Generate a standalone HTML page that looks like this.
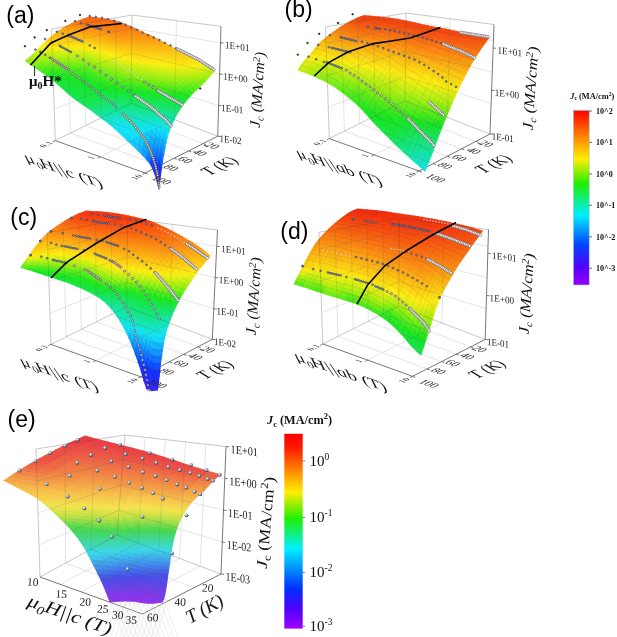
<!DOCTYPE html>
<html><head><meta charset="utf-8"><title>Jc surfaces</title>
<style>html,body{margin:0;padding:0;background:#fff}svg{display:block}</style></head>
<body><svg width="617" height="637" viewBox="0 0 617 637">
<rect width="617" height="637" fill="#fff"/>
<g opacity="1.00">
<line x1="54.2" y1="109.4" x2="131.3" y2="78.4" stroke="#d4d4d4" stroke-width="0.60"/>
<line x1="131.3" y1="78.4" x2="218.6" y2="105.4" stroke="#d4d4d4" stroke-width="0.60"/>
<line x1="53.2" y1="77.5" x2="131.6" y2="53.3" stroke="#d4d4d4" stroke-width="0.60"/>
<line x1="131.6" y1="53.3" x2="219.6" y2="74.1" stroke="#d4d4d4" stroke-width="0.60"/>
<line x1="52.1" y1="45.7" x2="131.8" y2="28.2" stroke="#d4d4d4" stroke-width="0.60"/>
<line x1="131.8" y1="28.2" x2="220.5" y2="42.8" stroke="#d4d4d4" stroke-width="0.60"/>
<line x1="70.4" y1="133.1" x2="67.6" y2="26.2" stroke="#d4d4d4" stroke-width="0.60"/>
<line x1="70.4" y1="133.1" x2="159.5" y2="165.6" stroke="#d4d4d4" stroke-width="0.60"/>
<line x1="85.6" y1="125.6" x2="83.7" y2="23.4" stroke="#d4d4d4" stroke-width="0.60"/>
<line x1="85.6" y1="125.6" x2="174.1" y2="158.3" stroke="#d4d4d4" stroke-width="0.60"/>
<line x1="100.7" y1="118.0" x2="99.8" y2="20.6" stroke="#d4d4d4" stroke-width="0.60"/>
<line x1="100.7" y1="118.0" x2="188.6" y2="150.9" stroke="#d4d4d4" stroke-width="0.60"/>
<line x1="115.9" y1="110.5" x2="115.9" y2="17.8" stroke="#d4d4d4" stroke-width="0.60"/>
<line x1="115.9" y1="110.5" x2="203.2" y2="143.6" stroke="#d4d4d4" stroke-width="0.60"/>
<line x1="174.3" y1="119.6" x2="176.5" y2="20.6" stroke="#d4d4d4" stroke-width="0.60"/>
<line x1="100.2" y1="156.8" x2="174.3" y2="119.6" stroke="#d4d4d4" stroke-width="0.60"/>
<line x1="55.3" y1="140.6" x2="51.5" y2="29.0" stroke="#b0b0b0" stroke-width="0.70"/>
<line x1="51.5" y1="29.0" x2="132.0" y2="15.0" stroke="#b0b0b0" stroke-width="0.70"/>
<line x1="132.0" y1="15.0" x2="221.0" y2="26.3" stroke="#b0b0b0" stroke-width="0.70"/>
<line x1="131.0" y1="103.0" x2="132.0" y2="15.0" stroke="#b0b0b0" stroke-width="0.70"/>
<line x1="55.3" y1="140.6" x2="131.0" y2="103.0" stroke="#b0b0b0" stroke-width="0.70"/>
<line x1="131.0" y1="103.0" x2="217.7" y2="136.2" stroke="#b0b0b0" stroke-width="0.70"/>
</g>
<line x1="55.3" y1="140.6" x2="145.0" y2="173.0" stroke="#555" stroke-width="0.80"/>
<line x1="145.0" y1="173.0" x2="217.7" y2="136.2" stroke="#555" stroke-width="0.80"/>
<line x1="217.7" y1="136.2" x2="221.0" y2="26.3" stroke="#555" stroke-width="0.80"/>
<g><path d="M24.7 61l6.1 4.3 2.3-2.4-6-3.9z" fill="#90ed15"/><path d="M30.1 64.8l6.2 4 2.2-2.7-6.1-3.7z" fill="#75ec18"/><path d="M35.6 68.3l6.1 4.1 2.1-3-6-3.7z" fill="#57ea1c"/><path d="M41 71.9l6.1 4.3 2-3.2-6-4z" fill="#36e820"/><path d="M46.4 75.7l5.9 4.5 2-3.5-5.9-4.2z" fill="#19e624"/><path d="M51.7 79.6l5.8 4.8 1.9-3.8-5.8-4.4z" fill="#19e632"/><path d="M56.8 83.8l5.6 5.1 1.9-4.1-5.6-4.7z" fill="#18e63b"/><path d="M61.8 88.3l5.6 5.2 1.8-4.3-5.6-4.9z" fill="#18e644"/><path d="M66.7 92.9l5.7 4.8 1.8-4.5-5.7-4.6z" fill="#18e64a"/><path d="M71.8 97.2l5.9 4.4 1.6-4.8-5.8-4.1z" fill="#18e64e"/><path d="M77 101l6 4.2 1.6-5-6-3.8z" fill="#18e651"/><path d="M82.3 104.7l6 4 1.5-5.2-5.9-3.7z" fill="#18e55b"/><path d="M87.6 108.2l5.9 4.4 1.4-5.4-5.8-4.2z" fill="#17e570"/><path d="M92.7 112l5.9 4.6 1.4-5.6-5.8-4.3z" fill="#17e58a"/><path d="M97.9 116l5.9 4.3 1.4-5.8-5.9-4z" fill="#16e5a5"/><path d="M103.1 119.8l5.8 4.3 1.3-6-5.8-4.1z" fill="#15e5c0"/><path d="M108.1 123.5l5.7 4.8 1.2-6.3-5.6-4.5z" fill="#15e4dc"/><path d="M113 127.7l5.6 5 1.2-6.5-5.5-4.8z" fill="#14e4f4"/><path d="M117.9 132.1l5.5 5.2 1.2-6.7-5.5-5z" fill="#14defa"/><path d="M122.7 136.6l5.5 5.3 1.2-6.9-5.5-5.1z" fill="#14d9fa"/><path d="M127.5 141.2l5.6 5.3 1.1-7.2-5.6-5z" fill="#14d4fa"/><path d="M132.3 145.8l5.5 5.2 1.1-7.4-5.5-5z" fill="#13c7fa"/><path d="M137.1 150.3l5.4 5.4 1-7.7-5.3-5.1z" fill="#13b3fa"/><path d="M141.8 155l5.2 5.6 1-8-5.2-5.3z" fill="#129bfa"/><path d="M146.2 159.7l4.7 6 1-8.2-4.7-5.7z" fill="#1173fa"/><path d="M150.2 164.7l3.9 7.7 1-8.6-3.9-7.4z" fill="#0f3ffa"/><path d="M153.4 171.2l3.3 9.9 1.1-8.8-3.2-9.6z" fill="#262bfa"/><path d="M156.2 180l2.9 10.9 1.1-8.9-2.9-10.6z" fill="#4022fa"/><path d="M26.4 59.6l6.1 3.9 2.3-2.4-6-3.6z" fill="#9bee14"/><path d="M31.8 63.1l6.1 3.7 2.3-2.7-6.1-3.4z" fill="#81ec17"/><path d="M37.2 66.3l6.1 3.8 2.2-2.9-6.1-3.5z" fill="#65eb1a"/><path d="M42.6 69.7l6 4 2.1-3.2-5.9-3.7z" fill="#44e91e"/><path d="M48 73.2l5.9 4.2 2-3.4-5.9-3.9z" fill="#25e722"/><path d="M53.2 76.9l5.8 4.5 1.9-3.6-5.7-4.3z" fill="#19e629"/><path d="M58.3 80.8l5.6 4.8 1.9-3.8-5.6-4.6z" fill="#19e632"/><path d="M63.3 85.1l5.5 4.9 1.9-4.1-5.5-4.7z" fill="#18e63a"/><path d="M68.1 89.4l5.7 4.6 1.8-4.3-5.6-4.3z" fill="#18e640"/><path d="M73.2 93.5l5.8 4.2 1.8-4.5-5.9-4z" fill="#18e643"/><path d="M78.3 97.2l6 3.9 1.7-4.7-6-3.7z" fill="#18e643"/><path d="M83.6 100.6l6 3.8 1.6-4.9-5.9-3.6z" fill="#18e649"/><path d="M88.8 103.9l5.9 4.1 1.6-5.1-5.8-3.9z" fill="#18e55c"/><path d="M94 107.5l5.8 4.3 1.5-5.3-5.8-4.1z" fill="#17e574"/><path d="M99.1 111.3l5.8 4.1 1.5-5.5-5.8-3.9z" fill="#17e58e"/><path d="M104.2 114.9l5.8 4.1 1.4-5.7-5.7-3.9z" fill="#16e5a8"/><path d="M109.2 118.4l5.6 4.6 1.4-5.9-5.5-4.3z" fill="#15e5c4"/><path d="M114.1 122.4l5.5 4.8 1.4-6.1-5.5-4.6z" fill="#15e4e1"/><path d="M118.9 126.5l5.5 5 1.3-6.3-5.4-4.8z" fill="#14e4f2"/><path d="M123.7 130.9l5.5 5 1.3-6.5-5.5-4.8z" fill="#14e4f8"/><path d="M128.5 135.3l5.5 4.9 1.2-6.7-5.5-4.7z" fill="#14e1fa"/><path d="M133.3 139.6l5.4 5 1.2-7-5.4-4.7z" fill="#14d7fa"/><path d="M138 143.9l5.4 5.2 1.1-7.2-5.3-4.9z" fill="#13c3fa"/><path d="M142.7 148.3l5.1 5.4 1.1-7.4-5.1-5.1z" fill="#12abfa"/><path d="M147.1 152.9l4.6 5.7 1.1-7.7-4.6-5.4z" fill="#128ffa"/><path d="M151 157.7l3.9 7.4 1.1-8.1-3.8-7.2z" fill="#1067fa"/><path d="M154.2 163.9l3.3 9.7 1.3-8.4-3.3-9.4z" fill="#0f39fa"/><path d="M157 172.4l2.9 10.7 1.3-8.5-2.9-10.4z" fill="#282afa"/><path d="M28.1 58.1l6.1 3.7 2.3-2.4-6-3.5z" fill="#a5ee14"/><path d="M33.5 61.3l6.1 3.5 2.3-2.7-6.1-3.2z" fill="#8fed15"/><path d="M38.9 64.4l6.1 3.5 2.2-2.9-6.1-3.3z" fill="#73ec19"/><path d="M44.3 67.5l6 3.7 2.1-3.1-6-3.5z" fill="#54ea1c"/><path d="M49.6 70.8l5.8 3.9 2.1-3.3-5.8-3.7z" fill="#36e820"/><path d="M54.8 74.3l5.7 4.2 2-3.6-5.7-4z" fill="#21e622"/><path d="M59.8 78l5.6 4.5 2-3.8-5.6-4.3z" fill="#19e627"/><path d="M64.8 82l5.5 4.7 1.9-4-5.5-4.5z" fill="#19e630"/><path d="M69.6 86.1l5.7 4.4 1.8-4.2-5.6-4.2z" fill="#19e637"/><path d="M74.6 90l5.9 4 1.7-4.5-5.8-3.7z" fill="#18e63a"/><path d="M79.7 93.5l6 3.7 1.7-4.6-5.9-3.5z" fill="#18e63a"/><path d="M85 96.7l5.9 3.6 1.7-4.8-5.9-3.3z" fill="#18e63f"/><path d="M90.2 99.8l5.8 4 1.6-5-5.7-3.7z" fill="#18e64d"/><path d="M95.3 103.3l5.8 4.1 1.6-5.2-5.8-3.9z" fill="#18e562"/><path d="M100.3 106.9l5.9 3.8 1.5-5.3-5.8-3.6z" fill="#17e578"/><path d="M105.5 110.3l5.7 3.9 1.5-5.5-5.7-3.8z" fill="#16e58f"/><path d="M110.4 113.6l5.6 4.4 1.5-5.7-5.6-4.1z" fill="#16e5a8"/><path d="M115.3 117.4l5.5 4.6 1.4-5.9-5.5-4.4z" fill="#15e4c4"/><path d="M120.1 121.4l5.4 4.8 1.4-6.2-5.4-4.5z" fill="#15e4da"/><path d="M124.8 125.5l5.5 4.9 1.3-6.4-5.4-4.6z" fill="#14e4e6"/><path d="M129.5 129.7l5.5 4.8 1.3-6.5-5.4-4.6z" fill="#14e4ef"/><path d="M134.3 133.8l5.5 4.8 1.2-6.7-5.4-4.5z" fill="#14e2fa"/><path d="M139 138l5.4 4.9 1.2-6.9-5.3-4.7z" fill="#13d0fa"/><path d="M143.6 142.2l5.2 5.1 1.2-7.1-5.1-4.9z" fill="#13b6fa"/><path d="M148.1 146.6l4.6 5.4 1.1-7.4-4.6-5.2z" fill="#129efa"/><path d="M151.9 151.1l3.9 7.2 1.2-7.8-3.8-7z" fill="#1184fa"/><path d="M155.2 157.1l3.3 9.4 1.3-8.1-3.3-9.1z" fill="#1060fa"/><path d="M157.9 165.3l2.9 10.4 1.4-8.2-2.9-10.2z" fill="#0f32fa"/><path d="M29.9 56.5l6 3.5 2.4-2.5-6-3.2z" fill="#afee14"/><path d="M35.2 59.6l6.1 3.2 2.3-2.7-6.1-3z" fill="#9dee14"/><path d="M40.6 62.4l6 3.3 2.2-2.9-6-3.1z" fill="#84ed17"/><path d="M45.9 65.3l6 3.5 2.1-3.1-5.9-3.3z" fill="#67eb1a"/><path d="M51.2 68.4l5.8 3.7 2.1-3.3-5.8-3.5z" fill="#4ae91d"/><path d="M56.3 71.6l5.8 4.1 2-3.6-5.7-3.8z" fill="#35e820"/><path d="M61.4 75.2l5.6 4.3 1.9-3.8-5.5-4.1z" fill="#24e722"/><path d="M66.3 78.9l5.5 4.5 1.9-3.9-5.4-4.3z" fill="#19e626"/><path d="M71.1 82.9l5.7 4.2 1.8-4.2-5.6-3.9z" fill="#19e62e"/><path d="M76.1 86.6l5.8 3.7 1.8-4.3-5.8-3.5z" fill="#19e633"/><path d="M81.2 89.9l5.9 3.5 1.8-4.5-5.9-3.3z" fill="#19e634"/><path d="M86.4 92.9l5.9 3.4 1.7-4.6-5.9-3.2z" fill="#19e637"/><path d="M91.6 95.9l5.7 3.7 1.7-4.8-5.7-3.5z" fill="#18e641"/><path d="M96.6 99.2l5.8 3.9 1.6-5-5.7-3.7z" fill="#18e651"/><path d="M101.7 102.6l5.8 3.7 1.5-5.2-5.7-3.5z" fill="#18e563"/><path d="M106.7 105.8l5.7 3.7 1.5-5.3-5.6-3.5z" fill="#17e577"/><path d="M111.7 109l5.5 4.1 1.5-5.5-5.5-3.9z" fill="#17e58c"/><path d="M116.5 112.6l5.5 4.4 1.4-5.7-5.4-4.2z" fill="#16e5a4"/><path d="M121.2 116.4l5.5 4.6 1.4-5.9-5.4-4.4z" fill="#15e5bb"/><path d="M125.9 120.4l5.5 4.6 1.4-6.1-5.4-4.4z" fill="#15e4cd"/><path d="M130.7 124.4l5.4 4.5 1.4-6.2-5.5-4.4z" fill="#15e4db"/><path d="M135.4 128.3l5.4 4.6 1.3-6.5-5.4-4.3z" fill="#14e4ea"/><path d="M140.1 132.2l5.3 4.7 1.3-6.6-5.3-4.5z" fill="#14e0fa"/><path d="M144.7 136.3l5.1 4.9 1.2-6.8-5.1-4.7z" fill="#13c8fa"/><path d="M149.1 140.5l4.5 5.2 1.3-7.1-4.6-5z" fill="#12aefa"/><path d="M152.9 144.8l3.9 7 1.3-7.5-3.9-6.7z" fill="#129afa"/><path d="M156.2 150.6l3.2 9.1 1.4-7.8-3.3-8.8z" fill="#1180fa"/><path d="M158.9 158.5l2.9 10.2 1.4-8-2.9-9.9z" fill="#1059fa"/><path d="M31.6 54.9l6.1 3.3 2.3-2.6-6-2.9z" fill="#baee14"/><path d="M36.9 57.8l6.1 3 2.3-2.8-6.1-2.7z" fill="#a9ee14"/><path d="M42.2 60.4l6.1 3.1 2.2-2.9-6-2.9z" fill="#95ee15"/><path d="M47.6 63.1l5.9 3.3 2.2-3.2-6-3z" fill="#7bec18"/><path d="M52.8 66l5.9 3.5 2-3.3-5.8-3.4z" fill="#61ea1b"/><path d="M58 69l5.7 3.8 2-3.5-5.7-3.6z" fill="#4be91d"/><path d="M63 72.4l5.5 4.1 2-3.8-5.5-3.9z" fill="#37e820"/><path d="M67.9 76l5.4 4.2 2-3.9-5.5-4.1z" fill="#25e722"/><path d="M72.7 79.7l5.6 4 1.9-4.1-5.6-3.8z" fill="#19e625"/><path d="M77.6 83.2l5.8 3.6 1.8-4.2-5.8-3.4z" fill="#19e62b"/><path d="M82.6 86.4l5.9 3.3 1.8-4.4-5.8-3.2z" fill="#19e62e"/><path d="M87.8 89.3l5.9 3.2 1.7-4.6-5.8-3z" fill="#19e630"/><path d="M93 92.1l5.7 3.5 1.7-4.7-5.7-3.4z" fill="#19e636"/><path d="M98 95.2l5.7 3.7 1.7-4.9-5.7-3.5z" fill="#18e642"/><path d="M103 98.4l5.8 3.5 1.6-5-5.8-3.3z" fill="#18e650"/><path d="M108 101.5l5.7 3.6 1.5-5.2-5.6-3.4z" fill="#18e560"/><path d="M113 104.6l5.5 3.9 1.5-5.3-5.5-3.8z" fill="#17e572"/><path d="M117.7 108l5.5 4.2 1.5-5.5-5.4-4.1z" fill="#17e587"/><path d="M122.5 111.6l5.3 4.4 1.5-5.7-5.4-4.2z" fill="#16e59d"/><path d="M127.1 115.4l5.4 4.4 1.5-5.9-5.4-4.2z" fill="#16e5b0"/><path d="M131.8 119.2l5.5 4.4 1.3-6.1-5.4-4.1z" fill="#15e5c1"/><path d="M136.5 123l5.4 4.4 1.4-6.3-5.4-4.1z" fill="#15e4d2"/><path d="M141.2 126.8l5.3 4.5 1.3-6.4-5.3-4.4z" fill="#14e4e7"/><path d="M145.8 130.6l5 4.7 1.3-6.6-5-4.5z" fill="#14defa"/><path d="M150.1 134.6l4.6 5.1 1.3-6.9-4.6-4.8z" fill="#13c8fa"/><path d="M154 138.8l3.8 6.8 1.3-7.3-3.8-6.5z" fill="#13b2fa"/><path d="M157.2 144.4l3.3 8.8 1.4-7.5-3.3-8.6z" fill="#129bfa"/><path d="M159.9 152l2.9 9.9 1.5-7.8-2.9-9.6z" fill="#117bfa"/><path d="M33.4 53.3l6 3 2.3-2.6-5.9-2.7z" fill="#c6ee14"/><path d="M38.6 55.9l6.1 2.8 2.3-2.7-6.1-2.6z" fill="#b7ee14"/><path d="M43.9 58.4l6.1 2.8 2.2-2.9-6-2.7z" fill="#a6ee14"/><path d="M49.2 60.9l6 3 2.1-3.1-5.9-2.9z" fill="#91ed15"/><path d="M54.4 63.5l5.9 3.4 2.1-3.3-5.8-3.2z" fill="#78ec18"/><path d="M59.6 66.4l5.7 3.6 2-3.5-5.7-3.4z" fill="#61ea1b"/><path d="M64.6 69.6l5.5 3.9 2-3.7-5.5-3.7z" fill="#4ce91d"/><path d="M69.4 73l5.5 4.1 1.9-3.9-5.4-3.9z" fill="#37e820"/><path d="M74.2 76.6l5.6 3.8 1.9-4-5.6-3.7z" fill="#25e722"/><path d="M79.1 79.9l5.8 3.4 1.8-4.1-5.7-3.3z" fill="#19e624"/><path d="M84.1 82.9l5.9 3.2 1.8-4.4-5.8-2.9z" fill="#19e627"/><path d="M89.3 85.7l5.8 3 1.8-4.5-5.8-2.8z" fill="#19e627"/><path d="M94.4 88.3l5.7 3.4 1.7-4.6-5.6-3.3z" fill="#19e62b"/><path d="M99.4 91.3l5.7 3.5 1.7-4.7-5.7-3.4z" fill="#19e633"/><path d="M104.4 94.4l5.7 3.3 1.6-4.9-5.7-3.2z" fill="#18e63e"/><path d="M109.4 97.3l5.6 3.4 1.6-5-5.6-3.3z" fill="#18e64b"/><path d="M114.2 100.2l5.5 3.8 1.6-5.2-5.4-3.6z" fill="#18e55a"/><path d="M119 103.5l5.4 4 1.6-5.3-5.4-3.9z" fill="#17e56c"/><path d="M123.7 107l5.4 4.2 1.5-5.6-5.4-4z" fill="#17e580"/><path d="M128.3 110.6l5.4 4.2 1.5-5.7-5.3-4z" fill="#16e593"/><path d="M133 114.3l5.4 4.1 1.5-5.8-5.4-4z" fill="#16e5a5"/><path d="M137.7 117.9l5.4 4.1 1.4-6-5.4-4z" fill="#16e5b7"/><path d="M142.3 121.5l5.3 4.3 1.4-6.2-5.3-4.1z" fill="#15e4cb"/><path d="M146.9 125.2l5 4.5 1.4-6.4-5-4.3z" fill="#15e4e4"/><path d="M151.2 129l4.5 4.9 1.4-6.6-4.5-4.7z" fill="#14e2fa"/><path d="M155.1 133.1l3.8 6.4 1.4-7-3.9-6.2z" fill="#13cefa"/><path d="M158.3 138.4l3.2 8.6 1.5-7.4-3.3-8.2z" fill="#13b7fa"/><path d="M161 145.7l2.9 9.7 1.6-7.6-3-9.4z" fill="#1299fa"/><path d="M35.1 51.6l6 2.8 2.4-2.6-6-2.6z" fill="#d3ee14"/><path d="M40.3 54l6.1 2.6 2.3-2.8-6-2.4z" fill="#c5ee14"/><path d="M45.6 56.3l6.1 2.7 2.2-3-6-2.5z" fill="#b6ee14"/><path d="M50.9 58.6l5.9 2.9 2.2-3.1-5.9-2.7z" fill="#a4ee14"/><path d="M56.1 61.1l5.8 3.2 2.2-3.3-5.8-3z" fill="#90ed15"/><path d="M61.2 63.8l5.7 3.5 2.1-3.5-5.7-3.2z" fill="#79ec18"/><path d="M66.2 66.8l5.5 3.7 2-3.6-5.4-3.5z" fill="#61ea1b"/><path d="M71 70.1l5.4 3.9 2.1-3.8-5.5-3.7z" fill="#4be91d"/><path d="M75.8 73.5l5.5 3.6 2-3.9-5.5-3.5z" fill="#36e820"/><path d="M80.6 76.7l5.8 3.2 1.9-4-5.7-3.1z" fill="#26e722"/><path d="M85.6 79.5l5.9 3 1.9-4.1-5.9-2.9z" fill="#21e622"/><path d="M90.7 82.1l5.9 2.9 1.8-4.2-5.8-2.8z" fill="#23e722"/><path d="M95.8 84.6l5.7 3.3 1.8-4.4-5.6-3.1z" fill="#20e622"/><path d="M100.8 87.4l5.7 3.5 1.8-4.6-5.7-3.2z" fill="#19e624"/><path d="M105.7 90.4l5.8 3.2 1.7-4.6-5.7-3.1z" fill="#19e62c"/><path d="M110.7 93.2l5.6 3.3 1.7-4.8-5.5-3.1z" fill="#19e636"/><path d="M115.6 96l5.4 3.6 1.7-4.8-5.4-3.5z" fill="#18e643"/><path d="M120.3 99.2l5.4 3.8 1.6-5-5.3-3.7z" fill="#18e654"/><path d="M125 102.5l5.3 4 1.6-5.2-5.3-3.8z" fill="#17e566"/><path d="M129.6 106l5.4 4 1.5-5.3-5.3-3.9z" fill="#17e578"/><path d="M134.3 109.5l5.3 4 1.6-5.5-5.4-3.8z" fill="#17e589"/><path d="M138.9 112.9l5.3 4 1.6-5.5-5.3-3.9z" fill="#16e59a"/><path d="M143.5 116.4l5.3 4.1 1.4-5.7-5.2-4z" fill="#16e5ac"/><path d="M148 119.9l5.1 4.4 1.4-5.9-5-4.2z" fill="#15e5c2"/><path d="M152.4 123.6l4.5 4.7 1.4-6.1-4.5-4.5z" fill="#15e4da"/><path d="M156.2 127.5l3.8 6.2 1.5-6.5-3.8-5.9z" fill="#14e4f3"/><path d="M159.4 132.6l3.3 8.3 1.5-6.8-3.2-8z" fill="#13d2fa"/><path d="M162.1 139.7l3 9.4 1.6-7.1-2.9-9.1z" fill="#13b6fa"/><path d="M36.9 49.8l6 2.6 2.4-2.6-6-2.4z" fill="#e1ee14"/><path d="M42.1 52.1l6.1 2.4 2.3-2.7-6-2.3z" fill="#d4ee14"/><path d="M47.4 54.2l6 2.5 2.3-2.9-6-2.4z" fill="#c6ee14"/><path d="M52.6 56.4l5.9 2.7 2.3-3.1-5.9-2.5z" fill="#b6ee14"/><path d="M57.8 58.7l5.8 3 2.2-3.2-5.8-2.8z" fill="#a5ee14"/><path d="M62.8 61.3l5.7 3.2 2.2-3.3-5.7-3.1z" fill="#90ed15"/><path d="M67.8 64.1l5.5 3.6 2.1-3.5-5.4-3.4z" fill="#78ec18"/><path d="M72.6 67.2l5.5 3.7 2-3.6-5.4-3.6z" fill="#5fea1b"/><path d="M77.4 70.5l5.5 3.5 2.1-3.8-5.6-3.3z" fill="#49e91d"/><path d="M82.2 73.5l5.7 3.2 2-3.9-5.7-3z" fill="#39e81f"/><path d="M87.2 76.3l5.8 2.8 2-3.9-5.8-2.8z" fill="#34e820"/><path d="M92.2 78.8l5.9 2.7 1.9-4-5.8-2.7z" fill="#36e820"/><path d="M97.3 81.2l5.7 3.1 1.9-4.2-5.6-3z" fill="#34e820"/><path d="M102.3 83.9l5.6 3.2 1.9-4.2-5.6-3.2z" fill="#2de721"/><path d="M107.2 86.7l5.7 3.1 1.8-4.4-5.6-2.9z" fill="#24e722"/><path d="M112.1 89.4l5.6 3.1 1.8-4.4-5.5-3.1z" fill="#19e624"/><path d="M117 92.1l5.4 3.5 1.8-4.6-5.4-3.3z" fill="#19e62f"/><path d="M121.7 95.1l5.3 3.7 1.8-4.7-5.3-3.6z" fill="#18e63d"/><path d="M126.3 98.3l5.3 3.9 1.8-4.8-5.3-3.8z" fill="#18e64e"/><path d="M130.9 101.7l5.4 3.9 1.7-5-5.3-3.7z" fill="#18e55f"/><path d="M135.6 105l5.3 3.9 1.7-5.1-5.4-3.7z" fill="#17e56f"/><path d="M140.2 108.4l5.3 3.8 1.6-5.2-5.2-3.7z" fill="#17e57e"/><path d="M144.8 111.7l5.2 4 1.6-5.3-5.2-3.9z" fill="#17e58e"/><path d="M149.3 115.1l5 4.2 1.6-5.5-5-4z" fill="#16e5a1"/><path d="M153.6 118.7l4.5 4.4 1.6-5.6-4.5-4.3z" fill="#16e5b7"/><path d="M157.4 122.4l3.8 6 1.6-6-3.8-5.8z" fill="#15e4d1"/><path d="M160.6 127.4l3.3 8 1.7-6.4-3.3-7.8z" fill="#14e4f0"/><path d="M163.4 134.2l2.9 9.1 1.7-6.7-2.9-8.8z" fill="#13d0fa"/><path d="M38.7 48l6 2.5 2.5-2.7-6-2.2z" fill="#f0ee14"/><path d="M43.8 50.2l6.1 2.2 2.5-2.8-6.1-2.1z" fill="#e4ee14"/><path d="M49.1 52.1l6 2.4 2.4-2.9-6-2.3z" fill="#d7ee14"/><path d="M54.3 54.1l6 2.6 2.3-3-5.9-2.4z" fill="#c8ee14"/><path d="M59.5 56.4l5.8 2.8 2.3-3.2-5.8-2.7z" fill="#b7ee14"/><path d="M64.5 58.8l5.7 3.1 2.3-3.3-5.7-2.9z" fill="#a5ee14"/><path d="M69.5 61.5l5.5 3.4 2.2-3.4-5.5-3.3z" fill="#8eed15"/><path d="M74.3 64.5l5.4 3.6 2.2-3.6-5.4-3.5z" fill="#75ec18"/><path d="M79 67.6l5.6 3.4 2.1-3.7-5.5-3.2z" fill="#60ea1b"/><path d="M83.8 70.6l5.7 2.9 2.1-3.7-5.6-2.9z" fill="#51e91c"/><path d="M88.8 73.2l5.8 2.7 2.1-3.8-5.8-2.7z" fill="#4ce91d"/><path d="M93.8 75.6l5.8 2.6 2.1-3.9-5.8-2.6z" fill="#4ce91d"/><path d="M98.9 77.9l5.6 3 2.1-4.1-5.7-2.8z" fill="#4ae91d"/><path d="M103.8 80.5l5.6 3.1 2-4.1-5.6-3z" fill="#44e91e"/><path d="M108.7 83.2l5.7 3 1.9-4.2-5.6-2.9z" fill="#3be81f"/><path d="M113.6 85.8l5.6 3.1 1.9-4.3-5.5-3z" fill="#32e820"/><path d="M118.4 88.4l5.5 3.4 1.8-4.4-5.3-3.2z" fill="#24e722"/><path d="M123.1 91.3l5.4 3.6 1.8-4.4-5.3-3.5z" fill="#19e629"/><path d="M127.8 94.4l5.3 3.8 1.8-4.6-5.3-3.6z" fill="#19e638"/><path d="M132.3 97.7l5.4 3.7 1.8-4.7-5.3-3.6z" fill="#18e647"/><path d="M137 100.9l5.3 3.7 1.8-4.8-5.3-3.5z" fill="#18e656"/><path d="M141.6 104.1l5.3 3.8 1.7-5-5.2-3.6z" fill="#17e565"/><path d="M146.1 107.3l5.2 3.9 1.8-5-5.2-3.8z" fill="#17e574"/><path d="M150.6 110.7l5 4 1.7-5.2-4.9-3.9z" fill="#17e584"/><path d="M154.9 114.1l4.5 4.3 1.7-5.3-4.4-4.2z" fill="#16e598"/><path d="M158.7 117.7l3.8 5.7 1.8-5.6-3.8-5.5z" fill="#16e5b1"/><path d="M161.9 122.5l3.3 7.8 1.8-6.1-3.3-7.5z" fill="#15e4d1"/><path d="M164.7 129l2.9 8.9 1.9-6.4-2.9-8.5z" fill="#14e4f6"/><path d="M40.5 46.2l6 2.3 2.6-2.7-6-2.2z" fill="#fcec14"/><path d="M45.7 48.2l6.1 2.1 2.5-2.8-6.1-2z" fill="#f5ee14"/><path d="M50.9 50l6.1 2.3 2.5-3-6.1-2.1z" fill="#e9ee14"/><path d="M56.1 51.9l6 2.5 2.4-3-5.9-2.4z" fill="#dbee14"/><path d="M61.3 54l5.8 2.7 2.4-3.1-5.8-2.6z" fill="#caee14"/><path d="M66.3 56.3l5.7 3 2.4-3.2-5.7-2.8z" fill="#b7ee14"/><path d="M71.2 58.9l5.5 3.3 2.4-3.3-5.5-3.2z" fill="#a3ee14"/><path d="M76 61.7l5.4 3.5 2.4-3.4-5.4-3.3z" fill="#8ced16"/><path d="M80.7 64.8l5.6 3.2 2.3-3.4-5.6-3.2z" fill="#77ec18"/><path d="M85.5 67.6l5.7 2.9 2.3-3.5-5.7-2.8z" fill="#6beb1a"/><path d="M90.5 70.2l5.8 2.6 2.2-3.6-5.8-2.6z" fill="#66eb1a"/><path d="M95.5 72.5l5.8 2.5 2.2-3.6-5.8-2.5z" fill="#65eb1a"/><path d="M100.5 74.7l5.7 2.9 2.2-3.7-5.7-2.9z" fill="#62ea1b"/><path d="M105.4 77.2l5.6 3.1 2.2-3.8-5.6-3z" fill="#5bea1b"/><path d="M110.3 79.9l5.6 2.9 2.2-3.9-5.6-2.8z" fill="#52ea1c"/><path d="M115.2 82.4l5.5 3 2.1-3.9-5.5-3z" fill="#49e91d"/><path d="M120 84.9l5.4 3.3 2.1-4-5.4-3.2z" fill="#3de81f"/><path d="M124.7 87.7l5.3 3.5 2-4-5.2-3.4z" fill="#2ce721"/><path d="M129.3 90.8l5.2 3.6 2.1-4.2-5.3-3.5z" fill="#19e624"/><path d="M133.8 93.9l5.3 3.6 2.1-4.2-5.3-3.5z" fill="#19e632"/><path d="M138.4 97l5.3 3.6 2-4.3-5.2-3.5z" fill="#18e640"/><path d="M143 100.1l5.3 3.6 2-4.3-5.3-3.5z" fill="#18e64e"/><path d="M147.6 103.3l5.2 3.7 1.9-4.5-5.1-3.6z" fill="#18e55c"/><path d="M152.1 106.5l4.9 3.8 2-4.5-5-3.8z" fill="#17e56c"/><path d="M156.3 109.8l4.5 4.1 1.9-4.7-4.4-4z" fill="#17e57e"/><path d="M160.1 113.3l3.8 5.5 2-5-3.8-5.3z" fill="#16e595"/><path d="M163.3 117.9l3.3 7.4 2.1-5.3-3.3-7.2z" fill="#16e5b4"/><path d="M166.1 124.2l3 8.6 2.1-5.8-3-8.2z" fill="#15e4d9"/><path d="M42.5 44.3l6 2.2 2.7-2.8-6-2z" fill="#fce214"/><path d="M47.6 46.2l6.1 2 2.6-2.9-6-1.9z" fill="#fce814"/><path d="M52.8 47.9l6.1 2.1 2.6-2.9-6-2z" fill="#fcee14"/><path d="M58 49.7l6 2.3 2.5-3-5.9-2.2z" fill="#eeee14"/><path d="M63.2 51.7l5.8 2.6 2.5-3.1-5.8-2.5z" fill="#ddee14"/><path d="M68.2 53.9l5.6 2.9 2.6-3.2-5.7-2.7z" fill="#caee14"/><path d="M73.1 56.4l5.5 3.2 2.5-3.3-5.5-3.1z" fill="#b5ee14"/><path d="M77.9 59.1l5.4 3.4 2.4-3.3-5.4-3.3z" fill="#a1ee14"/><path d="M82.6 62.1l5.5 3.1 2.4-3.3-5.5-3.1z" fill="#8fed15"/><path d="M87.3 64.8l5.7 2.9 2.4-3.5-5.6-2.7z" fill="#85ed17"/><path d="M92.2 67.3l5.8 2.6 2.4-3.5-5.7-2.5z" fill="#81ec17"/><path d="M97.3 69.6l5.7 2.5 2.4-3.5-5.7-2.5z" fill="#7eec17"/><path d="M102.3 71.7l5.6 2.9 2.4-3.6-5.7-2.8z" fill="#7aec18"/><path d="M107.2 74.2l5.6 3 2.3-3.6-5.6-3z" fill="#72eb19"/><path d="M112 76.8l5.7 2.9 2.3-3.7-5.7-2.8z" fill="#69eb1a"/><path d="M116.9 79.3l5.5 2.9 2.3-3.7-5.5-2.9z" fill="#60ea1b"/><path d="M121.7 81.8l5.4 3.2 2.2-3.8-5.3-3.1z" fill="#55ea1c"/><path d="M126.3 84.5l5.3 3.4 2.3-3.8-5.3-3.3z" fill="#45e91e"/><path d="M130.9 87.5l5.3 3.5 2.2-3.9-5.2-3.4z" fill="#33e820"/><path d="M135.5 90.5l5.3 3.6 2.2-4-5.3-3.5z" fill="#1fe622"/><path d="M140.1 93.6l5.3 3.5 2.1-4-5.2-3.4z" fill="#19e62c"/><path d="M144.7 96.6l5.2 3.5 2.2-4-5.3-3.5z" fill="#18e639"/><path d="M149.2 99.6l5.1 3.7 2.2-4.2-5.1-3.5z" fill="#18e647"/><path d="M153.7 102.8l4.9 3.7 2.1-4.2-4.9-3.7z" fill="#18e656"/><path d="M157.9 106l4.5 4 2.1-4.3-4.4-3.9z" fill="#17e567"/><path d="M161.7 109.4l3.8 5.3 2.1-4.6-3.7-5.1z" fill="#17e57c"/><path d="M164.9 113.8l3.3 7.2 2.2-4.9-3.2-6.9z" fill="#16e599"/><path d="M167.7 120l3 8.2 2.3-5.3-3-7.9z" fill="#15e5be"/><path d="M44.5 42.3l6 2.1 2.9-2.9-6.1-1.9z" fill="#fcd714"/><path d="M49.6 44.1l6.1 1.9 2.8-2.9-6-1.8z" fill="#fcdc14"/><path d="M54.8 45.7l6.1 2.1 2.8-3-6.1-2z" fill="#fce314"/><path d="M60 47.5l6 2.2 2.7-3.1-5.9-2.1z" fill="#fceb14"/><path d="M65.1 49.4l5.8 2.5 2.8-3.1-5.8-2.5z" fill="#f1ee14"/><path d="M70.1 51.5l5.7 2.8 2.7-3.2-5.6-2.7z" fill="#ddee14"/><path d="M75.1 53.9l5.5 3.1 2.6-3.3-5.5-3z" fill="#c9ee14"/><path d="M79.8 56.6l5.4 3.3 2.7-3.4-5.4-3.2z" fill="#b5ee14"/><path d="M84.5 59.4l5.5 3.1 2.7-3.4-5.6-3z" fill="#a7ee14"/><path d="M89.3 62.1l5.6 2.8 2.7-3.4-5.7-2.8z" fill="#a0ee14"/><path d="M94.2 64.6l5.7 2.5 2.6-3.4-5.7-2.6z" fill="#9cee14"/><path d="M99.2 66.8l5.7 2.5 2.6-3.5-5.7-2.5z" fill="#99ee14"/><path d="M104.2 68.9l5.6 2.8 2.5-3.5-5.6-2.8z" fill="#94ee15"/><path d="M109 71.3l5.6 3 2.6-3.6-5.6-2.9z" fill="#8bed16"/><path d="M113.9 73.9l5.6 2.8 2.5-3.6-5.6-2.8z" fill="#81ec17"/><path d="M118.7 76.3l5.5 2.9 2.5-3.6-5.5-2.9z" fill="#78ec18"/><path d="M123.5 78.8l5.4 3.1 2.4-3.6-5.3-3.1z" fill="#6deb19"/><path d="M128.1 81.5l5.3 3.3 2.5-3.7-5.3-3.3z" fill="#5fea1b"/><path d="M132.7 84.4l5.3 3.4 2.4-3.7-5.2-3.4z" fill="#4de91d"/><path d="M137.3 87.4l5.2 3.4 2.5-3.8-5.3-3.4z" fill="#3ae81f"/><path d="M141.8 90.4l5.3 3.4 2.4-3.9-5.3-3.3z" fill="#28e721"/><path d="M146.4 93.3l5.2 3.5 2.4-4-5.2-3.3z" fill="#19e626"/><path d="M150.9 96.3l5.2 3.6 2.3-4.1-5.1-3.4z" fill="#19e633"/><path d="M155.4 99.4l4.9 3.7 2.4-4.1-4.9-3.6z" fill="#18e642"/><path d="M159.7 102.5l4.4 3.9 2.3-4.1-4.4-3.9z" fill="#18e651"/><path d="M163.5 105.8l3.7 5.1 2.4-4.4-3.8-4.9z" fill="#17e565"/><path d="M166.7 110.1l3.3 6.9 2.4-4.7-3.3-6.6z" fill="#17e581"/><path d="M169.5 116l3 7.9 2.5-5.1-3-7.6z" fill="#16e5a4"/><path d="M46.6 40.2l6.1 2 3-2.9-6-1.8z" fill="#fccc14"/><path d="M51.8 41.9l6.1 1.9 3-3-6.1-1.7z" fill="#fcd014"/><path d="M57 43.5l6 2 3-3.1-6-1.8z" fill="#fcd814"/><path d="M62.1 45.1l6 2.2 3-3.1-6-2.1z" fill="#fce014"/><path d="M67.3 47l5.8 2.4 2.9-3.1-5.8-2.4z" fill="#fce914"/><path d="M72.3 49.1l5.6 2.7 2.9-3.2-5.6-2.7z" fill="#f1ee14"/><path d="M77.2 51.4l5.5 3 2.8-3.3-5.4-2.9z" fill="#ddee14"/><path d="M81.9 54l5.4 3.2 2.9-3.4-5.4-3.1z" fill="#cbee14"/><path d="M86.6 56.7l5.5 3.1 2.9-3.4-5.6-3z" fill="#bfee14"/><path d="M91.4 59.4l5.6 2.8 2.8-3.5-5.6-2.7z" fill="#b8ee14"/><path d="M96.2 61.8l5.8 2.5 2.8-3.4-5.7-2.6z" fill="#b4ee14"/><path d="M101.2 64l5.8 2.4 2.8-3.4-5.8-2.5z" fill="#b1ee14"/><path d="M106.2 66.1l5.6 2.7 2.8-3.5-5.6-2.7z" fill="#abee14"/><path d="M111.1 68.4l5.6 3 2.7-3.6-5.6-2.9z" fill="#a3ee14"/><path d="M115.9 71l5.6 2.8 2.7-3.6-5.6-2.8z" fill="#9aee14"/><path d="M120.7 73.4l5.5 2.9 2.7-3.6-5.4-2.9z" fill="#92ed15"/><path d="M125.5 75.9l5.3 3.1 2.7-3.6-5.3-3.1z" fill="#87ed16"/><path d="M130.1 78.5l5.3 3.3 2.7-3.6-5.3-3.3z" fill="#79ec18"/><path d="M134.7 81.4l5.2 3.4 2.7-3.8-5.3-3.3z" fill="#68eb1a"/><path d="M139.2 84.3l5.3 3.4 2.6-3.8-5.2-3.3z" fill="#55ea1c"/><path d="M143.8 87.3l5.3 3.3 2.6-3.8-5.3-3.3z" fill="#43e91e"/><path d="M148.4 90.2l5.2 3.3 2.6-3.8-5.2-3.4z" fill="#31e720"/><path d="M152.9 93.1l5.1 3.5 2.6-4-5.1-3.4z" fill="#1ee622"/><path d="M157.3 96.1l4.9 3.6 2.6-4-4.9-3.6z" fill="#19e62e"/><path d="M161.6 99.2l4.4 3.8 2.5-4.1-4.4-3.7z" fill="#18e63d"/><path d="M165.4 102.4l3.7 4.9 2.6-4.3-3.7-4.8z" fill="#18e64f"/><path d="M168.6 106.6l3.3 6.6 2.6-4.7-3.3-6.3z" fill="#17e569"/><path d="M171.5 112.2l2.9 7.6 2.7-5.1-3-7.2z" fill="#17e58a"/><path d="M48.9 38.1l6.1 1.9 3.3-2.8-6.1-1.8z" fill="#fcc314"/><path d="M54.1 39.7l6.1 1.8 3.2-2.9-6.1-1.7z" fill="#fcc714"/><path d="M59.3 41.2l6 1.9 3.2-3-6-1.8z" fill="#fccf14"/><path d="M64.4 42.8l6 2.1 3.2-3.1-6-2z" fill="#fcd614"/><path d="M69.6 44.6l5.8 2.3 3.1-3.1-5.8-2.3z" fill="#fcde14"/><path d="M74.6 46.6l5.6 2.6 3.1-3.2-5.7-2.5z" fill="#fce914"/><path d="M79.5 48.8l5.5 2.9 3-3.2-5.5-2.9z" fill="#f2ee14"/><path d="M84.2 51.3l5.4 3.2 3-3.3-5.4-3.1z" fill="#e2ee14"/><path d="M88.9 54l5.5 3 3-3.3-5.5-3z" fill="#d9ee14"/><path d="M93.6 56.7l5.7 2.7 3-3.4-5.7-2.7z" fill="#d2ee14"/><path d="M98.5 59l5.8 2.5 2.9-3.4-5.7-2.5z" fill="#ceee14"/><path d="M103.4 61.2l5.8 2.4 3-3.4-5.8-2.4z" fill="#c9ee14"/><path d="M108.4 63.3l5.6 2.7 3-3.5-5.6-2.7z" fill="#c2ee14"/><path d="M113.3 65.6l5.5 2.9 3-3.5-5.6-2.9z" fill="#b9ee14"/><path d="M118.1 68.1l5.6 2.8 2.9-3.5-5.6-2.8z" fill="#b1ee14"/><path d="M122.9 70.5l5.5 2.9 2.9-3.5-5.5-2.9z" fill="#a9ee14"/><path d="M127.6 73l5.4 3 2.8-3.5-5.3-3z" fill="#a1ee14"/><path d="M132.3 75.6l5.2 3.2 2.9-3.5-5.3-3.2z" fill="#94ee15"/><path d="M136.8 78.4l5.3 3.3 2.8-3.6-5.2-3.3z" fill="#83ec17"/><path d="M141.4 81.3l5.2 3.3 2.8-3.6-5.2-3.3z" fill="#70eb19"/><path d="M145.9 84.2l5.3 3.3 2.8-3.7-5.3-3.3z" fill="#5eea1b"/><path d="M150.5 87l5.2 3.4 2.7-3.8-5.2-3.3z" fill="#4ce91d"/><path d="M155 89.9l5.1 3.4 2.8-3.8-5.2-3.4z" fill="#3ae81f"/><path d="M159.4 92.8l4.9 3.6 2.8-3.9-4.9-3.5z" fill="#26e721"/><path d="M163.7 95.9l4.4 3.7 2.7-4-4.4-3.6z" fill="#19e629"/><path d="M167.5 99l3.7 4.8 2.8-4.2-3.8-4.6z" fill="#18e63a"/><path d="M170.7 103l3.3 6.3 2.8-4.5-3.3-6z" fill="#18e653"/><path d="M173.6 108.4l3 7.2 2.9-4.9-3.1-6.8z" fill="#17e571"/><path d="M51.4 36l6.1 1.8 3.4-2.8-6.1-1.7z" fill="#fcbb14"/><path d="M56.5 37.5l6.2 1.7 3.4-2.8-6.2-1.7z" fill="#fcc014"/><path d="M61.7 38.9l6.1 1.9 3.4-3-6.1-1.7z" fill="#fcc514"/><path d="M66.9 40.5l6 2 3.3-3-6-1.9z" fill="#fccb14"/><path d="M72 42.2l5.8 2.3 3.3-3.1-5.8-2.2z" fill="#fcd314"/><path d="M77 44.1l5.7 2.6 3.2-3.1-5.7-2.5z" fill="#fcdd14"/><path d="M81.9 46.3l5.5 2.8 3.2-3.1-5.5-2.8z" fill="#fce714"/><path d="M86.6 48.7l5.5 3.1 3.1-3.2-5.4-3z" fill="#fcee14"/><path d="M91.3 51.4l5.5 2.9 3.2-3.2-5.5-2.9z" fill="#f4ee14"/><path d="M96 53.9l5.7 2.7 3.2-3.2-5.7-2.7z" fill="#edee14"/><path d="M100.9 56.3l5.7 2.5 3.2-3.3-5.8-2.5z" fill="#e8ee14"/><path d="M105.8 58.4l5.8 2.5 3.1-3.4-5.7-2.4z" fill="#e2ee14"/><path d="M110.8 60.5l5.6 2.7 3.1-3.3-5.6-2.7z" fill="#daee14"/><path d="M115.6 62.8l5.6 2.9 3.1-3.4-5.6-2.8z" fill="#d1ee14"/><path d="M120.4 65.3l5.6 2.8 3.1-3.4-5.6-2.8z" fill="#c8ee14"/><path d="M125.2 67.7l5.5 2.8 3.1-3.3-5.5-2.8z" fill="#c0ee14"/><path d="M130 70.1l5.3 3.1 3-3.4-5.3-3z" fill="#b6ee14"/><path d="M134.6 72.7l5.2 3.2 3-3.4-5.2-3.1z" fill="#aaee14"/><path d="M139.1 75.5l5.2 3.3 3-3.5-5.2-3.2z" fill="#9dee14"/><path d="M143.6 78.3l5.3 3.3 3-3.5-5.3-3.2z" fill="#8aed16"/><path d="M148.2 81.2l5.2 3.2 3-3.5-5.3-3.2z" fill="#78ec18"/><path d="M152.7 84l5.2 3.2 3-3.5-5.2-3.3z" fill="#67eb1a"/><path d="M157.2 86.8l5.1 3.4 3-3.7-5.1-3.3z" fill="#55ea1c"/><path d="M161.6 89.7l5 3.5 2.9-3.7-4.9-3.5z" fill="#42e91e"/><path d="M165.9 92.6l4.4 3.7 2.9-3.8-4.4-3.6z" fill="#2de721"/><path d="M169.7 95.7l3.8 4.6 2.9-4-3.8-4.4z" fill="#19e627"/><path d="M173 99.6l3.3 6 3-4.3-3.4-5.7z" fill="#18e63d"/><path d="M175.9 104.7l3 6.9 3-4.7-3.1-6.5z" fill="#18e559"/><path d="M54 34l6.1 1.7 3.6-2.7-6.1-1.7z" fill="#fcb414"/><path d="M59.1 35.4l6.2 1.6 3.5-2.8-6.1-1.5z" fill="#fcb814"/><path d="M64.3 36.7l6.1 1.8 3.5-2.8-6.1-1.7z" fill="#fcbc14"/><path d="M69.4 38.2l6.1 2 3.4-2.9-6-1.9z" fill="#fcc114"/><path d="M74.5 39.8l5.9 2.3 3.5-3-5.9-2.1z" fill="#fcc714"/><path d="M79.5 41.7l5.8 2.5 3.4-3-5.7-2.4z" fill="#fcd014"/><path d="M84.4 43.8l5.6 2.8 3.3-3-5.5-2.8z" fill="#fcd814"/><path d="M89.2 46.2l5.4 3 3.4-3.1-5.5-2.9z" fill="#fcdf14"/><path d="M93.8 48.8l5.6 2.9 3.3-3.1-5.5-2.9z" fill="#fce314"/><path d="M98.6 51.3l5.6 2.7 3.4-3.2-5.7-2.6z" fill="#fce714"/><path d="M103.4 53.6l5.8 2.5 3.3-3.1-5.8-2.5z" fill="#fceb14"/><path d="M108.3 55.8l5.8 2.4 3.3-3.2-5.8-2.4z" fill="#fbee14"/><path d="M113.3 57.8l5.6 2.7 3.3-3.2-5.6-2.6z" fill="#f2ee14"/><path d="M118.1 60.1l5.6 2.9 3.2-3.2-5.5-2.9z" fill="#e9ee14"/><path d="M122.9 62.6l5.6 2.8 3.2-3.2-5.6-2.8z" fill="#e0ee14"/><path d="M127.7 65l5.5 2.8 3.2-3.1-5.5-2.9z" fill="#d6ee14"/><path d="M132.4 67.4l5.3 3 3.2-3.1-5.3-3z" fill="#ccee14"/><path d="M137 70l5.3 3.2 3.1-3.2-5.2-3.2z" fill="#bfee14"/><path d="M141.5 72.7l5.3 3.2 3.1-3.2-5.2-3.2z" fill="#b1ee14"/><path d="M146 75.5l5.3 3.3 3.1-3.3-5.2-3.2z" fill="#a2ee14"/><path d="M150.6 78.3l5.2 3.2 3.2-3.3-5.3-3.2z" fill="#92ed15"/><path d="M155.1 81.1l5.2 3.2 3.1-3.4-5.2-3.2z" fill="#81ec17"/><path d="M159.6 83.8l5.1 3.4 3.1-3.5-5.1-3.2z" fill="#70eb19"/><path d="M164 86.7l4.9 3.4 3.1-3.5-4.9-3.3z" fill="#5cea1b"/><path d="M168.3 89.6l4.4 3.5 3.1-3.5-4.4-3.5z" fill="#47e91e"/><path d="M172.1 92.6l3.8 4.4 3.1-3.8-3.8-4.2z" fill="#2fe720"/><path d="M175.4 96.3l3.3 5.7 3.2-4-3.4-5.5z" fill="#19e62a"/><path d="M178.3 101.2l3.1 6.5 3.1-4.4-3.1-6.1z" fill="#18e644"/><path d="M56.6 32l6.2 1.6 3.8-2.7-6.2-1.5z" fill="#fcad14"/><path d="M61.8 33.3l6.2 1.6 3.8-2.7-6.3-1.5z" fill="#fcaf14"/><path d="M67 34.6l6.1 1.7 3.7-2.8-6.1-1.6z" fill="#fcb214"/><path d="M72.1 36l6.1 1.9 3.6-2.8-6-1.8z" fill="#fcb514"/><path d="M77.2 37.6l5.9 2.2 3.6-2.9-5.8-2.1z" fill="#fcbb14"/><path d="M82.2 39.4l5.8 2.4 3.5-2.8-5.7-2.4z" fill="#fcc214"/><path d="M87.1 41.4l5.6 2.8 3.5-2.9-5.5-2.7z" fill="#fcc914"/><path d="M91.8 43.8l5.5 2.9 3.5-3-5.4-2.8z" fill="#fccf14"/><path d="M96.5 46.3l5.5 2.9 3.6-3-5.6-2.9z" fill="#fcd514"/><path d="M101.2 48.8l5.7 2.7 3.5-3.1-5.7-2.6z" fill="#fcd914"/><path d="M106 51.1l5.8 2.5 3.5-3-5.7-2.5z" fill="#fcdd14"/><path d="M110.9 53.2l5.8 2.5 3.5-3.1-5.7-2.4z" fill="#fce214"/><path d="M115.9 55.3l5.6 2.7 3.5-3.1-5.6-2.6z" fill="#fce714"/><path d="M120.7 57.5l5.6 2.9 3.4-3-5.5-2.9z" fill="#fcec14"/><path d="M125.5 60l5.6 2.8 3.4-3-5.6-2.8z" fill="#f6ee14"/><path d="M130.3 62.4l5.4 2.9 3.4-3-5.4-2.9z" fill="#ecee14"/><path d="M134.9 64.8l5.4 3.1 3.4-3-5.3-3z" fill="#e0ee14"/><path d="M139.5 67.4l5.3 3.2 3.4-3-5.3-3.1z" fill="#d3ee14"/><path d="M144.1 70.1l5.2 3.2 3.4-3-5.3-3.2z" fill="#c5ee14"/><path d="M148.6 72.9l5.2 3.2 3.4-3.1-5.3-3.2z" fill="#b6ee14"/><path d="M153.1 75.6l5.3 3.2 3.3-3.1-5.3-3.1z" fill="#a8ee14"/><path d="M157.6 78.4l5.2 3.2 3.4-3.2-5.2-3.1z" fill="#9aee14"/><path d="M162.1 81.1l5.1 3.3 3.4-3.2-5.2-3.2z" fill="#88ed16"/><path d="M166.5 83.9l5 3.3 3.3-3.2-5-3.3z" fill="#75ec18"/><path d="M170.8 86.7l4.4 3.5 3.3-3.3-4.4-3.4z" fill="#60ea1b"/><path d="M174.6 89.6l3.8 4.3 3.3-3.5-3.8-4.1z" fill="#48e91e"/><path d="M177.9 93.2l3.4 5.4 3.3-3.7-3.4-5.2z" fill="#29e721"/><path d="M180.8 97.9l3.2 6.1 3.3-4.1-3.1-5.8z" fill="#19e631"/><path d="M59.5 30l6.2 1.6 4-2.6-6.3-1.5z" fill="#fca514"/><path d="M64.6 31.3l6.3 1.5 3.9-2.6-6.3-1.5z" fill="#fca614"/><path d="M69.8 32.5l6.2 1.7 3.9-2.7-6.2-1.6z" fill="#fca714"/><path d="M74.9 33.9l6.1 1.8 3.9-2.7-6.1-1.8z" fill="#fcaa14"/><path d="M80 35.4l6 2.1 3.8-2.7-5.9-2.1z" fill="#fcae14"/><path d="M85 37.2l5.8 2.3 3.8-2.7-5.8-2.4z" fill="#fcb414"/><path d="M89.9 39.1l5.6 2.7 3.7-2.8-5.5-2.6z" fill="#fcbb14"/><path d="M94.7 41.4l5.4 2.9 3.7-2.8-5.4-2.9z" fill="#fcc114"/><path d="M99.3 43.9l5.5 2.9 3.8-2.9-5.6-2.8z" fill="#fcc714"/><path d="M104 46.4l5.7 2.6 3.7-2.8-5.7-2.7z" fill="#fccb14"/><path d="M108.8 48.7l5.8 2.5 3.7-2.9-5.8-2.5z" fill="#fcd014"/><path d="M113.7 50.8l5.8 2.5 3.7-2.9-5.8-2.5z" fill="#fcd514"/><path d="M118.6 52.9l5.7 2.6 3.6-2.8-5.6-2.7z" fill="#fcda14"/><path d="M123.4 55.1l5.6 2.9 3.7-2.8-5.6-2.9z" fill="#fce014"/><path d="M128.2 57.6l5.6 2.8 3.6-2.7-5.5-2.9z" fill="#fce614"/><path d="M133 60l5.4 2.9 3.7-2.8-5.5-2.9z" fill="#fcec14"/><path d="M137.6 62.4l5.4 3.1 3.6-2.8-5.3-3z" fill="#f4ee14"/><path d="M142.2 65l5.3 3.1 3.6-2.7-5.3-3.1z" fill="#e6ee14"/><path d="M146.7 67.7l5.3 3.2 3.6-2.8-5.3-3.2z" fill="#d8ee14"/><path d="M151.2 70.4l5.3 3.2 3.6-2.8-5.3-3.2z" fill="#c9ee14"/><path d="M155.7 73.1l5.3 3.2 3.6-2.8-5.3-3.2z" fill="#bbee14"/><path d="M160.3 75.8l5.2 3.2 3.6-2.9-5.3-3.1z" fill="#adee14"/><path d="M164.8 78.5l5.1 3.3 3.5-2.9-5.1-3.2z" fill="#9fee14"/><path d="M169.2 81.3l4.9 3.3 3.5-2.9-4.9-3.3z" fill="#8ced16"/><path d="M173.4 84.1l4.5 3.4 3.5-3-4.5-3.3z" fill="#76ec18"/><path d="M177.2 86.9l3.9 4.1 3.5-3.2-3.9-3.9z" fill="#5eea1b"/><path d="M180.6 90.3l3.4 5.2 3.5-3.5-3.5-4.8z" fill="#40e81e"/><path d="M183.6 94.8l3.1 5.7 3.6-3.8-3.2-5.4z" fill="#1de623"/><path d="M62.4 28.1l6.3 1.5 4.2-2.6-6.3-1.4z" fill="#fc9d14"/><path d="M67.5 29.3l6.3 1.5 4.2-2.6-6.3-1.4z" fill="#fc9c14"/><path d="M72.7 30.5l6.3 1.6 4.1-2.6-6.3-1.6z" fill="#fc9c14"/><path d="M77.9 31.8l6.1 1.8 4.1-2.7-6.1-1.7z" fill="#fc9d14"/><path d="M83 33.3l5.9 2.1 4-2.7-5.9-2.1z" fill="#fca114"/><path d="M88 35l5.8 2.4 3.9-2.8-5.7-2.3z" fill="#fca714"/><path d="M92.9 36.9l5.6 2.7 3.9-2.8-5.6-2.6z" fill="#fcae14"/><path d="M97.6 39.2l5.5 2.8 3.9-2.8-5.5-2.8z" fill="#fcb314"/><path d="M102.3 41.6l5.5 2.9 3.9-2.9-5.5-2.8z" fill="#fcb914"/><path d="M107 44.1l5.6 2.7 3.9-2.9-5.6-2.7z" fill="#fcbe14"/><path d="M111.8 46.4l5.7 2.5 3.9-2.8-5.7-2.6z" fill="#fcc314"/><path d="M116.6 48.5l5.8 2.5 3.9-2.8-5.8-2.5z" fill="#fcc914"/><path d="M121.6 50.6l5.6 2.7 3.8-2.8-5.6-2.7z" fill="#fcce14"/><path d="M126.4 52.9l5.5 2.9 3.9-2.8-5.6-2.9z" fill="#fcd514"/><path d="M131.1 55.3l5.6 2.9 3.8-2.7-5.6-3z" fill="#fcdb14"/><path d="M135.9 57.8l5.4 2.9 3.8-2.7-5.4-3z" fill="#fce214"/><path d="M140.5 60.2l5.4 3.1 3.8-2.7-5.4-3.1z" fill="#fce914"/><path d="M145.1 62.8l5.3 3.1 3.7-2.7-5.2-3.1z" fill="#f9ee14"/><path d="M149.6 65.5l5.3 3.1 3.7-2.7-5.2-3.2z" fill="#eaee14"/><path d="M154.1 68.2l5.3 3.1 3.7-2.8-5.3-3.1z" fill="#dbee14"/><path d="M158.6 70.9l5.3 3.1 3.7-2.8-5.3-3.1z" fill="#cdee14"/><path d="M163.1 73.5l5.3 3.2 3.7-2.8-5.3-3.2z" fill="#bfee14"/><path d="M167.6 76.2l5.2 3.2 3.7-2.8-5.2-3.2z" fill="#b0ee14"/><path d="M172 79l5 3.2 3.6-2.9-4.9-3.2z" fill="#a0ee14"/><path d="M176.2 81.7l4.5 3.3 3.7-3-4.5-3.2z" fill="#8bed16"/><path d="M180.1 84.5l3.9 3.9 3.6-3.2-3.9-3.7z" fill="#73ec19"/><path d="M183.4 87.7l3.5 4.9 3.7-3.5-3.6-4.5z" fill="#56ea1c"/><path d="M186.4 91.9l3.3 5.4 3.7-3.8-3.3-5z" fill="#34e820"/><path d="M65.5 26.2l6.3 1.5 4.4-2.5-6.3-1.3z" fill="#fc9414"/><path d="M70.6 27.4l6.4 1.4 4.3-2.5-6.4-1.3z" fill="#fc9214"/><path d="M75.8 28.5l6.3 1.6 4.3-2.5-6.3-1.5z" fill="#fc9114"/><path d="M81 29.8l6.1 1.7 4.3-2.5-6.2-1.7z" fill="#fc9214"/><path d="M86.1 31.2l6 2 4.1-2.5-5.9-2z" fill="#fc9614"/><path d="M91.1 32.9l5.8 2.3 4.1-2.6-5.8-2.3z" fill="#fc9c14"/><path d="M96 34.8l5.6 2.6 4-2.7-5.6-2.5z" fill="#fca214"/><path d="M100.7 36.9l5.5 2.9 4-2.7-5.5-2.8z" fill="#fca714"/><path d="M105.4 39.3l5.5 2.9 4-2.7-5.5-2.9z" fill="#fcac14"/><path d="M110.1 41.8l5.6 2.7 4-2.7-5.6-2.8z" fill="#fcb014"/><path d="M114.8 44.1l5.8 2.5 4-2.7-5.7-2.6z" fill="#fcb614"/><path d="M119.7 46.2l5.8 2.5 4-2.6-5.8-2.6z" fill="#fcbd14"/><path d="M124.6 48.3l5.7 2.7 3.9-2.6-5.6-2.8z" fill="#fcc314"/><path d="M129.4 50.6l5.6 2.9 3.9-2.6-5.5-3z" fill="#fcca14"/><path d="M134.1 53.1l5.6 2.9 3.9-2.6-5.5-3z" fill="#fcd114"/><path d="M138.9 55.6l5.5 2.9 3.9-2.6-5.5-3z" fill="#fcd814"/><path d="M143.5 58.1l5.4 3 3.9-2.6-5.4-3.1z" fill="#fce014"/><path d="M148.1 60.6l5.3 3.1 3.9-2.6-5.3-3.1z" fill="#fce714"/><path d="M152.6 63.3l5.3 3.1 3.8-2.7-5.2-3.1z" fill="#fbee14"/><path d="M157.1 65.9l5.3 3.2 3.8-2.7-5.3-3.1z" fill="#edee14"/><path d="M161.6 68.6l5.3 3.1 3.8-2.7-5.3-3.1z" fill="#dfee14"/><path d="M166.1 71.3l5.3 3.1 3.8-2.8-5.3-3.1z" fill="#d0ee14"/><path d="M170.6 73.9l5.1 3.2 3.8-2.8-5.1-3.1z" fill="#c1ee14"/><path d="M175 76.6l4.9 3.3 3.8-2.9-4.9-3.2z" fill="#b0ee14"/><path d="M179.2 79.3l4.5 3.3 3.8-2.9-4.5-3.2z" fill="#9eee14"/><path d="M183.1 82l3.9 3.8 3.7-3.1-3.9-3.6z" fill="#86ed16"/><path d="M186.4 85.1l3.6 4.6 3.7-3.4-3.6-4.2z" fill="#6aeb1a"/><path d="M189.5 89l3.3 5.1 3.8-3.8-3.4-4.7z" fill="#4be91d"/><path d="M68.7 24.5l6.4 1.4 4.5-2.3-6.4-1.3z" fill="#fc8a14"/><path d="M73.8 25.6l6.4 1.3 4.5-2.3-6.4-1.3z" fill="#fb8714"/><path d="M79 26.7l6.3 1.5 4.5-2.4-6.4-1.4z" fill="#fb8514"/><path d="M84.1 27.8l6.3 1.8 4.3-2.4-6.2-1.7z" fill="#fb8714"/><path d="M89.3 29.2l6 2 4.3-2.4-6-1.9z" fill="#fc8d14"/><path d="M94.3 30.9l5.8 2.2 4.3-2.4-5.9-2.2z" fill="#fc9214"/><path d="M99.2 32.7l5.6 2.6 4.2-2.5-5.6-2.5z" fill="#fc9714"/><path d="M103.9 34.8l5.5 2.8 4.2-2.5-5.5-2.7z" fill="#fc9b14"/><path d="M108.5 37.2l5.6 2.8 4.2-2.5-5.6-2.9z" fill="#fc9f14"/><path d="M113.2 39.6l5.7 2.7 4.2-2.6-5.7-2.7z" fill="#fca414"/><path d="M118 41.9l5.8 2.6 4.1-2.6-5.7-2.6z" fill="#fcab14"/><path d="M122.9 44.1l5.8 2.5 4.1-2.5-5.8-2.6z" fill="#fcb214"/><path d="M127.8 46.2l5.6 2.7 4.1-2.5-5.6-2.8z" fill="#fcb914"/><path d="M132.5 48.5l5.6 2.9 4.1-2.5-5.6-3z" fill="#fcc114"/><path d="M137.3 50.9l5.5 3 4.1-2.5-5.6-3z" fill="#fcc814"/><path d="M142 53.4l5.5 3 4-2.4-5.5-3z" fill="#fcd014"/><path d="M146.6 56l5.4 3 4-2.5-5.4-3z" fill="#fcd714"/><path d="M151.2 58.5l5.3 3.1 4-2.5-5.3-3z" fill="#fcdf14"/><path d="M155.7 61.1l5.3 3.2 3.9-2.5-5.3-3.1z" fill="#fce614"/><path d="M160.1 63.8l5.4 3.1 3.9-2.5-5.3-3.1z" fill="#fcee14"/><path d="M164.6 66.4l5.4 3.1 3.9-2.5-5.3-3.1z" fill="#efee14"/><path d="M169.2 69.1l5.2 3.1 3.9-2.6-5.2-3.1z" fill="#e1ee14"/><path d="M173.6 71.7l5.2 3.1 3.9-2.6-5.2-3.1z" fill="#d1ee14"/><path d="M178 74.4l5 3.1 3.9-2.7-5-3.1z" fill="#c0ee14"/><path d="M182.3 77l4.5 3.2 3.8-2.8-4.5-3z" fill="#adee14"/><path d="M186.1 79.6l3.9 3.6 3.9-2.9-4-3.4z" fill="#99ee14"/><path d="M189.5 82.6l3.6 4.3 3.8-3.3-3.6-3.9z" fill="#7eec17"/><path d="M192.6 86.2l3.4 4.7 3.8-3.7-3.4-4.2z" fill="#5fea1b"/><path d="M72 22.9l6.4 1.3 4.6-2.1-6.4-1.2z" fill="#fb8013"/><path d="M77.1 23.9l6.4 1.3 4.6-2.1-6.4-1.3z" fill="#fb7c13"/><path d="M82.2 24.9l6.4 1.5 4.6-2.2-6.4-1.4z" fill="#fb7c13"/><path d="M87.4 26.1l6.3 1.7 4.5-2.3-6.3-1.6z" fill="#fb7f13"/><path d="M92.5 27.4l6.1 2 4.5-2.3-6.1-1.9z" fill="#fb8413"/><path d="M97.5 29l5.9 2.2 4.4-2.3-5.9-2.1z" fill="#fc8914"/><path d="M102.4 30.8l5.7 2.5 4.3-2.3-5.6-2.5z" fill="#fc8d14"/><path d="M107.2 32.9l5.5 2.7 4.3-2.4-5.5-2.7z" fill="#fc9114"/><path d="M111.8 35.1l5.6 2.9 4.3-2.5-5.6-2.8z" fill="#fc9414"/><path d="M116.5 37.5l5.7 2.8 4.2-2.5-5.6-2.7z" fill="#fc9a14"/><path d="M121.3 39.8l5.8 2.7 4.2-2.5-5.8-2.6z" fill="#fca214"/><path d="M126.1 42l5.8 2.6 4.2-2.4-5.7-2.6z" fill="#fcaa14"/><path d="M131 44.2l5.6 2.7 4.2-2.4-5.6-2.8z" fill="#fcb114"/><path d="M135.7 46.4l5.6 3 4.2-2.4-5.6-3z" fill="#fcb814"/><path d="M140.5 48.9l5.6 3 4.1-2.4-5.6-3z" fill="#fcc014"/><path d="M145.2 51.4l5.5 3.1 4.1-2.4-5.5-3z" fill="#fcc814"/><path d="M149.8 54l5.4 3 4.1-2.3-5.4-3.1z" fill="#fcd014"/><path d="M154.3 56.6l5.4 3 4-2.4-5.3-3z" fill="#fcd714"/><path d="M158.8 59.2l5.3 3.1 4.1-2.5-5.3-3z" fill="#fcdf14"/><path d="M163.3 61.8l5.3 3.1 4.1-2.5-5.3-3.1z" fill="#fce614"/><path d="M167.8 64.4l5.3 3.1 4.1-2.6-5.4-3z" fill="#fced14"/><path d="M172.3 67l5.3 3.1 4-2.6-5.3-3z" fill="#f0ee14"/><path d="M176.8 69.6l5.1 3.1 4-2.6-5.1-3.1z" fill="#e1ee14"/><path d="M181.2 72.2l4.9 3.2 4-2.7-5-3.1z" fill="#cfee14"/><path d="M185.4 74.9l4.5 3 4-2.7-4.6-3z" fill="#bcee14"/><path d="M189.2 77.4l4 3.4 3.9-3-4-3.1z" fill="#a8ee14"/><path d="M192.6 80.2l3.7 3.9 3.9-3.2-3.7-3.6z" fill="#90ed15"/><path d="M195.7 83.5l3.5 4.3 4-3.7-3.6-3.8z" fill="#73ec19"/><path d="M75.4 21.5l6.4 1.2 4.6-1.9-6.4-1.1z" fill="#fa7613"/><path d="M80.5 22.4l6.4 1.3 4.6-2-6.4-1.2z" fill="#fa7313"/><path d="M85.6 23.4l6.4 1.4 4.6-2.1-6.4-1.3z" fill="#fa7513"/><path d="M90.7 24.5l6.4 1.6 4.5-2.1-6.3-1.6z" fill="#fb7913"/><path d="M95.9 25.7l6.1 2 4.5-2.2-6.1-1.9z" fill="#fb7d13"/><path d="M100.9 27.3l5.9 2.1 4.4-2.2-5.9-2.1z" fill="#fb8113"/><path d="M105.8 29l5.7 2.5 4.3-2.3-5.7-2.4z" fill="#fb8413"/><path d="M110.5 31l5.6 2.7 4.3-2.4-5.6-2.6z" fill="#fb8714"/><path d="M115.2 33.2l5.6 2.8 4.2-2.4-5.6-2.7z" fill="#fc8b14"/><path d="M119.9 35.6l5.7 2.7 4.2-2.4-5.7-2.7z" fill="#fc9314"/><path d="M124.6 37.9l5.8 2.6 4.2-2.4-5.8-2.6z" fill="#fc9b14"/><path d="M129.5 40.1l5.7 2.6 4.2-2.5-5.7-2.5z" fill="#fca214"/><path d="M134.3 42.3l5.7 2.7 4.1-2.5-5.6-2.7z" fill="#fca914"/><path d="M139.1 44.5l5.6 3 4-2.5-5.5-2.9z" fill="#fcb014"/><path d="M143.8 47l5.5 3 4.1-2.4-5.5-3.1z" fill="#fcb814"/><path d="M148.5 49.6l5.4 3 4.1-2.5-5.4-3z" fill="#fcc114"/><path d="M153.1 52.1l5.3 3.1 4.1-2.5-5.4-3z" fill="#fcc914"/><path d="M157.6 54.7l5.3 3 4-2.5-5.3-3z" fill="#fcd014"/><path d="M162.1 57.3l5.3 3 4-2.6-5.3-3z" fill="#fcd714"/><path d="M166.6 59.8l5.3 3.1 3.9-2.7-5.3-2.9z" fill="#fcde14"/><path d="M171.1 62.4l5.3 3.1 3.9-2.7-5.3-3z" fill="#fce514"/><path d="M175.5 65l5.3 3 3.9-2.7-5.2-3z" fill="#fcec14"/><path d="M180 67.6l5.2 3 3.9-2.8-5.2-3z" fill="#f0ee14"/><path d="M184.4 70.2l5 3 3.8-2.9-4.9-3z" fill="#deee14"/><path d="M188.6 72.7l4.5 3 3.9-3-4.5-2.8z" fill="#caee14"/><path d="M192.4 75.2l4.1 3.2 3.8-3.2-4-3z" fill="#b6ee14"/><path d="M195.8 77.8l3.8 3.6 3.8-3.5-3.8-3.2z" fill="#a0ee14"/><path d="M199 80.8l3.6 3.9 3.8-3.9-3.6-3.4z" fill="#86ed16"/><path d="M78.8 20.2l6.4 1.2 4.5-1.9-6.3-1z" fill="#fa6d13"/><path d="M83.9 21l6.4 1.3 4.6-1.9-6.5-1.1z" fill="#fa6c13"/><path d="M89 21.9l6.4 1.4 4.5-2-6.3-1.2z" fill="#fa7013"/><path d="M94.1 23l6.3 1.5 4.5-2.1-6.3-1.4z" fill="#fa7313"/><path d="M99.2 24.2l6.1 1.8 4.5-2.1-6.1-1.8z" fill="#fb7713"/><path d="M104.2 25.6l6 2.1 4.3-2.2-5.9-2z" fill="#fb7913"/><path d="M109.1 27.3l5.7 2.4 4.3-2.3-5.7-2.3z" fill="#fb7c13"/><path d="M113.9 29.2l5.6 2.6 4.1-2.3-5.5-2.5z" fill="#fb8013"/><path d="M118.5 31.4l5.6 2.7 4.2-2.4-5.6-2.7z" fill="#fb8514"/><path d="M123.2 33.7l5.7 2.7 4.1-2.4-5.7-2.7z" fill="#fc8d14"/><path d="M128 36l5.7 2.6 4.1-2.5-5.7-2.6z" fill="#fc9514"/><path d="M132.8 38.2l5.7 2.6 4.1-2.5-5.7-2.6z" fill="#fc9b14"/><path d="M137.6 40.3l5.6 2.7 4.1-2.5-5.6-2.7z" fill="#fca114"/><path d="M142.4 42.6l5.5 2.9 4-2.5-5.5-2.9z" fill="#fca814"/><path d="M147.1 45l5.5 3.1 3.9-2.6-5.5-3z" fill="#fcb014"/><path d="M151.8 47.6l5.4 3 3.9-2.5-5.4-3z" fill="#fcb914"/><path d="M156.3 50.2l5.4 3 3.9-2.6-5.3-3z" fill="#fcc114"/><path d="M160.8 52.7l5.3 3 3.9-2.7-5.3-2.9z" fill="#fcc914"/><path d="M165.3 55.3l5.3 2.9 3.8-2.7-5.2-2.9z" fill="#fcd014"/><path d="M169.8 57.8l5.3 3 3.8-2.8-5.3-2.9z" fill="#fcd714"/><path d="M174.2 60.3l5.3 3 3.8-2.9-5.2-2.9z" fill="#fcdd14"/><path d="M178.7 62.8l5.3 3 3.7-2.9-5.2-2.9z" fill="#fce414"/><path d="M183.2 65.4l5.1 3 3.8-3-5.2-3z" fill="#fced14"/><path d="M187.6 67.9l4.9 3 3.8-3.1-5-2.9z" fill="#ecee14"/><path d="M191.8 70.4l4.5 2.9 3.7-3.2-4.5-2.8z" fill="#d9ee14"/><path d="M195.6 72.8l4 2.9 3.7-3.4-4-2.7z" fill="#c6ee14"/><path d="M199 75.2l3.8 3.3 3.7-3.7-3.9-3z" fill="#b0ee14"/><path d="M202.2 77.9l3.6 3.5 3.7-4.2-3.7-3z" fill="#9bee14"/><path d="M82.2 19l6.3 1.1 4.5-1.7-6.3-.9z" fill="#fa6612"/><path d="M87.2 19.8l6.4 1.1 4.5-1.8-6.4-1z" fill="#fa6812"/><path d="M92.3 20.6l6.4 1.3 4.5-1.9-6.4-1.2z" fill="#fa6c13"/><path d="M97.4 21.5l6.3 1.5 4.5-2-6.3-1.3z" fill="#fa6f13"/><path d="M102.4 22.7l6.2 1.7 4.5-2-6.2-1.7z" fill="#fa7113"/><path d="M107.5 24l5.9 2 4.4-2.1-6-1.9z" fill="#fa7313"/><path d="M112.4 25.6l5.7 2.3 4.2-2.2-5.7-2.2z" fill="#fa7613"/><path d="M117.1 27.5l5.6 2.5 4.2-2.3-5.6-2.4z" fill="#fb7a13"/><path d="M121.8 29.5l5.6 2.7 4.1-2.3-5.6-2.6z" fill="#fb8013"/><path d="M126.5 31.8l5.6 2.7 4.1-2.4-5.7-2.7z" fill="#fb8714"/><path d="M131.2 34.1l5.7 2.6 4.1-2.5-5.7-2.6z" fill="#fc8f14"/><path d="M136 36.3l5.7 2.5 4-2.5-5.7-2.5z" fill="#fc9514"/><path d="M140.8 38.4l5.6 2.6 4-2.5-5.6-2.6z" fill="#fc9a14"/><path d="M145.6 40.6l5.5 2.9 3.9-2.6-5.5-2.8z" fill="#fca014"/><path d="M150.3 43l5.4 3 3.9-2.6-5.4-2.9z" fill="#fca914"/><path d="M154.9 45.6l5.4 3 3.8-2.6-5.3-3z" fill="#fcb214"/><path d="M159.5 48.1l5.3 3 3.8-2.7-5.3-2.9z" fill="#fcba14"/><path d="M164 50.6l5.2 3 3.8-2.8-5.2-2.8z" fill="#fcc214"/><path d="M168.4 53.1l5.3 3 3.7-2.9-5.2-2.8z" fill="#fcc914"/><path d="M172.9 55.6l5.2 2.9 3.8-2.9-5.3-2.8z" fill="#fcd014"/><path d="M177.3 58.1l5.3 2.9 3.7-3-5.2-2.8z" fill="#fcd614"/><path d="M181.8 60.5l5.2 3 3.7-3.1-5.2-2.8z" fill="#fcdd14"/><path d="M186.3 63l5.1 2.9 3.6-3.1-5.1-2.8z" fill="#fce614"/><path d="M190.6 65.5l5 2.9 3.6-3.3-4.9-2.8z" fill="#faee14"/><path d="M194.8 67.9l4.6 2.8 3.6-3.4-4.6-2.6z" fill="#e9ee14"/><path d="M198.6 70.2l4.1 2.7 3.6-3.5-4.1-2.6z" fill="#d8ee14"/><path d="M202 72.4l3.9 3 3.6-3.9-3.9-2.6z" fill="#c3ee14"/><path d="M205.3 74.9l3.7 3 3.6-4.3-3.8-2.6z" fill="#b0ee14"/><path d="M85.6 18l6.2 1 4.4-1.6-6.2-.8z" fill="#f96312"/><path d="M90.5 18.7l6.4 1 4.5-1.7-6.4-.9z" fill="#fa6612"/><path d="M95.6 19.4l6.4 1.2 4.5-1.9-6.4-1z" fill="#fa6812"/><path d="M100.7 20.2l6.3 1.4 4.5-1.9-6.3-1.3z" fill="#fa6a12"/><path d="M105.7 21.2l6.2 1.7 4.5-2-6.2-1.5z" fill="#fa6c13"/><path d="M110.7 22.5l6 1.9 4.4-2.1-6-1.7z" fill="#fa6e13"/><path d="M115.6 24l5.7 2.2 4.3-2.2-5.7-2z" fill="#fa7113"/><path d="M120.3 25.8l5.6 2.4 4.2-2.3-5.6-2.3z" fill="#fa7613"/><path d="M125 27.8l5.6 2.6 4.1-2.3-5.6-2.6z" fill="#fb7c13"/><path d="M129.7 29.9l5.6 2.7 4.1-2.4-5.6-2.6z" fill="#fb8213"/><path d="M134.4 32.2l5.7 2.5 4-2.4-5.7-2.5z" fill="#fc8914"/><path d="M139.2 34.3l5.7 2.5 4-2.4-5.7-2.5z" fill="#fc8f14"/><path d="M144 36.4l5.5 2.6 4-2.5-5.5-2.6z" fill="#fc9314"/><path d="M148.7 38.6l5.5 2.8 3.9-2.5-5.5-2.8z" fill="#fc9a14"/><path d="M153.4 41l5.4 3 3.9-2.6-5.4-3z" fill="#fca314"/><path d="M158 43.5l5.4 3 3.8-2.6-5.3-3z" fill="#fcac14"/><path d="M162.5 46l5.3 3 3.8-2.7-5.2-2.9z" fill="#fcb514"/><path d="M167 48.5l5.3 2.9 3.8-2.7-5.3-2.8z" fill="#fcbc14"/><path d="M171.4 50.9l5.3 2.9 3.8-2.8-5.3-2.8z" fill="#fcc314"/><path d="M175.9 53.3l5.3 2.9 3.7-2.9-5.3-2.8z" fill="#fcc914"/><path d="M180.3 55.7l5.3 2.9 3.7-3-5.2-2.8z" fill="#fcd014"/><path d="M184.8 58.1l5.2 2.9 3.7-3.1-5.2-2.7z" fill="#fcd714"/><path d="M189.2 60.5l5.2 2.9 3.6-3.2-5.1-2.7z" fill="#fcdf14"/><path d="M193.6 62.9l4.9 2.8 3.7-3.2-5-2.7z" fill="#fce814"/><path d="M197.8 65.3l4.5 2.6 3.6-3.4-4.5-2.5z" fill="#f9ee14"/><path d="M201.6 67.4l4.1 2.6 3.6-3.6-4.2-2.3z" fill="#e9ee14"/><path d="M205 69.5l3.9 2.6 3.6-3.9-4-2.2z" fill="#d7ee14"/><path d="M208.2 71.6l3.8 2.6 3.6-4.3-3.8-2.2z" fill="#c5ee14"/></g>
<clipPath id="cla"><polygon points="25.4,61.0 25.8,61.3 26.6,61.8 27.8,62.7 29.3,63.8 31.0,64.9 32.8,66.0 34.6,67.2 36.6,68.5 38.6,69.8 40.8,71.3 43.1,72.8 45.6,74.5 48.0,76.3 50.4,78.1 52.8,80.0 55.3,82.0 57.7,84.1 60.3,86.3 62.9,88.7 65.5,91.2 68.1,93.5 70.6,95.7 73.0,97.6 75.4,99.4 77.8,101.1 80.2,102.8 82.7,104.4 85.2,106.1 87.7,107.8 90.1,109.5 92.5,111.3 94.9,113.2 97.3,115.0 99.7,116.8 102.2,118.6 104.7,120.4 107.1,122.2 109.6,124.2 112.0,126.2 114.4,128.3 116.8,130.5 119.2,132.8 121.7,135.1 124.1,137.4 126.6,139.8 129.0,142.1 131.4,144.4 133.9,146.6 136.3,148.9 138.7,151.3 141.2,153.8 143.6,156.2 145.8,158.6 147.8,160.9 149.4,163.0 150.9,165.0 152.2,167.3 153.4,169.9 154.5,172.9 155.5,176.1 156.4,179.1 157.1,181.9 157.8,184.4 158.2,186.6 158.6,188.3 158.9,189.4 159.0,190.0 159.0,190.0 159.1,189.4 159.2,188.1 159.4,186.2 159.6,183.8 160.0,180.8 160.4,177.2 160.9,173.2 161.6,168.8 162.2,164.1 163.0,159.4 163.8,154.5 164.7,149.5 165.7,144.7 166.7,140.1 167.9,135.6 169.1,131.4 170.8,126.9 172.8,122.3 175.1,117.5 177.9,112.5 180.8,107.9 183.8,103.6 186.9,99.8 190.1,96.2 193.2,93.1 196.1,90.2 198.8,87.6 201.2,85.4 203.8,82.9 206.2,80.3 208.8,77.5 211.2,74.5 213.1,72.2 214.4,70.8 215.0,70.0 215.0,70.0 213.8,69.3 211.2,67.9 207.5,65.9 202.5,63.1 197.2,60.2 191.6,57.2 185.6,54.1 179.4,50.9 173.7,47.9 168.6,45.1 164.0,42.6 160.0,40.4 156.1,38.3 152.4,36.4 148.8,34.8 145.2,33.2 141.7,31.7 138.1,30.1 134.4,28.4 130.6,26.6 127.0,25.1 123.5,23.7 120.1,22.5 116.9,21.5 113.7,20.6 110.6,19.9 107.5,19.2 104.5,18.8 101.6,18.3 98.9,17.9 96.2,17.6 93.8,17.4 91.9,17.2 90.6,17.1 90.0,17.0 90.0,17.0 89.5,17.1 88.6,17.4 87.1,17.8 85.2,18.4 83.0,19.1 80.7,19.9 78.1,20.8 75.2,21.9 72.4,23.1 69.5,24.5 66.7,26.0 63.8,27.8 61.1,29.5 58.4,31.2 55.9,33.0 53.6,34.8 51.2,36.7 48.8,38.8 46.4,41.1 43.9,43.4 41.6,45.7 39.4,47.9 37.3,50.0 35.3,52.0 33.4,53.9 31.5,55.6 29.7,57.2 28.0,58.8 26.7,59.9 25.8,60.6 25.4,61.0"/></clipPath>
<g clip-path="url(#cla)">
<g opacity="0.25">
<line x1="54.2" y1="109.4" x2="131.3" y2="78.4" stroke="#555" stroke-width="0.60"/>
<line x1="131.3" y1="78.4" x2="218.6" y2="105.4" stroke="#555" stroke-width="0.60"/>
<line x1="53.2" y1="77.5" x2="131.6" y2="53.3" stroke="#555" stroke-width="0.60"/>
<line x1="131.6" y1="53.3" x2="219.6" y2="74.1" stroke="#555" stroke-width="0.60"/>
<line x1="52.1" y1="45.7" x2="131.8" y2="28.2" stroke="#555" stroke-width="0.60"/>
<line x1="131.8" y1="28.2" x2="220.5" y2="42.8" stroke="#555" stroke-width="0.60"/>
<line x1="70.4" y1="133.1" x2="67.6" y2="26.2" stroke="#555" stroke-width="0.60"/>
<line x1="70.4" y1="133.1" x2="159.5" y2="165.6" stroke="#555" stroke-width="0.60"/>
<line x1="85.6" y1="125.6" x2="83.7" y2="23.4" stroke="#555" stroke-width="0.60"/>
<line x1="85.6" y1="125.6" x2="174.1" y2="158.3" stroke="#555" stroke-width="0.60"/>
<line x1="100.7" y1="118.0" x2="99.8" y2="20.6" stroke="#555" stroke-width="0.60"/>
<line x1="100.7" y1="118.0" x2="188.6" y2="150.9" stroke="#555" stroke-width="0.60"/>
<line x1="115.9" y1="110.5" x2="115.9" y2="17.8" stroke="#555" stroke-width="0.60"/>
<line x1="115.9" y1="110.5" x2="203.2" y2="143.6" stroke="#555" stroke-width="0.60"/>
<line x1="174.3" y1="119.6" x2="176.5" y2="20.6" stroke="#555" stroke-width="0.60"/>
<line x1="100.2" y1="156.8" x2="174.3" y2="119.6" stroke="#555" stroke-width="0.60"/>
<line x1="55.3" y1="140.6" x2="51.5" y2="29.0" stroke="#333" stroke-width="0.70"/>
<line x1="51.5" y1="29.0" x2="132.0" y2="15.0" stroke="#333" stroke-width="0.70"/>
<line x1="132.0" y1="15.0" x2="221.0" y2="26.3" stroke="#333" stroke-width="0.70"/>
<line x1="131.0" y1="103.0" x2="132.0" y2="15.0" stroke="#333" stroke-width="0.70"/>
<line x1="55.3" y1="140.6" x2="131.0" y2="103.0" stroke="#333" stroke-width="0.70"/>
<line x1="131.0" y1="103.0" x2="217.7" y2="136.2" stroke="#333" stroke-width="0.70"/>
</g>
</g>
<g opacity="1.00">
<line x1="328.2" y1="107.4" x2="405.3" y2="76.4" stroke="#d4d4d4" stroke-width="0.60"/>
<line x1="405.3" y1="76.4" x2="491.1" y2="103.3" stroke="#d4d4d4" stroke-width="0.60"/>
<line x1="327.2" y1="75.5" x2="405.6" y2="51.3" stroke="#d4d4d4" stroke-width="0.60"/>
<line x1="405.6" y1="51.3" x2="492.3" y2="72.1" stroke="#d4d4d4" stroke-width="0.60"/>
<line x1="326.1" y1="43.7" x2="405.9" y2="26.2" stroke="#d4d4d4" stroke-width="0.60"/>
<line x1="405.9" y1="26.2" x2="493.4" y2="40.9" stroke="#d4d4d4" stroke-width="0.60"/>
<line x1="344.4" y1="131.1" x2="341.6" y2="24.2" stroke="#d4d4d4" stroke-width="0.60"/>
<line x1="344.4" y1="131.1" x2="433.2" y2="163.6" stroke="#d4d4d4" stroke-width="0.60"/>
<line x1="359.6" y1="123.6" x2="357.7" y2="21.4" stroke="#d4d4d4" stroke-width="0.60"/>
<line x1="359.6" y1="123.6" x2="447.4" y2="156.2" stroke="#d4d4d4" stroke-width="0.60"/>
<line x1="374.7" y1="116.0" x2="373.8" y2="18.6" stroke="#d4d4d4" stroke-width="0.60"/>
<line x1="374.7" y1="116.0" x2="461.6" y2="148.8" stroke="#d4d4d4" stroke-width="0.60"/>
<line x1="389.9" y1="108.5" x2="389.9" y2="15.8" stroke="#d4d4d4" stroke-width="0.60"/>
<line x1="389.9" y1="108.5" x2="475.8" y2="141.4" stroke="#d4d4d4" stroke-width="0.60"/>
<line x1="447.5" y1="117.5" x2="450.0" y2="18.8" stroke="#d4d4d4" stroke-width="0.60"/>
<line x1="374.1" y1="154.8" x2="447.5" y2="117.5" stroke="#d4d4d4" stroke-width="0.60"/>
<line x1="329.3" y1="138.6" x2="325.5" y2="27.0" stroke="#b0b0b0" stroke-width="0.70"/>
<line x1="325.5" y1="27.0" x2="406.0" y2="13.0" stroke="#b0b0b0" stroke-width="0.70"/>
<line x1="406.0" y1="13.0" x2="494.0" y2="24.5" stroke="#b0b0b0" stroke-width="0.70"/>
<line x1="405.0" y1="101.0" x2="406.0" y2="13.0" stroke="#b0b0b0" stroke-width="0.70"/>
<line x1="329.3" y1="138.6" x2="405.0" y2="101.0" stroke="#b0b0b0" stroke-width="0.70"/>
<line x1="405.0" y1="101.0" x2="490.0" y2="134.0" stroke="#b0b0b0" stroke-width="0.70"/>
</g>
<line x1="329.3" y1="138.6" x2="419.0" y2="171.0" stroke="#555" stroke-width="0.80"/>
<line x1="419.0" y1="171.0" x2="490.0" y2="134.0" stroke="#555" stroke-width="0.80"/>
<line x1="490.0" y1="134.0" x2="494.0" y2="24.5" stroke="#555" stroke-width="0.80"/>
<g><path d="M297.4 70.2l5.9 2.2 2.5-3.8-6-2.2z" fill="#c2ee14"/><path d="M302.5 72.1l6 2.3 2.4-3.8-5.9-2.3z" fill="#b7ee14"/><path d="M307.7 74.1l5.8 2.5 2.5-3.9-5.9-2.4z" fill="#aaee14"/><path d="M312.7 76.3l5.9 2.5 2.4-3.9-5.8-2.5z" fill="#9dee14"/><path d="M317.8 78.4l5.8 2.7 2.4-3.9-5.7-2.6z" fill="#8eed15"/><path d="M322.9 80.7l5.7 3 2.4-3.9-5.7-3z" fill="#84ed17"/><path d="M327.8 83.3l5.6 3.3 2.4-4-5.6-3.2z" fill="#7bec18"/><path d="M332.7 86.1l5.4 3.7 2.4-4-5.4-3.6z" fill="#71eb19"/><path d="M337.4 89.3l5.3 3.9 2.4-4-5.3-3.9z" fill="#64eb1a"/><path d="M342 92.7l5.3 4.1 2.4-4.2-5.3-4z" fill="#56ea1c"/><path d="M346.6 96.3l5.2 4.2 2.4-4.2-5.2-4.2z" fill="#47e91e"/><path d="M351.1 99.9l5.1 4.4 2.4-4.3-5.1-4.3z" fill="#3ae81f"/><path d="M355.6 103.7l4.9 4.7 2.4-4.4-4.9-4.6z" fill="#30e720"/><path d="M359.9 107.8l4.8 5.1 2.4-4.5-4.8-5z" fill="#26e722"/><path d="M364.1 112.2l4.6 5.4 2.5-4.6-4.7-5.3z" fill="#1ae623"/><path d="M368.2 116.9l4.7 5.4 2.4-4.7-4.7-5.3z" fill="#19e62a"/><path d="M372.3 121.6l4.8 5.1 2.4-4.8-4.8-5z" fill="#19e632"/><path d="M376.5 126.1l4.9 4.9 2.4-4.9-4.9-4.8z" fill="#18e639"/><path d="M380.8 130.4l4.9 4.9 2.4-5-4.9-4.8z" fill="#18e640"/><path d="M385.1 134.7l4.9 4.9 2.4-5.1-4.9-4.8z" fill="#18e64a"/><path d="M389.3 138.9l5 5 2.4-5.2-5-4.8z" fill="#18e55a"/><path d="M393.6 143.2l5 4.8 2.4-5.2-5-4.7z" fill="#17e56d"/><path d="M398 147.4l5 4.7 2.4-5.3-5-4.6z" fill="#17e580"/><path d="M402.3 151.5l5.1 4.6 2.4-5.4-5.1-4.5z" fill="#16e593"/><path d="M406.7 155.5l5.1 4.5 2.4-5.4-5.1-4.5z" fill="#16e5a5"/><path d="M411.2 159.5l5.1 4.4 2.4-5.5-5.1-4.4z" fill="#16e5b7"/><path d="M415.6 163.3l5.1 4.5 2.4-5.6-5.1-4.4z" fill="#15e4c8"/><path d="M420.1 167.2l4.9 4.8 2.5-5.7-5-4.7z" fill="#15e4d7"/><path d="M299.3 67.1l6 2.2 2.5-3.6-6-2.2z" fill="#ceee14"/><path d="M304.5 69l5.9 2.3 2.5-3.7-5.9-2.2z" fill="#c3ee14"/><path d="M309.6 71l5.9 2.4 2.5-3.7-5.9-2.4z" fill="#b6ee14"/><path d="M314.7 73.1l5.9 2.5 2.4-3.7-5.8-2.5z" fill="#a8ee14"/><path d="M319.8 75.3l5.8 2.6 2.4-3.8-5.8-2.6z" fill="#9cee14"/><path d="M324.8 77.5l5.7 3 2.5-3.8-5.7-3z" fill="#94ee15"/><path d="M329.8 80.1l5.5 3.2 2.5-3.8-5.6-3.2z" fill="#8ded16"/><path d="M334.6 82.9l5.4 3.6 2.5-4-5.5-3.5z" fill="#82ec17"/><path d="M339.3 86l5.4 3.9 2.4-4-5.3-3.8z" fill="#75ec18"/><path d="M344 89.4l5.2 4 2.4-4.1-5.2-3.9z" fill="#67eb1a"/><path d="M348.6 92.9l5.2 4.1 2.4-4.2-5.2-4z" fill="#57ea1c"/><path d="M353.1 96.5l5.1 4.3 2.4-4.3-5.1-4.2z" fill="#49e91d"/><path d="M357.6 100.2l4.9 4.6 2.4-4.4-4.9-4.5z" fill="#3fe81f"/><path d="M361.9 104.2l4.8 5 2.4-4.5-4.8-4.9z" fill="#36e820"/><path d="M366.1 108.5l4.6 5.3 2.4-4.6-4.6-5.2z" fill="#2be721"/><path d="M370.1 113.1l4.8 5.2 2.4-4.7-4.8-5z" fill="#1ee622"/><path d="M374.3 117.7l4.8 5 2.4-4.8-4.8-4.9z" fill="#19e628"/><path d="M378.5 122.1l4.9 4.8 2.4-4.9-4.9-4.7z" fill="#19e62f"/><path d="M382.8 126.3l4.9 4.8 2.4-5-4.9-4.7z" fill="#19e634"/><path d="M387.1 130.5l4.9 4.8 2.4-5.1-4.9-4.7z" fill="#18e63c"/><path d="M391.4 134.7l4.9 4.8 2.4-5.2-5-4.7z" fill="#18e64a"/><path d="M395.7 138.9l4.9 4.7 2.4-5.3-5-4.6z" fill="#18e55e"/><path d="M400 143l5 4.6 2.4-5.4-5-4.5z" fill="#17e571"/><path d="M404.4 147l5 4.5 2.4-5.4-5.1-4.4z" fill="#17e584"/><path d="M408.8 151l5.1 4.4 2.3-5.6-5.1-4.3z" fill="#16e597"/><path d="M413.2 154.8l5.1 4.4 2.4-5.6-5.1-4.3z" fill="#16e5a9"/><path d="M417.7 158.6l5.1 4.4 2.4-5.7-5.2-4.3z" fill="#16e5b9"/><path d="M422.1 162.4l5 4.8 2.4-5.9-5-4.6z" fill="#15e4c7"/><path d="M301.3 64.2l6 2.2 2.6-3.5-6-2.1z" fill="#dbee14"/><path d="M306.5 66.1l5.9 2.2 2.6-3.5-5.9-2.2z" fill="#d0ee14"/><path d="M311.6 68l5.9 2.4 2.5-3.5-5.8-2.4z" fill="#c3ee14"/><path d="M316.7 70.1l5.9 2.5 2.5-3.6-5.9-2.4z" fill="#b6ee14"/><path d="M321.8 72.2l5.8 2.6 2.5-3.6-5.8-2.6z" fill="#abee14"/><path d="M326.8 74.5l5.7 2.9 2.5-3.8-5.7-2.8z" fill="#a5ee14"/><path d="M331.8 77l5.5 3.2 2.5-3.8-5.6-3.1z" fill="#9fee14"/><path d="M336.6 79.7l5.4 3.5 2.5-3.8-5.5-3.5z" fill="#96ee15"/><path d="M341.3 82.8l5.3 3.8 2.5-4-5.3-3.7z" fill="#88ed16"/><path d="M346 86.1l5.2 3.9 2.4-4-5.2-3.9z" fill="#79ec18"/><path d="M350.5 89.5l5.2 4.1 2.5-4.2-5.2-3.9z" fill="#6aeb1a"/><path d="M355.1 93l5.1 4.2 2.4-4.2-5.1-4.1z" fill="#5cea1b"/><path d="M359.5 96.7l5 4.5 2.4-4.4-5-4.3z" fill="#51e91c"/><path d="M363.9 100.6l4.8 4.9 2.4-4.5-4.8-4.8z" fill="#48e91e"/><path d="M368 104.8l4.7 5.2 2.4-4.6-4.7-5.1z" fill="#3de81f"/><path d="M372.1 109.3l4.8 5.1 2.4-4.7-4.8-5z" fill="#30e720"/><path d="M376.3 113.8l4.8 4.9 2.4-4.9-4.8-4.7z" fill="#23e722"/><path d="M380.5 118.1l4.9 4.7 2.4-5-4.9-4.6z" fill="#19e624"/><path d="M384.8 122.2l4.9 4.7 2.4-5.1-4.9-4.6z" fill="#19e62b"/><path d="M389.1 126.3l4.9 4.7 2.4-5.2-4.9-4.6z" fill="#19e631"/><path d="M393.4 130.4l4.9 4.7 2.4-5.3-5-4.6z" fill="#18e63d"/><path d="M397.7 134.5l5 4.6 2.3-5.4-5-4.5z" fill="#18e64e"/><path d="M402 138.5l5 4.5 2.4-5.5-5-4.4z" fill="#18e561"/><path d="M406.4 142.5l5.1 4.4 2.3-5.7-5.1-4.3z" fill="#17e574"/><path d="M410.8 146.3l5.1 4.4 2.4-5.8-5.2-4.3z" fill="#17e586"/><path d="M415.2 150.1l5.2 4.3 2.3-5.9-5.1-4.2z" fill="#16e598"/><path d="M419.7 153.8l5.1 4.3 2.4-5.9-5.2-4.2z" fill="#16e5a7"/><path d="M424.2 157.5l5 4.7 2.3-6.1-5-4.5z" fill="#16e5b4"/><path d="M303.4 61.5l5.9 2.1 2.7-3.3-6-2z" fill="#e7ee14"/><path d="M308.5 63.3l5.9 2.2 2.7-3.4-5.9-2.1z" fill="#ddee14"/><path d="M313.6 65.2l5.9 2.4 2.6-3.5-5.8-2.3z" fill="#d2ee14"/><path d="M318.7 67.3l5.9 2.4 2.6-3.5-5.9-2.4z" fill="#c6ee14"/><path d="M323.8 69.3l5.8 2.6 2.5-3.6-5.7-2.5z" fill="#bdee14"/><path d="M328.8 71.5l5.7 2.9 2.5-3.7-5.6-2.8z" fill="#b7ee14"/><path d="M333.7 74l5.6 3.1 2.5-3.7-5.5-3.1z" fill="#b0ee14"/><path d="M338.6 76.6l5.4 3.5 2.5-3.8-5.4-3.4z" fill="#a7ee14"/><path d="M343.3 79.6l5.3 3.7 2.5-3.9-5.3-3.6z" fill="#9dee14"/><path d="M347.9 82.9l5.3 3.8 2.5-4-5.3-3.7z" fill="#8eed15"/><path d="M352.5 86.2l5.2 4 2.5-4.2-5.2-3.8z" fill="#7fec17"/><path d="M357.1 89.6l5.1 4.1 2.4-4.2-5.1-4z" fill="#72eb19"/><path d="M361.5 93.2l5 4.4 2.4-4.4-4.9-4.2z" fill="#67eb1a"/><path d="M365.8 97l4.8 4.7 2.5-4.4-4.8-4.7z" fill="#5dea1b"/><path d="M370 101.1l4.7 5.1 2.5-4.7-4.7-4.9z" fill="#51e91d"/><path d="M374.1 105.5l4.8 5 2.4-4.8-4.7-4.8z" fill="#44e91e"/><path d="M378.3 109.8l4.8 4.8 2.5-4.9-4.9-4.6z" fill="#36e820"/><path d="M382.5 114l4.9 4.6 2.4-5-4.9-4.5z" fill="#27e721"/><path d="M386.8 118l4.9 4.6 2.4-5.2-4.9-4.4z" fill="#1be623"/><path d="M391.1 122l4.9 4.6 2.4-5.3-4.9-4.4z" fill="#19e628"/><path d="M395.4 126l4.9 4.6 2.4-5.4-4.9-4.5z" fill="#19e631"/><path d="M399.7 130l5 4.5 2.4-5.6-5-4.3z" fill="#18e640"/><path d="M404 133.9l5.1 4.4 2.3-5.7-5-4.2z" fill="#18e650"/><path d="M408.4 137.7l5.1 4.3 2.4-5.7-5.1-4.2z" fill="#18e562"/><path d="M412.8 141.5l5.1 4.2 2.4-5.9-5.1-4.1z" fill="#17e574"/><path d="M417.2 145.1l5.2 4.2 2.3-6-5.1-4z" fill="#17e585"/><path d="M421.7 148.8l5.1 4.2 2.4-6.1-5.1-4.1z" fill="#16e594"/><path d="M426.2 152.4l5 4.5 2.3-6.2-5-4.4z" fill="#16e59f"/><path d="M305.4 59l6 2 2.8-3.2-6-1.9z" fill="#f4ee14"/><path d="M310.6 60.7l5.9 2.1 2.8-3.2-6-2.1z" fill="#ebee14"/><path d="M315.7 62.5l5.9 2.3 2.7-3.3-5.9-2.2z" fill="#e1ee14"/><path d="M320.8 64.5l5.8 2.4 2.7-3.4-5.8-2.3z" fill="#d7ee14"/><path d="M325.8 66.5l5.8 2.5 2.7-3.5-5.8-2.4z" fill="#d0ee14"/><path d="M330.9 68.6l5.6 2.8 2.7-3.5-5.7-2.7z" fill="#c9ee14"/><path d="M335.8 71l5.5 3.1 2.6-3.7-5.5-2.9z" fill="#c2ee14"/><path d="M340.6 73.6l5.4 3.4 2.6-3.7-5.4-3.3z" fill="#b9ee14"/><path d="M345.3 76.5l5.4 3.6 2.5-3.8-5.3-3.5z" fill="#aeee14"/><path d="M350 79.7l5.2 3.7 2.6-3.9-5.3-3.7z" fill="#a3ee14"/><path d="M354.5 82.9l5.2 3.9 2.6-4.1-5.2-3.7z" fill="#96ee15"/><path d="M359.1 86.3l5.1 4 2.5-4.2-5.1-3.9z" fill="#89ed16"/><path d="M363.5 89.7l5 4.3 2.5-4.3-5-4.1z" fill="#7eec17"/><path d="M367.9 93.4l4.8 4.6 2.5-4.4-4.8-4.5z" fill="#73ec19"/><path d="M372 97.4l4.8 4.9 2.5-4.6-4.7-4.7z" fill="#67eb1a"/><path d="M376.1 101.7l4.8 4.8 2.5-4.8-4.8-4.6z" fill="#5aea1b"/><path d="M380.3 105.9l4.9 4.6 2.4-4.9-4.8-4.5z" fill="#4ce91d"/><path d="M384.5 109.9l5 4.5 2.4-5-4.9-4.4z" fill="#3ce81f"/><path d="M388.8 113.8l5 4.4 2.4-5.1-4.9-4.3z" fill="#2de721"/><path d="M393.1 117.7l5 4.4 2.4-5.3-4.9-4.3z" fill="#22e722"/><path d="M397.4 121.5l5 4.5 2.4-5.5-4.9-4.3z" fill="#19e625"/><path d="M401.7 125.4l5 4.4 2.5-5.6-5-4.2z" fill="#19e631"/><path d="M406 129.2l5.1 4.2 2.4-5.6-5-4.2z" fill="#18e63f"/><path d="M410.4 132.9l5.1 4.2 2.4-5.8-5.1-4.1z" fill="#18e64f"/><path d="M414.8 136.5l5.2 4.1 2.4-5.9-5.1-4z" fill="#18e55f"/><path d="M419.3 140.1l5.1 4.1 2.4-6.1-5.1-3.9z" fill="#17e56f"/><path d="M423.7 143.6l5.2 4.1 2.4-6.1-5.2-4z" fill="#17e57d"/><path d="M428.2 147.1l5 4.4 2.4-6.3-5-4.2z" fill="#17e588"/><path d="M307.6 56.5l6 2 2.8-3.1-5.9-1.9z" fill="#fceb14"/><path d="M312.7 58.2l6 2.1 2.8-3.2-5.9-2z" fill="#faee14"/><path d="M317.8 60l5.9 2.2 2.8-3.3-5.9-2.1z" fill="#f1ee14"/><path d="M322.9 61.9l5.9 2.2 2.7-3.3-5.8-2.2z" fill="#e9ee14"/><path d="M327.9 63.8l5.9 2.4 2.7-3.4-5.8-2.3z" fill="#e3ee14"/><path d="M333 65.9l5.7 2.6 2.6-3.4-5.6-2.6z" fill="#dcee14"/><path d="M337.9 68.2l5.5 2.9 2.7-3.6-5.5-2.8z" fill="#d5ee14"/><path d="M342.7 70.7l5.4 3.2 2.7-3.6-5.4-3.2z" fill="#ccee14"/><path d="M347.4 73.5l5.3 3.5 2.7-3.8-5.3-3.4z" fill="#c1ee14"/><path d="M352.1 76.5l5.2 3.7 2.6-3.9-5.2-3.5z" fill="#b6ee14"/><path d="M356.6 79.7l5.2 3.7 2.6-4-5.2-3.6z" fill="#aaee14"/><path d="M361.2 82.9l5.1 3.9 2.5-4.1-5.1-3.8z" fill="#a1ee14"/><path d="M365.6 86.3l5 4.1 2.5-4.3-4.9-3.9z" fill="#97ee15"/><path d="M369.9 89.9l4.8 4.4 2.6-4.4-4.8-4.3z" fill="#8bed16"/><path d="M374.1 93.7l4.7 4.8 2.6-4.6-4.7-4.6z" fill="#7fec17"/><path d="M378.2 97.8l4.8 4.7 2.5-4.8-4.8-4.4z" fill="#73ec19"/><path d="M382.4 101.9l4.9 4.5 2.5-4.9-4.9-4.3z" fill="#65eb1a"/><path d="M386.6 105.8l5 4.3 2.5-5-5-4.2z" fill="#56ea1c"/><path d="M390.9 109.6l5 4.3 2.5-5.2-5-4.2z" fill="#47e91e"/><path d="M395.2 113.3l5 4.3 2.4-5.3-4.9-4.2z" fill="#39e81f"/><path d="M399.5 117l5 4.3 2.4-5.4-4.9-4.2z" fill="#2ce721"/><path d="M403.8 120.8l5 4.2 2.5-5.6-5-4.1z" fill="#1de623"/><path d="M408.1 124.4l5.1 4.2 2.4-5.8-5-4z" fill="#19e62d"/><path d="M412.5 128l5.1 4.1 2.5-5.9-5.1-3.9z" fill="#18e63b"/><path d="M416.9 131.5l5.1 4 2.5-6-5.1-3.8z" fill="#18e649"/><path d="M421.4 135l5.1 3.9 2.4-6.1-5.1-3.8z" fill="#18e657"/><path d="M425.8 138.4l5.2 4 2.4-6.3-5.2-3.8z" fill="#17e564"/><path d="M430.3 141.8l5 4.3 2.4-6.4-5-4.1z" fill="#17e56f"/><path d="M309.9 54.2l5.9 1.9 2.8-3.3-6-1.8z" fill="#fce314"/><path d="M315 55.8l5.9 2 2.7-3.4-5.9-1.9z" fill="#fce714"/><path d="M320.1 57.5l5.8 2.1 2.7-3.4-5.9-2z" fill="#fceb14"/><path d="M325.1 59.3l5.9 2.2 2.6-3.5-5.8-2.1z" fill="#fcee14"/><path d="M330.1 61.2l5.8 2.3 2.6-3.5-5.7-2.3z" fill="#f6ee14"/><path d="M335.1 63.1l5.7 2.6 2.6-3.6-5.7-2.5z" fill="#f0ee14"/><path d="M340.1 65.4l5.5 2.8 2.6-3.7-5.6-2.7z" fill="#e8ee14"/><path d="M344.9 67.8l5.4 3.2 2.5-3.8-5.4-3.1z" fill="#dfee14"/><path d="M349.6 70.5l5.3 3.4 2.5-3.9-5.3-3.3z" fill="#d5ee14"/><path d="M354.2 73.5l5.3 3.5 2.5-4-5.3-3.4z" fill="#caee14"/><path d="M358.8 76.5l5.2 3.6 2.5-4.1-5.2-3.5z" fill="#bfee14"/><path d="M363.3 79.6l5.1 3.8 2.5-4.2-5.1-3.7z" fill="#b5ee14"/><path d="M367.7 82.9l5 4 2.5-4.4-5-3.8z" fill="#abee14"/><path d="M372.1 86.3l4.8 4.3 2.4-4.4-4.8-4.2z" fill="#a2ee14"/><path d="M376.2 90l4.8 4.6 2.4-4.6-4.7-4.4z" fill="#98ee14"/><path d="M380.3 94l4.8 4.5 2.5-4.8-4.8-4.3z" fill="#8ced16"/><path d="M384.5 97.9l4.9 4.3 2.4-4.9-4.9-4.1z" fill="#81ec17"/><path d="M388.7 101.7l5 4.2 2.4-5.1-4.9-4z" fill="#72ec19"/><path d="M393 105.3l5 4.2 2.4-5.2-5-4z" fill="#63eb1a"/><path d="M397.3 108.9l5 4.2 2.4-5.3-5-4.1z" fill="#54ea1c"/><path d="M401.6 112.5l5 4.2 2.4-5.5-5-4z" fill="#46e91e"/><path d="M405.9 116.1l5 4.1 2.4-5.6-5-3.9z" fill="#37e820"/><path d="M410.2 119.6l5.1 4 2.4-5.7-5.1-3.8z" fill="#27e721"/><path d="M414.6 123.1l5.1 3.9 2.4-5.8-5.1-3.8z" fill="#19e626"/><path d="M419 126.5l5.2 3.8 2.3-5.9-5.1-3.7z" fill="#19e632"/><path d="M423.5 129.8l5.1 3.8 2.4-6-5.2-3.7z" fill="#18e63e"/><path d="M427.9 133.1l5.2 3.8 2.3-6.1-5.1-3.7z" fill="#18e64a"/><path d="M432.4 136.4l5 4.1 2.3-6.3-5-4z" fill="#18e655"/><path d="M312 51.7l6 1.8 2.6-3.4-5.9-1.8z" fill="#fcdb14"/><path d="M317.1 53.2l5.9 1.9 2.7-3.4-5.9-1.9z" fill="#fcde14"/><path d="M322.2 54.9l5.9 2 2.5-3.5-5.8-2z" fill="#fce114"/><path d="M327.2 56.6l5.9 2.1 2.5-3.5-5.8-2.1z" fill="#fce314"/><path d="M332.3 58.4l5.7 2.3 2.6-3.7-5.8-2.1z" fill="#fce614"/><path d="M337.2 60.3l5.7 2.5 2.5-3.7-5.6-2.4z" fill="#fce914"/><path d="M342.1 62.5l5.6 2.7 2.5-3.7-5.5-2.7z" fill="#fced14"/><path d="M346.9 64.8l5.5 3.1 2.5-3.9-5.4-2.9z" fill="#f4ee14"/><path d="M351.6 67.4l5.4 3.3 2.4-3.9-5.3-3.2z" fill="#eaee14"/><path d="M356.3 70.3l5.2 3.4 2.5-4-5.3-3.3z" fill="#dfee14"/><path d="M360.8 73.2l5.2 3.5 2.5-4.1-5.2-3.4z" fill="#d4ee14"/><path d="M365.3 76.3l5.2 3.6 2.4-4.2-5.1-3.6z" fill="#caee14"/><path d="M369.8 79.4l5 3.9 2.4-4.4-5-3.7z" fill="#c0ee14"/><path d="M374.1 82.7l4.8 4.2 2.5-4.5-4.9-4z" fill="#b6ee14"/><path d="M378.3 86.3l4.7 4.5 2.5-4.7-4.8-4.2z" fill="#acee14"/><path d="M382.4 90.2l4.8 4.3 2.4-4.8-4.8-4.2z" fill="#a3ee14"/><path d="M386.5 93.9l4.9 4.2 2.5-4.9-4.9-4z" fill="#9bee14"/><path d="M390.8 97.6l4.9 4 2.4-5-4.9-3.9z" fill="#8fed15"/><path d="M395.1 101.1l4.9 4 2.4-5.2-4.9-3.8z" fill="#7fec17"/><path d="M399.4 104.5l4.9 4 2.4-5.2-4.9-3.9z" fill="#70eb19"/><path d="M403.7 108l4.9 4 2.4-5.4-4.9-3.8z" fill="#62ea1b"/><path d="M408 111.5l5 3.9 2.4-5.5-5.1-3.8z" fill="#53ea1c"/><path d="M412.3 114.9l5.1 3.8 2.3-5.6-5-3.7z" fill="#44e91e"/><path d="M416.7 118.2l5.1 3.8 2.3-5.7-5.1-3.7z" fill="#34e820"/><path d="M421.1 121.5l5.1 3.7 2.4-5.8-5.2-3.6z" fill="#24e722"/><path d="M425.5 124.7l5.2 3.7 2.3-6-5.1-3.5z" fill="#19e627"/><path d="M430 127.9l5.1 3.7 2.4-6-5.2-3.6z" fill="#19e631"/><path d="M434.4 131.1l5 3.9 2.4-6.1-5-3.9z" fill="#18e63c"/><path d="M314.1 49.1l6 1.7 2.6-3.5-5.9-1.7z" fill="#fcd114"/><path d="M319.2 50.6l5.9 1.8 2.6-3.6-5.9-1.8z" fill="#fcd414"/><path d="M324.3 52.1l5.8 2 2.6-3.6-5.8-1.9z" fill="#fcd614"/><path d="M329.3 53.8l5.8 2.1 2.6-3.7-5.8-2z" fill="#fcd814"/><path d="M334.3 55.6l5.8 2.1 2.5-3.7-5.7-2.1z" fill="#fcdb14"/><path d="M339.3 57.4l5.7 2.4 2.5-3.7-5.7-2.4z" fill="#fcde14"/><path d="M344.2 59.5l5.5 2.7 2.5-3.8-5.5-2.7z" fill="#fce214"/><path d="M349 61.8l5.4 2.9 2.5-3.9-5.4-2.8z" fill="#fce714"/><path d="M353.7 64.3l5.3 3.2 2.5-4-5.3-3.1z" fill="#fcec14"/><path d="M358.3 67.1l5.2 3.3 2.5-4.1-5.2-3.2z" fill="#f5ee14"/><path d="M362.8 69.9l5.2 3.4 2.5-4.1-5.2-3.3z" fill="#eaee14"/><path d="M367.4 72.9l5.1 3.5 2.4-4.2-5.1-3.5z" fill="#dfee14"/><path d="M371.8 75.9l5 3.8 2.4-4.4-5-3.6z" fill="#d5ee14"/><path d="M376.1 79.1l4.9 4.1 2.4-4.5-4.8-3.9z" fill="#caee14"/><path d="M380.3 82.6l4.8 4.3 2.4-4.6-4.8-4.1z" fill="#c0ee14"/><path d="M384.4 86.3l4.8 4.2 2.5-4.7-4.9-4.1z" fill="#b7ee14"/><path d="M388.6 89.9l4.9 4.1 2.4-4.9-4.9-3.9z" fill="#afee14"/><path d="M392.8 93.4l5 4 2.4-5-5-3.8z" fill="#a6ee14"/><path d="M397.1 96.8l5 3.9 2.4-5-5-3.8z" fill="#9bee14"/><path d="M401.4 100.2l5 3.9 2.4-5.2-5-3.8z" fill="#8ced16"/><path d="M405.7 103.5l5 3.9 2.4-5.3-5-3.7z" fill="#7eec17"/><path d="M410 106.9l5 3.8 2.4-5.4-5-3.7z" fill="#71eb19"/><path d="M414.3 110.2l5.1 3.7 2.4-5.5-5.1-3.6z" fill="#62eb1b"/><path d="M418.7 113.4l5.1 3.7 2.4-5.6-5.1-3.6z" fill="#54ea1c"/><path d="M423.1 116.6l5.1 3.6 2.4-5.7-5.1-3.5z" fill="#45e91e"/><path d="M427.5 119.7l5.2 3.5 2.4-5.7-5.2-3.5z" fill="#36e820"/><path d="M432 122.8l5.1 3.6 2.4-5.9-5.1-3.5z" fill="#28e721"/><path d="M436.4 125.8l5.1 3.9 2.3-6-5-3.7z" fill="#19e623"/><path d="M316.2 46.3l5.9 1.7 2.9-3.2-6-1.7z" fill="#fcc814"/><path d="M321.2 47.7l6 1.8 2.8-3.2-5.9-1.8z" fill="#fcca14"/><path d="M326.3 49.3l5.9 1.9 2.8-3.3-5.9-1.9z" fill="#fccb14"/><path d="M331.3 50.9l5.9 2 2.8-3.4-5.9-1.9z" fill="#fccd14"/><path d="M336.3 52.6l5.8 2.1 2.8-3.4-5.8-2z" fill="#fccf14"/><path d="M341.3 54.4l5.7 2.4 2.7-3.5-5.6-2.3z" fill="#fcd314"/><path d="M346.2 56.4l5.6 2.6 2.7-3.5-5.6-2.6z" fill="#fcd714"/><path d="M351 58.7l5.4 2.8 2.7-3.6-5.4-2.8z" fill="#fcdc14"/><path d="M355.7 61.1l5.3 3.1 2.7-3.7-5.3-3z" fill="#fce114"/><path d="M360.3 63.8l5.3 3.2 2.6-3.8-5.3-3.1z" fill="#fce614"/><path d="M364.8 66.6l5.3 3.3 2.6-3.9-5.2-3.3z" fill="#fcec14"/><path d="M369.4 69.5l5.1 3.4 2.6-4.1-5.1-3.3z" fill="#f4ee14"/><path d="M373.8 72.4l5 3.6 2.6-4.1-5-3.5z" fill="#e9ee14"/><path d="M378.1 75.5l4.9 3.9 2.6-4.3-4.9-3.7z" fill="#deee14"/><path d="M382.3 78.9l4.8 4.1 2.6-4.4-4.8-4z" fill="#d4ee14"/><path d="M386.4 82.5l4.9 4 2.6-4.6-4.9-3.9z" fill="#caee14"/><path d="M390.6 86l4.9 3.9 2.6-4.7-4.9-3.8z" fill="#c2ee14"/><path d="M394.8 89.4l5 3.8 2.6-4.9-5-3.7z" fill="#b9ee14"/><path d="M399.1 92.7l5 3.7 2.6-5-5-3.6z" fill="#b0ee14"/><path d="M403.4 95.9l5 3.8 2.6-5.2-5-3.6z" fill="#a6ee14"/><path d="M407.7 99.1l5 3.8 2.6-5.3-5-3.6z" fill="#9bee14"/><path d="M412 102.4l5.1 3.7 2.5-5.4-5-3.6z" fill="#8eed15"/><path d="M416.4 105.6l5 3.6 2.6-5.5-5.1-3.5z" fill="#82ec17"/><path d="M420.7 108.7l5.2 3.5 2.5-5.6-5.1-3.4z" fill="#74ec18"/><path d="M425.2 111.8l5.1 3.5 2.5-5.8-5.1-3.4z" fill="#66eb1a"/><path d="M429.6 114.8l5.1 3.4 2.6-5.8-5.2-3.4z" fill="#58ea1c"/><path d="M434 117.8l5.2 3.5 2.5-6-5.1-3.4z" fill="#4be91d"/><path d="M438.5 120.8l5 3.7 2.5-6.1-5-3.6z" fill="#3de81f"/><path d="M318.4 43.8l6 1.7 3-3-6-1.6z" fill="#fcbe14"/><path d="M323.4 45.2l6 1.8 3-3.1-5.9-1.7z" fill="#fcc014"/><path d="M328.5 46.7l5.9 1.9 3-3.2-5.9-1.8z" fill="#fcc114"/><path d="M333.5 48.3l5.9 1.9 2.9-3.2-5.8-1.8z" fill="#fcc214"/><path d="M338.5 49.9l5.8 2.1 3-3.3-5.8-2z" fill="#fcc414"/><path d="M343.5 51.7l5.7 2.3 2.9-3.4-5.7-2.2z" fill="#fcc814"/><path d="M348.4 53.6l5.5 2.5 2.9-3.4-5.5-2.4z" fill="#fccc14"/><path d="M353.2 55.8l5.4 2.8 2.8-3.6-5.4-2.6z" fill="#fcd114"/><path d="M357.8 58.1l5.4 3.1 2.8-3.7-5.3-2.9z" fill="#fcd614"/><path d="M362.4 60.7l5.3 3.2 2.8-3.8-5.2-3z" fill="#fcdb14"/><path d="M367 63.4l5.2 3.3 2.8-3.9-5.2-3.1z" fill="#fce114"/><path d="M371.5 66.2l5.1 3.3 2.8-3.9-5.1-3.2z" fill="#fce714"/><path d="M376 69.1l5 3.5 2.7-4.1-5-3.4z" fill="#fced14"/><path d="M380.3 72.1l4.8 3.7 2.8-4.2-4.9-3.6z" fill="#f2ee14"/><path d="M384.5 75.3l4.7 4 2.8-4.4-4.8-3.8z" fill="#e7ee14"/><path d="M388.6 78.7l4.8 4 2.8-4.6-4.9-3.7z" fill="#deee14"/><path d="M392.8 82.1l4.9 3.8 2.7-4.7-4.9-3.6z" fill="#d6ee14"/><path d="M397 85.4l5 3.6 2.7-4.8-5-3.5z" fill="#ceee14"/><path d="M401.3 88.5l5 3.7 2.7-5-5-3.5z" fill="#c5ee14"/><path d="M405.6 91.7l5 3.6 2.7-5.1-5-3.5z" fill="#bcee14"/><path d="M409.9 94.8l5 3.6 2.7-5.2-5-3.5z" fill="#b2ee14"/><path d="M414.2 97.9l5 3.6 2.7-5.4-5-3.4z" fill="#a9ee14"/><path d="M418.6 101l5 3.4 2.7-5.5-5.1-3.3z" fill="#a0ee14"/><path d="M422.9 104l5.1 3.4 2.7-5.7-5.1-3.2z" fill="#95ee15"/><path d="M427.3 106.9l5.2 3.4 2.6-5.8-5.1-3.2z" fill="#88ed16"/><path d="M431.8 109.8l5.1 3.4 2.7-5.9-5.2-3.2z" fill="#7bec18"/><path d="M436.2 112.7l5.2 3.4 2.6-6-5.1-3.3z" fill="#6eeb19"/><path d="M440.7 115.6l5 3.6 2.6-6.1-5-3.5z" fill="#62ea1b"/><path d="M320.7 41.6l6 1.6 3.2-2.9-6-1.6z" fill="#fcb514"/><path d="M325.8 42.9l5.9 1.7 3.2-3-6-1.6z" fill="#fcb514"/><path d="M330.8 44.3l5.9 1.8 3.1-3-5.8-1.8z" fill="#fcb614"/><path d="M335.8 45.8l5.9 1.9 3.1-3.1-5.9-1.8z" fill="#fcb814"/><path d="M340.8 47.4l5.8 2 3.1-3.2-5.8-1.9z" fill="#fcba14"/><path d="M345.8 49.1l5.7 2.2 3-3.3-5.7-2.1z" fill="#fcbd14"/><path d="M350.7 50.9l5.5 2.5 3-3.4-5.6-2.3z" fill="#fcc114"/><path d="M355.4 53l5.5 2.7 2.9-3.4-5.4-2.6z" fill="#fcc614"/><path d="M360.1 55.3l5.4 2.9 2.9-3.5-5.3-2.8z" fill="#fcca14"/><path d="M364.7 57.8l5.3 3 2.9-3.7-5.3-2.8z" fill="#fcd014"/><path d="M369.3 60.4l5.2 3.1 2.9-3.8-5.2-3z" fill="#fcd614"/><path d="M373.8 63l5.1 3.3 2.9-3.9-5.1-3.1z" fill="#fcdc14"/><path d="M378.2 65.8l5 3.4 2.9-4.1-5-3.2z" fill="#fce214"/><path d="M382.6 68.7l4.8 3.6 2.9-4.2-4.9-3.4z" fill="#fce814"/><path d="M386.8 71.8l4.7 3.8 2.9-4.3-4.8-3.7z" fill="#fcee14"/><path d="M390.9 75.1l4.8 3.7 2.8-4.5-4.8-3.5z" fill="#f2ee14"/><path d="M395.1 78.3l4.9 3.6 2.8-4.6-4.9-3.5z" fill="#eaee14"/><path d="M399.3 81.4l5 3.5 2.8-4.8-5-3.3z" fill="#e3ee14"/><path d="M403.6 84.5l5 3.4 2.8-4.9-5-3.3z" fill="#dbee14"/><path d="M407.9 87.4l5 3.5 2.8-5.1-5-3.3z" fill="#d2ee14"/><path d="M412.2 90.4l5 3.5 2.8-5.2-5-3.3z" fill="#caee14"/><path d="M416.5 93.4l5.1 3.4 2.7-5.3-5-3.3z" fill="#c1ee14"/><path d="M420.8 96.4l5.1 3.3 2.8-5.5-5.1-3.2z" fill="#b8ee14"/><path d="M425.2 99.2l5.1 3.3 2.8-5.6-5.1-3.2z" fill="#b0ee14"/><path d="M429.6 102.1l5.2 3.2 2.7-5.8-5.1-3.1z" fill="#a6ee14"/><path d="M434.1 104.8l5.1 3.3 2.7-5.9-5.1-3.1z" fill="#9dee14"/><path d="M438.5 107.6l5.2 3.3 2.7-6.1-5.2-3.1z" fill="#92ed15"/><path d="M443 110.4l5 3.5 2.7-6.2-5.1-3.3z" fill="#86ed16"/><path d="M323.1 39.4l6.1 1.5 3.3-2.8-6.1-1.4z" fill="#fcab14"/><path d="M328.2 40.7l6 1.6 3.2-2.9-6-1.5z" fill="#fcac14"/><path d="M333.2 42l5.9 1.8 3.2-3-5.9-1.7z" fill="#fcac14"/><path d="M338.2 43.5l5.9 1.8 3.2-3.1-5.9-1.7z" fill="#fcad14"/><path d="M343.2 45l5.8 1.9 3.2-3.1-5.9-1.8z" fill="#fcaf14"/><path d="M348.2 46.6l5.7 2.1 3.1-3.2-5.7-2z" fill="#fcb214"/><path d="M353 48.4l5.6 2.3 3.1-3.3-5.6-2.2z" fill="#fcb614"/><path d="M357.8 50.3l5.5 2.6 3-3.4-5.5-2.4z" fill="#fcba14"/><path d="M362.5 52.5l5.3 2.8 3-3.5-5.3-2.6z" fill="#fcbf14"/><path d="M367.1 54.9l5.3 2.9 2.9-3.6-5.2-2.8z" fill="#fcc414"/><path d="M371.6 57.4l5.3 3 2.9-3.7-5.2-2.9z" fill="#fcca14"/><path d="M376.1 60l5.2 3 2.9-3.8-5.1-2.9z" fill="#fcd114"/><path d="M380.6 62.6l5 3.2 2.9-4-5-3z" fill="#fcd714"/><path d="M384.9 65.4l4.9 3.4 2.9-4.1-4.9-3.3z" fill="#fcdd14"/><path d="M389.1 68.3l4.8 3.7 2.9-4.3-4.8-3.5z" fill="#fce314"/><path d="M393.2 71.5l4.9 3.5 2.8-4.4-4.8-3.4z" fill="#fce814"/><path d="M397.4 74.5l4.9 3.5 2.9-4.6-4.9-3.3z" fill="#fcec14"/><path d="M401.6 77.5l5 3.4 2.9-4.8-5-3.2z" fill="#f9ee14"/><path d="M405.9 80.4l5.1 3.3 2.8-4.9-5-3.2z" fill="#f1ee14"/><path d="M410.3 83.3l5 3.3 2.8-5.1-5-3.2z" fill="#e9ee14"/><path d="M414.6 86.1l5 3.3 2.8-5.2-5-3.2z" fill="#e1ee14"/><path d="M418.9 89l5 3.2 2.8-5.4-5-3.1z" fill="#d9ee14"/><path d="M423.2 91.8l5.1 3.1 2.8-5.5-5.1-3z" fill="#d1ee14"/><path d="M427.6 94.5l5.1 3.1 2.8-5.6-5.1-3z" fill="#c9ee14"/><path d="M432 97.2l5.1 3.1 2.8-5.8-5.1-3z" fill="#c1ee14"/><path d="M436.4 99.9l5.2 3 2.7-5.9-5.1-2.9z" fill="#b8ee14"/><path d="M440.9 102.5l5.1 3.1 2.8-6-5.2-3z" fill="#b0ee14"/><path d="M445.3 105.2l5 3.3 2.8-6.2-5.1-3.2z" fill="#a7ee14"/><path d="M325.6 37.3l6.1 1.5 3.4-2.7-6.1-1.3z" fill="#fca214"/><path d="M330.6 38.5l6.1 1.6 3.3-2.8-6-1.4z" fill="#fca214"/><path d="M335.7 39.8l5.9 1.7 3.3-2.9-5.9-1.5z" fill="#fca314"/><path d="M340.6 41.2l6 1.7 3.2-2.9-5.9-1.6z" fill="#fca314"/><path d="M345.6 42.6l5.9 1.8 3.2-3-5.8-1.7z" fill="#fca414"/><path d="M350.6 44.1l5.7 2.1 3.2-3.1-5.7-1.9z" fill="#fca614"/><path d="M355.4 45.8l5.6 2.3 3.2-3.2-5.6-2.1z" fill="#fcaa14"/><path d="M360.2 47.7l5.5 2.5 3.1-3.3-5.5-2.3z" fill="#fcaf14"/><path d="M364.9 49.8l5.4 2.7 3-3.4-5.3-2.5z" fill="#fcb314"/><path d="M369.5 52.1l5.3 2.8 3-3.6-5.3-2.6z" fill="#fcb914"/><path d="M374 54.5l5.3 2.8 3-3.6-5.3-2.7z" fill="#fcbf14"/><path d="M378.5 56.9l5.2 3 3-3.8-5.2-2.8z" fill="#fcc514"/><path d="M383 59.4l5 3.1 3-3.9-5.1-2.9z" fill="#fccc14"/><path d="M387.3 62.1l4.9 3.3 2.9-4.1-4.9-3.1z" fill="#fcd214"/><path d="M391.5 64.9l4.8 3.5 2.9-4.3-4.8-3.3z" fill="#fcd714"/><path d="M395.6 67.9l4.9 3.4 2.9-4.5-4.9-3.2z" fill="#fcdb14"/><path d="M399.8 70.8l4.9 3.3 3-4.6-5-3.1z" fill="#fcdf14"/><path d="M404 73.6l5.1 3.2 2.9-4.8-5.1-3z" fill="#fce314"/><path d="M408.3 76.3l5.1 3.2 2.8-4.9-5-3z" fill="#fce714"/><path d="M412.6 79.1l5.1 3.1 2.8-5.1-5-2.9z" fill="#fceb14"/><path d="M417 81.8l5 3.1 2.8-5.2-5-3z" fill="#faee14"/><path d="M421.3 84.5l5 3.1 2.9-5.4-5.1-2.9z" fill="#f2ee14"/><path d="M425.6 87.1l5.1 3.1 2.8-5.6-5.1-2.8z" fill="#ebee14"/><path d="M430 89.7l5.1 3 2.8-5.7-5.1-2.8z" fill="#e3ee14"/><path d="M434.4 92.3l5.1 2.9 2.9-5.8-5.2-2.8z" fill="#dcee14"/><path d="M438.8 94.8l5.2 3 2.8-6-5.2-2.8z" fill="#d4ee14"/><path d="M443.3 97.4l5.1 2.9 2.8-6.1-5.2-2.8z" fill="#ccee14"/><path d="M447.7 99.9l5 3.1 2.8-6.2-5-3z" fill="#c4ee14"/><path d="M328.1 35.4l6.1 1.4 3.5-2.6-6.1-1.3z" fill="#fc9a14"/><path d="M333.2 36.6l6 1.4 3.4-2.7-6-1.4z" fill="#fc9a14"/><path d="M338.2 37.7l5.9 1.6 3.4-2.8-5.9-1.5z" fill="#fc9914"/><path d="M343.2 39l5.9 1.7 3.3-2.9-5.9-1.6z" fill="#fc9914"/><path d="M348.1 40.4l5.9 1.7 3.2-3-5.8-1.6z" fill="#fc9a14"/><path d="M353.1 41.8l5.7 1.9 3.2-3-5.7-1.9z" fill="#fc9b14"/><path d="M357.9 43.4l5.6 2.2 3.2-3.2-5.6-2z" fill="#fc9f14"/><path d="M362.7 45.2l5.5 2.4 3.1-3.3-5.5-2.2z" fill="#fca314"/><path d="M367.4 47.2l5.3 2.5 3.1-3.3-5.3-2.5z" fill="#fca814"/><path d="M371.9 49.4l5.4 2.6 3-3.5-5.3-2.5z" fill="#fcae14"/><path d="M376.5 51.6l5.2 2.8 3.1-3.7-5.3-2.6z" fill="#fcb314"/><path d="M381 53.9l5.1 2.9 3.1-3.8-5.2-2.7z" fill="#fcba14"/><path d="M385.4 56.3l5 3 3-3.9-5-2.8z" fill="#fcc014"/><path d="M389.7 58.8l4.9 3.2 3-4.1-4.9-3z" fill="#fcc614"/><path d="M393.9 61.5l4.9 3.3 2.9-4.3-4.8-3z" fill="#fcca14"/><path d="M398.1 64.3l4.9 3.2 2.9-4.4-4.9-3z" fill="#fcce14"/><path d="M402.2 67.1l5 3.1 2.9-4.6-4.9-2.9z" fill="#fcd214"/><path d="M406.5 69.7l5 3.1 2.9-4.8-5-2.8z" fill="#fcd614"/><path d="M410.8 72.3l5 3 2.9-4.9-5-2.8z" fill="#fcda14"/><path d="M415.1 74.9l5 3 2.9-5.1-5-2.8z" fill="#fcde14"/><path d="M419.4 77.4l5 3 2.9-5.2-5-2.8z" fill="#fce214"/><path d="M423.7 80l5.1 2.9 2.8-5.4-5-2.7z" fill="#fce614"/><path d="M428 82.5l5.2 2.9 2.8-5.6-5.1-2.7z" fill="#fce914"/><path d="M432.4 85l5.2 2.8 2.8-5.7-5.1-2.6z" fill="#fced14"/><path d="M436.8 87.4l5.2 2.8 2.8-5.8-5.1-2.7z" fill="#f7ee14"/><path d="M441.2 89.8l5.2 2.8 2.8-6-5.1-2.6z" fill="#f0ee14"/><path d="M445.7 92.2l5.1 2.8 2.9-6.1-5.2-2.7z" fill="#e9ee14"/><path d="M450.1 94.6l5.1 3 2.8-6.3-5.1-2.8z" fill="#e1ee14"/><path d="M330.7 33.5l6.1 1.3 3.5-2.6-6.1-1.2z" fill="#fc9214"/><path d="M335.7 34.6l6.1 1.3 3.4-2.7-6-1.2z" fill="#fc9114"/><path d="M340.7 35.7l6 1.5 3.4-2.8-5.9-1.4z" fill="#fc9014"/><path d="M345.7 36.9l5.9 1.5 3.4-2.8-5.9-1.5z" fill="#fc8f14"/><path d="M350.6 38.2l5.9 1.6 3.3-3-5.8-1.5z" fill="#fc8f14"/><path d="M355.6 39.5l5.7 1.8 3.3-3-5.7-1.7z" fill="#fc9114"/><path d="M360.4 41l5.6 2.1 3.3-3.2-5.6-1.9z" fill="#fc9514"/><path d="M365.2 42.7l5.5 2.2 3.1-3.2-5.4-2.1z" fill="#fc9914"/><path d="M369.8 44.6l5.4 2.4 3.2-3.3-5.4-2.3z" fill="#fc9d14"/><path d="M374.4 46.6l5.3 2.6 3.2-3.5-5.4-2.4z" fill="#fca214"/><path d="M378.9 48.8l5.3 2.6 3.1-3.6-5.2-2.5z" fill="#fca814"/><path d="M383.4 51l5.2 2.7 3.1-3.8-5.2-2.5z" fill="#fcad14"/><path d="M387.9 53.3l5 2.7 3.1-3.8-5.1-2.6z" fill="#fcb314"/><path d="M392.2 55.6l4.9 3 3-4-4.9-2.8z" fill="#fcb914"/><path d="M396.4 58.1l4.8 3.1 3-4.2-4.8-2.9z" fill="#fcbd14"/><path d="M400.5 60.8l4.9 3 3-4.4-4.9-2.8z" fill="#fcc114"/><path d="M404.7 63.4l5 2.9 3-4.5-5-2.8z" fill="#fcc414"/><path d="M409 65.9l5 2.8 3-4.7-5.1-2.6z" fill="#fcc914"/><path d="M413.3 68.3l5 2.8 3-4.8-5.1-2.7z" fill="#fccd14"/><path d="M417.6 70.7l5 2.8 2.9-5-5-2.6z" fill="#fcd114"/><path d="M421.9 73.1l5 2.8 2.9-5.1-5-2.7z" fill="#fcd514"/><path d="M426.2 75.5l5 2.8 3-5.3-5.1-2.6z" fill="#fcd814"/><path d="M430.5 77.9l5.1 2.7 2.9-5.5-5.1-2.5z" fill="#fcdb14"/><path d="M434.9 80.2l5.1 2.7 2.9-5.6-5.1-2.5z" fill="#fcde14"/><path d="M439.3 82.5l5.1 2.6 2.9-5.7-5.1-2.5z" fill="#fce214"/><path d="M443.7 84.7l5.2 2.7 2.9-5.9-5.2-2.5z" fill="#fce514"/><path d="M448.1 87l5.2 2.7 2.9-6-5.2-2.6z" fill="#fce914"/><path d="M452.6 89.3l5 2.8 2.9-6.2-5.1-2.6z" fill="#fced14"/><path d="M333.3 31.7l6.1 1.2 3.6-2.6-6.1-1.1z" fill="#fc8914"/><path d="M338.3 32.7l6.1 1.2 3.5-2.7-6-1.1z" fill="#fb8714"/><path d="M343.3 33.7l6 1.3 3.5-2.7-6-1.3z" fill="#fb8614"/><path d="M348.2 34.8l6 1.4 3.5-2.8-6-1.3z" fill="#fb8413"/><path d="M353.2 36l5.9 1.5 3.4-2.9-5.9-1.4z" fill="#fb8413"/><path d="M358.1 37.2l5.8 1.8 3.3-3-5.7-1.6z" fill="#fb8714"/><path d="M362.9 38.7l5.7 1.9 3.3-3.1-5.6-1.8z" fill="#fc8a14"/><path d="M367.7 40.3l5.5 2.1 3.3-3.2-5.5-2z" fill="#fc8e14"/><path d="M372.3 42l5.4 2.3 3.3-3.3-5.4-2.1z" fill="#fc9314"/><path d="M376.9 44l5.4 2.3 3.1-3.4-5.3-2.2z" fill="#fc9714"/><path d="M381.5 46l5.2 2.5 3.2-3.6-5.3-2.3z" fill="#fc9c14"/><path d="M385.9 48.1l5.2 2.5 3.2-3.6-5.2-2.4z" fill="#fca014"/><path d="M390.4 50.2l5 2.6 3.1-3.7-5-2.5z" fill="#fca614"/><path d="M394.7 52.4l4.9 2.8 3.1-3.9-4.9-2.6z" fill="#fcaa14"/><path d="M398.9 54.8l4.8 2.9 3.1-4.1-4.8-2.7z" fill="#fcaf14"/><path d="M403 57.3l4.9 2.8 3.1-4.3-4.9-2.6z" fill="#fcb314"/><path d="M407.2 59.7l5 2.8 3.1-4.5-5-2.6z" fill="#fcb614"/><path d="M411.5 62.1l5 2.6 3-4.6-5-2.5z" fill="#fcba14"/><path d="M415.8 64.3l5 2.7 3-4.8-5-2.5z" fill="#fcbf14"/><path d="M420.1 66.6l5 2.6 3-4.9-5-2.5z" fill="#fcc414"/><path d="M424.4 68.9l5 2.6 3-5.1-5-2.5z" fill="#fcc714"/><path d="M428.7 71.1l5.1 2.6 3-5.2-5.1-2.5z" fill="#fcc914"/><path d="M433 73.3l5.1 2.6 3-5.4-5.1-2.4z" fill="#fccc14"/><path d="M437.4 75.5l5.1 2.5 3-5.5-5.1-2.4z" fill="#fccf14"/><path d="M441.8 77.6l5.2 2.5 2.9-5.6-5.2-2.4z" fill="#fcd214"/><path d="M446.2 79.8l5.2 2.5 2.9-5.9-5.2-2.3z" fill="#fcd614"/><path d="M450.6 81.9l5.2 2.5 2.9-5.9-5.1-2.4z" fill="#fcd914"/><path d="M455 84l5.1 2.7 2.9-6.1-5-2.5z" fill="#fcdd14"/><path d="M335.9 29.8l6.2 1.2 3.7-2.6-6.1-1.1z" fill="#fb8113"/><path d="M340.9 30.7l6.1 1.2 3.7-2.6-6.1-1.1z" fill="#fb7e13"/><path d="M345.9 31.7l6 1.3 3.6-2.8-6-1.1z" fill="#fb7b13"/><path d="M350.9 32.7l5.9 1.4 3.6-2.8-6-1.3z" fill="#fb7a13"/><path d="M355.8 33.8l5.9 1.5 3.5-2.9-5.9-1.3z" fill="#fb7b13"/><path d="M360.7 35l5.8 1.7 3.4-3-5.7-1.5z" fill="#fb7d13"/><path d="M365.5 36.4l5.7 1.8 3.4-3.1-5.7-1.7z" fill="#fb8013"/><path d="M370.3 37.9l5.5 2 3.3-3.2-5.5-1.8z" fill="#fb8413"/><path d="M374.9 39.5l5.4 2.2 3.3-3.2-5.4-2.1z" fill="#fb8814"/><path d="M379.5 41.3l5.3 2.3 3.3-3.3-5.3-2.2z" fill="#fc8c14"/><path d="M384 43.2l5.3 2.4 3.2-3.5-5.2-2.2z" fill="#fc9014"/><path d="M388.5 45.2l5.2 2.4 3.2-3.6-5.2-2.2z" fill="#fc9414"/><path d="M392.9 47.2l5.1 2.5 3.2-3.7-5.1-2.3z" fill="#fc9914"/><path d="M397.2 49.3l5 2.6 3.2-3.8-5-2.5z" fill="#fc9d14"/><path d="M401.4 51.5l4.9 2.8 3.2-4.1-4.9-2.5z" fill="#fca114"/><path d="M405.6 53.8l4.9 2.7 3.2-4.2-5-2.5z" fill="#fca414"/><path d="M409.8 56.1l5 2.6 3.1-4.4-5-2.4z" fill="#fca814"/><path d="M414 58.3l5.1 2.5 3.1-4.5-5.1-2.3z" fill="#fcab14"/><path d="M418.3 60.4l5.1 2.5 3.1-4.7-5.1-2.3z" fill="#fcaf14"/><path d="M422.6 62.6l5.1 2.4 3.1-4.8-5.1-2.3z" fill="#fcb414"/><path d="M426.9 64.7l5.1 2.4 3.1-5-5.1-2.3z" fill="#fcb714"/><path d="M431.2 66.8l5.1 2.4 3.1-5.2-5.1-2.2z" fill="#fcba14"/><path d="M435.6 68.8l5.1 2.4 3.1-5.3-5.2-2.2z" fill="#fcbc14"/><path d="M439.9 70.9l5.2 2.3 3.1-5.4-5.2-2.2z" fill="#fcbf14"/><path d="M444.3 72.9l5.2 2.3 3.1-5.6-5.2-2.2z" fill="#fcc214"/><path d="M448.7 74.9l5.2 2.3 3.1-5.7-5.2-2.2z" fill="#fcc614"/><path d="M453.2 76.8l5.2 2.4 3-5.8-5.2-2.2z" fill="#fcc914"/><path d="M457.6 78.9l5.1 2.5 3-6-5.1-2.3z" fill="#fccd14"/><path d="M338.6 28l6.2 1.1 3.8-2.6-6.1-.9z" fill="#fb7713"/><path d="M343.6 28.9l6.1 1 3.8-2.6-6.1-1z" fill="#fa7413"/><path d="M348.6 29.7l6 1.2 3.7-2.6-6-1.2z" fill="#fa7213"/><path d="M353.5 30.7l6 1.3 3.7-2.8-6-1.2z" fill="#fa7113"/><path d="M358.4 31.7l6 1.4 3.6-2.8-5.9-1.3z" fill="#fa7113"/><path d="M363.3 32.8l5.8 1.6 3.6-2.9-5.8-1.5z" fill="#fa7413"/><path d="M368.2 34.1l5.6 1.7 3.5-3-5.6-1.6z" fill="#fb7713"/><path d="M372.9 35.5l5.5 1.9 3.5-3.1-5.6-1.7z" fill="#fb7a13"/><path d="M377.5 37l5.5 2.1 3.4-3.2-5.5-1.9z" fill="#fb7d13"/><path d="M382.1 38.8l5.4 2.1 3.3-3.3-5.3-2z" fill="#fb8113"/><path d="M386.6 40.5l5.3 2.3 3.4-3.4-5.3-2.1z" fill="#fb8413"/><path d="M391.1 42.4l5.2 2.3 3.3-3.5-5.2-2.1z" fill="#fb8814"/><path d="M395.5 44.3l5.1 2.4 3.3-3.7-5.1-2.2z" fill="#fc8c14"/><path d="M399.8 46.3l5 2.4 3.3-3.8-5-2.2z" fill="#fc9014"/><path d="M404 48.3l4.9 2.6 3.3-4-4.9-2.3z" fill="#fc9414"/><path d="M408.2 50.5l4.9 2.5 3.3-4.1-5-2.3z" fill="#fc9714"/><path d="M412.4 52.6l5 2.4 3.2-4.3-5-2.2z" fill="#fc9914"/><path d="M416.6 54.6l5.1 2.4 3.2-4.5-5.1-2.1z" fill="#fc9c14"/><path d="M420.9 56.6l5.1 2.3 3.2-4.6-5.1-2.1z" fill="#fc9f14"/><path d="M425.2 58.6l5.1 2.3 3.2-4.7-5.1-2.2z" fill="#fca314"/><path d="M429.5 60.5l5.1 2.4 3.2-4.9-5.1-2.2z" fill="#fca614"/><path d="M433.9 62.5l5.1 2.3 3.1-5.1-5.1-2.1z" fill="#fca914"/><path d="M438.2 64.4l5.1 2.2 3.2-5.1-5.2-2.1z" fill="#fcac14"/><path d="M442.6 66.3l5.1 2.2 3.2-5.3-5.2-2.1z" fill="#fcaf14"/><path d="M447 68.2l5.1 2.2 3.2-5.5-5.2-2z" fill="#fcb214"/><path d="M451.4 70l5.2 2.2 3.1-5.5-5.2-2.1z" fill="#fcb514"/><path d="M455.8 71.9l5.2 2.3 3.1-5.8-5.2-2.1z" fill="#fcb914"/><path d="M460.2 73.8l5.1 2.4 3.1-5.9-5.1-2.2z" fill="#fcbc14"/><path d="M341.3 26.2l6.3 1 3.9-2.5-6.2-.9z" fill="#fa6e13"/><path d="M346.3 27l6.2 1 3.9-2.5-6.2-1z" fill="#fa6b12"/><path d="M351.3 27.8l6.1 1.1 3.8-2.6-6.1-1z" fill="#fa6812"/><path d="M356.2 28.7l6.1 1.2 3.7-2.7-6-1.1z" fill="#fa6812"/><path d="M361.1 29.7l6 1.3 3.7-2.8-5.9-1.2z" fill="#fa6912"/><path d="M366 30.7l5.8 1.5 3.7-2.9-5.8-1.3z" fill="#fa6b12"/><path d="M370.8 31.9l5.7 1.6 3.6-2.9-5.7-1.5z" fill="#fa6e13"/><path d="M375.6 33.2l5.5 1.8 3.6-3-5.6-1.7z" fill="#fa7013"/><path d="M380.2 34.7l5.5 1.9 3.5-3.1-5.5-1.8z" fill="#fa7313"/><path d="M384.8 36.3l5.4 2 3.4-3.2-5.4-1.9z" fill="#fa7613"/><path d="M389.3 37.9l5.3 2.2 3.4-3.4-5.3-1.9z" fill="#fb7913"/><path d="M393.8 39.7l5.2 2.1 3.4-3.4-5.2-2z" fill="#fb7c13"/><path d="M398.2 41.5l5.1 2.2 3.4-3.6-5.2-2z" fill="#fb8013"/><path d="M402.5 43.3l5 2.3 3.4-3.7-5.1-2.1z" fill="#fb8313"/><path d="M406.7 45.2l4.9 2.4 3.4-3.9-5-2.2z" fill="#fb8614"/><path d="M410.8 47.2l5 2.3 3.4-4-5-2.2z" fill="#fc8814"/><path d="M415.1 49.2l5 2.2 3.3-4.2-5-2.1z" fill="#fc8b14"/><path d="M419.3 51.1l5.1 2.1 3.3-4.3-5.1-2z" fill="#fc8c14"/><path d="M423.6 52.9l5.1 2.2 3.3-4.6-5.1-2z" fill="#fc8f14"/><path d="M427.9 54.7l5.1 2.2 3.3-4.7-5.1-2z" fill="#fc9314"/><path d="M432.2 56.5l5.1 2.2 3.3-4.9-5.1-1.9z" fill="#fc9714"/><path d="M436.5 58.3l5.2 2.1 3.2-4.9-5.1-2z" fill="#fc9a14"/><path d="M440.9 60.1l5.2 2.1 3.2-5.1-5.2-1.9z" fill="#fc9c14"/><path d="M445.3 61.9l5.1 2 3.3-5.2-5.2-1.9z" fill="#fc9f14"/><path d="M449.7 63.6l5.2 2.1 3.2-5.4-5.2-1.9z" fill="#fca214"/><path d="M454.1 65.3l5.2 2.1 3.2-5.5-5.2-1.9z" fill="#fca514"/><path d="M458.5 67.1l5.2 2.1 3.2-5.7-5.2-1.9z" fill="#fca814"/><path d="M462.9 68.9l5.1 2.2 3.2-5.8-5.1-2.1z" fill="#fcab14"/><path d="M344.2 24.5l6.2 .9 4-2.4-6.2-.9z" fill="#fa6512"/><path d="M349.1 25.2l6.2 1 4-2.5-6.2-.9z" fill="#f96112"/><path d="M354.1 26l6.1 1 3.9-2.6-6.1-.9z" fill="#f95f12"/><path d="M359 26.8l6.1 1.1 3.8-2.6-6-1.1z" fill="#f96012"/><path d="M363.9 27.7l6 1.2 3.8-2.7-6-1.1z" fill="#f96112"/><path d="M368.8 28.6l5.8 1.4 3.8-2.8-5.9-1.2z" fill="#f96312"/><path d="M373.6 29.7l5.7 1.5 3.7-2.8-5.7-1.4z" fill="#fa6512"/><path d="M378.3 31l5.6 1.6 3.6-2.9-5.5-1.5z" fill="#fa6812"/><path d="M382.9 32.3l5.5 1.8 3.6-3-5.5-1.7z" fill="#fa6a12"/><path d="M387.5 33.8l5.4 1.9 3.6-3.1-5.4-1.8z" fill="#fa6c13"/><path d="M392 35.4l5.4 2 3.5-3.2-5.4-1.9z" fill="#fa6f13"/><path d="M396.5 37.1l5.3 2 3.4-3.4-5.2-1.9z" fill="#fa7213"/><path d="M400.9 38.7l5.2 2.1 3.4-3.5-5.1-1.9z" fill="#fa7413"/><path d="M405.2 40.4l5 2.1 3.5-3.6-5-2z" fill="#fb7613"/><path d="M409.4 42.2l5 2.2 3.4-3.9-5-1.9z" fill="#fb7913"/><path d="M413.6 44l5 2.1 3.4-3.9-5-2z" fill="#fb7b13"/><path d="M417.8 45.8l5.1 2.1 3.4-4.2-5.1-1.9z" fill="#fb7c13"/><path d="M422.1 47.5l5.1 2 3.4-4.2-5.2-1.9z" fill="#fb7e13"/><path d="M426.4 49.2l5.1 2 3.4-4.4-5.2-1.8z" fill="#fb8113"/><path d="M430.7 50.9l5.1 2 3.4-4.6-5.2-1.8z" fill="#fb8413"/><path d="M435 52.6l5.1 1.9 3.4-4.7-5.2-1.8z" fill="#fb8714"/><path d="M439.3 54.2l5.2 2 3.3-4.9-5.2-1.8z" fill="#fc8a14"/><path d="M443.6 55.9l5.2 1.9 3.4-5.1-5.2-1.7z" fill="#fc8d14"/><path d="M448 57.5l5.2 1.9 3.3-5.2-5.2-1.7z" fill="#fc9014"/><path d="M452.4 59.1l5.2 1.9 3.3-5.3-5.2-1.8z" fill="#fc9214"/><path d="M456.8 60.7l5.3 1.9 3.2-5.4-5.2-1.8z" fill="#fc9514"/><path d="M461.3 62.3l5.2 2 3.2-5.6-5.2-1.8z" fill="#fc9814"/><path d="M465.7 64l5.1 2 3.2-5.7-5.1-1.9z" fill="#fc9b14"/><path d="M347.1 22.8l6.2 .9 4.1-2.4-6.2-.8z" fill="#f95c12"/><path d="M352 23.5l6.2 .9 4.1-2.5-6.2-.8z" fill="#f95912"/><path d="M356.9 24.2l6.1 .9 4.1-2.5-6.1-.9z" fill="#f95812"/><path d="M361.8 24.9l6.1 1.1 4-2.6-6.1-1z" fill="#f95912"/><path d="M366.7 25.7l6 1.2 4-2.6-6-1.1z" fill="#f95b12"/><path d="M371.6 26.6l5.9 1.3 3.9-2.6-5.9-1.2z" fill="#f95c12"/><path d="M376.4 27.6l5.7 1.5 3.9-2.8-5.8-1.3z" fill="#f95e12"/><path d="M381.1 28.8l5.6 1.6 3.8-2.9-5.6-1.4z" fill="#f96012"/><path d="M385.7 30.1l5.5 1.7 3.8-2.9-5.5-1.6z" fill="#f96112"/><path d="M390.3 31.4l5.4 1.8 3.7-3-5.4-1.6z" fill="#f96312"/><path d="M394.8 32.9l5.4 1.9 3.6-3.1-5.3-1.8z" fill="#fa6512"/><path d="M399.2 34.5l5.4 1.8 3.6-3.2-5.3-1.7z" fill="#fa6712"/><path d="M403.7 36l5.2 1.9 3.6-3.3-5.2-1.8z" fill="#fa6912"/><path d="M408 37.6l5.1 1.9 3.6-3.5-5.1-1.7z" fill="#fa6b12"/><path d="M412.2 39.2l5 2 3.6-3.7-5-1.8z" fill="#fa6c13"/><path d="M416.4 40.9l5 1.9 3.6-3.8-5.1-1.8z" fill="#fa6e13"/><path d="M420.6 42.5l5.1 1.9 3.6-4-5.2-1.7z" fill="#fa6f13"/><path d="M424.8 44.1l5.2 1.8 3.6-4.1-5.2-1.7z" fill="#fa7113"/><path d="M429.2 45.6l5.1 1.9 3.5-4.3-5.1-1.7z" fill="#fa7313"/><path d="M433.5 47.2l5.1 1.8 3.5-4.4-5.1-1.7z" fill="#fa7613"/><path d="M437.8 48.7l5.1 1.8 3.6-4.6-5.2-1.6z" fill="#fb7813"/><path d="M442.1 50.2l5.2 1.8 3.5-4.7-5.2-1.6z" fill="#fb7b13"/><path d="M446.5 51.7l5.2 1.8 3.4-4.9-5.2-1.6z" fill="#fb7d13"/><path d="M450.8 53.2l5.3 1.7 3.4-5-5.2-1.6z" fill="#fb7f13"/><path d="M455.2 54.7l5.3 1.7 3.4-5.1-5.2-1.6z" fill="#fb8213"/><path d="M459.6 56.1l5.3 1.8 3.4-5.2-5.2-1.7z" fill="#fb8514"/><path d="M464.1 57.6l5.2 1.9 3.4-5.4-5.2-1.7z" fill="#fb8814"/><path d="M468.5 59.2l5.1 1.9 3.4-5.5-5.1-1.8z" fill="#fc8c14"/><path d="M350.1 21.2l6.2 .8 4.2-2.3-6.2-.7z" fill="#f95312"/><path d="M355 21.8l6.2 .8 4.2-2.3-6.2-.8z" fill="#f85111"/><path d="M359.8 22.4l6.2 .9 4.2-2.4-6.1-.8z" fill="#f85211"/><path d="M364.7 23.1l6.2 1 4.2-2.4-6.2-1z" fill="#f95312"/><path d="M369.6 23.9l6.1 1 4.1-2.4-6.1-1.1z" fill="#f95412"/><path d="M374.4 24.7l6 1.2 4.1-2.5-6-1.2z" fill="#f95612"/><path d="M379.2 25.6l5.9 1.4 4-2.6-5.8-1.3z" fill="#f95712"/><path d="M383.9 26.7l5.7 1.5 4-2.7-5.7-1.4z" fill="#f95812"/><path d="M388.6 27.9l5.6 1.6 3.9-2.8-5.6-1.5z" fill="#f95912"/><path d="M393.1 29.2l5.5 1.7 3.9-2.9-5.5-1.6z" fill="#f95b12"/><path d="M397.7 30.6l5.4 1.7 3.8-3-5.4-1.6z" fill="#f95c12"/><path d="M402.1 32l5.4 1.8 3.8-3.2-5.4-1.6z" fill="#f95e12"/><path d="M406.5 33.4l5.3 1.8 3.7-3.2-5.2-1.6z" fill="#f95f12"/><path d="M410.9 34.9l5.1 1.8 3.7-3.4-5.1-1.6z" fill="#f96012"/><path d="M415.1 36.4l5 1.8 3.8-3.6-5.1-1.6z" fill="#f96112"/><path d="M419.3 37.9l5.1 1.8 3.7-3.8-5.1-1.6z" fill="#f96212"/><path d="M423.5 39.4l5.1 1.7 3.7-3.9-5.1-1.6z" fill="#f96312"/><path d="M427.8 40.8l5.2 1.7 3.6-4.1-5.2-1.5z" fill="#fa6512"/><path d="M432.1 42.2l5.2 1.7 3.6-4.2-5.2-1.5z" fill="#fa6712"/><path d="M436.4 43.6l5.2 1.7 3.6-4.4-5.2-1.5z" fill="#fa6912"/><path d="M440.7 45l5.2 1.6 3.6-4.4-5.2-1.5z" fill="#fa6b12"/><path d="M445 46.4l5.2 1.6 3.7-4.6-5.2-1.5z" fill="#fa6d13"/><path d="M449.4 47.7l5.2 1.6 3.6-4.7-5.2-1.5z" fill="#fa6e13"/><path d="M453.8 49.1l5.2 1.6 3.6-4.9-5.2-1.5z" fill="#fa7013"/><path d="M458.2 50.4l5.2 1.6 3.6-5-5.2-1.5z" fill="#fa7313"/><path d="M462.6 51.8l5.2 1.6 3.6-5.1-5.2-1.5z" fill="#fa7513"/><path d="M467 53.1l5.3 1.7 3.5-5.2-5.2-1.6z" fill="#fb7813"/><path d="M471.4 54.5l5.2 1.8 3.5-5.4-5.1-1.6z" fill="#fb7c13"/><path d="M353.1 19.6l6.2 .8 4.4-2.1-6.2-.7z" fill="#f84c11"/><path d="M358 20.2l6.2 .8 4.3-2.2-6.1-.7z" fill="#f84b11"/><path d="M362.9 20.7l6.2 .9 4.3-2.2-6.2-.8z" fill="#f84d11"/><path d="M367.7 21.4l6.2 .9 4.3-2.2-6.1-.9z" fill="#f84e11"/><path d="M372.6 22.1l6.1 1 4.3-2.3-6.1-1z" fill="#f84f11"/><path d="M377.4 22.9l6 1.1 4.3-2.4-6-1z" fill="#f85011"/><path d="M382.2 23.8l5.9 1.2 4.2-2.5-5.9-1.1z" fill="#f85011"/><path d="M386.9 24.7l5.7 1.4 4.2-2.5-5.8-1.3z" fill="#f85111"/><path d="M391.5 25.8l5.7 1.5 4-2.6-5.6-1.4z" fill="#f85211"/><path d="M396.1 27l5.5 1.6 4.1-2.7-5.6-1.5z" fill="#f95312"/><path d="M400.6 28.3l5.5 1.7 4-2.9-5.5-1.5z" fill="#f95412"/><path d="M405.1 29.7l5.4 1.6 3.9-3-5.4-1.5z" fill="#f95512"/><path d="M409.5 31l5.3 1.6 3.9-3.1-5.3-1.5z" fill="#f95512"/><path d="M413.8 32.3l5.2 1.6 3.9-3.2-5.2-1.5z" fill="#f95612"/><path d="M418 33.6l5.2 1.7 3.8-3.5-5.1-1.4z" fill="#f95612"/><path d="M422.2 35l5.2 1.6 3.8-3.6-5.1-1.4z" fill="#f95712"/><path d="M426.5 36.3l5.2 1.6 3.8-3.8-5.2-1.4z" fill="#f95912"/><path d="M430.8 37.6l5.2 1.5 3.8-3.9-5.2-1.4z" fill="#f95a12"/><path d="M435.1 38.9l5.2 1.5 3.8-4.1-5.2-1.3z" fill="#f95b12"/><path d="M439.4 40.1l5.2 1.5 3.8-4.2-5.2-1.3z" fill="#f95d12"/><path d="M443.7 41.4l5.3 1.5 3.7-4.4-5.2-1.3z" fill="#f95e12"/><path d="M448.1 42.6l5.2 1.5 3.7-4.6-5.2-1.3z" fill="#f95f12"/><path d="M452.4 43.8l5.3 1.5 3.7-4.7-5.3-1.3z" fill="#f96112"/><path d="M456.8 45l5.3 1.5 3.7-4.8-5.3-1.3z" fill="#f96312"/><path d="M461.2 46.3l5.3 1.4 3.7-4.9-5.3-1.3z" fill="#fa6512"/><path d="M465.6 47.5l5.3 1.5 3.7-5.1-5.3-1.3z" fill="#fa6712"/><path d="M470.1 48.7l5.2 1.6 3.7-5.2-5.3-1.4z" fill="#fa6a12"/><path d="M474.5 50l5.1 1.6 3.7-5.3-5.2-1.4z" fill="#fa6e13"/><path d="M356.3 18.2l6.2 .8 4.4-2-6.2-.7z" fill="#f84611"/><path d="M361.2 18.7l6.2 .8 4.3-2-6.1-.7z" fill="#f84811"/><path d="M366 19.2l6.2 .8 4.4-2-6.2-.8z" fill="#f84911"/><path d="M370.9 19.8l6.1 .9 4.4-2.1-6.2-.9z" fill="#f84911"/><path d="M375.7 20.4l6.1 1 4.3-2.2-6-.9z" fill="#f84a11"/><path d="M380.5 21.2l6 1.1 4.4-2.3-6.1-1z" fill="#f84a11"/><path d="M385.2 22l6 1.2 4.3-2.4-6-1.1z" fill="#f84a11"/><path d="M389.9 22.9l5.8 1.3 4.3-2.5-5.8-1.1z" fill="#f84b11"/><path d="M394.6 23.9l5.7 1.4 4.1-2.6-5.6-1.2z" fill="#f84b11"/><path d="M399.1 25l5.6 1.5 4.2-2.7-5.6-1.3z" fill="#f84c11"/><path d="M403.7 26.2l5.5 1.5 4-2.7-5.5-1.5z" fill="#f84d11"/><path d="M408.1 27.4l5.5 1.5 4-2.9-5.4-1.3z" fill="#f84d11"/><path d="M412.5 28.7l5.4 1.4 4-3-5.4-1.3z" fill="#f84c11"/><path d="M416.9 29.8l5.2 1.5 4-3.2-5.3-1.3z" fill="#f84c11"/><path d="M421.1 31l5.2 1.5 3.9-3.4-5.2-1.2z" fill="#f84d11"/><path d="M425.3 32.2l5.2 1.4 3.9-3.5-5.2-1.2z" fill="#f84e11"/><path d="M429.5 33.4l5.3 1.4 3.9-3.7-5.3-1.2z" fill="#f84f11"/><path d="M433.8 34.5l5.3 1.4 3.9-3.9-5.3-1.2z" fill="#f85011"/><path d="M438.2 35.7l5.2 1.3 3.9-4-5.3-1.2z" fill="#f85111"/><path d="M442.5 36.8l5.3 1.3 3.8-4.2-5.3-1.1z" fill="#f85211"/><path d="M446.8 37.9l5.3 1.3 3.8-4.4-5.2-1.1z" fill="#f85211"/><path d="M451.2 39l5.2 1.3 3.9-4.5-5.3-1.2z" fill="#f95312"/><path d="M455.5 40l5.3 1.3 3.8-4.6-5.3-1.1z" fill="#f95412"/><path d="M459.9 41.1l5.3 1.3 3.8-4.7-5.3-1.2z" fill="#f95612"/><path d="M464.3 42.2l5.3 1.3 3.8-4.9-5.3-1.1z" fill="#f95812"/><path d="M468.8 43.3l5.3 1.4 3.7-5.1-5.3-1.2z" fill="#f95a12"/><path d="M473.2 44.4l5.3 1.5 3.7-5.2-5.3-1.3z" fill="#f95d12"/><path d="M477.6 45.6l5.2 1.5 3.7-5.3-5.2-1.3z" fill="#f96212"/><path d="M359.5 16.9l6.2 .7 4.4-1.9-6.2-.6z" fill="#f84311"/><path d="M364.4 17.4l6.2 .7 4.3-2-6.1-.6z" fill="#f84411"/><path d="M369.2 17.9l6.2 .7 4.3-2.1-6.1-.6z" fill="#f84511"/><path d="M374.1 18.4l6.1 .8 4.3-2.1-6.1-.8z" fill="#f84511"/><path d="M378.9 19l6.1 .9 4.3-2.2-6.1-.9z" fill="#f84511"/><path d="M383.7 19.6l6 1 4.3-2.3-6-.9z" fill="#f84511"/><path d="M388.4 20.4l5.9 1.1 4.4-2.4-6-1z" fill="#f84511"/><path d="M393 21.2l5.9 1.2 4.3-2.5-5.9-1.1z" fill="#f84511"/><path d="M397.7 22.1l5.7 1.3 4.2-2.6-5.7-1.1z" fill="#f84511"/><path d="M402.2 23.1l5.7 1.3 4.1-2.6-5.6-1.2z" fill="#f84511"/><path d="M406.8 24.2l5.5 1.4 4.1-2.8-5.5-1.3z" fill="#f84511"/><path d="M411.2 25.3l5.5 1.4 4.1-2.9-5.5-1.3z" fill="#f84511"/><path d="M415.6 26.4l5.4 1.3 4-3-5.3-1.2z" fill="#f84411"/><path d="M420 27.5l5.2 1.3 4-3.3-5.2-1.1z" fill="#f84311"/><path d="M424.2 28.5l5.2 1.3 4-3.4-5.2-1.1z" fill="#f84411"/><path d="M428.4 29.5l5.3 1.3 3.9-3.6-5.2-1z" fill="#f84511"/><path d="M432.7 30.5l5.3 1.3 3.9-3.8-5.3-1z" fill="#f84611"/><path d="M437 31.5l5.3 1.2 3.9-3.9-5.3-1z" fill="#f84711"/><path d="M441.3 32.5l5.3 1.2 3.9-4.1-5.3-1z" fill="#f84711"/><path d="M445.7 33.5l5.2 1.1 3.9-4.2-5.3-1z" fill="#f84811"/><path d="M450 34.4l5.3 1.2 3.8-4.4-5.3-1z" fill="#f84811"/><path d="M454.3 35.4l5.3 1.1 3.9-4.5-5.3-1z" fill="#f84811"/><path d="M458.7 36.3l5.3 1.1 3.8-4.6-5.3-1z" fill="#f84911"/><path d="M463.1 37.2l5.3 1.2 3.8-4.8-5.3-1z" fill="#f84b11"/><path d="M467.5 38.2l5.3 1.2 3.8-4.9-5.3-1.1z" fill="#f84d11"/><path d="M471.9 39.2l5.4 1.2 3.7-5.1-5.3-1z" fill="#f84f11"/><path d="M476.4 40.2l5.3 1.3 3.7-5.2-5.3-1.1z" fill="#f85211"/><path d="M480.8 41.2l5.2 1.3 3.7-5.3-5.2-1.1z" fill="#f95712"/></g>
<g opacity="0.14">
<polyline points="299.4,70.5 301.4,67.4 303.5,64.5 305.5,61.8 307.6,59.2 309.7,56.8 311.9,54.6 314.0,52.1 316.1,49.5 318.1,46.8 320.2,44.4 322.4,42.3 324.6,40.3 326.8,38.5 329.0,36.7 331.2,35.0 333.4,33.4 335.6,31.8 337.9,30.2 340.1,28.7 342.4,27.2 344.6,25.8 346.9,24.4 349.2,23.0 351.4,21.8 353.7,20.6 356.0,19.4 358.3,18.4 360.7,17.5 363.0,16.5 365.3,15.6" fill="none" stroke="#222" stroke-width="0.45" />
<polyline points="306.0,73.0 308.0,69.9 310.0,66.9 312.1,64.1 314.2,61.5 316.3,59.0 318.4,56.7 320.5,54.1 322.5,51.4 324.6,48.7 326.7,46.2 328.8,44.0 331.0,42.0 333.2,40.1 335.4,38.2 337.6,36.5 339.8,34.7 342.0,33.1 344.2,31.4 346.5,29.8 348.7,28.3 350.9,26.7 353.2,25.3 355.4,23.9 357.7,22.6 360.0,21.3 362.3,20.1 364.6,19.0 366.9,18.1 369.2,17.1 371.6,16.1" fill="none" stroke="#222" stroke-width="0.45" />
<polyline points="311.1,75.1 313.1,71.9 315.1,68.9 317.2,66.1 319.2,63.4 321.3,60.9 323.4,58.5 325.5,55.9 327.6,53.1 329.6,50.3 331.7,47.8 333.8,45.5 336.0,43.4 338.1,41.4 340.3,39.5 342.5,37.7 344.7,35.9 346.9,34.1 349.1,32.4 351.4,30.8 353.6,29.2 355.8,27.6 358.1,26.1 360.3,24.6 362.6,23.2 364.8,22.0 367.1,20.7 369.4,19.6 371.7,18.6 374.1,17.5 376.4,16.5" fill="none" stroke="#222" stroke-width="0.45" />
<polyline points="315.3,76.9 317.2,73.7 319.3,70.7 321.3,67.8 323.4,65.1 325.4,62.5 327.5,60.0 329.6,57.3 331.6,54.5 333.7,51.7 335.8,49.1 337.9,46.8 340.0,44.6 342.2,42.6 344.4,40.6 346.6,38.8 348.7,36.9 350.9,35.1 353.1,33.3 355.4,31.6 357.6,29.9 359.8,28.3 362.0,26.8 364.3,25.3 366.5,23.9 368.8,22.5 371.1,21.3 373.4,20.1 375.7,19.0 378.0,18.0 380.3,16.9" fill="none" stroke="#222" stroke-width="0.45" />
<polyline points="318.8,78.4 320.7,75.2 322.8,72.1 324.8,69.2 326.8,66.4 328.9,63.8 331.0,61.3 333.1,58.6 335.1,55.7 337.1,52.8 339.2,50.3 341.3,47.9 343.5,45.7 345.6,43.6 347.8,41.6 350.0,39.7 352.1,37.8 354.3,35.9 356.5,34.1 358.7,32.3 360.9,30.7 363.2,29.0 365.4,27.4 367.6,25.9 369.9,24.4 372.1,23.1 374.4,21.8 376.7,20.6 379.0,19.5 381.3,18.4 383.6,17.3" fill="none" stroke="#222" stroke-width="0.45" />
<polyline points="321.8,79.7 323.8,76.5 325.8,73.5 327.8,70.5 329.8,67.7 331.9,65.0 334.0,62.5 336.1,59.7 338.1,56.8 340.1,53.9 342.2,51.3 344.3,48.9 346.4,46.7 348.6,44.5 350.7,42.5 352.9,40.5 355.1,38.6 357.3,36.7 359.4,34.8 361.6,33.0 363.9,31.3 366.1,29.6 368.3,28.0 370.5,26.4 372.8,24.9 375.0,23.6 377.3,22.2 379.6,21.0 381.9,19.9 384.2,18.8 386.5,17.7" fill="none" stroke="#222" stroke-width="0.45" />
<polyline points="324.4,81.0 326.4,77.8 328.4,74.7 330.5,71.7 332.5,68.9 334.6,66.2 336.6,63.6 338.7,60.8 340.7,57.9 342.7,54.9 344.8,52.3 346.9,49.9 349.0,47.6 351.2,45.4 353.3,43.3 355.5,41.3 357.7,39.3 359.8,37.4 362.0,35.5 364.2,33.7 366.4,31.9 368.6,30.2 370.8,28.5 373.1,26.9 375.3,25.4 377.6,24.0 379.8,22.7 382.1,21.4 384.4,20.3 386.7,19.1 389.0,18.0" fill="none" stroke="#222" stroke-width="0.45" />
<polyline points="326.8,82.3 328.8,79.0 330.8,75.9 332.8,72.9 334.8,70.0 336.9,67.3 339.0,64.6 341.0,61.8 343.0,58.9 345.1,55.9 347.1,53.2 349.2,50.8 351.3,48.5 353.5,46.3 355.6,44.1 357.8,42.1 360.0,40.1 362.1,38.1 364.3,36.2 366.5,34.3 368.7,32.5 370.9,30.7 373.1,29.1 375.3,27.4 377.6,25.9 379.8,24.5 382.1,23.1 384.4,21.8 386.7,20.7 389.0,19.5 391.3,18.3" fill="none" stroke="#222" stroke-width="0.45" />
<polyline points="342.1,92.3 344.1,88.9 346.1,85.6 348.1,82.3 350.1,79.2 352.1,76.2 354.2,73.2 356.2,70.1 358.2,66.9 360.2,63.7 362.2,60.8 364.3,58.1 366.4,55.5 368.5,53.0 370.7,50.6 372.8,48.3 374.9,46.0 377.1,43.7 379.2,41.5 381.4,39.4 383.6,37.3 385.8,35.3 388.0,33.4 390.2,31.5 392.4,29.8 394.7,28.1 396.9,26.6 399.2,25.1 401.4,23.7 403.7,22.3 406.0,20.9" fill="none" stroke="#222" stroke-width="0.45" />
<polyline points="350.9,99.2 352.8,95.7 354.8,92.2 356.8,88.8 358.8,85.5 360.9,82.3 362.9,79.2 364.9,75.9 366.9,72.5 368.9,69.2 371.0,66.1 373.0,63.2 375.1,60.4 377.2,57.8 379.3,55.2 381.5,52.6 383.6,50.1 385.7,47.7 387.9,45.3 390.0,43.0 392.2,40.7 394.4,38.6 396.6,36.5 398.8,34.5 401.0,32.5 403.2,30.8 405.5,29.0 407.8,27.4 410.0,25.9 412.3,24.3 414.6,22.8" fill="none" stroke="#222" stroke-width="0.45" />
<polyline points="357.0,104.5 359.0,100.9 361.0,97.3 363.0,93.8 365.0,90.3 367.0,87.0 369.0,83.7 371.1,80.3 373.1,76.8 375.1,73.3 377.1,70.1 379.2,67.1 381.3,64.2 383.4,61.4 385.5,58.6 387.6,55.9 389.7,53.2 391.8,50.6 394.0,48.1 396.1,45.7 398.3,43.3 400.5,41.0 402.7,38.8 404.9,36.6 407.1,34.6 409.3,32.7 411.6,30.9 413.8,29.1 416.1,27.5 418.4,25.8 420.7,24.2" fill="none" stroke="#222" stroke-width="0.45" />
<polyline points="361.7,109.0 363.7,105.4 365.7,101.7 367.7,98.1 369.7,94.5 371.7,91.0 373.8,87.6 375.8,84.0 377.8,80.4 379.8,76.8 381.8,73.5 383.9,70.4 386.0,67.3 388.1,64.4 390.2,61.5 392.3,58.7 394.4,55.9 396.6,53.1 398.7,50.5 400.8,47.9 403.0,45.4 405.2,43.0 407.4,40.7 409.6,38.4 411.8,36.3 414.0,34.2 416.3,32.3 418.6,30.5 420.8,28.7 423.1,26.9 425.4,25.2" fill="none" stroke="#222" stroke-width="0.45" />
<polyline points="365.5,113.2 367.5,109.5 369.5,105.7 371.5,102.0 373.5,98.3 375.5,94.7 377.6,91.1 379.6,87.4 381.6,83.7 383.6,80.0 385.6,76.6 387.7,73.3 389.8,70.2 391.9,67.1 394.0,64.1 396.1,61.1 398.2,58.2 400.4,55.3 402.5,52.6 404.7,49.9 406.8,47.3 409.0,44.7 411.2,42.3 413.4,39.9 415.6,37.7 417.9,35.6 420.1,33.5 422.4,31.6 424.7,29.7 427.0,27.8 429.3,26.0" fill="none" stroke="#222" stroke-width="0.45" />
<polyline points="368.7,116.9 370.7,113.1 372.7,109.3 374.7,105.4 376.7,101.6 378.7,97.9 380.8,94.2 382.8,90.4 384.8,86.6 386.8,82.8 388.8,79.3 390.9,75.9 393.0,72.6 395.1,69.5 397.2,66.4 399.3,63.3 401.5,60.3 403.6,57.3 405.7,54.4 407.9,51.6 410.1,48.9 412.3,46.3 414.5,43.7 416.7,41.2 418.9,38.9 421.1,36.7 423.4,34.6 425.7,32.5 428.0,30.6 430.2,28.6 432.5,26.6" fill="none" stroke="#222" stroke-width="0.45" />
<polyline points="371.5,120.1 373.5,116.2 375.5,112.3 377.5,108.3 379.5,104.4 381.5,100.6 383.5,96.8 385.6,93.0 387.6,89.1 389.6,85.2 391.6,81.6 393.7,78.1 395.8,74.8 397.9,71.5 400.0,68.3 402.1,65.1 404.3,62.0 406.4,58.9 408.5,55.9 410.7,53.1 412.9,50.3 415.1,47.6 417.3,44.9 419.5,42.4 421.7,39.9 424.0,37.6 426.2,35.4 428.5,33.3 430.8,31.3 433.1,29.2 435.4,27.2" fill="none" stroke="#222" stroke-width="0.45" />
<polyline points="373.9,122.7 375.9,118.8 377.9,114.8 379.9,110.8 382.0,106.8 384.0,102.9 386.0,99.1 388.0,95.1 390.0,91.2 392.0,87.2 394.1,83.5 396.2,80.0 398.3,76.6 400.4,73.2 402.5,69.9 404.6,66.7 406.7,63.5 408.9,60.3 411.0,57.3 413.2,54.3 415.4,51.4 417.5,48.6 419.7,45.9 422.0,43.3 424.2,40.8 426.4,38.5 428.7,36.2 431.0,34.0 433.3,31.9 435.6,29.8 437.9,27.7" fill="none" stroke="#222" stroke-width="0.45" />
<polyline points="376.1,125.0 378.1,121.0 380.1,117.0 382.2,113.0 384.2,108.9 386.2,105.0 388.2,101.0 390.2,97.0 392.2,93.0 394.3,89.0 396.3,85.2 398.4,81.6 400.5,78.1 402.6,74.7 404.7,71.4 406.8,68.0 409.0,64.8 411.1,61.5 413.2,58.4 415.4,55.4 417.6,52.5 419.8,49.6 422.0,46.8 424.2,44.1 426.4,41.6 428.7,39.2 430.9,36.8 433.2,34.6 435.5,32.4 437.8,30.3 440.1,28.1" fill="none" stroke="#222" stroke-width="0.45" />
<polyline points="390.7,139.7 392.7,135.4 394.8,131.0 396.8,126.6 398.8,122.1 400.8,117.7 402.8,113.4 404.9,108.9 406.9,104.5 408.9,100.1 411.0,96.0 413.0,92.0 415.1,88.0 417.2,84.2 419.3,80.4 421.5,76.6 423.6,72.9 425.7,69.3 427.9,65.7 430.0,62.3 432.2,58.9 434.4,55.7 436.6,52.5 438.8,49.4 441.1,46.5 443.4,43.7 445.6,41.1 447.9,38.4 450.2,35.9 452.5,33.4 454.8,30.9" fill="none" stroke="#222" stroke-width="0.45" />
<polyline points="399.2,148.1 401.3,143.6 403.3,139.1 405.3,134.4 407.4,129.7 409.4,125.1 411.4,120.4 413.4,115.7 415.4,111.1 417.5,106.5 419.5,102.1 421.6,97.9 423.7,93.7 425.8,89.6 427.9,85.6 430.0,81.6 432.2,77.6 434.3,73.7 436.5,69.9 438.6,66.2 440.8,62.6 443.0,59.2 445.2,55.8 447.4,52.5 449.7,49.3 451.9,46.3 454.2,43.4 456.5,40.6 458.8,37.9 461.1,35.2 463.5,32.4" fill="none" stroke="#222" stroke-width="0.45" />
<polyline points="405.4,153.7 407.4,149.1 409.5,144.5 411.5,139.6 413.5,134.8 415.5,130.0 417.5,125.2 419.5,120.4 421.6,115.5 423.6,110.8 425.7,106.3 427.7,101.9 429.8,97.6 431.9,93.3 434.0,89.1 436.2,84.9 438.3,80.8 440.4,76.7 442.6,72.7 444.7,68.9 446.9,65.2 449.1,61.5 451.3,58.0 453.5,54.5 455.8,51.3 458.1,48.1 460.3,45.1 462.6,42.2 465.0,39.3 467.3,36.4 469.6,33.5" fill="none" stroke="#222" stroke-width="0.45" />
<polyline points="410.1,158.0 412.2,153.3 414.2,148.6 416.2,143.6 418.3,138.7 420.3,133.7 422.3,128.8 424.3,123.9 426.3,118.9 428.4,114.1 430.4,109.4 432.5,104.9 434.6,100.5 436.7,96.1 438.8,91.8 440.9,87.4 443.0,83.2 445.1,79.0 447.3,74.9 449.5,70.9 451.6,67.1 453.8,63.4 456.0,59.7 458.3,56.1 460.5,52.8 462.8,49.5 465.1,46.4 467.4,43.4 469.7,40.4 472.0,37.4 474.3,34.4" fill="none" stroke="#222" stroke-width="0.45" />
<polyline points="414.0,161.4 416.1,156.7 418.1,151.9 420.1,146.8 422.2,141.8 424.2,136.8 426.2,131.7 428.2,126.7 430.2,121.6 432.2,116.7 434.3,112.0 436.4,107.4 438.5,102.9 440.6,98.4 442.7,93.9 444.8,89.5 446.9,85.1 449.0,80.8 451.2,76.7 453.3,72.6 455.5,68.7 457.7,64.9 459.9,61.1 462.1,57.5 464.4,54.0 466.7,50.7 468.9,47.5 471.2,44.4 473.6,41.3 475.9,38.3 478.2,35.2" fill="none" stroke="#222" stroke-width="0.45" />
<polyline points="417.3,164.3 419.4,159.5 421.4,154.6 423.4,149.5 425.5,144.4 427.5,139.3 429.5,134.2 431.5,129.0 433.5,123.9 435.5,118.9 437.6,114.1 439.7,109.4 441.8,104.8 443.9,100.3 446.0,95.8 448.1,91.3 450.2,86.8 452.3,82.4 454.4,78.2 456.6,74.0 458.8,70.0 461.0,66.1 463.2,62.3 465.4,58.6 467.7,55.1 469.9,51.7 472.2,48.4 474.5,45.3 476.8,42.1 479.1,39.0 481.4,35.9" fill="none" stroke="#222" stroke-width="0.45" />
<polyline points="420.2,166.8 422.2,161.9 424.3,157.0 426.3,151.8 428.3,146.6 430.3,141.5 432.3,136.3 434.3,131.1 436.4,125.9 438.4,120.9 440.4,116.0 442.5,111.3 444.6,106.6 446.7,102.0 448.8,97.4 450.9,92.8 453.0,88.3 455.1,83.8 457.3,79.5 459.4,75.3 461.6,71.2 463.8,67.3 466.0,63.4 468.2,59.6 470.5,56.0 472.8,52.6 475.0,49.3 477.3,46.0 479.7,42.9 482.0,39.7 484.3,36.5" fill="none" stroke="#222" stroke-width="0.45" />
<polyline points="422.7,169.1 424.8,164.2 426.8,159.2 428.8,154.0 430.8,148.7 432.8,143.5 434.8,138.3 436.8,133.0 438.9,127.8 440.9,122.7 442.9,117.7 445.0,112.9 447.1,108.2 449.2,103.5 451.3,98.8 453.4,94.2 455.5,89.6 457.6,85.1 459.8,80.7 461.9,76.4 464.1,72.3 466.3,68.3 468.5,64.4 470.7,60.5 473.0,56.9 475.2,53.4 477.5,50.0 479.8,46.7 482.1,43.5 484.5,40.3 486.8,37.0" fill="none" stroke="#222" stroke-width="0.45" />
<polyline points="301.4,64.9 304.7,66.1 308.1,67.4 311.4,68.7 314.8,70.0 318.1,71.4 321.4,72.9 324.8,74.3 328.1,75.9 331.3,77.6 334.6,79.4 337.9,81.4 341.1,83.6 344.3,85.8 347.5,88.2 350.6,90.6 353.8,93.1 357.0,95.6 360.1,98.3 363.2,101.1 366.3,104.2 369.4,107.5 372.4,110.9 375.4,114.2 378.5,117.4 381.6,120.5 384.7,123.5 387.8,126.4 390.9,129.4 394.0,132.4 397.1,135.4 400.2,138.3 403.3,141.2 406.4,144.0 409.5,146.7 412.7,149.4 415.8,152.1 419.0,154.8 422.1,157.4 425.2,160.1 428.3,163.1" fill="none" stroke="#222" stroke-width="0.45" />
<polyline points="304.8,60.4 308.2,61.6 311.5,62.8 314.8,64.0 318.2,65.3 321.5,66.7 324.8,68.0 328.1,69.4 331.4,70.9 334.7,72.6 338.0,74.3 341.2,76.2 344.4,78.3 347.6,80.5 350.8,82.7 354.0,85.1 357.1,87.4 360.3,89.9 363.4,92.5 366.6,95.2 369.6,98.1 372.7,101.2 375.7,104.5 378.8,107.6 381.9,110.7 384.9,113.6 388.0,116.4 391.1,119.3 394.2,122.1 397.3,125.0 400.4,127.8 403.5,130.6 406.6,133.4 409.8,136.0 412.9,138.7 416.0,141.2 419.2,143.8 422.3,146.3 425.5,148.9 428.6,151.5 431.7,154.3" fill="none" stroke="#222" stroke-width="0.45" />
<polyline points="308.3,56.4 311.7,57.5 315.0,58.6 318.3,59.8 321.6,61.0 324.9,62.3 328.3,63.6 331.6,64.9 334.8,66.3 338.1,67.9 341.4,69.6 344.6,71.4 347.8,73.3 351.0,75.4 354.2,77.6 357.3,79.8 360.5,82.0 363.7,84.4 366.8,86.8 369.9,89.4 373.0,92.2 376.1,95.2 379.1,98.2 382.1,101.2 385.2,104.1 388.3,106.9 391.4,109.6 394.5,112.3 397.6,115.0 400.7,117.7 403.8,120.3 406.9,123.0 410.0,125.6 413.1,128.1 416.3,130.6 419.4,133.1 422.5,135.5 425.7,137.9 428.8,140.3 432.0,142.8 435.1,145.5" fill="none" stroke="#222" stroke-width="0.45" />
<polyline points="311.9,52.5 315.2,53.6 318.5,54.6 321.8,55.7 325.1,56.9 328.4,58.1 331.7,59.3 335.0,60.5 338.3,61.9 341.5,63.3 344.8,64.9 348.0,66.6 351.2,68.5 354.4,70.5 357.6,72.5 360.7,74.6 363.9,76.7 367.0,79.0 370.2,81.3 373.3,83.7 376.4,86.3 379.4,89.1 382.5,92.0 385.5,94.8 388.6,97.6 391.7,100.2 394.8,102.7 397.9,105.3 401.0,107.8 404.1,110.3 407.2,112.9 410.3,115.4 413.4,117.8 416.5,120.2 419.6,122.5 422.8,124.9 425.9,127.2 429.0,129.4 432.2,131.7 435.3,134.1 438.4,136.6" fill="none" stroke="#222" stroke-width="0.45" />
<polyline points="315.3,48.2 318.6,49.2 322.0,50.1 325.3,51.2 328.6,52.3 331.8,53.4 335.1,54.6 338.4,55.7 341.7,57.0 344.9,58.4 348.2,59.9 351.4,61.6 354.6,63.3 357.7,65.2 360.9,67.1 364.1,69.1 367.2,71.2 370.4,73.3 373.5,75.5 376.6,77.8 379.7,80.3 382.8,82.9 385.8,85.7 388.9,88.3 391.9,90.9 395.0,93.3 398.1,95.7 401.2,98.1 404.3,100.5 407.4,102.9 410.5,105.3 413.6,107.7 416.7,110.0 419.9,112.3 423.0,114.5 426.1,116.7 429.3,118.8 432.4,121.0 435.5,123.2 438.7,125.4 441.8,127.8" fill="none" stroke="#222" stroke-width="0.45" />
<polyline points="318.8,44.0 322.1,44.9 325.4,45.9 328.7,46.8 332.0,47.9 335.3,49.0 338.6,50.1 341.8,51.2 345.1,52.4 348.3,53.7 351.6,55.2 354.8,56.7 358.0,58.4 361.1,60.2 364.3,62.0 367.5,63.9 370.6,65.9 373.7,67.9 376.9,69.9 380.0,72.1 383.1,74.5 386.1,77.0 389.2,79.6 392.3,82.1 395.3,84.5 398.4,86.8 401.5,89.1 404.6,91.3 407.7,93.6 410.8,95.9 413.9,98.1 417.1,100.4 420.2,102.5 423.3,104.7 426.4,106.8 429.5,108.8 432.7,110.9 435.8,113.0 438.9,115.0 442.1,117.1 445.2,119.4" fill="none" stroke="#222" stroke-width="0.45" />
<polyline points="322.4,40.6 325.7,41.4 329.0,42.3 332.3,43.2 335.6,44.2 338.8,45.2 342.1,46.2 345.4,47.3 348.6,48.4 351.8,49.7 355.1,51.0 358.3,52.5 361.4,54.1 364.6,55.8 367.8,57.5 370.9,59.3 374.1,61.1 377.2,63.0 380.3,65.0 383.4,67.0 386.5,69.2 389.6,71.6 392.7,74.0 395.7,76.3 398.8,78.6 401.9,80.8 405.0,82.9 408.1,85.0 411.2,87.1 414.3,89.3 417.4,91.4 420.5,93.5 423.6,95.5 426.8,97.5 429.9,99.5 433.0,101.4 436.1,103.4 439.3,105.3 442.4,107.2 445.5,109.2 448.6,111.3" fill="none" stroke="#222" stroke-width="0.45" />
<polyline points="326.1,37.5 329.4,38.3 332.6,39.1 335.9,40.0 339.2,40.9 342.4,41.8 345.7,42.7 348.9,43.7 352.2,44.8 355.4,46.0 358.6,47.2 361.8,48.6 365.0,50.1 368.1,51.7 371.3,53.3 374.4,55.0 377.6,56.7 380.7,58.5 383.8,60.3 386.9,62.2 390.0,64.3 393.1,66.4 396.2,68.7 399.2,70.9 402.3,72.9 405.4,75.0 408.5,76.9 411.6,78.9 414.7,80.9 417.8,82.9 420.9,84.8 424.0,86.8 427.2,88.6 430.3,90.5 433.4,92.3 436.5,94.2 439.6,96.0 442.8,97.8 445.9,99.5 449.0,101.4 452.1,103.4" fill="none" stroke="#222" stroke-width="0.45" />
<polyline points="329.8,34.7 333.1,35.4 336.3,36.2 339.6,36.9 342.8,37.8 346.1,38.6 349.3,39.5 352.6,40.4 355.8,41.4 359.0,42.5 362.2,43.7 365.4,44.9 368.5,46.3 371.7,47.7 374.8,49.3 378.0,50.8 381.1,52.4 384.2,54.1 387.4,55.8 390.5,57.6 393.6,59.5 396.6,61.5 399.7,63.5 402.8,65.5 405.9,67.4 408.9,69.3 412.0,71.1 415.2,72.9 418.3,74.8 421.4,76.6 424.5,78.4 427.6,80.2 430.7,81.9 433.8,83.6 436.9,85.3 440.0,87.0 443.2,88.7 446.3,90.3 449.4,92.0 452.5,93.7 455.6,95.5" fill="none" stroke="#222" stroke-width="0.45" />
<polyline points="333.5,32.0 336.8,32.7 340.0,33.4 343.3,34.1 346.5,34.8 349.7,35.6 353.0,36.4 356.2,37.2 359.4,38.1 362.6,39.1 365.8,40.2 369.0,41.4 372.1,42.6 375.3,44.0 378.4,45.4 381.5,46.8 384.7,48.3 387.8,49.8 390.9,51.4 394.0,53.0 397.1,54.8 400.2,56.6 403.2,58.5 406.3,60.3 409.4,62.1 412.5,63.8 415.6,65.4 418.7,67.1 421.8,68.8 424.9,70.4 428.0,72.1 431.1,73.7 434.2,75.3 437.3,76.9 440.4,78.4 443.6,79.9 446.7,81.5 449.8,83.0 452.9,84.5 456.0,86.1 459.1,87.8" fill="none" stroke="#222" stroke-width="0.45" />
<polyline points="337.2,29.5 340.5,30.0 343.7,30.6 347.0,31.3 350.2,31.9 353.4,32.6 356.6,33.4 359.8,34.1 363.0,35.0 366.2,35.9 369.4,36.9 372.6,37.9 375.7,39.1 378.9,40.3 382.0,41.6 385.1,43.0 388.3,44.3 391.4,45.7 394.5,47.2 397.6,48.7 400.7,50.3 403.7,51.9 406.8,53.7 409.9,55.3 413.0,56.9 416.1,58.5 419.2,60.0 422.3,61.5 425.4,63.0 428.5,64.5 431.6,66.0 434.7,67.5 437.8,68.9 440.9,70.4 444.0,71.8 447.1,73.2 450.3,74.6 453.4,76.0 456.5,77.4 459.6,78.8 462.7,80.4" fill="none" stroke="#222" stroke-width="0.45" />
<polyline points="341.0,27.0 344.2,27.5 347.5,28.1 350.7,28.6 353.9,29.2 357.1,29.9 360.3,30.5 363.5,31.2 366.7,32.0 369.9,32.8 373.1,33.7 376.2,34.7 379.4,35.8 382.5,36.9 385.6,38.1 388.8,39.3 391.9,40.6 395.0,41.9 398.1,43.2 401.2,44.6 404.3,46.0 407.4,47.5 410.4,49.1 413.5,50.6 416.6,52.0 419.7,53.4 422.8,54.8 425.9,56.2 429.0,57.5 432.1,58.9 435.2,60.2 438.3,61.6 441.4,62.9 444.5,64.2 447.7,65.5 450.8,66.7 453.9,68.0 457.0,69.3 460.1,70.6 463.2,71.9 466.3,73.3" fill="none" stroke="#222" stroke-width="0.45" />
<polyline points="344.8,24.6 348.0,25.1 351.2,25.6 354.4,26.1 357.6,26.6 360.8,27.2 364.0,27.8 367.2,28.5 370.4,29.2 373.6,29.9 376.7,30.7 379.9,31.6 383.0,32.6 386.2,33.7 389.3,34.7 392.4,35.9 395.5,37.0 398.6,38.2 401.7,39.4 404.8,40.7 407.9,42.0 411.0,43.3 414.1,44.7 417.2,46.1 420.3,47.4 423.4,48.6 426.5,49.9 429.6,51.1 432.7,52.3 435.8,53.5 438.9,54.7 442.0,55.9 445.1,57.1 448.2,58.3 451.3,59.4 454.4,60.6 457.6,61.8 460.7,62.9 463.8,64.1 466.9,65.3 470.0,66.6" fill="none" stroke="#222" stroke-width="0.45" />
<polyline points="348.6,22.4 351.8,22.9 355.0,23.3 358.2,23.7 361.4,24.2 364.6,24.7 367.7,25.3 370.9,25.9 374.1,26.5 377.3,27.2 380.4,27.9 383.6,28.8 386.7,29.7 389.8,30.6 393.0,31.6 396.1,32.6 399.2,33.7 402.3,34.8 405.4,35.9 408.5,37.0 411.6,38.2 414.7,39.4 417.8,40.6 420.9,41.8 424.0,42.9 427.1,44.1 430.2,45.2 433.3,46.2 436.4,47.3 439.5,48.4 442.6,49.5 445.7,50.6 448.8,51.6 451.9,52.7 455.0,53.7 458.2,54.7 461.3,55.8 464.4,56.8 467.5,57.9 470.6,59.0 473.7,60.1" fill="none" stroke="#222" stroke-width="0.45" />
<polyline points="352.4,20.4 355.6,20.8 358.8,21.2 362.0,21.6 365.1,22.0 368.3,22.5 371.5,23.0 374.7,23.5 377.9,24.1 381.0,24.7 384.2,25.4 387.3,26.1 390.4,27.0 393.6,27.8 396.7,28.7 399.8,29.7 402.9,30.6 406.0,31.6 409.1,32.6 412.2,33.6 415.3,34.7 418.4,35.7 421.5,36.8 424.6,37.8 427.7,38.9 430.8,39.8 433.9,40.8 437.0,41.8 440.1,42.7 443.2,43.7 446.4,44.7 449.5,45.6 452.6,46.5 455.7,47.4 458.8,48.4 461.9,49.3 465.0,50.2 468.2,51.2 471.3,52.1 474.4,53.1 477.5,54.1" fill="none" stroke="#222" stroke-width="0.45" />
<polyline points="356.2,18.6 359.4,18.9 362.6,19.3 365.8,19.6 369.0,20.0 372.1,20.4 375.3,20.9 378.5,21.4 381.6,21.9 384.8,22.5 387.9,23.1 391.1,23.8 394.2,24.5 397.3,25.3 400.4,26.1 403.5,26.9 406.7,27.8 409.8,28.7 412.9,29.6 416.0,30.5 419.1,31.4 422.2,32.4 425.3,33.3 428.4,34.2 431.5,35.1 434.6,35.9 437.7,36.8 440.8,37.6 443.9,38.4 447.0,39.3 450.2,40.1 453.3,40.9 456.4,41.7 459.5,42.5 462.6,43.3 465.7,44.2 468.9,45.0 472.0,45.8 475.1,46.7 478.2,47.6 481.3,48.5" fill="none" stroke="#222" stroke-width="0.45" />
<polyline points="360.1,17.0 363.3,17.3 366.5,17.6 369.6,17.9 372.8,18.3 376.0,18.6 379.1,19.0 382.3,19.5 385.5,19.9 388.6,20.5 391.7,21.0 394.9,21.6 398.0,22.3 401.1,23.0 404.2,23.7 407.3,24.5 410.4,25.3 413.5,26.1 416.7,26.9 419.8,27.6 422.9,28.4 426.0,29.2 429.1,30.0 432.2,30.7 435.3,31.5 438.4,32.2 441.5,32.9 444.6,33.6 447.8,34.3 450.9,35.0 454.0,35.7 457.1,36.4 460.2,37.1 463.4,37.8 466.5,38.5 469.6,39.2 472.7,39.9 475.8,40.7 478.9,41.4 482.0,42.2 485.1,43.0" fill="none" stroke="#222" stroke-width="0.45" />
</g>
<clipPath id="clb"><polygon points="298.0,70.0 298.6,70.2 299.7,70.6 301.4,71.2 303.6,72.1 305.8,72.9 307.9,73.7 309.9,74.5 311.8,75.4 313.7,76.2 315.8,77.1 318.0,78.1 320.3,79.0 322.6,80.1 325.1,81.3 327.6,82.7 330.1,84.1 332.7,85.7 335.3,87.4 337.9,89.2 340.6,91.1 343.2,93.1 345.8,95.1 348.4,97.2 351.1,99.3 353.5,101.4 355.8,103.3 357.8,105.2 359.8,107.0 361.8,109.1 364.1,111.6 366.5,114.3 369.1,117.4 371.9,120.5 374.8,123.7 377.9,126.9 381.1,130.1 384.4,133.4 387.6,136.6 390.9,139.9 394.1,143.1 397.4,146.3 400.6,149.4 403.9,152.4 407.1,155.3 410.1,158.0 412.9,160.4 415.4,162.6 417.6,164.5 419.6,166.2 421.2,167.7 422.5,168.9 423.4,169.8 424.2,170.6 424.7,171.1 424.9,171.3 424.9,171.3 425.1,170.7 425.6,169.6 426.3,167.9 427.3,165.7 428.2,163.3 429.2,160.9 430.2,158.4 431.1,155.8 432.1,153.3 433.0,150.9 433.9,148.6 434.7,146.3 435.8,143.5 437.1,140.0 438.6,136.0 440.4,131.3 442.2,126.6 444.1,121.9 446.1,117.2 448.1,112.5 450.3,107.6 452.5,102.6 454.8,97.5 457.1,92.2 459.4,87.3 461.5,82.9 463.4,78.9 465.3,75.3 467.1,71.8 469.0,68.3 471.0,64.8 473.0,61.2 475.3,57.5 477.9,53.4 480.9,49.1 484.1,44.4 486.6,41.0 488.2,38.7 489.0,37.5 489.0,37.5 488.1,37.3 486.4,36.9 483.8,36.4 480.2,35.6 476.1,34.8 471.2,33.8 465.6,32.8 459.4,31.7 453.1,30.5 446.7,29.3 440.2,28.1 433.8,26.9 427.5,25.6 421.6,24.4 415.9,23.1 410.6,21.9 405.3,20.8 400.1,19.8 395.0,18.9 390.0,18.1 385.1,17.5 380.3,16.9 375.6,16.4 370.9,16.1 367.5,15.8 365.2,15.6 364.0,15.5 364.0,15.5 363.3,15.8 361.8,16.3 359.7,17.2 356.8,18.3 353.7,19.7 350.4,21.4 346.9,23.4 343.1,25.6 339.2,28.1 335.2,30.9 330.9,33.9 326.6,37.1 322.8,40.2 319.6,43.2 317.0,46.0 315.0,48.6 313.2,50.9 311.5,52.9 310.1,54.6 308.8,55.8 307.5,57.2 306.2,58.7 304.9,60.2 303.6,61.9 302.4,63.4 301.3,65.0 300.3,66.4 299.4,67.9 298.7,68.9 298.2,69.6 298.0,70.0"/></clipPath>
<g clip-path="url(#clb)">
<g opacity="0.25">
<line x1="328.2" y1="107.4" x2="405.3" y2="76.4" stroke="#555" stroke-width="0.60"/>
<line x1="405.3" y1="76.4" x2="491.1" y2="103.3" stroke="#555" stroke-width="0.60"/>
<line x1="327.2" y1="75.5" x2="405.6" y2="51.3" stroke="#555" stroke-width="0.60"/>
<line x1="405.6" y1="51.3" x2="492.3" y2="72.1" stroke="#555" stroke-width="0.60"/>
<line x1="326.1" y1="43.7" x2="405.9" y2="26.2" stroke="#555" stroke-width="0.60"/>
<line x1="405.9" y1="26.2" x2="493.4" y2="40.9" stroke="#555" stroke-width="0.60"/>
<line x1="344.4" y1="131.1" x2="341.6" y2="24.2" stroke="#555" stroke-width="0.60"/>
<line x1="344.4" y1="131.1" x2="433.2" y2="163.6" stroke="#555" stroke-width="0.60"/>
<line x1="359.6" y1="123.6" x2="357.7" y2="21.4" stroke="#555" stroke-width="0.60"/>
<line x1="359.6" y1="123.6" x2="447.4" y2="156.2" stroke="#555" stroke-width="0.60"/>
<line x1="374.7" y1="116.0" x2="373.8" y2="18.6" stroke="#555" stroke-width="0.60"/>
<line x1="374.7" y1="116.0" x2="461.6" y2="148.8" stroke="#555" stroke-width="0.60"/>
<line x1="389.9" y1="108.5" x2="389.9" y2="15.8" stroke="#555" stroke-width="0.60"/>
<line x1="389.9" y1="108.5" x2="475.8" y2="141.4" stroke="#555" stroke-width="0.60"/>
<line x1="447.5" y1="117.5" x2="450.0" y2="18.8" stroke="#555" stroke-width="0.60"/>
<line x1="374.1" y1="154.8" x2="447.5" y2="117.5" stroke="#555" stroke-width="0.60"/>
<line x1="329.3" y1="138.6" x2="325.5" y2="27.0" stroke="#333" stroke-width="0.70"/>
<line x1="325.5" y1="27.0" x2="406.0" y2="13.0" stroke="#333" stroke-width="0.70"/>
<line x1="406.0" y1="13.0" x2="494.0" y2="24.5" stroke="#333" stroke-width="0.70"/>
<line x1="405.0" y1="101.0" x2="406.0" y2="13.0" stroke="#333" stroke-width="0.70"/>
<line x1="329.3" y1="138.6" x2="405.0" y2="101.0" stroke="#333" stroke-width="0.70"/>
<line x1="405.0" y1="101.0" x2="490.0" y2="134.0" stroke="#333" stroke-width="0.70"/>
</g>
</g>
<g opacity="1.00">
<line x1="49.9" y1="313.2" x2="127.0" y2="282.2" stroke="#d4d4d4" stroke-width="0.60"/>
<line x1="127.0" y1="282.2" x2="213.8" y2="308.7" stroke="#d4d4d4" stroke-width="0.60"/>
<line x1="48.9" y1="281.3" x2="127.3" y2="257.1" stroke="#d4d4d4" stroke-width="0.60"/>
<line x1="127.3" y1="257.1" x2="215.2" y2="277.5" stroke="#d4d4d4" stroke-width="0.60"/>
<line x1="47.8" y1="249.5" x2="127.5" y2="232.0" stroke="#d4d4d4" stroke-width="0.60"/>
<line x1="127.5" y1="232.0" x2="216.7" y2="246.4" stroke="#d4d4d4" stroke-width="0.60"/>
<line x1="66.1" y1="336.9" x2="63.3" y2="230.0" stroke="#d4d4d4" stroke-width="0.60"/>
<line x1="66.1" y1="336.9" x2="155.0" y2="369.3" stroke="#d4d4d4" stroke-width="0.60"/>
<line x1="81.3" y1="329.4" x2="79.4" y2="227.2" stroke="#d4d4d4" stroke-width="0.60"/>
<line x1="81.3" y1="329.4" x2="169.3" y2="361.8" stroke="#d4d4d4" stroke-width="0.60"/>
<line x1="96.4" y1="321.8" x2="95.5" y2="224.4" stroke="#d4d4d4" stroke-width="0.60"/>
<line x1="96.4" y1="321.8" x2="183.7" y2="354.3" stroke="#d4d4d4" stroke-width="0.60"/>
<line x1="111.6" y1="314.3" x2="111.6" y2="221.6" stroke="#d4d4d4" stroke-width="0.60"/>
<line x1="111.6" y1="314.3" x2="198.0" y2="346.8" stroke="#d4d4d4" stroke-width="0.60"/>
<line x1="169.5" y1="323.1" x2="172.6" y2="224.4" stroke="#d4d4d4" stroke-width="0.60"/>
<line x1="95.8" y1="360.6" x2="169.5" y2="323.1" stroke="#d4d4d4" stroke-width="0.60"/>
<line x1="51.0" y1="344.4" x2="47.2" y2="232.8" stroke="#b0b0b0" stroke-width="0.70"/>
<line x1="47.2" y1="232.8" x2="127.7" y2="218.8" stroke="#b0b0b0" stroke-width="0.70"/>
<line x1="127.7" y1="218.8" x2="217.5" y2="230.0" stroke="#b0b0b0" stroke-width="0.70"/>
<line x1="126.7" y1="306.8" x2="127.7" y2="218.8" stroke="#b0b0b0" stroke-width="0.70"/>
<line x1="51.0" y1="344.4" x2="126.7" y2="306.8" stroke="#b0b0b0" stroke-width="0.70"/>
<line x1="126.7" y1="306.8" x2="212.3" y2="339.3" stroke="#b0b0b0" stroke-width="0.70"/>
</g>
<line x1="51.0" y1="344.4" x2="140.7" y2="376.8" stroke="#555" stroke-width="0.80"/>
<line x1="140.7" y1="376.8" x2="212.3" y2="339.3" stroke="#555" stroke-width="0.80"/>
<line x1="212.3" y1="339.3" x2="217.5" y2="230.0" stroke="#555" stroke-width="0.80"/>
<g><path d="M20.3 267.7l7.1 2.2 2-3.4-6.9-1.9z" fill="#5cea1b"/><path d="M26.5 269.6l7 2.2 2-3.5-6.9-2z" fill="#35e820"/><path d="M32.7 271.5l7 2.2 1.9-3.6-6.9-2z" fill="#20e622"/><path d="M38.9 273.4l6.9 2.3 1.9-3.7-6.9-2.1z" fill="#19e627"/><path d="M45 275.5l7 2.3 1.8-3.9-6.9-2.2z" fill="#19e62f"/><path d="M51.2 277.5l6.9 2.3 1.8-4-6.9-2.1z" fill="#19e632"/><path d="M57.3 279.6l7 2.3 1.7-4.1-6.9-2.2z" fill="#19e634"/><path d="M63.5 281.6l6.9 2.5 1.6-4.2-6.8-2.4z" fill="#18e639"/><path d="M69.6 283.8l6.8 2.7 1.6-4.3-6.8-2.6z" fill="#18e63d"/><path d="M75.6 286.2l6.8 2.9 1.5-4.5-6.7-2.7z" fill="#18e63e"/><path d="M81.6 288.8l6.7 3.1 1.5-4.6-6.6-3z" fill="#18e642"/><path d="M87.5 291.5l6.5 3.3 1.5-4.8-6.5-3.1z" fill="#18e64c"/><path d="M93.2 294.4l6.2 3.8 1.5-4.9-6.2-3.7z" fill="#18e659"/><path d="M98.7 297.7l5.8 4.5 1.4-5.1-5.8-4.3z" fill="#17e56b"/><path d="M103.8 301.6l5.4 5.3 1.4-5.2-5.4-5.2z" fill="#17e582"/><path d="M108.6 306.2l5.1 5.9 1.3-5.4-5-5.8z" fill="#16e59a"/><path d="M113 311.3l4.8 6.8 1.4-5.8-4.8-6.5z" fill="#16e5ae"/><path d="M117.2 317.2l4.5 7.3 1.4-6-4.6-7.1z" fill="#15e4c5"/><path d="M121.1 323.4l4.3 7.9 1.3-6.2-4.2-7.7z" fill="#14e4e6"/><path d="M124.8 330.2l4 8.6 1.4-6.6-4-8.3z" fill="#14d4fa"/><path d="M128.3 337.6l3.8 9.1 1.4-6.8-3.9-8.9z" fill="#12aefa"/><path d="M131.6 345.5l3.7 9.5 1.4-6.9-3.8-9.4z" fill="#1187fa"/><path d="M134.7 353.8l3.6 9.8 1.4-7.2-3.6-9.6z" fill="#105ffa"/><path d="M137.8 362.3l3.5 10.1 1.4-7.5-3.5-9.8z" fill="#0f3bfa"/><path d="M140.7 371.1l3.2 10.8 1.4-7.7-3.1-10.5z" fill="#1d2efa"/><path d="M143.4 380.7l3.3 9.4 1.4-8-3.3-9.1z" fill="#2e28fa"/><path d="M146.2 389.1l5.8 2.2 1.2-7.5-5.8-2.2z" fill="#3625fa"/><path d="M151.2 391.2l6.7-.8 1.1-7.5-6.7 .8z" fill="#3227fa"/><path d="M22 265.3l7 2 2-3.3-7-1.8z" fill="#7dec17"/><path d="M28.1 267l7 2 1.9-3.4-6.9-1.8z" fill="#5bea1b"/><path d="M34.3 268.8l6.9 2.1 1.9-3.7-6.9-1.8z" fill="#46e91e"/><path d="M40.4 270.6l7 2.2 1.7-3.8-6.8-2z" fill="#35e820"/><path d="M46.5 272.5l7 2.2 1.7-4-6.9-2z" fill="#29e721"/><path d="M52.7 274.4l6.9 2.2 1.7-4.1-6.9-2z" fill="#24e722"/><path d="M58.8 276.4l6.9 2.2 1.6-4.3-6.9-2z" fill="#20e622"/><path d="M64.9 278.3l6.8 2.4 1.6-4.4-6.8-2.2z" fill="#19e623"/><path d="M70.9 280.4l6.8 2.6 1.5-4.6-6.7-2.4z" fill="#19e62a"/><path d="M77 282.6l6.7 2.8 1.4-4.7-6.7-2.6z" fill="#19e62c"/><path d="M82.9 285.1l6.6 3 1.4-4.9-6.6-2.8z" fill="#19e62e"/><path d="M88.8 287.7l6.4 3.2 1.4-5.1-6.5-3z" fill="#19e633"/><path d="M94.5 290.5l6.1 3.7 1.3-5.3-6.1-3.5z" fill="#18e63d"/><path d="M99.9 293.7l5.8 4.3 1.3-5.4-5.8-4.2z" fill="#18e64e"/><path d="M105 297.4l5.4 5.2 1.2-5.7-5.4-4.9z" fill="#17e566"/><path d="M109.7 301.9l5.1 5.8 1.2-5.9-5.1-5.6z" fill="#17e583"/><path d="M114.1 306.9l4.9 6.6 1.1-6.2-4.8-6.4z" fill="#16e598"/><path d="M118.3 312.5l4.5 7.2 1.2-6.5-4.5-6.9z" fill="#16e5aa"/><path d="M122.2 318.6l4.3 7.8 1.2-6.9-4.3-7.4z" fill="#15e5c4"/><path d="M125.9 325.2l4 8.3 1.2-7-4-8.1z" fill="#14e4e9"/><path d="M129.3 332.3l3.9 8.9 1.2-7.2-3.9-8.7z" fill="#13cefa"/><path d="M132.6 340l3.8 9.3 1.2-7.5-3.8-9z" fill="#12a8fa"/><path d="M135.8 348.1l3.6 9.6 1.2-7.8-3.6-9.3z" fill="#1181fa"/><path d="M138.9 356.4l3.5 9.8 1.2-8-3.5-9.5z" fill="#105bfa"/><path d="M141.8 365l3.2 10.4 1.2-8.2-3.1-10.1z" fill="#0f37fa"/><path d="M144.5 374.3l3.3 9.1 1.3-8.5-3.4-8.9z" fill="#1f2dfa"/><path d="M147.3 382.5l5.8 2.2 .9-8.2-5.7-2.1z" fill="#292afa"/><path d="M152.2 384.6l6.7-.8 .9-8.2-6.6 .8z" fill="#252bfa"/><path d="M23.5 262.9l7 1.9 1.9-3.2-6.9-1.6z" fill="#a3ee14"/><path d="M29.7 264.5l6.9 1.9 1.9-3.4-6.9-1.6z" fill="#8aed16"/><path d="M35.8 266.1l6.9 1.9 1.8-3.6-6.9-1.6z" fill="#72eb19"/><path d="M41.9 267.8l6.9 2 1.7-3.8-6.9-1.8z" fill="#5eea1b"/><path d="M48 269.5l6.9 2 1.6-3.9-6.8-1.8z" fill="#50e91d"/><path d="M54.1 271.3l6.8 2 1.6-4.1-6.8-1.8z" fill="#4ae91d"/><path d="M60.1 273.1l6.9 2 1.5-4.3-6.8-1.8z" fill="#44e91e"/><path d="M66.2 274.9l6.8 2.2 1.4-4.5-6.7-2z" fill="#3be81f"/><path d="M72.2 276.8l6.8 2.4 1.4-4.6-6.8-2.2z" fill="#2ee721"/><path d="M78.2 278.9l6.7 2.6 1.3-4.8-6.6-2.4z" fill="#25e722"/><path d="M84.1 281.2l6.6 2.8 1.3-5-6.6-2.6z" fill="#27e721"/><path d="M89.9 283.7l6.5 2.9 1.2-5.1-6.4-2.8z" fill="#28e721"/><path d="M95.6 286.2l6.1 3.6 1.2-5.4-6.1-3.3z" fill="#1fe622"/><path d="M101 289.3l5.8 4.2 1.1-5.6-5.8-3.9z" fill="#19e62d"/><path d="M106 292.9l5.5 5 1.1-5.8-5.4-4.8z" fill="#18e643"/><path d="M110.7 297.2l5.1 5.6 1.1-6.1-5.1-5.3z" fill="#18e561"/><path d="M115.1 302l4.9 6.4 1-6.4-4.8-6.2z" fill="#17e57e"/><path d="M119.3 307.5l4.5 6.9 1.1-6.7-4.6-6.7z" fill="#16e591"/><path d="M123.1 313.4l4.4 7.5 1-7-4.3-7.3z" fill="#16e5a3"/><path d="M126.8 319.7l4.1 8.1 1.1-7.2-4.1-7.9z" fill="#15e5c1"/><path d="M130.3 326.6l3.9 8.7 1-7.5-3.9-8.4z" fill="#14e4eb"/><path d="M133.6 334.1l3.7 9 1.1-7.7-3.8-8.8z" fill="#13ccfa"/><path d="M136.7 341.9l3.7 9.3 1-8-3.6-9z" fill="#12a7fa"/><path d="M139.8 350l3.5 9.5 1.1-8.2-3.5-9.3z" fill="#1180fa"/><path d="M142.7 358.3l3.2 10 1.1-8.3-3.2-9.8z" fill="#105afa"/><path d="M145.4 367.3l3.4 8.9 1-8.7-3.4-8.7z" fill="#0f38fa"/><path d="M148.2 375.2l5.7 2.2 .9-8.4-5.8-2z" fill="#1430fa"/><path d="M153.1 377.3l6.6-.8 .8-8.4-6.6 .8z" fill="#1131fa"/><path d="M25 260.7l7 1.6 1.9-3.2-6.8-1.4z" fill="#c6ee14"/><path d="M31.1 262.1l6.9 1.6 1.9-3.3-6.8-1.5z" fill="#b4ee14"/><path d="M37.2 263.5l6.9 1.7 1.8-3.5-6.8-1.5z" fill="#9dee14"/><path d="M43.2 265l6.9 1.8 1.8-3.7-6.8-1.6z" fill="#89ed16"/><path d="M49.3 266.6l6.9 1.8 1.7-3.8-6.8-1.7z" fill="#7aec18"/><path d="M55.3 268.2l6.9 1.8 1.6-3.9-6.8-1.7z" fill="#72eb19"/><path d="M61.4 269.8l6.8 1.8 1.6-4-6.8-1.7z" fill="#6aeb1a"/><path d="M67.4 271.4l6.8 2 1.5-4.2-6.7-1.8z" fill="#60ea1b"/><path d="M73.4 273.2l6.7 2.2 1.5-4.4-6.7-2z" fill="#52ea1c"/><path d="M79.3 275.1l6.6 2.4 1.5-4.5-6.6-2.2z" fill="#48e91e"/><path d="M85.2 277.2l6.5 2.6 1.4-4.6-6.5-2.5z" fill="#4be91d"/><path d="M90.9 279.5l6.5 2.8 1.3-4.8-6.4-2.6z" fill="#50e91d"/><path d="M96.6 281.9l6.1 3.4 1.3-5-6.1-3.2z" fill="#4ce91d"/><path d="M101.9 284.8l5.8 4 1.3-5.1-5.8-3.8z" fill="#3ce81f"/><path d="M107 288.3l5.3 4.7 1.3-5.3-5.4-4.6z" fill="#20e622"/><path d="M111.6 292.4l5.1 5.3 1.2-5.6-5-5.1z" fill="#18e63a"/><path d="M116 297l4.8 6.1 1.2-5.8-4.8-6z" fill="#18e55a"/><path d="M120.1 302.2l4.5 6.7 1.2-6.1-4.5-6.5z" fill="#17e575"/><path d="M124 307.9l4.3 7.2 1.2-6.4-4.3-7z" fill="#17e587"/><path d="M127.6 314l4.1 7.9 1.2-6.7-4.1-7.6z" fill="#16e59c"/><path d="M131.1 320.7l3.9 8.4 1.2-6.9-3.9-8.1z" fill="#15e5bf"/><path d="M134.4 327.9l3.7 8.8 1.2-7.1-3.7-8.6z" fill="#14e4ec"/><path d="M137.5 335.5l3.7 9 1.2-7.3-3.7-8.8z" fill="#13ccfa"/><path d="M140.6 343.3l3.5 9.3 1.2-7.6-3.5-9z" fill="#12a6fa"/><path d="M143.5 351.4l3.2 9.9 1.3-7.8-3.2-9.7z" fill="#117efa"/><path d="M146.2 360.1l3.3 8.7 1.3-8.1-3.4-8.5z" fill="#105afa"/><path d="M148.9 367.8l5.8 2 1-7.7-5.7-1.9z" fill="#104bfa"/><path d="M153.8 369.8l6.6-.8 .9-7.7-6.5 .8z" fill="#1051fa"/><path d="M26.5 258.4l7 1.5 2-3.3-6.8-1.2z" fill="#e7ee14"/><path d="M32.6 259.7l6.9 1.5 2-3.4-6.8-1.3z" fill="#d5ee14"/><path d="M38.6 261l6.9 1.5 2-3.5-6.9-1.4z" fill="#beee14"/><path d="M44.7 262.3l6.8 1.6 1.9-3.6-6.8-1.5z" fill="#aeee14"/><path d="M50.7 263.7l6.8 1.7 1.8-3.8-6.8-1.5z" fill="#a2ee14"/><path d="M56.7 265.2l6.8 1.6 1.8-3.9-6.8-1.5z" fill="#9aee14"/><path d="M62.7 266.6l6.8 1.8 1.7-4.1-6.8-1.6z" fill="#91ed15"/><path d="M68.7 268.1l6.7 1.9 1.7-4.2-6.7-1.7z" fill="#87ed16"/><path d="M74.6 269.8l6.7 2 1.6-4.3-6.6-1.9z" fill="#7bec18"/><path d="M80.5 271.6l6.6 2.2 1.6-4.4-6.6-2.1z" fill="#74ec18"/><path d="M86.3 273.5l6.6 2.5 1.5-4.6-6.5-2.3z" fill="#77ec18"/><path d="M92.1 275.7l6.4 2.6 1.4-4.7-6.3-2.5z" fill="#7cec18"/><path d="M97.7 278l6 3.2 1.5-4.9-6.1-3z" fill="#7aec18"/><path d="M103 280.7l5.7 3.8 1.4-5-5.7-3.6z" fill="#6ceb19"/><path d="M108 284l5.4 4.6 1.3-5.2-5.3-4.4z" fill="#53ea1c"/><path d="M112.7 288l5 5.1 1.3-5.4-5-5z" fill="#2fe721"/><path d="M117 292.4l4.8 5.9 1.3-5.7-4.8-5.7z" fill="#19e634"/><path d="M121.1 297.5l4.5 6.4 1.3-5.9-4.5-6.3z" fill="#18e654"/><path d="M125 303l4.2 6.9 1.3-6.2-4.2-6.7z" fill="#17e56c"/><path d="M128.6 308.9l4 7.6 1.4-6.5-4.1-7.4z" fill="#17e580"/><path d="M132 315.4l3.9 8.1 1.3-6.7-3.8-8z" fill="#16e59a"/><path d="M135.3 322.3l3.7 8.6 1.4-7-3.8-8.3z" fill="#15e5c0"/><path d="M138.4 329.7l3.7 8.8 1.3-7.3-3.6-8.5z" fill="#14e4eb"/><path d="M141.5 337.3l3.5 9 1.3-7.5-3.4-8.8z" fill="#13ccfa"/><path d="M144.4 345.1l3.2 9.7 1.4-7.8-3.2-9.4z" fill="#12a4fa"/><path d="M147.1 353.5l3.4 8.5 1.3-8-3.4-8.2z" fill="#117efa"/><path d="M149.9 361l5.7 2 1.1-7.5-5.7-2z" fill="#116dfa"/><path d="M154.7 362.9l6.5-.7 1.1-7.5-6.5 .7z" fill="#1172fa"/><path d="M28.1 256.1l7 1.3 2.1-3.2-6.8-1.2z" fill="#fcea14"/><path d="M34.2 257.2l6.8 1.3 2.1-3.4-6.8-1.1z" fill="#f1ee14"/><path d="M40.2 258.4l6.8 1.3 2-3.5-6.8-1.2z" fill="#ddee14"/><path d="M46.2 259.6l6.8 1.4 1.9-3.6-6.7-1.3z" fill="#cdee14"/><path d="M52.1 260.8l6.9 1.6 1.8-3.8-6.7-1.4z" fill="#c2ee14"/><path d="M58.1 262.2l6.8 1.5 1.8-3.9-6.7-1.4z" fill="#b9ee14"/><path d="M64.1 263.5l6.8 1.6 1.7-4.1-6.7-1.4z" fill="#b3ee14"/><path d="M70 264.9l6.8 1.7 1.7-4.1-6.7-1.6z" fill="#adee14"/><path d="M75.9 266.4l6.7 1.9 1.7-4.3-6.7-1.8z" fill="#a6ee14"/><path d="M81.8 268l6.6 2.2 1.6-4.5-6.5-1.9z" fill="#a2ee14"/><path d="M87.6 269.9l6.5 2.3 1.5-4.5-6.4-2.2z" fill="#a4ee14"/><path d="M93.3 271.9l6.3 2.5 1.6-4.7-6.3-2.3z" fill="#a7ee14"/><path d="M98.9 274.1l6 3 1.5-4.8-6-2.9z" fill="#a6ee14"/><path d="M104.2 276.7l5.7 3.7 1.4-5-5.7-3.5z" fill="#9eee14"/><path d="M109.1 279.8l5.4 4.5 1.4-5.2-5.3-4.3z" fill="#87ed16"/><path d="M113.8 283.7l5 4.9 1.4-5.4-5-4.8z" fill="#63eb1a"/><path d="M118.1 287.9l4.7 5.7 1.4-5.6-4.7-5.5z" fill="#37e820"/><path d="M122.2 292.8l4.5 6.3 1.3-6-4.4-6z" fill="#19e631"/><path d="M126 298.1l4.3 6.8 1.3-6.2-4.2-6.5z" fill="#18e64f"/><path d="M129.6 303.9l4.1 7.4 1.4-6.5-4.1-7.2z" fill="#17e566"/><path d="M133.1 310.1l3.8 8 1.4-6.8-3.8-7.7z" fill="#17e57c"/><path d="M136.3 316.9l3.8 8.3 1.4-7-3.8-8.1z" fill="#16e59a"/><path d="M139.5 324l3.6 8.5 1.4-7.2-3.6-8.3z" fill="#15e5c0"/><path d="M142.5 331.3l3.5 8.8 1.4-7.5-3.4-8.5z" fill="#14e4ea"/><path d="M145.5 338.9l3.2 9.4 1.4-7.7-3.2-9.2z" fill="#13cafa"/><path d="M148.1 347.1l3.4 8.2 1.4-7.9-3.4-8z" fill="#12a4fa"/><path d="M150.9 354.4l5.6 1.9 1.2-7.6-5.6-1.8z" fill="#1291fa"/><path d="M155.7 356.2l6.4-.7 1.2-7.5-6.4 .6z" fill="#1293fa"/><path d="M29.8 253.8l6.9 1.1 2.2-3.2-6.8-1z" fill="#fcde14"/><path d="M35.8 254.8l6.9 1.1 2.1-3.4-6.8-1z" fill="#fce714"/><path d="M41.8 255.8l6.8 1.2 2.1-3.5-6.8-1.1z" fill="#f8ee14"/><path d="M47.7 256.8l6.8 1.3 2-3.6-6.7-1.2z" fill="#ebee14"/><path d="M53.7 258l6.8 1.3 1.9-3.7-6.7-1.3z" fill="#e0ee14"/><path d="M59.6 259.2l6.8 1.4 1.9-3.9-6.8-1.3z" fill="#d9ee14"/><path d="M65.5 260.4l6.8 1.4 1.8-4-6.7-1.3z" fill="#d4ee14"/><path d="M71.4 261.6l6.7 1.6 1.8-4.1-6.6-1.5z" fill="#cfee14"/><path d="M77.3 263l6.7 1.8 1.7-4.3-6.6-1.6z" fill="#cbee14"/><path d="M83.1 264.6l6.6 1.9 1.7-4.3-6.5-1.9z" fill="#c9ee14"/><path d="M88.9 266.3l6.5 2.2 1.6-4.5-6.4-2.1z" fill="#caee14"/><path d="M94.6 268.2l6.3 2.3 1.6-4.6-6.3-2.2z" fill="#ccee14"/><path d="M100.1 270.2l6 2.9 1.6-4.7-6-2.8z" fill="#ccee14"/><path d="M105.4 272.7l5.7 3.5 1.4-4.9-5.6-3.3z" fill="#c6ee14"/><path d="M110.3 275.7l5.3 4.3 1.5-5.1-5.3-4.1z" fill="#b6ee14"/><path d="M114.9 279.4l5 4.7 1.5-5.3-5-4.6z" fill="#9aee14"/><path d="M119.2 283.5l4.8 5.5 1.4-5.6-4.7-5.3z" fill="#6deb19"/><path d="M123.3 288.2l4.5 6 1.4-5.8-4.5-5.8z" fill="#3ae81f"/><path d="M127.1 293.3l4.3 6.5 1.4-6-4.2-6.3z" fill="#19e62e"/><path d="M130.8 298.8l4 7.2 1.4-6.4-4-6.9z" fill="#18e64b"/><path d="M134.2 304.9l3.8 7.7 1.5-6.7-3.9-7.4z" fill="#18e563"/><path d="M137.4 311.4l3.8 8.1 1.4-6.9-3.7-7.8z" fill="#17e57c"/><path d="M140.6 318.3l3.6 8.3 1.5-7.1-3.7-8.1z" fill="#16e59a"/><path d="M143.6 325.4l3.5 8.5 1.5-7.4-3.5-8.2z" fill="#15e5bf"/><path d="M146.6 332.7l3.2 9.2 1.5-7.7-3.2-8.9z" fill="#14e4ec"/><path d="M149.2 340.7l3.4 8 1.5-7.9-3.4-7.8z" fill="#13cafa"/><path d="M152 347.7l5.6 1.9 1.3-7.5-5.6-1.8z" fill="#13b5fa"/><path d="M156.8 349.5l6.3-.6 1.2-7.4-6.3 .5z" fill="#13b5fa"/><path d="M31.5 251.4l6.9 1 2.3-3.2-6.9-.9z" fill="#fcd414"/><path d="M37.4 252.3l6.9 1 2.2-3.3-6.8-.9z" fill="#fcdc14"/><path d="M43.4 253.2l6.8 1 2.2-3.4-6.8-1z" fill="#fce314"/><path d="M49.3 254.1l6.8 1.2 2.1-3.6-6.7-1z" fill="#fce914"/><path d="M55.2 255.1l6.8 1.3 2-3.7-6.7-1.1z" fill="#fcee14"/><path d="M61.1 256.2l6.8 1.3 2-3.8-6.7-1.1z" fill="#f7ee14"/><path d="M67 257.3l6.7 1.3 2-3.8-6.7-1.2z" fill="#f3ee14"/><path d="M72.9 258.4l6.7 1.5 1.9-3.9-6.7-1.4z" fill="#f1ee14"/><path d="M78.7 259.7l6.6 1.6 1.9-3.9-6.6-1.6z" fill="#f0ee14"/><path d="M84.5 261.1l6.5 1.9 1.8-4.1-6.5-1.8z" fill="#eeee14"/><path d="M90.2 262.7l6.5 2.1 1.7-4.2-6.4-1.9z" fill="#eeee14"/><path d="M95.9 264.5l6.3 2.2 1.7-4.3-6.3-2.1z" fill="#efee14"/><path d="M101.4 266.4l6 2.8 1.6-4.4-5.9-2.7z" fill="#f0ee14"/><path d="M106.6 268.8l5.7 3.3 1.6-4.5-5.6-3.2z" fill="#ecee14"/><path d="M111.6 271.6l5.2 4.1 1.6-4.6-5.2-4z" fill="#dfee14"/><path d="M116.1 275.1l5 4.6 1.6-4.8-5-4.4z" fill="#c4ee14"/><path d="M120.4 279.1l4.7 5.3 1.6-5-4.7-5.2z" fill="#a0ee14"/><path d="M124.5 283.6l4.4 5.8 1.6-5.2-4.4-5.6z" fill="#6feb19"/><path d="M128.3 288.6l4.2 6.2 1.6-5.5-4.2-6z" fill="#3ae81f"/><path d="M131.9 293.9l4 6.9 1.6-5.8-4-6.6z" fill="#19e62e"/><path d="M135.3 299.8l3.9 7.4 1.5-6.1-3.8-7.1z" fill="#18e649"/><path d="M138.6 306l3.7 7.9 1.6-6.3-3.7-7.6z" fill="#18e562"/><path d="M141.7 312.7l3.6 8.1 1.6-6.6-3.6-7.8z" fill="#17e57c"/><path d="M144.8 319.6l3.5 8.2 1.6-6.7-3.5-8.1z" fill="#16e59a"/><path d="M147.7 326.6l3.2 8.9 1.6-7-3.2-8.7z" fill="#15e5c2"/><path d="M150.4 334.3l3.3 7.8 1.7-7.2-3.4-7.6z" fill="#14e4ef"/><path d="M153.1 341.1l5.6 1.9 1.4-6.8-5.5-1.8z" fill="#14d7fa"/><path d="M157.9 342.9l6.3-.6 1.4-6.7-6.3 .5z" fill="#14d3fa"/><path d="M33.2 249.1l6.9 .9 2.4-3.2-6.8-.8z" fill="#fccc14"/><path d="M39.1 249.9l6.9 .9 2.3-3.3-6.8-.9z" fill="#fcd214"/><path d="M45.1 250.6l6.8 1 2.2-3.4-6.7-.9z" fill="#fcd814"/><path d="M50.9 251.4l6.8 1.1 2.3-3.4-6.8-1z" fill="#fcdc14"/><path d="M56.8 252.4l6.8 1.1 2.2-3.5-6.8-1z" fill="#fcdf14"/><path d="M62.7 253.4l6.7 1.1 2.2-3.5-6.7-1.1z" fill="#fce214"/><path d="M68.5 254.4l6.8 1.2 2.1-3.6-6.7-1.2z" fill="#fce314"/><path d="M74.4 255.4l6.7 1.4 2-3.7-6.6-1.3z" fill="#fce414"/><path d="M80.2 256.6l6.6 1.5 2-3.7-6.6-1.4z" fill="#fce414"/><path d="M86 257.9l6.5 1.8 1.9-3.8-6.4-1.7z" fill="#fce414"/><path d="M91.6 259.4l6.5 2 1.9-3.8-6.4-1.9z" fill="#fce414"/><path d="M97.3 261.1l6.2 2.1 1.9-3.9-6.2-2z" fill="#fce414"/><path d="M102.8 262.9l5.9 2.7 1.8-4-5.9-2.6z" fill="#fce414"/><path d="M108 265.2l5.6 3.2 1.8-4-5.6-3.1z" fill="#fce614"/><path d="M112.9 267.9l5.2 4 1.8-4.2-5.2-3.8z" fill="#fcec14"/><path d="M117.4 271.3l5 4.5 1.7-4.3-4.9-4.3z" fill="#e8ee14"/><path d="M121.7 275.1l4.7 5.1 1.7-4.4-4.6-5z" fill="#c5ee14"/><path d="M125.7 279.5l4.5 5.6 1.7-4.6-4.4-5.4z" fill="#9eee14"/><path d="M129.6 284.3l4.1 6 1.8-4.8-4.2-5.8z" fill="#6aeb1a"/><path d="M133.2 289.5l3.9 6.6 1.8-5.1-4-6.4z" fill="#35e820"/><path d="M136.6 295.1l3.8 7.1 1.8-5.3-3.8-6.9z" fill="#19e62f"/><path d="M139.8 301.2l3.7 7.6 1.8-5.7-3.7-7.3z" fill="#18e64b"/><path d="M143 307.7l3.6 7.7 1.8-5.8-3.6-7.6z" fill="#17e565"/><path d="M146 314.3l3.5 8 1.8-6.1-3.4-7.8z" fill="#17e57f"/><path d="M149 321.1l3.2 8.7 1.8-6.4-3.2-8.4z" fill="#16e5a1"/><path d="M151.7 328.6l3.3 7.6 1.8-6.6-3.3-7.4z" fill="#15e4cc"/><path d="M154.4 335.2l5.5 1.8 1.7-6.1-5.5-1.8z" fill="#14e4e9"/><path d="M159.1 336.9l6.3-.4 1.6-6-6.3 .3z" fill="#14e4f1"/><path d="M35 246.7l6.9 .8 2.6-3.3-6.8-.7z" fill="#fcc314"/><path d="M40.9 247.4l6.9 .8 2.5-3.3-6.8-.8z" fill="#fcc814"/><path d="M46.8 248.1l6.8 .9 2.5-3.4-6.8-.8z" fill="#fccc14"/><path d="M52.7 248.9l6.7 1 2.5-3.5-6.8-.9z" fill="#fccf14"/><path d="M58.5 249.7l6.8 1.1 2.4-3.5-6.8-1z" fill="#fcd214"/><path d="M64.3 250.7l6.8 1.1 2.3-3.6-6.7-1z" fill="#fcd414"/><path d="M70.2 251.6l6.7 1.2 2.3-3.6-6.7-1.1z" fill="#fcd514"/><path d="M76 252.6l6.7 1.3 2.2-3.6-6.6-1.2z" fill="#fcd514"/><path d="M81.8 253.7l6.6 1.5 2.2-3.6-6.6-1.5z" fill="#fcd514"/><path d="M87.5 255l6.5 1.7 2.2-3.7-6.5-1.6z" fill="#fcd514"/><path d="M93.2 256.4l6.4 1.9 2.1-3.7-6.3-1.8z" fill="#fcd514"/><path d="M98.8 258.1l6.2 2 2.1-3.8-6.2-1.9z" fill="#fcd414"/><path d="M104.2 259.8l6 2.6 2-3.8-5.9-2.5z" fill="#fcd514"/><path d="M109.4 262l5.6 3.1 2.1-3.8-5.6-3.1z" fill="#fcd814"/><path d="M114.3 264.7l5.2 3.8 2-4-5.2-3.7z" fill="#fcde14"/><path d="M118.9 268l4.9 4.3 2-4.1-4.9-4.2z" fill="#fce914"/><path d="M123.1 271.7l4.7 4.9 2-4.2-4.7-4.8z" fill="#e5ee14"/><path d="M127.2 275.9l4.3 5.4 2-4.4-4.3-5.2z" fill="#c0ee14"/><path d="M131 280.6l4.1 5.8 2-4.6-4.1-5.7z" fill="#97ee14"/><path d="M134.6 285.6l3.9 6.3 2-4.8-3.9-6.2z" fill="#62ea1b"/><path d="M138 291.1l3.8 6.8 2-5.1-3.8-6.6z" fill="#2fe721"/><path d="M141.3 296.9l3.6 7.3 2-5.3-3.6-7.1z" fill="#19e634"/><path d="M144.4 303.2l3.6 7.5 2-5.6-3.6-7.3z" fill="#18e64f"/><path d="M147.5 309.6l3.4 7.8 2.1-5.9-3.5-7.5z" fill="#17e56a"/><path d="M150.4 316.2l3.2 8.5 2.1-6.2-3.2-8.2z" fill="#17e589"/><path d="M153.1 323.5l3.3 7.3 2.1-6.4-3.3-7.1z" fill="#16e5af"/><path d="M155.8 329.9l5.5 1.8 1.9-5.9-5.4-1.9z" fill="#15e4cd"/><path d="M160.5 331.6l6.2-.3 1.9-5.8-6.2 .1z" fill="#15e4da"/><path d="M37 244.3l6.9 .7 2.7-3.4-6.8-.7z" fill="#fcba14"/><path d="M42.9 244.9l6.8 .8 2.7-3.5-6.8-.7z" fill="#fcbe14"/><path d="M48.7 245.5l6.8 .9 2.7-3.5-6.8-.8z" fill="#fcc114"/><path d="M54.6 246.3l6.7 .9 2.7-3.5-6.8-.9z" fill="#fcc214"/><path d="M60.4 247.1l6.7 1 2.6-3.5-6.7-1z" fill="#fcc414"/><path d="M66.2 247.9l6.7 1.1 2.6-3.5-6.7-1.1z" fill="#fcc514"/><path d="M72 248.9l6.7 1.1 2.5-3.6-6.6-1.1z" fill="#fcc614"/><path d="M77.8 249.8l6.6 1.3 2.5-3.6-6.6-1.3z" fill="#fcc614"/><path d="M83.5 250.9l6.6 1.4 2.4-3.6-6.5-1.4z" fill="#fcc614"/><path d="M89.2 252.1l6.5 1.7 2.4-3.7-6.4-1.6z" fill="#fcc614"/><path d="M94.9 253.5l6.4 1.8 2.3-3.6-6.3-1.8z" fill="#fcc614"/><path d="M100.5 255.1l6.2 2 2.3-3.7-6.2-2z" fill="#fcc614"/><path d="M105.9 256.8l5.9 2.5 2.3-3.7-5.9-2.5z" fill="#fcc714"/><path d="M111.1 258.9l5.5 3.1 2.3-3.8-5.6-3z" fill="#fcca14"/><path d="M115.9 261.6l5.2 3.7 2.3-3.9-5.2-3.6z" fill="#fcd114"/><path d="M120.5 264.8l4.9 4.1 2.2-4-4.9-4z" fill="#fcdc14"/><path d="M124.7 268.4l4.7 4.8 2.2-4.2-4.7-4.7z" fill="#fceb14"/><path d="M128.8 272.5l4.3 5.2 2.2-4.3-4.3-5.1z" fill="#e0ee14"/><path d="M132.6 277l4.1 5.6 2.2-4.5-4.1-5.4z" fill="#bbee14"/><path d="M136.2 281.8l3.9 6.2 2.2-4.8-3.9-5.9z" fill="#8fed15"/><path d="M139.6 287.1l3.8 6.7 2.2-5-3.8-6.4z" fill="#5aea1c"/><path d="M142.9 292.9l3.6 7 2.3-5.3-3.7-6.8z" fill="#27e721"/><path d="M146 298.9l3.6 7.2 2.2-5.5-3.5-7z" fill="#19e638"/><path d="M149.1 305.1l3.4 7.5 2.3-5.8-3.5-7.2z" fill="#18e654"/><path d="M152.1 311.5l3.1 8.1 2.3-6.1-3.2-7.8z" fill="#17e573"/><path d="M154.8 318.5l3.3 7.1 2.3-6.3-3.4-6.8z" fill="#16e596"/><path d="M157.5 324.7l5.5 1.9 2.1-5.9-5.4-1.9z" fill="#16e5b3"/><path d="M162.1 326.5l6.2-.1 2.1-5.8-6.2-.1z" fill="#15e5c1"/><path d="M39.1 241.7l6.9 .7 3-3.4-6.9-.7z" fill="#fcb114"/><path d="M45 242.3l6.8 .7 2.9-3.4-6.8-.7z" fill="#fcb214"/><path d="M50.8 242.9l6.8 .8 2.9-3.5-6.8-.7z" fill="#fcb414"/><path d="M56.6 243.6l6.8 .9 2.8-3.5-6.7-.9z" fill="#fcb514"/><path d="M62.4 244.4l6.7 .9 2.8-3.5-6.7-.9z" fill="#fcb714"/><path d="M68.2 245.2l6.7 1 2.8-3.5-6.7-1z" fill="#fcb714"/><path d="M74 246.1l6.7 1.1 2.7-3.6-6.7-1.1z" fill="#fcb714"/><path d="M79.7 247l6.7 1.2 2.6-3.5-6.6-1.3z" fill="#fcb814"/><path d="M85.5 248.1l6.5 1.4 2.7-3.6-6.6-1.4z" fill="#fcb714"/><path d="M91.1 249.2l6.5 1.6 2.6-3.6-6.4-1.5z" fill="#fcb714"/><path d="M96.8 250.6l6.4 1.8 2.5-3.6-6.4-1.8z" fill="#fcb714"/><path d="M102.3 252.2l6.2 1.9 2.5-3.7-6.2-1.9z" fill="#fcb714"/><path d="M107.7 253.8l5.9 2.5 2.5-3.7-5.9-2.5z" fill="#fcb914"/><path d="M112.9 255.9l5.6 3 2.4-3.7-5.6-3z" fill="#fcbd14"/><path d="M117.7 258.5l5.2 3.6 2.4-3.8-5.1-3.6z" fill="#fcc414"/><path d="M122.3 261.6l4.9 4.1 2.3-4-4.8-3.9z" fill="#fccf14"/><path d="M126.5 265.1l4.6 4.7 2.4-4.2-4.6-4.5z" fill="#fcdc14"/><path d="M130.5 269.1l4.4 5.1 2.4-4.3-4.4-4.9z" fill="#fced14"/><path d="M134.3 273.5l4.2 5.4 2.4-4.5-4.2-5.2z" fill="#dcee14"/><path d="M137.9 278.2l4 5.9 2.4-4.7-4-5.7z" fill="#b6ee14"/><path d="M141.4 283.3l3.8 6.4 2.4-5-3.8-6.1z" fill="#88ed16"/><path d="M144.7 288.8l3.6 6.8 2.4-5.3-3.7-6.5z" fill="#52e91c"/><path d="M147.8 294.6l3.6 7 2.4-5.5-3.6-6.7z" fill="#20e622"/><path d="M150.9 300.6l3.5 7.2 2.4-5.7-3.5-7z" fill="#18e63b"/><path d="M153.9 306.8l3.2 7.8 2.4-6.1-3.2-7.5z" fill="#18e55b"/><path d="M156.6 313.5l3.3 6.9 2.5-6.3-3.4-6.6z" fill="#17e57d"/><path d="M159.4 319.6l5.4 1.9 2.3-5.9-5.4-2z" fill="#16e598"/><path d="M163.9 321.4l6.2 0 2.2-5.7-6.1-.3z" fill="#16e5a3"/><path d="M41.4 239.1l6.9 .7 3.1-3.4-6.8-.6z" fill="#fca614"/><path d="M47.2 239.7l6.9 .7 3.1-3.5-6.8-.6z" fill="#fca714"/><path d="M53 240.2l6.8 .8 3.1-3.4-6.8-.8z" fill="#fca814"/><path d="M58.8 240.9l6.8 .9 3-3.5-6.7-.8z" fill="#fca914"/><path d="M64.6 241.6l6.7 1 3-3.5-6.7-.9z" fill="#fca914"/><path d="M70.4 242.4l6.7 1 2.9-3.5-6.7-.9z" fill="#fca914"/><path d="M76.1 243.3l6.7 1.1 2.9-3.6-6.7-1z" fill="#fca914"/><path d="M81.8 244.2l6.7 1.2 2.8-3.5-6.6-1.2z" fill="#fca914"/><path d="M87.5 245.2l6.6 1.4 2.8-3.6-6.5-1.3z" fill="#fca914"/><path d="M93.2 246.4l6.5 1.6 2.7-3.6-6.4-1.6z" fill="#fca914"/><path d="M98.8 247.7l6.4 1.8 2.7-3.6-6.4-1.7z" fill="#fca914"/><path d="M104.3 249.2l6.2 2 2.7-3.7-6.2-1.8z" fill="#fcaa14"/><path d="M109.7 250.9l5.9 2.4 2.6-3.7-5.8-2.3z" fill="#fcac14"/><path d="M114.8 252.9l5.6 3 2.6-3.7-5.6-2.9z" fill="#fcb114"/><path d="M119.7 255.4l5.2 3.6 2.5-3.8-5.2-3.5z" fill="#fcb814"/><path d="M124.2 258.5l4.9 3.9 2.5-3.9-4.9-3.8z" fill="#fcc214"/><path d="M128.4 261.9l4.7 4.5 2.5-4.1-4.6-4.3z" fill="#fcce14"/><path d="M132.5 265.8l4.3 4.8 2.5-4.2-4.3-4.7z" fill="#fcdd14"/><path d="M136.3 270l4.1 5.2 2.5-4.4-4.1-5z" fill="#fcee14"/><path d="M139.9 274.5l3.9 5.7 2.5-4.6-3.9-5.5z" fill="#d9ee14"/><path d="M143.3 279.4l3.8 6.2 2.5-4.9-3.8-5.9z" fill="#b1ee14"/><path d="M146.6 284.8l3.7 6.5 2.5-5.2-3.7-6.2z" fill="#81ec17"/><path d="M149.8 290.4l3.6 6.7 2.5-5.5-3.6-6.4z" fill="#4ee91d"/><path d="M152.9 296.1l3.5 7 2.5-5.8-3.5-6.6z" fill="#1fe622"/><path d="M155.9 302.1l3.2 7.5 2.6-6.1-3.3-7.2z" fill="#18e63e"/><path d="M158.6 308.5l3.4 6.6 2.5-6.2-3.3-6.3z" fill="#18e560"/><path d="M161.4 314.4l5.4 1.9 2.4-5.9-5.4-2z" fill="#17e578"/><path d="M165.9 316.2l6.1 .3 2.4-5.7-6-.6z" fill="#17e580"/><path d="M43.8 236.6l6.9 .6 3.3-3.3-6.8-.6z" fill="#fc9b14"/><path d="M49.6 237.1l6.8 .6 3.3-3.3-6.8-.6z" fill="#fc9c14"/><path d="M55.4 237.6l6.8 .7 3.2-3.3-6.7-.7z" fill="#fc9c14"/><path d="M61.1 238.2l6.8 .9 3.2-3.4-6.7-.8z" fill="#fc9d14"/><path d="M66.9 238.9l6.7 .9 3.2-3.3-6.7-.9z" fill="#fc9c14"/><path d="M72.6 239.7l6.8 1 3.1-3.4-6.7-1z" fill="#fc9b14"/><path d="M78.4 240.5l6.6 1.1 3.1-3.4-6.7-1z" fill="#fc9b14"/><path d="M84.1 241.4l6.6 1.2 3-3.4-6.6-1.2z" fill="#fc9b14"/><path d="M89.7 242.4l6.6 1.4 3-3.4-6.6-1.4z" fill="#fc9b14"/><path d="M95.4 243.6l6.4 1.5 2.9-3.4-6.4-1.5z" fill="#fc9b14"/><path d="M100.9 244.9l6.4 1.7 2.9-3.4-6.4-1.7z" fill="#fc9c14"/><path d="M106.4 246.4l6.3 1.9 2.8-3.5-6.2-1.9z" fill="#fc9d14"/><path d="M111.8 247.9l5.9 2.4 2.8-3.5-5.9-2.3z" fill="#fca014"/><path d="M116.9 250l5.6 2.9 2.7-3.6-5.5-2.8z" fill="#fca514"/><path d="M121.8 252.4l5.1 3.5 2.7-3.7-5.1-3.3z" fill="#fcac14"/><path d="M126.3 255.4l4.8 3.8 2.7-3.7-4.9-3.8z" fill="#fcb614"/><path d="M130.5 258.7l4.6 4.4 2.7-3.9-4.6-4.3z" fill="#fcc114"/><path d="M134.5 262.4l4.4 4.8 2.6-4.1-4.3-4.5z" fill="#fccf14"/><path d="M138.3 266.5l4.2 5.1 2.6-4.3-4.2-4.9z" fill="#fcde14"/><path d="M141.9 270.9l4 5.5 2.6-4.5-3.9-5.3z" fill="#fbee14"/><path d="M145.4 275.6l3.8 5.9 2.6-4.7-3.8-5.7z" fill="#d7ee14"/><path d="M148.7 280.7l3.7 6.3 2.6-5.1-3.7-5.9z" fill="#aeee14"/><path d="M151.9 286.1l3.6 6.4 2.6-5.3-3.6-6.1z" fill="#80ec17"/><path d="M155 291.6l3.5 6.7 2.7-5.6-3.5-6.4z" fill="#50e91d"/><path d="M158 297.3l3.2 7.3 2.7-6-3.2-6.9z" fill="#20e622"/><path d="M160.7 303.5l3.4 6.4 2.7-6.2-3.4-6z" fill="#18e63f"/><path d="M163.5 309.1l5.4 2.1 2.5-5.9-5.3-2.1z" fill="#18e655"/><path d="M168 311l6.1 .6 2.5-5.7-6-.8z" fill="#18e55c"/><path d="M46.3 234.1l6.9 .6 3.6-3.1-6.9-.6z" fill="#fc9114"/><path d="M52.1 234.6l6.9 .6 3.5-3.1-6.9-.6z" fill="#fc9214"/><path d="M57.8 235.1l6.9 .7 3.4-3.2-6.8-.6z" fill="#fc9214"/><path d="M63.6 235.6l6.8 .9 3.4-3.2-6.8-.8z" fill="#fc9114"/><path d="M69.3 236.3l6.8 .9 3.3-3.2-6.7-.8z" fill="#fc9014"/><path d="M75 237.1l6.8 .9 3.2-3.2-6.7-.9z" fill="#fc8e14"/><path d="M80.7 237.9l6.7 1 3.3-3.2-6.7-1z" fill="#fc8e14"/><path d="M86.4 238.8l6.6 1.1 3.2-3.2-6.6-1.2z" fill="#fc8e14"/><path d="M92 239.7l6.6 1.4 3.1-3.3-6.5-1.3z" fill="#fc8e14"/><path d="M97.7 240.9l6.4 1.5 3.1-3.3-6.4-1.5z" fill="#fc8f14"/><path d="M103.2 242.2l6.4 1.7 3-3.3-6.3-1.7z" fill="#fc9014"/><path d="M108.7 243.6l6.2 1.9 3-3.3-6.2-1.9z" fill="#fc9214"/><path d="M114 245.2l5.9 2.3 2.9-3.3-5.8-2.3z" fill="#fc9514"/><path d="M119.1 247.1l5.6 2.9 2.8-3.4-5.5-2.7z" fill="#fc9a14"/><path d="M123.9 249.5l5.2 3.4 2.9-3.4-5.2-3.3z" fill="#fca114"/><path d="M128.4 252.4l4.9 3.7 2.8-3.5-4.8-3.6z" fill="#fcaa14"/><path d="M132.7 255.6l4.6 4.2 2.8-3.6-4.6-4.1z" fill="#fcb514"/><path d="M136.7 259.2l4.3 4.6 2.8-3.9-4.3-4.3z" fill="#fcc214"/><path d="M140.5 263.2l4.1 4.8 2.8-4-4.2-4.7z" fill="#fcd014"/><path d="M144.1 267.4l4 5.2 2.7-4.2-3.9-5.1z" fill="#fcdf14"/><path d="M147.5 271.9l3.9 5.7 2.7-4.6-3.8-5.4z" fill="#fbee14"/><path d="M150.8 276.8l3.8 6 2.8-4.9-3.8-5.6z" fill="#d5ee14"/><path d="M154.1 281.9l3.6 6.2 2.8-5.1-3.7-5.9z" fill="#aeee14"/><path d="M157.2 287.2l3.5 6.4 2.8-5.4-3.5-6.1z" fill="#82ec17"/><path d="M160.2 292.7l3.3 6.9 2.8-5.8-3.3-6.5z" fill="#51e91d"/><path d="M163 298.6l3.4 6 2.8-5.9-3.4-5.8z" fill="#22e722"/><path d="M165.8 304l5.3 2.1 2.7-5.7-5.3-2.2z" fill="#19e632"/><path d="M170.2 305.9l6 .8 2.7-5.4-5.9-1.1z" fill="#18e639"/><path d="M48.9 231.8l7 .6 3.7-3-6.9-.6z" fill="#fb8814"/><path d="M54.7 232.3l6.9 .5 3.7-3-6.9-.5z" fill="#fb8814"/><path d="M60.4 232.7l6.9 .7 3.6-3.1-6.8-.6z" fill="#fb8714"/><path d="M66.1 233.2l6.9 .8 3.5-3-6.7-.8z" fill="#fb8514"/><path d="M71.8 233.9l6.8 .9 3.6-3.1-6.8-.8z" fill="#fb8313"/><path d="M77.5 234.6l6.8 1 3.5-3.1-6.8-.9z" fill="#fb8113"/><path d="M83.2 235.4l6.7 1 3.4-3-6.6-1z" fill="#fb8113"/><path d="M88.8 236.3l6.7 1.1 3.4-3-6.6-1.2z" fill="#fb8213"/><path d="M94.5 237.2l6.5 1.4 3.4-3.1-6.6-1.3z" fill="#fb8213"/><path d="M100 238.3l6.5 1.6 3.3-3.1-6.4-1.5z" fill="#fb8313"/><path d="M105.6 239.6l6.3 1.7 3.3-3.1-6.4-1.6z" fill="#fb8514"/><path d="M111 241l6.2 1.9 3.2-3.1-6.2-1.8z" fill="#fb8714"/><path d="M116.3 242.5l5.9 2.4 3.2-3.1-5.9-2.3z" fill="#fc8a14"/><path d="M121.4 244.5l5.6 2.8 3-3.1-5.5-2.7z" fill="#fc9014"/><path d="M126.2 246.8l5.2 3.3 3-3.1-5.1-3.2z" fill="#fc9714"/><path d="M130.7 249.6l4.9 3.7 3-3.3-4.9-3.5z" fill="#fca014"/><path d="M134.9 252.7l4.6 4.1 3-3.4-4.6-3.9z" fill="#fcaa14"/><path d="M138.9 256.2l4.4 4.4 3-3.6-4.4-4.2z" fill="#fcb614"/><path d="M142.7 260l4.2 4.7 3-3.8-4.2-4.5z" fill="#fcc314"/><path d="M146.4 264l3.9 5.1 3-4-4-4.8z" fill="#fcd114"/><path d="M149.8 268.4l3.8 5.4 3-4.3-3.8-5.1z" fill="#fcdf14"/><path d="M153.1 273l3.8 5.7 2.9-4.5-3.7-5.4z" fill="#f8ee14"/><path d="M156.4 277.9l3.6 5.9 3-4.8-3.7-5.6z" fill="#d3ee14"/><path d="M159.5 283l3.5 6 3-5.1-3.5-5.7z" fill="#aeee14"/><path d="M162.6 288.2l3.2 6.5 3.1-5.4-3.3-6.2z" fill="#81ec17"/><path d="M165.4 293.8l3.4 5.8 3-5.7-3.4-5.5z" fill="#52ea1c"/><path d="M168.1 298.9l5.3 2.3 2.9-5.5-5.2-2.3z" fill="#34e820"/><path d="M172.6 300.9l5.9 1.1 2.9-5.2-5.9-1.3z" fill="#27e721"/><path d="M51.7 229.6l7 .5 3.9-2.9-6.9-.5z" fill="#fb8013"/><path d="M57.4 230l6.9 .6 4-3-6.9-.5z" fill="#fb7e13"/><path d="M63.1 230.5l6.9 .6 3.9-2.9-6.9-.7z" fill="#fb7c13"/><path d="M68.8 231l6.9 .7 3.8-2.9-6.8-.8z" fill="#fb7913"/><path d="M74.5 231.6l6.8 .9 3.7-3-6.7-.8z" fill="#fb7713"/><path d="M80.1 232.3l6.8 1 3.7-3-6.7-.9z" fill="#fa7613"/><path d="M85.8 233.1l6.7 1 3.7-2.9-6.7-1z" fill="#fa7613"/><path d="M91.4 233.9l6.7 1.2 3.6-2.9-6.6-1.2z" fill="#fb7713"/><path d="M97 234.9l6.6 1.3 3.6-2.9-6.6-1.3z" fill="#fb7713"/><path d="M102.5 236l6.6 1.5 3.5-2.9-6.5-1.5z" fill="#fb7913"/><path d="M108 237.2l6.4 1.7 3.5-2.9-6.4-1.6z" fill="#fb7a13"/><path d="M113.5 238.6l6.2 1.9 3.4-2.9-6.2-1.8z" fill="#fb7d13"/><path d="M118.8 240.1l5.9 2.4 3.3-2.9-5.8-2.3z" fill="#fb8113"/><path d="M123.8 242.1l5.6 2.7 3.3-2.9-5.6-2.7z" fill="#fb8614"/><path d="M128.6 244.4l5.2 3.2 3.2-3-5.1-3.1z" fill="#fc8e14"/><path d="M133.1 247.1l4.9 3.5 3.2-3.1-4.9-3.4z" fill="#fc9614"/><path d="M137.3 250.1l4.6 3.9 3.2-3.2-4.6-3.8z" fill="#fca014"/><path d="M141.3 253.5l4.4 4.2 3.2-3.4-4.4-4z" fill="#fcab14"/><path d="M145.1 257.1l4.2 4.4 3.2-3.5-4.2-4.3z" fill="#fcb714"/><path d="M148.8 260.9l4 4.8 3.1-3.7-4-4.6z" fill="#fcc414"/><path d="M152.2 265.1l3.9 5.1 3.1-4-3.8-4.9z" fill="#fcd014"/><path d="M155.6 269.5l3.7 5.4 3.2-4.3-3.8-5.1z" fill="#fcdf14"/><path d="M158.8 274.2l3.7 5.5 3.1-4.6-3.7-5.2z" fill="#f6ee14"/><path d="M162 279l3.5 5.7 3.2-4.9-3.6-5.4z" fill="#d2ee14"/><path d="M165 283.9l3.4 6.2 3.1-5.2-3.3-5.9z" fill="#abee14"/><path d="M167.9 289.3l3.4 5.5 3.2-5.5-3.5-5.2z" fill="#80ec17"/><path d="M170.7 294.1l5.2 2.4 3.1-5.3-5.2-2.4z" fill="#61ea1b"/><path d="M175.1 296.2l5.8 1.4 3.1-5-5.8-1.7z" fill="#52ea1c"/><path d="M54.6 227.4l7 .6 4.2-2.9-7-.5z" fill="#fb7713"/><path d="M60.3 227.9l7 .5 4.1-2.9-7-.5z" fill="#fa7413"/><path d="M65.9 228.3l7 .6 4.1-2.9-6.9-.6z" fill="#fa7113"/><path d="M71.6 228.8l6.9 .7 4-2.8-6.8-.8z" fill="#fa6e13"/><path d="M77.3 229.4l6.8 .9 4-2.9-6.8-.9z" fill="#fa6c13"/><path d="M82.9 230.1l6.8 1 3.9-2.9-6.7-1z" fill="#fa6b12"/><path d="M88.5 230.9l6.8 1 3.8-2.8-6.7-1.1z" fill="#fa6c13"/><path d="M94.1 231.7l6.7 1.2 3.8-2.8-6.6-1.2z" fill="#fa6c13"/><path d="M99.7 232.7l6.6 1.3 3.7-2.8-6.5-1.3z" fill="#fa6d13"/><path d="M105.2 233.8l6.5 1.5 3.7-2.8-6.5-1.5z" fill="#fa6f13"/><path d="M110.7 235l6.4 1.7 3.6-2.8-6.3-1.7z" fill="#fa7113"/><path d="M116.1 236.4l6.2 1.8 3.6-2.8-6.2-1.8z" fill="#fa7413"/><path d="M121.4 237.9l5.9 2.3 3.5-2.8-5.9-2.3z" fill="#fb7813"/><path d="M126.4 239.8l5.6 2.7 3.4-2.8-5.5-2.7z" fill="#fb7e13"/><path d="M131.2 242.1l5.2 3.1 3.4-2.9-5.2-3.1z" fill="#fb8514"/><path d="M135.7 244.7l4.8 3.4 3.4-3-4.9-3.3z" fill="#fc8d14"/><path d="M139.9 247.6l4.6 3.8 3.3-3.1-4.6-3.7z" fill="#fc9614"/><path d="M143.9 250.9l4.4 4 3.3-3.3-4.4-3.9z" fill="#fca014"/><path d="M147.7 254.3l4.2 4.3 3.3-3.5-4.2-4.1z" fill="#fcab14"/><path d="M151.3 258l4.1 4.6 3.2-3.8-4-4.3z" fill="#fcb614"/><path d="M154.8 262l3.9 4.8 3.3-4-3.9-4.6z" fill="#fcc214"/><path d="M158.2 266.2l3.7 5.1 3.3-4.3-3.8-4.8z" fill="#fcd014"/><path d="M161.4 270.6l3.7 5.3 3.3-4.6-3.7-5z" fill="#fce014"/><path d="M164.6 275.1l3.6 5.5 3.3-4.9-3.6-5.1z" fill="#f4ee14"/><path d="M167.7 279.8l3.3 5.9 3.4-5.3-3.4-5.5z" fill="#ceee14"/><path d="M170.6 284.9l3.4 5.2 3.3-5.5-3.5-5z" fill="#a9ee14"/><path d="M173.4 289.5l5.1 2.4 3.3-5.3-5.2-2.5z" fill="#8ced16"/><path d="M177.7 291.6l5.8 1.7 3.2-5-5.7-2z" fill="#7aec18"/><path d="M57.7 225.4l7 .5 4.2-2.8-6.9-.5z" fill="#fa6e13"/><path d="M63.3 225.8l7 .5 4.2-2.8-6.9-.5z" fill="#fa6a12"/><path d="M69 226.2l6.9 .6 4.2-2.9-6.9-.5z" fill="#fa6612"/><path d="M74.6 226.6l6.9 .8 4.1-2.8-6.8-.8z" fill="#f96312"/><path d="M80.2 227.2l6.9 .9 4-2.8-6.8-.9z" fill="#f96112"/><path d="M85.8 227.9l6.8 1 4-2.8-6.7-1z" fill="#f96212"/><path d="M91.4 228.7l6.8 1.1 3.9-2.8-6.7-1.1z" fill="#f96212"/><path d="M97 229.6l6.7 1.2 3.9-2.8-6.7-1.2z" fill="#f96312"/><path d="M102.6 230.5l6.5 1.4 3.9-2.8-6.6-1.3z" fill="#f96412"/><path d="M108 231.6l6.5 1.5 3.8-2.7-6.5-1.5z" fill="#fa6612"/><path d="M113.5 232.9l6.4 1.6 3.7-2.7-6.4-1.7z" fill="#fa6812"/><path d="M118.9 234.2l6.2 1.9 3.6-2.8-6.2-1.8z" fill="#fa6b12"/><path d="M124.1 235.7l5.9 2.3 3.6-2.8-5.9-2.2z" fill="#fa7013"/><path d="M129.2 237.6l5.5 2.6 3.5-2.7-5.5-2.6z" fill="#fa7513"/><path d="M133.9 239.8l5.2 3.1 3.4-2.9-5.1-2.9z" fill="#fb7c13"/><path d="M138.3 242.4l4.9 3.3 3.4-2.9-4.8-3.2z" fill="#fb8413"/><path d="M142.5 245.2l4.7 3.6 3.4-3-4.7-3.5z" fill="#fc8c14"/><path d="M146.5 248.3l4.5 3.9 3.3-3.3-4.4-3.7z" fill="#fc9614"/><path d="M150.4 251.6l4.2 4.1 3.3-3.5-4.2-3.8z" fill="#fc9f14"/><path d="M154 255.1l4.1 4.4 3.3-3.7-4.1-4.1z" fill="#fca914"/><path d="M157.5 258.8l3.9 4.7 3.3-4-3.9-4.3z" fill="#fcb414"/><path d="M160.9 262.8l3.8 4.9 3.3-4.3-3.8-4.5z" fill="#fcc114"/><path d="M164.2 267l3.7 5 3.3-4.6-3.7-4.6z" fill="#fcd014"/><path d="M167.4 271.3l3.6 5.1 3.3-4.8-3.6-4.8z" fill="#fce114"/><path d="M170.5 275.7l3.4 5.5 3.3-5.2-3.4-5.2z" fill="#efee14"/><path d="M173.4 280.4l3.4 5 3.4-5.5-3.5-4.7z" fill="#cbee14"/><path d="M176.2 284.8l5.1 2.5 3.3-5.2-5.1-2.7z" fill="#b0ee14"/><path d="M180.5 287l5.7 2 3.3-4.9-5.7-2.4z" fill="#a0ee14"/><path d="M60.9 223.3l6.9 .5 4.3-2.7-6.9-.5z" fill="#fa6512"/><path d="M66.5 223.7l6.9 .5 4.3-2.8-6.9-.5z" fill="#f96012"/><path d="M72.1 224.1l6.9 .6 4.2-2.8-6.9-.6z" fill="#f95c12"/><path d="M77.7 224.6l6.8 .7 4.2-2.8-6.8-.7z" fill="#f95912"/><path d="M83.3 225.1l6.8 .9 4.1-2.8-6.8-.8z" fill="#f95812"/><path d="M88.8 225.8l6.8 1 4.1-2.8-6.8-.9z" fill="#f95912"/><path d="M94.4 226.6l6.7 1.1 4-2.8-6.6-1z" fill="#f95a12"/><path d="M99.9 227.5l6.7 1.2 4-2.8-6.7-1.2z" fill="#f95b12"/><path d="M105.5 228.4l6.5 1.4 3.9-2.7-6.5-1.4z" fill="#f95c12"/><path d="M110.9 229.5l6.5 1.5 3.8-2.7-6.4-1.5z" fill="#f95e12"/><path d="M116.3 230.8l6.4 1.6 3.8-2.7-6.4-1.6z" fill="#f96012"/><path d="M121.7 232.1l6.2 1.8 3.7-2.7-6.2-1.8z" fill="#f96412"/><path d="M126.9 233.6l5.9 2.2 3.6-2.7-5.8-2.2z" fill="#fa6812"/><path d="M131.9 235.4l5.6 2.7 3.5-2.8-5.5-2.5z" fill="#fa6e13"/><path d="M136.6 237.6l5.2 3 3.6-2.8-5.2-2.9z" fill="#fa7413"/><path d="M141.1 240.1l4.9 3.2 3.5-2.9-4.9-3z" fill="#fb7b13"/><path d="M145.3 242.8l4.6 3.5 3.5-3-4.7-3.3z" fill="#fb8313"/><path d="M149.3 245.8l4.4 3.7 3.4-3.2-4.4-3.5z" fill="#fc8c14"/><path d="M153.1 249l4.2 3.8 3.4-3.4-4.2-3.6z" fill="#fc9414"/><path d="M156.7 252.3l4.1 4.1 3.4-3.6-4.1-3.9z" fill="#fc9d14"/><path d="M160.2 255.8l4 4.4 3.4-3.9-4-4.1z" fill="#fca714"/><path d="M163.6 259.5l3.9 4.6 3.4-4.2-3.9-4.2z" fill="#fcb314"/><path d="M166.9 263.4l3.8 4.7 3.4-4.4-3.8-4.4z" fill="#fcc214"/><path d="M170.2 267.5l3.6 4.8 3.4-4.8-3.7-4.5z" fill="#fcd214"/><path d="M173.3 271.6l3.4 5.1 3.4-5.1-3.4-4.8z" fill="#fce514"/><path d="M176.2 276l3.5 4.7 3.4-5.4-3.5-4.4z" fill="#ecee14"/><path d="M179.1 280.1l5.1 2.7 3.3-5.3-5-2.7z" fill="#d2ee14"/><path d="M183.4 282.4l5.6 2.4 3.3-4.9-5.6-2.7z" fill="#c0ee14"/><path d="M64.1 221.3l6.9 .5 4.3-2.7-6.9-.5z" fill="#f95c12"/><path d="M69.6 221.7l6.9 .5 4.4-2.7-6.9-.5z" fill="#f95712"/><path d="M75.2 222l6.9 .6 4.3-2.7-6.9-.6z" fill="#f85211"/><path d="M80.8 222.5l6.8 .7 4.3-2.7-6.8-.7z" fill="#f85011"/><path d="M86.3 223.1l6.8 .8 4.3-2.7-6.8-.8z" fill="#f85111"/><path d="M91.9 223.8l6.7 .9 4.2-2.7-6.7-.9z" fill="#f85111"/><path d="M97.4 224.5l6.7 1.1 4.1-2.7-6.7-1z" fill="#f85211"/><path d="M102.9 225.4l6.7 1.2 4-2.6-6.6-1.3z" fill="#f95312"/><path d="M108.4 226.4l6.6 1.3 3.9-2.6-6.5-1.4z" fill="#f95412"/><path d="M113.8 227.5l6.5 1.5 3.9-2.7-6.4-1.5z" fill="#f95612"/><path d="M119.2 228.7l6.4 1.7 3.8-2.7-6.3-1.6z" fill="#f95912"/><path d="M124.5 230.1l6.2 1.8 3.8-2.7-6.1-1.8z" fill="#f95d12"/><path d="M129.8 231.5l5.8 2.2 3.7-2.6-5.8-2.2z" fill="#f96112"/><path d="M134.7 233.3l5.6 2.6 3.6-2.6-5.5-2.5z" fill="#fa6712"/><path d="M139.4 235.5l5.2 2.9 3.6-2.7-5.2-2.8z" fill="#fa6d13"/><path d="M143.9 237.9l4.9 3.1 3.5-2.8-4.9-3z" fill="#fa7413"/><path d="M148 240.5l4.7 3.4 3.5-3-4.6-3.2z" fill="#fb7b13"/><path d="M152 243.4l4.5 3.5 3.5-3.1-4.5-3.4z" fill="#fb8213"/><path d="M155.9 246.3l4.2 3.7 3.5-3.3-4.3-3.5z" fill="#fc8a14"/><path d="M159.5 249.5l4.1 3.9 3.5-3.6-4.1-3.6z" fill="#fc9214"/><path d="M163 252.8l4 4.1 3.5-3.8-4-3.9z" fill="#fc9b14"/><path d="M166.4 256.3l3.9 4.3 3.5-4.1-3.9-4z" fill="#fca814"/><path d="M169.8 259.9l3.8 4.4 3.4-4.4-3.8-4.1z" fill="#fcb614"/><path d="M173 263.7l3.7 4.5 3.5-4.7-3.8-4.2z" fill="#fcc514"/><path d="M176.2 267.5l3.4 4.8 3.5-5-3.5-4.5z" fill="#fcd514"/><path d="M179.1 271.6l3.5 4.4 3.5-5.3-3.5-4.1z" fill="#fce514"/><path d="M182 275.5l5 2.8 3.4-5.2-4.9-2.9z" fill="#f4ee14"/><path d="M186.3 277.9l5.5 2.7 3.3-4.9-5.4-3z" fill="#e2ee14"/><path d="M67.3 219.3l6.9 .5 4.4-2.6-6.8-.5z" fill="#f95312"/><path d="M72.9 219.7l6.8 .5 4.4-2.6-6.8-.5z" fill="#f84e11"/><path d="M78.4 220l6.9 .7 4.3-2.7-6.8-.6z" fill="#f84a11"/><path d="M83.9 220.5l6.9 .7 4.3-2.6-6.8-.7z" fill="#f84911"/><path d="M89.4 221.1l6.8 .8 4.4-2.6-6.8-.9z" fill="#f84a11"/><path d="M94.9 221.8l6.8 .9 4.3-2.6-6.8-1z" fill="#f84a11"/><path d="M100.4 222.5l6.8 1.1 4.2-2.6-6.7-1.1z" fill="#f84b11"/><path d="M105.9 223.4l6.7 1.2 4.1-2.6-6.6-1.2z" fill="#f84b11"/><path d="M111.4 224.4l6.5 1.3 4.1-2.5-6.5-1.4z" fill="#f84d11"/><path d="M116.8 225.5l6.5 1.5 4-2.6-6.5-1.5z" fill="#f85011"/><path d="M122.1 226.7l6.4 1.7 4-2.6-6.4-1.6z" fill="#f95312"/><path d="M127.4 228l6.2 1.9 3.9-2.6-6.1-1.8z" fill="#f95712"/><path d="M132.6 229.5l5.9 2.2 3.8-2.5-5.8-2.2z" fill="#f95b12"/><path d="M137.6 231.3l5.5 2.5 3.8-2.5-5.6-2.5z" fill="#f96112"/><path d="M142.3 233.4l5.2 2.8 3.6-2.6-5.1-2.7z" fill="#fa6612"/><path d="M146.7 235.7l4.9 3 3.6-2.7-4.9-2.9z" fill="#fa6d13"/><path d="M150.9 238.3l4.7 3.2 3.6-2.9-4.7-3z" fill="#fa7413"/><path d="M154.9 241l4.5 3.3 3.5-3-4.5-3.2z" fill="#fb7b13"/><path d="M158.7 243.8l4.3 3.5 3.5-3.3-4.3-3.2z" fill="#fb8213"/><path d="M162.3 246.7l4.2 3.7 3.5-3.5-4.1-3.4z" fill="#fc8914"/><path d="M165.9 249.8l4 3.9 3.5-3.8-4-3.5z" fill="#fc9314"/><path d="M169.3 253.1l3.9 4 3.5-4-3.9-3.7z" fill="#fc9e14"/><path d="M172.6 256.5l3.9 4.1 3.5-4.3-3.9-3.8z" fill="#fcab14"/><path d="M175.9 260l3.7 4.2 3.6-4.7-3.8-3.8z" fill="#fcb914"/><path d="M179.1 263.5l3.5 4.5 3.6-5-3.6-4.1z" fill="#fcc814"/><path d="M182.1 267.3l3.5 4.1 3.6-5.2-3.6-3.9z" fill="#fcd614"/><path d="M185 270.9l5 2.9 3.4-5.1-4.9-3.1z" fill="#fce114"/><path d="M189.2 273.4l5.5 3 3.4-4.8-5.4-3.4z" fill="#fcea14"/><path d="M70.6 217.4l6.9 .5 4.5-2.5-6.8-.5z" fill="#f84a11"/><path d="M76.1 217.8l6.9 .5 4.5-2.6-6.9-.4z" fill="#f84511"/><path d="M81.7 218.1l6.8 .6 4.4-2.5-6.8-.6z" fill="#f84311"/><path d="M87.2 218.5l6.8 .8 4.4-2.5-6.8-.8z" fill="#f84311"/><path d="M92.6 219.1l6.8 .9 4.4-2.5-6.7-.9z" fill="#f84311"/><path d="M98.1 219.8l6.7 1 4.4-2.5-6.7-1z" fill="#f84411"/><path d="M103.5 220.6l6.8 1.1 4.3-2.5-6.7-1.1z" fill="#f84411"/><path d="M109 221.5l6.6 1.2 4.3-2.5-6.6-1.2z" fill="#f84411"/><path d="M114.4 222.4l6.6 1.4 4.2-2.4-6.5-1.4z" fill="#f84711"/><path d="M119.8 223.5l6.5 1.6 4.1-2.5-6.4-1.5z" fill="#f84a11"/><path d="M125.1 224.8l6.4 1.6 4.1-2.4-6.4-1.6z" fill="#f84e11"/><path d="M130.4 226.1l6.2 1.8 4-2.4-6.2-1.8z" fill="#f85211"/><path d="M135.6 227.6l5.8 2.2 4-2.4-5.9-2.2z" fill="#f95612"/><path d="M140.5 229.3l5.5 2.5 3.9-2.4-5.5-2.4z" fill="#f95b12"/><path d="M145.2 231.4l5.2 2.7 3.8-2.4-5.2-2.7z" fill="#f96112"/><path d="M149.6 233.7l4.9 2.9 3.7-2.6-4.9-2.8z" fill="#fa6712"/><path d="M153.7 236.1l4.8 3.1 3.7-2.8-4.8-2.9z" fill="#fa6e13"/><path d="M157.7 238.7l4.5 3.1 3.7-2.9-4.5-3z" fill="#fa7413"/><path d="M161.5 241.3l4.4 3.3 3.6-3.1-4.3-3.1z" fill="#fb7b13"/><path d="M165.2 244.1l4.2 3.4 3.6-3.3-4.2-3.2z" fill="#fb8313"/><path d="M168.8 247l4 3.5 3.6-3.6-4-3.3z" fill="#fc8c14"/><path d="M172.2 250l4 3.7 3.6-3.9-4-3.4z" fill="#fc9614"/><path d="M175.6 253.1l3.9 3.8 3.6-4.2-4-3.5z" fill="#fca214"/><path d="M178.9 256.3l3.7 3.9 3.7-4.5-3.9-3.6z" fill="#fcae14"/><path d="M182.1 259.6l3.5 4.1 3.7-4.9-3.7-3.7z" fill="#fcbb14"/><path d="M185.1 263l3.6 3.9 3.6-5.2-3.6-3.5z" fill="#fcc614"/><path d="M188 266.3l4.9 3.1 3.6-5-4.9-3.2z" fill="#fcd114"/><path d="M192.2 268.9l5.4 3.4 3.5-4.7-5.3-3.7z" fill="#fcda14"/><path d="M74 215.6l6.8 .5 4.6-2.3-6.7-.5z" fill="#f84211"/><path d="M79.5 215.9l6.8 .5 4.6-2.3-6.8-.5z" fill="#f73e11"/><path d="M85 216.3l6.8 .6 4.5-2.4-6.7-.6z" fill="#f73e11"/><path d="M90.5 216.7l6.7 .8 4.6-2.4-6.8-.8z" fill="#f73e11"/><path d="M95.9 217.2l6.7 1 4.6-2.4-6.8-.9z" fill="#f73e11"/><path d="M101.3 217.9l6.8 1.1 4.4-2.4-6.7-1z" fill="#f73d11"/><path d="M106.7 218.7l6.7 1.2 4.5-2.3-6.7-1.2z" fill="#f73d11"/><path d="M112.1 219.6l6.7 1.3 4.4-2.3-6.6-1.3z" fill="#f73f11"/><path d="M117.5 220.6l6.6 1.4 4.4-2.3-6.6-1.4z" fill="#f84211"/><path d="M122.8 221.7l6.6 1.6 4.3-2.3-6.5-1.5z" fill="#f84511"/><path d="M128.1 222.9l6.5 1.7 4.2-2.3-6.4-1.6z" fill="#f84911"/><path d="M133.4 224.3l6.2 1.8 4.2-2.3-6.2-1.8z" fill="#f84d11"/><path d="M138.6 225.7l5.8 2.2 4.1-2.2-5.8-2.2z" fill="#f85111"/><path d="M143.5 227.5l5.5 2.5 4-2.3-5.5-2.4z" fill="#f95612"/><path d="M148.1 229.5l5.2 2.7 4-2.4-5.2-2.6z" fill="#f95c12"/><path d="M152.5 231.7l5 2.8 3.8-2.5-4.9-2.6z" fill="#f96212"/><path d="M156.7 234l4.7 3 3.8-2.7-4.7-2.7z" fill="#fa6912"/><path d="M160.7 236.5l4.5 3 3.8-2.8-4.6-2.8z" fill="#fa6f13"/><path d="M164.5 239l4.4 3.1 3.7-3-4.4-2.9z" fill="#fb7613"/><path d="M168.2 241.5l4.2 3.2 3.7-3.2-4.2-2.9z" fill="#fb7e13"/><path d="M171.7 244.2l4.1 3.3 3.8-3.5-4.2-3z" fill="#fb8614"/><path d="M175.2 247l4 3.4 3.7-3.8-4-3.1z" fill="#fc9014"/><path d="M178.6 249.8l3.9 3.5 3.7-4.1-4-3.2z" fill="#fc9a14"/><path d="M181.9 252.8l3.8 3.5 3.7-4.4-3.8-3.2z" fill="#fca414"/><path d="M185.1 255.7l3.7 3.8 3.7-4.8-3.7-3.4z" fill="#fcae14"/><path d="M188.2 258.9l3.6 3.5 3.7-5.1-3.7-3.2z" fill="#fcb814"/><path d="M191.1 261.9l4.9 3.1 3.7-4.9-4.8-3.3z" fill="#fcc214"/><path d="M195.3 264.6l5.3 3.7 3.6-4.6-5.2-4.1z" fill="#fccc14"/><path d="M77.6 213.9l6.7 .5 4.7-2-6.7-.5z" fill="#f73b11"/><path d="M83 214.2l6.7 .6 4.7-2.1-6.7-.5z" fill="#f73910"/><path d="M88.4 214.5l6.8 .7 4.7-2.1-6.8-.6z" fill="#f73910"/><path d="M93.9 214.9l6.7 .9 4.6-2.1-6.7-.8z" fill="#f73910"/><path d="M99.3 215.5l6.7 1 4.6-2.1-6.7-1z" fill="#f73810"/><path d="M104.7 216.2l6.7 1.1 4.6-2.1-6.7-1.1z" fill="#f73810"/><path d="M110 217l6.7 1.2 4.6-2.1-6.6-1.2z" fill="#f73810"/><path d="M115.4 217.9l6.6 1.3 4.6-2-6.6-1.4z" fill="#f73a11"/><path d="M120.7 218.9l6.6 1.4 4.5-2-6.5-1.4z" fill="#f73e11"/><path d="M126 220l6.5 1.6 4.5-2.1-6.5-1.5z" fill="#f84211"/><path d="M131.2 221.2l6.5 1.7 4.5-2-6.5-1.7z" fill="#f84611"/><path d="M136.5 222.6l6.2 1.8 4.4-2-6.2-1.9z" fill="#f84911"/><path d="M141.6 224l5.9 2.2 4.3-2-5.9-2.2z" fill="#f84e11"/><path d="M146.5 225.8l5.6 2.4 4.1-2.1-5.5-2.4z" fill="#f95312"/><path d="M151.1 227.7l5.3 2.6 4.1-2.1-5.3-2.5z" fill="#f95812"/><path d="M155.5 229.9l5 2.7 4-2.3-4.9-2.6z" fill="#f95f12"/><path d="M159.7 232.1l4.8 2.8 3.9-2.5-4.8-2.6z" fill="#fa6512"/><path d="M163.7 234.4l4.6 2.8 3.9-2.6-4.6-2.6z" fill="#fa6c13"/><path d="M167.5 236.7l4.4 2.9 3.9-2.8-4.4-2.7z" fill="#fa7213"/><path d="M171.2 239.1l4.3 2.9 3.8-3.1-4.3-2.6z" fill="#fb7a13"/><path d="M174.8 241.5l4.1 3.1 3.9-3.4-4.2-2.7z" fill="#fb8213"/><path d="M178.2 244.1l4.1 3.1 3.8-3.7-4.1-2.8z" fill="#fc8a14"/><path d="M181.6 246.6l4 3.2 3.9-4-4.1-2.8z" fill="#fc9214"/><path d="M185 249.3l3.9 3.2 3.8-4.3-3.9-2.9z" fill="#fc9a14"/><path d="M188.2 252l3.8 3.3 3.8-4.7-3.8-2.9z" fill="#fca214"/><path d="M191.3 254.8l3.7 3.2 3.8-5-3.7-2.9z" fill="#fcab14"/><path d="M194.4 257.5l4.8 3.3 3.7-4.9-4.7-3.4z" fill="#fcb514"/><path d="M198.5 260.3l5.2 4 3.7-4.5-5.1-4.4z" fill="#fcc014"/><path d="M81.3 212.4l6.5 .6 4.7-1.9-6.6-.5z" fill="#f73710"/><path d="M86.7 212.8l6.6 .5 4.6-1.9-6.6-.5z" fill="#f73610"/><path d="M92 213.1l6.7 .6 4.7-1.9-6.7-.7z" fill="#f73510"/><path d="M97.4 213.5l6.7 .8 4.7-2-6.7-.8z" fill="#f73410"/><path d="M102.7 214l6.7 1 4.7-2-6.6-.9z" fill="#f73410"/><path d="M108.1 214.7l6.7 1.1 4.6-2-6.6-1.1z" fill="#f73310"/><path d="M113.5 215.5l6.6 1.2 4.6-1.9-6.6-1.2z" fill="#f73410"/><path d="M118.8 216.4l6.6 1.3 4.6-1.9-6.6-1.3z" fill="#f73810"/><path d="M124.1 217.4l6.5 1.5 4.6-2-6.5-1.4z" fill="#f73b11"/><path d="M129.3 218.5l6.5 1.6 4.5-1.9-6.4-1.6z" fill="#f73f11"/><path d="M134.5 219.7l6.4 1.7 4.6-1.9-6.4-1.7z" fill="#f84311"/><path d="M139.7 221.1l6.3 1.8 4.4-1.9-6.2-1.9z" fill="#f84611"/><path d="M144.8 222.5l5.9 2.2 4.4-2-5.9-2.1z" fill="#f84b11"/><path d="M149.7 224.2l5.6 2.4 4.2-2-5.6-2.3z" fill="#f85011"/><path d="M154.3 226.1l5.3 2.6 4.1-2.1-5.2-2.4z" fill="#f95612"/><path d="M158.6 228.2l5.1 2.6 4.1-2.2-5.1-2.5z" fill="#f95c12"/><path d="M162.8 230.3l4.8 2.6 4.1-2.3-4.9-2.5z" fill="#f96212"/><path d="M166.8 232.5l4.6 2.6 4-2.6-4.6-2.4z" fill="#fa6912"/><path d="M170.6 234.6l4.5 2.7 3.9-2.8-4.4-2.4z" fill="#fa6f13"/><path d="M174.3 236.8l4.3 2.7 4-3.1-4.4-2.4z" fill="#fb7613"/><path d="M177.9 239l4.2 2.8 3.9-3.4-4.2-2.4z" fill="#fb7e13"/><path d="M181.4 241.3l4.1 2.8 3.9-3.7-4.2-2.4z" fill="#fb8413"/><path d="M184.8 243.6l4.1 2.8 3.9-4-4.1-2.4z" fill="#fc8b14"/><path d="M188.2 245.9l3.9 2.9 3.9-4.3-4-2.5z" fill="#fc9114"/><path d="M191.5 248.3l3.7 3 3.9-4.7-3.8-2.6z" fill="#fc9714"/><path d="M194.6 250.7l3.7 3 3.9-5-3.8-2.6z" fill="#fc9e14"/><path d="M197.7 253.2l4.7 3.4 3.8-4.8-4.7-3.6z" fill="#fca714"/><path d="M201.8 256.1l5 4.4 3.8-4.5-5-4.8z" fill="#fcb514"/></g>
<clipPath id="clc"><polygon points="21.0,267.5 22.0,267.8 24.1,268.4 27.2,269.4 31.3,270.6 35.3,271.9 39.3,273.1 43.1,274.4 46.9,275.6 50.6,276.9 54.4,278.1 58.1,279.4 61.9,280.6 65.6,281.9 69.4,283.3 73.1,284.8 76.9,286.2 80.8,287.9 84.8,289.8 89.1,291.8 93.4,294.0 97.5,296.4 101.2,299.0 104.7,301.8 107.8,304.8 110.8,308.0 113.6,311.4 116.2,315.0 118.8,318.8 121.1,322.6 123.3,326.5 125.3,330.3 127.2,334.2 129.1,338.3 130.9,342.8 132.8,347.5 134.7,352.5 136.4,357.2 138.0,361.6 139.4,365.6 140.6,369.4 141.8,373.1 142.8,376.9 143.8,380.6 144.7,384.4 145.7,387.2 146.9,389.2 148.2,390.4 149.8,390.6 151.2,390.8 152.7,390.8 154.1,390.6 155.4,390.4 156.5,390.2 157.2,390.1 157.5,390.0 157.5,390.0 157.6,389.4 157.8,388.1 158.1,386.2 158.4,383.8 158.8,381.1 159.1,378.3 159.4,375.3 159.6,372.2 160.0,368.8 160.4,365.0 160.9,360.9 161.6,356.6 162.2,352.3 162.8,348.3 163.4,344.4 164.1,340.6 164.8,336.9 165.8,333.1 166.9,329.4 168.1,325.6 169.5,321.7 171.1,317.7 172.8,313.4 174.7,309.1 176.6,305.0 178.4,301.2 180.3,297.8 182.2,294.7 184.2,291.4 186.4,288.0 188.8,284.4 191.2,280.6 193.6,277.2 195.8,274.1 197.8,271.2 199.7,268.8 201.6,266.3 203.4,263.9 205.3,261.6 207.2,259.4 208.6,257.7 209.5,256.6 210.0,256.0 210.0,256.0 209.7,255.7 209.1,255.1 208.1,254.1 206.9,252.9 205.0,251.3 202.5,249.4 199.4,247.2 195.6,244.8 191.6,242.2 187.2,239.6 182.5,236.9 177.5,234.1 172.8,231.6 168.2,229.3 164.0,227.2 160.0,225.3 156.3,223.7 152.8,222.3 149.7,221.2 146.8,220.3 143.6,219.4 139.9,218.5 135.9,217.5 131.6,216.5 127.0,215.6 122.3,214.7 117.5,213.9 112.5,213.1 107.6,212.5 102.7,212.0 97.9,211.6 93.1,211.4 89.6,211.2 87.2,211.1 86.0,211.0 86.0,211.0 85.5,211.2 84.4,211.6 82.8,212.1 80.7,212.9 78.3,213.9 75.7,215.1 72.8,216.6 69.7,218.4 66.4,220.3 63.0,222.4 59.4,224.8 55.6,227.2 52.2,229.8 49.1,232.2 46.2,234.8 43.8,237.2 41.2,239.9 38.8,242.8 36.2,245.9 33.8,249.1 31.3,252.4 28.9,255.7 26.6,259.1 24.4,262.4 22.7,265.0 21.6,266.7 21.0,267.5"/></clipPath>
<g clip-path="url(#clc)">
<g opacity="0.25">
<line x1="49.9" y1="313.2" x2="127.0" y2="282.2" stroke="#555" stroke-width="0.60"/>
<line x1="127.0" y1="282.2" x2="213.8" y2="308.7" stroke="#555" stroke-width="0.60"/>
<line x1="48.9" y1="281.3" x2="127.3" y2="257.1" stroke="#555" stroke-width="0.60"/>
<line x1="127.3" y1="257.1" x2="215.2" y2="277.5" stroke="#555" stroke-width="0.60"/>
<line x1="47.8" y1="249.5" x2="127.5" y2="232.0" stroke="#555" stroke-width="0.60"/>
<line x1="127.5" y1="232.0" x2="216.7" y2="246.4" stroke="#555" stroke-width="0.60"/>
<line x1="66.1" y1="336.9" x2="63.3" y2="230.0" stroke="#555" stroke-width="0.60"/>
<line x1="66.1" y1="336.9" x2="155.0" y2="369.3" stroke="#555" stroke-width="0.60"/>
<line x1="81.3" y1="329.4" x2="79.4" y2="227.2" stroke="#555" stroke-width="0.60"/>
<line x1="81.3" y1="329.4" x2="169.3" y2="361.8" stroke="#555" stroke-width="0.60"/>
<line x1="96.4" y1="321.8" x2="95.5" y2="224.4" stroke="#555" stroke-width="0.60"/>
<line x1="96.4" y1="321.8" x2="183.7" y2="354.3" stroke="#555" stroke-width="0.60"/>
<line x1="111.6" y1="314.3" x2="111.6" y2="221.6" stroke="#555" stroke-width="0.60"/>
<line x1="111.6" y1="314.3" x2="198.0" y2="346.8" stroke="#555" stroke-width="0.60"/>
<line x1="169.5" y1="323.1" x2="172.6" y2="224.4" stroke="#555" stroke-width="0.60"/>
<line x1="95.8" y1="360.6" x2="169.5" y2="323.1" stroke="#555" stroke-width="0.60"/>
<line x1="51.0" y1="344.4" x2="47.2" y2="232.8" stroke="#333" stroke-width="0.70"/>
<line x1="47.2" y1="232.8" x2="127.7" y2="218.8" stroke="#333" stroke-width="0.70"/>
<line x1="127.7" y1="218.8" x2="217.5" y2="230.0" stroke="#333" stroke-width="0.70"/>
<line x1="126.7" y1="306.8" x2="127.7" y2="218.8" stroke="#333" stroke-width="0.70"/>
<line x1="51.0" y1="344.4" x2="126.7" y2="306.8" stroke="#333" stroke-width="0.70"/>
<line x1="126.7" y1="306.8" x2="212.3" y2="339.3" stroke="#333" stroke-width="0.70"/>
</g>
</g>
<g opacity="1.00">
<line x1="321.7" y1="312.7" x2="398.8" y2="281.7" stroke="#d4d4d4" stroke-width="0.60"/>
<line x1="398.8" y1="281.7" x2="486.1" y2="308.7" stroke="#d4d4d4" stroke-width="0.60"/>
<line x1="320.7" y1="280.8" x2="399.1" y2="256.6" stroke="#d4d4d4" stroke-width="0.60"/>
<line x1="399.1" y1="256.6" x2="487.1" y2="277.4" stroke="#d4d4d4" stroke-width="0.60"/>
<line x1="319.6" y1="249.0" x2="399.4" y2="231.5" stroke="#d4d4d4" stroke-width="0.60"/>
<line x1="399.4" y1="231.5" x2="488.0" y2="246.1" stroke="#d4d4d4" stroke-width="0.60"/>
<line x1="337.9" y1="336.4" x2="335.1" y2="229.5" stroke="#d4d4d4" stroke-width="0.60"/>
<line x1="337.9" y1="336.4" x2="427.0" y2="368.9" stroke="#d4d4d4" stroke-width="0.60"/>
<line x1="353.1" y1="328.9" x2="351.2" y2="226.7" stroke="#d4d4d4" stroke-width="0.60"/>
<line x1="353.1" y1="328.9" x2="441.6" y2="361.6" stroke="#d4d4d4" stroke-width="0.60"/>
<line x1="368.2" y1="321.3" x2="367.3" y2="223.9" stroke="#d4d4d4" stroke-width="0.60"/>
<line x1="368.2" y1="321.3" x2="456.1" y2="354.2" stroke="#d4d4d4" stroke-width="0.60"/>
<line x1="383.4" y1="313.8" x2="383.4" y2="221.1" stroke="#d4d4d4" stroke-width="0.60"/>
<line x1="383.4" y1="313.8" x2="470.7" y2="346.9" stroke="#d4d4d4" stroke-width="0.60"/>
<line x1="441.9" y1="322.9" x2="444.0" y2="224.0" stroke="#d4d4d4" stroke-width="0.60"/>
<line x1="367.6" y1="360.1" x2="441.9" y2="322.9" stroke="#d4d4d4" stroke-width="0.60"/>
<line x1="322.8" y1="343.9" x2="319.0" y2="232.3" stroke="#b0b0b0" stroke-width="0.70"/>
<line x1="319.0" y1="232.3" x2="399.5" y2="218.3" stroke="#b0b0b0" stroke-width="0.70"/>
<line x1="399.5" y1="218.3" x2="488.5" y2="229.6" stroke="#b0b0b0" stroke-width="0.70"/>
<line x1="398.5" y1="306.3" x2="399.5" y2="218.3" stroke="#b0b0b0" stroke-width="0.70"/>
<line x1="322.8" y1="343.9" x2="398.5" y2="306.3" stroke="#b0b0b0" stroke-width="0.70"/>
<line x1="398.5" y1="306.3" x2="485.2" y2="339.5" stroke="#b0b0b0" stroke-width="0.70"/>
</g>
<line x1="322.8" y1="343.9" x2="412.5" y2="376.3" stroke="#555" stroke-width="0.80"/>
<line x1="412.5" y1="376.3" x2="485.2" y2="339.5" stroke="#555" stroke-width="0.80"/>
<line x1="485.2" y1="339.5" x2="488.5" y2="229.6" stroke="#555" stroke-width="0.80"/>
<g><path d="M293.4 284.3l5.7 1.7 2.1-4.2-5.6-1.7z" fill="#64eb1a"/><path d="M298.3 285.8l5.7 1.8 2.1-4.3-5.7-1.7z" fill="#5dea1b"/><path d="M303.2 287.3l5.7 1.8 2.1-4.3-5.7-1.7z" fill="#6eeb19"/><path d="M308.1 288.9l5.6 1.8 2.1-4.3-5.6-1.8z" fill="#64eb1a"/><path d="M312.9 290.5l5.7 1.9 2.1-4.4-5.7-1.9z" fill="#51e91d"/><path d="M317.8 292.1l5.7 1.9 2.1-4.4-5.7-1.9z" fill="#5fea1b"/><path d="M322.7 293.8l5.7 1.8 2-4.5-5.7-1.8z" fill="#73ec19"/><path d="M327.5 295.3l5.8 1.8 2-4.5-5.7-1.7z" fill="#74ec18"/><path d="M332.4 296.8l5.8 1.7 2-4.6-5.7-1.6z" fill="#6eeb19"/><path d="M337.4 298.3l5.7 1.6 2-4.5-5.7-1.7z" fill="#63eb1a"/><path d="M342.3 299.7l5.7 1.8 2-4.6-5.7-1.8z" fill="#52ea1c"/><path d="M347.2 301.2l5.7 1.9 2-4.7-5.7-1.8z" fill="#49e91d"/><path d="M352.1 302.8l5.6 2 2-4.7-5.6-2z" fill="#4fe91d"/><path d="M356.9 304.5l5.5 2.3 2-4.8-5.5-2.2z" fill="#54ea1c"/><path d="M361.7 306.5l5.4 2.5 2-4.8-5.5-2.5z" fill="#53ea1c"/><path d="M366.4 308.6l5.3 2.8 2-4.8-5.4-2.8z" fill="#4fe91d"/><path d="M371 311l5.3 3.1 2-5-5.3-2.9z" fill="#49e91d"/><path d="M375.6 313.6l5.2 3.2 1.9-5-5.2-3.1z" fill="#3de81f"/><path d="M380.1 316.4l5.1 3.4 1.9-5.1-5.1-3.3z" fill="#2ae721"/><path d="M384.5 319.3l5 3.8 1.9-5.1-5-3.8z" fill="#1fe622"/><path d="M388.8 322.6l4.8 4.2 2-5.4-4.9-4z" fill="#1ce623"/><path d="M392.9 326.2l4.7 4.5 2-5.4-4.7-4.5z" fill="#19e624"/><path d="M397 330l4.5 4.9 2-5.6-4.6-4.7z" fill="#19e629"/><path d="M400.9 334.2l4.5 5.1 1.9-5.7-4.4-5z" fill="#19e630"/><path d="M404.7 338.5l4.4 5.4 2-5.8-4.4-5.3z" fill="#18e63a"/><path d="M408.5 343.2l4.5 5 2-5.9-4.6-5z" fill="#18e643"/><path d="M412.3 347.5l4.7 4.6 2-6-4.7-4.5z" fill="#18e64b"/><path d="M416.4 351.5l4.8 4.2 1.9-6-4.8-4.2z" fill="#18e651"/><path d="M295.2 280.9l5.7 1.7 2.1-4.2-5.7-1.7z" fill="#87ed16"/><path d="M300 282.3l5.7 1.8 2.2-4.3-5.7-1.6z" fill="#7eec17"/><path d="M304.9 283.8l5.7 1.8 2.1-4.3-5.6-1.7z" fill="#86ed16"/><path d="M309.8 285.3l5.7 1.9 2.1-4.4-5.7-1.8z" fill="#78ec18"/><path d="M314.7 286.9l5.6 1.9 2.1-4.4-5.6-1.8z" fill="#6feb19"/><path d="M319.5 288.5l5.7 1.9 2.1-4.5-5.7-1.8z" fill="#84ed17"/><path d="M324.4 290.1l5.7 1.8 2-4.5-5.6-1.7z" fill="#96ee15"/><path d="M329.3 291.6l5.7 1.7 2-4.5-5.7-1.6z" fill="#94ee15"/><path d="M334.2 293.1l5.7 1.6 2-4.5-5.7-1.6z" fill="#8bed16"/><path d="M339.1 294.5l5.7 1.6 2-4.5-5.7-1.7z" fill="#7eec17"/><path d="M344 295.9l5.7 1.7 2-4.6-5.7-1.7z" fill="#6deb19"/><path d="M348.9 297.4l5.6 1.8 2-4.7-5.6-1.7z" fill="#63eb1a"/><path d="M353.7 298.9l5.6 2 2-4.7-5.6-1.9z" fill="#6ceb19"/><path d="M358.6 300.6l5.5 2.2 2-4.7-5.5-2.2z" fill="#76ec18"/><path d="M363.3 302.5l5.5 2.5 2-4.8-5.5-2.5z" fill="#77ec18"/><path d="M368 304.6l5.4 2.8 2-4.9-5.4-2.7z" fill="#76ec18"/><path d="M372.6 307l5.3 2.9 2-4.9-5.3-2.9z" fill="#74ec19"/><path d="M377.2 309.5l5.2 3.1 2-5-5.2-3.1z" fill="#66eb1a"/><path d="M381.7 312.2l5.1 3.3 2-5-5.1-3.3z" fill="#4ae91d"/><path d="M386.1 315.1l5 3.7 2-5.2-5-3.6z" fill="#38e81f"/><path d="M390.4 318.2l4.8 4.1 2-5.3-4.8-4z" fill="#37e820"/><path d="M394.6 321.7l4.7 4.4 1.9-5.4-4.7-4.3z" fill="#34e820"/><path d="M398.6 325.5l4.6 4.7 2-5.6-4.6-4.5z" fill="#2ee721"/><path d="M402.5 329.5l4.5 5 2-5.7-4.5-4.8z" fill="#23e722"/><path d="M406.4 333.8l4.4 5.2 2-5.8-4.4-5.1z" fill="#19e626"/><path d="M410.1 338.2l4.5 5 2-5.9-4.5-4.9z" fill="#19e631"/><path d="M414 342.5l4.7 4.5 2-6-4.7-4.4z" fill="#18e63a"/><path d="M418 346.4l4.9 4.1 1.9-6-4.8-4.1z" fill="#18e640"/><path d="M296.9 277.5l5.7 1.7 2.2-4.3-5.7-1.6z" fill="#b6ee14"/><path d="M301.8 278.9l5.7 1.7 2.1-4.3-5.6-1.6z" fill="#abee14"/><path d="M306.7 280.3l5.7 1.8 2.1-4.4-5.7-1.6z" fill="#a3ee14"/><path d="M311.5 281.8l5.7 1.8 2.1-4.4-5.6-1.7z" fill="#9aee14"/><path d="M316.4 283.3l5.7 1.8 2.1-4.4-5.7-1.7z" fill="#a7ee14"/><path d="M321.3 284.9l5.6 1.8 2.1-4.5-5.6-1.7z" fill="#b9ee14"/><path d="M326.1 286.4l5.7 1.8 2.1-4.5-5.7-1.7z" fill="#b7ee14"/><path d="M331 287.9l5.7 1.7 2-4.5-5.6-1.6z" fill="#afee14"/><path d="M335.9 289.4l5.7 1.6 2-4.6-5.7-1.5z" fill="#a7ee14"/><path d="M340.8 290.7l5.7 1.6 2-4.5-5.7-1.6z" fill="#9eee14"/><path d="M345.7 292.1l5.6 1.7 2.1-4.6-5.7-1.7z" fill="#9cee14"/><path d="M350.5 293.5l5.7 1.8 2-4.7-5.6-1.7z" fill="#9cee14"/><path d="M355.4 295l5.6 2 2-4.7-5.6-1.9z" fill="#9cee14"/><path d="M360.2 296.7l5.6 2.2 2-4.8-5.6-2.1z" fill="#9eee14"/><path d="M365 298.5l5.4 2.5 2-4.8-5.4-2.4z" fill="#9fee14"/><path d="M369.7 300.6l5.3 2.7 2-4.9-5.3-2.6z" fill="#a1ee14"/><path d="M374.3 302.9l5.3 2.8 2-4.9-5.3-2.8z" fill="#a3ee14"/><path d="M378.9 305.3l5.2 3.1 1.9-5-5.2-3z" fill="#9bee14"/><path d="M383.4 308l5.1 3.3 1.9-5.1-5.1-3.2z" fill="#7bec18"/><path d="M387.8 310.8l5 3.6 1.9-5.2-5-3.5z" fill="#61ea1b"/><path d="M392.1 313.9l4.8 3.9 2-5.2-4.9-3.9z" fill="#5bea1b"/><path d="M396.2 317.2l4.7 4.3 2-5.3-4.7-4.2z" fill="#57ea1c"/><path d="M400.2 320.9l4.6 4.6 2-5.5-4.6-4.5z" fill="#50e91d"/><path d="M404.2 324.8l4.5 4.9 2-5.6-4.5-4.8z" fill="#45e91e"/><path d="M408 329l4.4 5.1 2-5.8-4.4-5z" fill="#36e820"/><path d="M411.8 333.4l4.5 4.8 2-5.9-4.5-4.7z" fill="#24e722"/><path d="M415.7 337.5l4.7 4.4 1.9-5.9-4.7-4.3z" fill="#19e626"/><path d="M419.7 341.3l4.8 4.1 2-6-4.8-4z" fill="#19e62c"/><path d="M298.7 274.1l5.7 1.6 2.1-4.3-5.6-1.6z" fill="#e3ee14"/><path d="M303.6 275.4l5.7 1.7 2.1-4.3-5.7-1.6z" fill="#d2ee14"/><path d="M308.4 276.8l5.7 1.7 2.1-4.3-5.6-1.7z" fill="#c4ee14"/><path d="M313.3 278.3l5.7 1.7 2.1-4.4-5.7-1.7z" fill="#bcee14"/><path d="M318.2 279.7l5.6 1.8 2.1-4.4-5.6-1.8z" fill="#ceee14"/><path d="M323 281.2l5.7 1.8 2-4.4-5.6-1.8z" fill="#dcee14"/><path d="M327.8 282.8l5.7 1.7 2.1-4.5-5.7-1.7z" fill="#d3ee14"/><path d="M332.7 284.2l5.7 1.7 2.1-4.6-5.7-1.6z" fill="#c9ee14"/><path d="M337.6 285.6l5.7 1.6 2-4.6-5.7-1.5z" fill="#c0ee14"/><path d="M342.5 287l5.7 1.5 2-4.6-5.7-1.5z" fill="#b8ee14"/><path d="M347.4 288.3l5.6 1.6 2.1-4.6-5.7-1.6z" fill="#bbee14"/><path d="M352.2 289.7l5.7 1.7 2-4.6-5.6-1.7z" fill="#c2ee14"/><path d="M357.1 291.2l5.6 1.8 2-4.6-5.6-1.9z" fill="#c1ee14"/><path d="M361.9 292.8l5.5 2.1 2-4.7-5.5-2.1z" fill="#beee14"/><path d="M366.7 294.6l5.4 2.4 2-4.8-5.5-2.3z" fill="#beee14"/><path d="M371.3 296.6l5.4 2.6 2-4.8-5.4-2.6z" fill="#c0ee14"/><path d="M376 298.8l5.3 2.8 1.9-4.9-5.3-2.7z" fill="#c4ee14"/><path d="M380.5 301.2l5.2 3 2-4.9-5.2-3z" fill="#bdee14"/><path d="M385 303.8l5.1 3.2 2-5-5.1-3.2z" fill="#a7ee14"/><path d="M389.4 306.5l5 3.5 2-5.1-5-3.4z" fill="#91ed15"/><path d="M393.7 309.5l4.8 3.9 2-5.2-4.8-3.8z" fill="#86ed16"/><path d="M397.9 312.8l4.7 4.2 1.9-5.3-4.7-4.1z" fill="#7eec17"/><path d="M401.9 316.4l4.6 4.5 2-5.5-4.6-4.3z" fill="#76ec18"/><path d="M405.8 320.2l4.5 4.7 2-5.6-4.5-4.5z" fill="#6beb1a"/><path d="M409.7 324.2l4.4 5 2-5.7-4.4-4.8z" fill="#5bea1b"/><path d="M413.5 328.5l4.5 4.7 2-5.8-4.5-4.6z" fill="#49e91d"/><path d="M417.3 332.6l4.8 4.2 1.9-5.8-4.7-4.2z" fill="#38e81f"/><path d="M421.4 336.2l4.8 4 2-5.9-4.9-3.9z" fill="#2de721"/><path d="M300.5 270.6l5.7 1.6 2.1-4.3-5.7-1.5z" fill="#fce614"/><path d="M305.3 271.9l5.7 1.6 2.1-4.3-5.7-1.5z" fill="#f7ee14"/><path d="M310.2 273.3l5.7 1.6 2.1-4.3-5.7-1.6z" fill="#e6ee14"/><path d="M315 274.7l5.7 1.7 2.1-4.4-5.7-1.7z" fill="#e0ee14"/><path d="M319.9 276.1l5.6 1.7 2.1-4.4-5.6-1.7z" fill="#e9ee14"/><path d="M324.7 277.6l5.7 1.7 2-4.5-5.6-1.6z" fill="#f0ee14"/><path d="M329.6 279.1l5.6 1.6 2.1-4.5-5.7-1.6z" fill="#eaee14"/><path d="M334.4 280.5l5.7 1.6 2.1-4.5-5.7-1.6z" fill="#e2ee14"/><path d="M339.3 281.9l5.7 1.5 2-4.6-5.7-1.5z" fill="#daee14"/><path d="M344.2 283.2l5.7 1.5 2-4.6-5.7-1.5z" fill="#d3ee14"/><path d="M349.1 284.5l5.6 1.6 2-4.6-5.6-1.6z" fill="#d1ee14"/><path d="M353.9 285.9l5.7 1.7 2-4.7-5.7-1.7z" fill="#d7ee14"/><path d="M358.8 287.3l5.6 1.8 2-4.7-5.6-1.8z" fill="#dcee14"/><path d="M363.6 288.9l5.5 2 2-4.7-5.5-2z" fill="#dbee14"/><path d="M368.3 290.6l5.5 2.4 1.9-4.8-5.4-2.3z" fill="#dcee14"/><path d="M373 292.6l5.4 2.5 1.9-4.8-5.3-2.5z" fill="#dcee14"/><path d="M377.6 294.8l5.3 2.7 2-4.9-5.3-2.7z" fill="#dcee14"/><path d="M382.2 297.1l5.2 2.9 1.9-4.9-5.2-2.9z" fill="#d3ee14"/><path d="M386.7 299.6l5.1 3.2 1.9-5.1-5.1-3.1z" fill="#c3ee14"/><path d="M391.1 302.3l5 3.4 1.9-5.1-5-3.4z" fill="#b7ee14"/><path d="M395.4 305.2l4.8 3.8 2-5.3-4.9-3.6z" fill="#aeee14"/><path d="M399.5 308.4l4.7 4.1 2-5.4-4.7-3.9z" fill="#a7ee14"/><path d="M403.6 311.9l4.6 4.4 1.9-5.5-4.6-4.3z" fill="#9fee14"/><path d="M407.5 315.6l4.5 4.6 2-5.6-4.5-4.5z" fill="#95ee15"/><path d="M411.4 319.5l4.4 4.9 2-5.8-4.5-4.7z" fill="#85ed17"/><path d="M415.1 323.7l4.6 4.6 1.9-5.8-4.5-4.5z" fill="#72eb19"/><path d="M419 327.7l4.7 4.1 2-5.9-4.7-4z" fill="#60ea1b"/><path d="M423.1 331.2l4.8 3.9 1.9-5.9-4.8-3.8z" fill="#52ea1c"/><path d="M302.2 267.1l5.7 1.6 2.1-4.3-5.7-1.5z" fill="#fcd614"/><path d="M307.1 268.4l5.6 1.6 2.1-4.3-5.6-1.5z" fill="#fce014"/><path d="M311.9 269.8l5.7 1.5 2.1-4.3-5.7-1.5z" fill="#fce814"/><path d="M316.8 271.1l5.6 1.6 2.1-4.4-5.7-1.5z" fill="#fceb14"/><path d="M321.6 272.5l5.7 1.7 2-4.5-5.6-1.6z" fill="#fcea14"/><path d="M326.4 273.9l5.7 1.7 2-4.5-5.6-1.6z" fill="#fce914"/><path d="M331.3 275.4l5.6 1.6 2.1-4.5-5.7-1.6z" fill="#fceb14"/><path d="M336.1 276.8l5.7 1.5 2-4.5-5.7-1.5z" fill="#faee14"/><path d="M341 278.1l5.7 1.5 2-4.6-5.7-1.4z" fill="#f4ee14"/><path d="M345.9 279.4l5.7 1.5 1.9-4.6-5.6-1.5z" fill="#efee14"/><path d="M350.7 280.7l5.7 1.6 2-4.7-5.7-1.5z" fill="#eeee14"/><path d="M355.6 282l5.6 1.7 2-4.7-5.6-1.6z" fill="#f2ee14"/><path d="M360.4 283.4l5.6 1.8 2-4.7-5.6-1.8z" fill="#f6ee14"/><path d="M365.2 284.9l5.6 2.1 1.9-4.8-5.5-2z" fill="#f7ee14"/><path d="M370 286.7l5.4 2.2 1.9-4.8-5.4-2.2z" fill="#f7ee14"/><path d="M374.7 288.6l5.3 2.5 1.9-4.9-5.3-2.4z" fill="#f6ee14"/><path d="M379.3 290.7l5.3 2.7 1.9-5-5.3-2.6z" fill="#f2ee14"/><path d="M383.8 293l5.2 2.9 1.9-5.1-5.2-2.8z" fill="#ebee14"/><path d="M388.3 295.4l5.1 3.1 1.9-5.1-5.1-3z" fill="#e2ee14"/><path d="M392.7 298l5 3.4 1.9-5.2-5-3.3z" fill="#d8ee14"/><path d="M397 300.9l4.9 3.7 1.9-5.3-4.9-3.6z" fill="#d0ee14"/><path d="M401.2 304l4.7 4 1.9-5.4-4.7-3.9z" fill="#c9ee14"/><path d="M405.2 307.4l4.6 4.2 1.9-5.5-4.6-4.1z" fill="#c2ee14"/><path d="M409.2 311l4.5 4.5 1.9-5.7-4.5-4.3z" fill="#b9ee14"/><path d="M413 314.8l4.5 4.7 1.9-5.8-4.5-4.5z" fill="#acee14"/><path d="M416.8 318.9l4.6 4.5 1.9-5.9-4.6-4.4z" fill="#9dee14"/><path d="M420.7 322.7l4.7 4.1 1.9-6-4.7-3.9z" fill="#8aed16"/><path d="M424.7 326.2l4.9 3.8 1.9-6-4.9-3.7z" fill="#79ec18"/><path d="M303.9 263.7l5.7 1.5 2.1-4.2-5.7-1.4z" fill="#fcca14"/><path d="M308.8 265l5.7 1.4 2.1-4.2-5.7-1.4z" fill="#fcd314"/><path d="M313.6 266.2l5.7 1.6 2.1-4.3-5.7-1.5z" fill="#fcda14"/><path d="M318.5 267.5l5.6 1.6 2.1-4.3-5.6-1.6z" fill="#fcdd14"/><path d="M323.3 268.9l5.6 1.6 2.1-4.4-5.6-1.6z" fill="#fcdd14"/><path d="M328.1 270.3l5.7 1.6 2-4.4-5.6-1.6z" fill="#fcde14"/><path d="M333 271.7l5.6 1.6 2-4.5-5.6-1.6z" fill="#fcdf14"/><path d="M337.8 273l5.7 1.6 2-4.6-5.7-1.4z" fill="#fce214"/><path d="M342.6 274.4l5.7 1.4 2-4.6-5.6-1.4z" fill="#fce414"/><path d="M347.5 275.6l5.7 1.5 2-4.6-5.7-1.5z" fill="#fce614"/><path d="M352.4 276.9l5.6 1.5 2-4.7-5.6-1.4z" fill="#fce614"/><path d="M357.2 278.2l5.7 1.6 1.9-4.7-5.6-1.6z" fill="#fce514"/><path d="M362.1 279.5l5.6 1.8 1.9-4.8-5.6-1.7z" fill="#fce314"/><path d="M366.9 281l5.5 2 1.9-4.8-5.5-1.9z" fill="#fce314"/><path d="M371.6 282.7l5.4 2.2 2-4.9-5.5-2.1z" fill="#fce314"/><path d="M376.3 284.6l5.3 2.4 1.9-4.9-5.3-2.4z" fill="#fce414"/><path d="M380.9 286.6l5.3 2.6 1.9-5-5.3-2.5z" fill="#fce614"/><path d="M385.4 288.8l5.2 2.8 1.9-5-5.2-2.7z" fill="#fce914"/><path d="M389.9 291.2l5.1 3 1.9-5.2-5.1-2.9z" fill="#fcec14"/><path d="M394.3 293.7l5 3.3 1.9-5.2-5-3.2z" fill="#f9ee14"/><path d="M398.6 296.5l4.9 3.6 1.8-5.4-4.8-3.4z" fill="#f2ee14"/><path d="M402.8 299.5l4.7 3.9 1.9-5.5-4.8-3.7z" fill="#ebee14"/><path d="M406.8 302.8l4.6 4.2 1.9-5.6-4.6-4z" fill="#e4ee14"/><path d="M410.8 306.4l4.5 4.3 1.9-5.7-4.5-4.3z" fill="#dcee14"/><path d="M414.6 310.1l4.5 4.5 1.9-5.9-4.5-4.4z" fill="#d1ee14"/><path d="M418.4 314l4.6 4.3 1.9-5.9-4.6-4.3z" fill="#c0ee14"/><path d="M422.3 317.7l4.7 4 1.9-6.1-4.7-3.8z" fill="#aeee14"/><path d="M426.3 321.1l4.9 3.8 1.9-6.2-4.9-3.6z" fill="#9fee14"/><path d="M305.6 260.3l5.7 1.5 2.2-4.2-5.7-1.3z" fill="#fcc114"/><path d="M310.5 261.6l5.7 1.4 2.1-4.2-5.7-1.4z" fill="#fcc814"/><path d="M315.3 262.8l5.7 1.4 2.1-4.2-5.6-1.4z" fill="#fccd14"/><path d="M320.2 264l5.6 1.5 2.1-4.3-5.6-1.4z" fill="#fccf14"/><path d="M325 265.3l5.6 1.6 2.1-4.4-5.6-1.5z" fill="#fcd014"/><path d="M329.8 266.7l5.7 1.5 2-4.4-5.6-1.5z" fill="#fcd114"/><path d="M334.6 268l5.7 1.6 2-4.5-5.6-1.5z" fill="#fcd314"/><path d="M339.5 269.3l5.6 1.5 2.1-4.5-5.7-1.4z" fill="#fcd514"/><path d="M344.3 270.6l5.7 1.4 2-4.5-5.6-1.4z" fill="#fcd614"/><path d="M349.2 271.8l5.6 1.4 2.1-4.5-5.7-1.4z" fill="#fcd714"/><path d="M354 273l5.7 1.5 2-4.6-5.7-1.4z" fill="#fcd714"/><path d="M358.9 274.3l5.6 1.5 2-4.6-5.6-1.5z" fill="#fcd614"/><path d="M363.7 275.6l5.6 1.7 1.9-4.7-5.5-1.6z" fill="#fcd514"/><path d="M368.5 277l5.5 2 1.9-4.8-5.5-1.9z" fill="#fcd514"/><path d="M373.2 278.7l5.4 2.1 2-4.8-5.4-2.1z" fill="#fcd514"/><path d="M377.9 280.5l5.3 2.3 2-4.9-5.4-2.2z" fill="#fcd614"/><path d="M382.5 282.5l5.3 2.5 1.9-5-5.3-2.4z" fill="#fcd814"/><path d="M387 284.6l5.2 2.7 2-5-5.3-2.6z" fill="#fcda14"/><path d="M391.5 286.9l5.1 2.9 1.9-5.1-5.1-2.8z" fill="#fcdd14"/><path d="M395.9 289.4l5 3.2 1.9-5.3-5-3z" fill="#fcdf14"/><path d="M400.2 292.1l4.9 3.4 1.9-5.3-4.9-3.3z" fill="#fce214"/><path d="M404.3 295l4.8 3.8 1.9-5.5-4.8-3.6z" fill="#fce614"/><path d="M408.4 298.2l4.6 4 1.9-5.6-4.6-3.9z" fill="#fce914"/><path d="M412.4 301.6l4.5 4.2 1.9-5.7-4.5-4.1z" fill="#fcee14"/><path d="M416.2 305.2l4.5 4.4 1.9-5.8-4.5-4.3z" fill="#f3ee14"/><path d="M420 309l4.6 4.2 1.9-5.9-4.6-4.2z" fill="#e2ee14"/><path d="M423.9 312.6l4.8 3.9 1.9-6.1-4.8-3.7z" fill="#ceee14"/><path d="M428 316l4.8 3.6 1.9-6.2-4.9-3.5z" fill="#bdee14"/><path d="M307.4 257l5.7 1.4 2.2-4.2-5.7-1.3z" fill="#fcb914"/><path d="M312.2 258.2l5.7 1.3 2.2-4.2-5.6-1.3z" fill="#fcbe14"/><path d="M317.1 259.3l5.6 1.4 2.2-4.2-5.6-1.4z" fill="#fcc114"/><path d="M321.9 260.5l5.6 1.5 2.2-4.3-5.6-1.4z" fill="#fcc314"/><path d="M326.7 261.8l5.7 1.5 2.1-4.4-5.6-1.4z" fill="#fcc414"/><path d="M331.5 263.1l5.7 1.5 2.1-4.4-5.6-1.5z" fill="#fcc514"/><path d="M336.3 264.4l5.7 1.5 2.1-4.4-5.6-1.5z" fill="#fcc614"/><path d="M341.2 265.7l5.6 1.4 2.2-4.5-5.7-1.4z" fill="#fcc814"/><path d="M346 266.9l5.7 1.4 2.1-4.5-5.7-1.4z" fill="#fcc814"/><path d="M350.8 268.1l5.7 1.3 2.1-4.5-5.6-1.3z" fill="#fcc814"/><path d="M355.7 269.2l5.6 1.5 2.1-4.6-5.6-1.4z" fill="#fcc814"/><path d="M360.5 270.5l5.6 1.5 2.1-4.7-5.6-1.4z" fill="#fcc814"/><path d="M365.3 271.7l5.6 1.7 2.1-4.7-5.6-1.6z" fill="#fcc714"/><path d="M370.1 273.1l5.5 1.9 2.1-4.7-5.5-1.8z" fill="#fcc714"/><path d="M374.8 274.7l5.5 2.1 2-4.8-5.4-2z" fill="#fcc714"/><path d="M379.5 276.4l5.4 2.3 2-4.8-5.4-2.2z" fill="#fcc814"/><path d="M384.1 278.4l5.3 2.4 2-4.9-5.3-2.3z" fill="#fcc914"/><path d="M388.6 280.5l5.2 2.6 2.1-5-5.2-2.5z" fill="#fccb14"/><path d="M393.1 282.7l5.1 2.8 2.1-5-5.2-2.8z" fill="#fccd14"/><path d="M397.5 285.1l5 3 2-5.1-5-3z" fill="#fcd014"/><path d="M401.8 287.7l4.9 3.3 2-5.2-4.9-3.2z" fill="#fcd214"/><path d="M405.9 290.5l4.8 3.6 2-5.3-4.7-3.5z" fill="#fcd614"/><path d="M410 293.6l4.6 3.8 2.1-5.4-4.7-3.7z" fill="#fcd914"/><path d="M414 296.9l4.5 4 2-5.5-4.5-4z" fill="#fcde14"/><path d="M417.8 300.3l4.5 4.3 2-5.7-4.4-4.2z" fill="#fce514"/><path d="M421.6 304l4.6 4.1 2-5.8-4.5-4z" fill="#fced14"/><path d="M425.5 307.5l4.8 3.8 2-5.9-4.8-3.7z" fill="#e9ee14"/><path d="M429.6 310.8l4.8 3.5 2-6-4.8-3.4z" fill="#d7ee14"/><path d="M309.2 253.7l5.7 1.3 2.3-4.2-5.6-1.3z" fill="#fcaf14"/><path d="M314 254.8l5.7 1.3 2.3-4.3-5.6-1.2z" fill="#fcb314"/><path d="M318.9 255.9l5.6 1.3 2.3-4.3-5.6-1.3z" fill="#fcb514"/><path d="M323.7 257l5.6 1.5 2.3-4.4-5.6-1.4z" fill="#fcb714"/><path d="M328.5 258.2l5.6 1.5 2.3-4.3-5.6-1.5z" fill="#fcb814"/><path d="M333.3 259.5l5.6 1.5 2.3-4.4-5.6-1.5z" fill="#fcb914"/><path d="M338.1 260.8l5.7 1.4 2.2-4.4-5.6-1.4z" fill="#fcba14"/><path d="M342.9 262l5.7 1.4 2.2-4.4-5.6-1.4z" fill="#fcbb14"/><path d="M347.7 263.2l5.7 1.3 2.3-4.4-5.7-1.3z" fill="#fcbb14"/><path d="M352.6 264.3l5.7 1.4 2.2-4.5-5.7-1.3z" fill="#fcbb14"/><path d="M357.4 265.5l5.7 1.4 2.2-4.5-5.6-1.4z" fill="#fcbb14"/><path d="M362.2 266.7l5.7 1.4 2.2-4.5-5.6-1.4z" fill="#fcba14"/><path d="M367.1 267.9l5.5 1.6 2.2-4.6-5.5-1.5z" fill="#fcba14"/><path d="M371.8 269.2l5.5 1.8 2.2-4.6-5.5-1.7z" fill="#fcb914"/><path d="M376.5 270.8l5.5 2 2.2-4.7-5.5-1.9z" fill="#fcb914"/><path d="M381.2 272.5l5.4 2.2 2.1-4.7-5.3-2.2z" fill="#fcba14"/><path d="M385.8 274.3l5.3 2.4 2.1-4.7-5.2-2.4z" fill="#fcbb14"/><path d="M390.3 276.4l5.2 2.5 2.2-4.8-5.2-2.5z" fill="#fcbd14"/><path d="M394.8 278.5l5.1 2.7 2.2-4.9-5.2-2.6z" fill="#fcbf14"/><path d="M399.2 280.8l5 3 2.2-5-5.1-2.9z" fill="#fcc114"/><path d="M403.5 283.3l4.8 3.3 2.2-5.1-4.9-3.1z" fill="#fcc414"/><path d="M407.6 286.1l4.8 3.5 2.1-5.2-4.7-3.4z" fill="#fcc714"/><path d="M411.7 289.1l4.6 3.7 2.2-5.3-4.6-3.6z" fill="#fcca14"/><path d="M415.7 292.2l4.5 4 2.2-5.4-4.6-3.8z" fill="#fcd014"/><path d="M419.6 295.6l4.4 4.1 2.2-5.5-4.5-4z" fill="#fcd814"/><path d="M423.4 299.1l4.5 4 2.2-5.6-4.6-3.9z" fill="#fce214"/><path d="M427.2 302.6l4.8 3.6 2.2-5.7-4.8-3.5z" fill="#fcec14"/><path d="M431.3 305.7l4.8 3.4 2.2-5.7-4.8-3.4z" fill="#edee14"/><path d="M311.1 250.2l5.7 1.3 2.5-4.2-5.7-1.2z" fill="#fca614"/><path d="M315.9 251.3l5.7 1.3 2.5-4.2-5.7-1.3z" fill="#fca814"/><path d="M320.8 252.4l5.6 1.3 2.5-4.3-5.7-1.2z" fill="#fcaa14"/><path d="M325.6 253.5l5.6 1.4 2.5-4.3-5.6-1.3z" fill="#fcab14"/><path d="M330.4 254.7l5.6 1.4 2.5-4.3-5.7-1.4z" fill="#fcac14"/><path d="M335.2 255.9l5.6 1.5 2.5-4.4-5.7-1.4z" fill="#fcad14"/><path d="M340 257.1l5.6 1.5 2.5-4.4-5.7-1.4z" fill="#fcae14"/><path d="M344.8 258.4l5.6 1.3 2.5-4.4-5.7-1.3z" fill="#fcae14"/><path d="M349.6 259.5l5.7 1.3 2.4-4.4-5.7-1.3z" fill="#fcae14"/><path d="M354.4 260.6l5.7 1.4 2.4-4.5-5.7-1.3z" fill="#fcae14"/><path d="M359.2 261.8l5.7 1.3 2.4-4.4-5.6-1.4z" fill="#fcae14"/><path d="M364.1 262.9l5.6 1.4 2.4-4.4-5.6-1.4z" fill="#fcad14"/><path d="M368.9 264.1l5.6 1.6 2.3-4.5-5.5-1.5z" fill="#fcad14"/><path d="M373.6 265.4l5.5 1.8 2.4-4.5-5.5-1.7z" fill="#fcac14"/><path d="M378.3 266.9l5.5 2 2.4-4.6-5.5-1.9z" fill="#fcac14"/><path d="M383 268.6l5.4 2.1 2.3-4.6-5.3-2.1z" fill="#fcad14"/><path d="M387.6 270.4l5.3 2.3 2.3-4.6-5.3-2.3z" fill="#fcae14"/><path d="M392.1 272.4l5.2 2.4 2.4-4.7-5.2-2.4z" fill="#fcb014"/><path d="M396.6 274.5l5.1 2.6 2.4-4.8-5.2-2.5z" fill="#fcb114"/><path d="M401 276.7l5 2.9 2.3-4.8-5-2.8z" fill="#fcb314"/><path d="M405.3 279.1l4.9 3.2 2.3-4.9-4.9-3.1z" fill="#fcb614"/><path d="M409.4 281.8l4.8 3.4 2.3-5-4.7-3.3z" fill="#fcb914"/><path d="M413.5 284.7l4.7 3.6 2.3-5.1-4.6-3.5z" fill="#fcbd14"/><path d="M417.5 287.8l4.5 3.8 2.4-5.3-4.6-3.7z" fill="#fcc314"/><path d="M421.4 291l4.4 4 2.4-5.4-4.5-3.8z" fill="#fccb14"/><path d="M425.2 294.4l4.6 3.9 2.3-5.5-4.6-3.7z" fill="#fcd614"/><path d="M429.1 297.8l4.7 3.5 2.4-5.5-4.8-3.5z" fill="#fce114"/><path d="M433.1 300.8l4.9 3.4 2.3-5.7-4.8-3.2z" fill="#fceb14"/><path d="M313.1 246.8l5.7 1.3 2.7-4.1-5.6-1.2z" fill="#fc9c14"/><path d="M317.9 247.9l5.7 1.2 2.8-4.1-5.7-1.2z" fill="#fc9e14"/><path d="M322.8 248.9l5.7 1.3 2.7-4.1-5.7-1.3z" fill="#fc9f14"/><path d="M327.6 250l5.6 1.4 2.7-4.2-5.6-1.3z" fill="#fca014"/><path d="M332.4 251.1l5.6 1.5 2.7-4.2-5.6-1.4z" fill="#fca114"/><path d="M337.2 252.3l5.6 1.5 2.7-4.2-5.7-1.4z" fill="#fca114"/><path d="M342 253.6l5.6 1.4 2.7-4.3-5.7-1.4z" fill="#fca214"/><path d="M346.8 254.8l5.6 1.3 2.7-4.2-5.7-1.4z" fill="#fca214"/><path d="M351.6 255.9l5.7 1.3 2.6-4.3-5.7-1.2z" fill="#fca214"/><path d="M356.4 257l5.7 1.3 2.6-4.3-5.7-1.3z" fill="#fca214"/><path d="M361.2 258.1l5.7 1.4 2.6-4.3-5.7-1.4z" fill="#fca214"/><path d="M366 259.2l5.7 1.4 2.6-4.3-5.7-1.4z" fill="#fca114"/><path d="M370.8 260.4l5.6 1.6 2.6-4.4-5.6-1.5z" fill="#fca014"/><path d="M375.6 261.7l5.5 1.7 2.6-4.3-5.5-1.7z" fill="#fca014"/><path d="M380.3 263.2l5.4 1.9 2.6-4.4-5.4-1.9z" fill="#fca014"/><path d="M384.9 264.8l5.4 2.1 2.6-4.5-5.4-2z" fill="#fca014"/><path d="M389.5 266.6l5.3 2.2 2.6-4.5-5.3-2.2z" fill="#fca214"/><path d="M394.1 268.5l5.2 2.4 2.6-4.6-5.3-2.3z" fill="#fca314"/><path d="M398.5 270.5l5.2 2.6 2.5-4.6-5.1-2.5z" fill="#fca514"/><path d="M402.9 272.7l5.1 2.8 2.5-4.7-5-2.7z" fill="#fca714"/><path d="M407.2 275.1l4.9 3 2.6-4.8-4.9-2.9z" fill="#fca914"/><path d="M411.4 277.6l4.8 3.3 2.5-4.9-4.7-3.1z" fill="#fcad14"/><path d="M415.5 280.4l4.6 3.5 2.6-5-4.7-3.4z" fill="#fcb114"/><path d="M419.5 283.4l4.5 3.7 2.6-5.2-4.6-3.5z" fill="#fcb714"/><path d="M423.4 286.5l4.4 3.9 2.6-5.3-4.5-3.7z" fill="#fcc014"/><path d="M427.2 289.9l4.6 3.7 2.5-5.4-4.6-3.6z" fill="#fcca14"/><path d="M431.1 293.1l4.7 3.4 2.6-5.4-4.8-3.4z" fill="#fcd514"/><path d="M435.1 296.1l4.9 3.2 2.5-5.5-4.8-3.2z" fill="#fcdf14"/><path d="M315.3 243.5l5.7 1.2 3-3.9-5.7-1.2z" fill="#fc9314"/><path d="M320.1 244.6l5.7 1.2 3-4-5.7-1.2z" fill="#fc9414"/><path d="M324.9 245.6l5.7 1.2 3-4-5.7-1.2z" fill="#fc9514"/><path d="M329.8 246.6l5.6 1.3 2.9-4-5.6-1.3z" fill="#fc9514"/><path d="M334.6 247.7l5.6 1.4 2.9-4-5.6-1.4z" fill="#fc9614"/><path d="M339.3 248.9l5.7 1.4 2.9-4.1-5.7-1.4z" fill="#fc9614"/><path d="M344.1 250.1l5.7 1.4 2.9-4.1-5.7-1.4z" fill="#fc9714"/><path d="M348.9 251.3l5.7 1.3 2.9-4.1-5.7-1.3z" fill="#fc9714"/><path d="M353.7 252.4l5.7 1.3 2.9-4.2-5.7-1.2z" fill="#fc9714"/><path d="M358.5 253.5l5.7 1.3 2.9-4.2-5.7-1.3z" fill="#fc9714"/><path d="M363.4 254.6l5.6 1.3 2.9-4.2-5.7-1.3z" fill="#fc9614"/><path d="M368.2 255.7l5.6 1.4 2.8-4.2-5.6-1.4z" fill="#fc9514"/><path d="M373 256.8l5.6 1.6 2.8-4.3-5.6-1.4z" fill="#fc9514"/><path d="M377.7 258.1l5.5 1.7 2.8-4.3-5.5-1.6z" fill="#fc9414"/><path d="M382.4 259.5l5.5 1.9 2.8-4.3-5.5-1.8z" fill="#fc9414"/><path d="M387.1 261.1l5.3 2.1 2.8-4.4-5.4-2z" fill="#fc9514"/><path d="M391.7 262.8l5.3 2.2 2.7-4.3-5.3-2.2z" fill="#fc9614"/><path d="M396.2 264.7l5.2 2.3 2.8-4.4-5.3-2.3z" fill="#fc9814"/><path d="M400.7 266.7l5.1 2.5 2.8-4.5-5.2-2.4z" fill="#fc9914"/><path d="M405.1 268.8l5 2.7 2.7-4.6-5-2.6z" fill="#fc9b14"/><path d="M409.4 271.1l4.9 2.9 2.7-4.7-4.9-2.8z" fill="#fc9d14"/><path d="M413.5 273.6l4.8 3.2 2.7-4.8-4.7-3.1z" fill="#fca114"/><path d="M417.6 276.3l4.7 3.4 2.7-5-4.7-3.2z" fill="#fca614"/><path d="M421.6 279.2l4.6 3.5 2.7-5-4.6-3.5z" fill="#fcac14"/><path d="M425.5 282.2l4.5 3.7 2.8-5.2-4.5-3.6z" fill="#fcb514"/><path d="M429.4 285.4l4.5 3.6 2.8-5.3-4.6-3.5z" fill="#fcbf14"/><path d="M433.3 288.5l4.7 3.3 2.8-5.3-4.8-3.3z" fill="#fcc914"/><path d="M437.3 291.4l4.9 3.1 2.7-5.4-4.8-3.1z" fill="#fcd114"/><path d="M317.7 240.4l5.7 1.2 3.2-3.8-5.8-1.2z" fill="#fc8914"/><path d="M322.5 241.4l5.7 1.1 3.1-3.8-5.7-1.1z" fill="#fc8a14"/><path d="M327.3 242.3l5.7 1.3 3.1-3.9-5.7-1.2z" fill="#fc8a14"/><path d="M332.1 243.4l5.7 1.2 3.1-3.8-5.7-1.3z" fill="#fc8b14"/><path d="M336.9 244.4l5.7 1.4 3.1-3.9-5.7-1.3z" fill="#fc8b14"/><path d="M341.7 245.6l5.6 1.4 3.1-4-5.6-1.3z" fill="#fc8c14"/><path d="M346.4 246.7l5.7 1.4 3.1-3.9-5.7-1.4z" fill="#fc8c14"/><path d="M351.2 247.9l5.7 1.3 3.1-4-5.7-1.3z" fill="#fc8c14"/><path d="M356 249l5.7 1.3 3.1-4-5.7-1.3z" fill="#fc8c14"/><path d="M360.8 250.1l5.7 1.3 3.1-4.1-5.7-1.2z" fill="#fc8b14"/><path d="M365.6 251.2l5.7 1.3 3.1-4.1-5.7-1.3z" fill="#fc8b14"/><path d="M370.4 252.3l5.7 1.3 3-4.1-5.6-1.3z" fill="#fc8a14"/><path d="M375.2 253.4l5.7 1.5 3-4.1-5.7-1.5z" fill="#fc8914"/><path d="M380 254.6l5.5 1.7 3-4.1-5.5-1.7z" fill="#fc8814"/><path d="M384.7 256l5.5 1.8 2.9-4.1-5.4-1.8z" fill="#fc8914"/><path d="M389.3 257.5l5.4 2 3-4.2-5.4-1.9z" fill="#fc8914"/><path d="M393.9 259.2l5.4 2.2 2.9-4.3-5.3-2.1z" fill="#fc8b14"/><path d="M398.5 261l5.2 2.3 2.9-4.3-5.2-2.2z" fill="#fc8c14"/><path d="M402.9 263l5.2 2.4 2.9-4.4-5.1-2.3z" fill="#fc8e14"/><path d="M407.3 265l5.1 2.6 2.9-4.4-5-2.6z" fill="#fc9014"/><path d="M411.6 267.2l5 2.9 2.9-4.6-4.9-2.7z" fill="#fc9214"/><path d="M415.8 269.6l4.8 3.1 2.9-4.7-4.8-2.9z" fill="#fc9514"/><path d="M419.9 272.2l4.7 3.3 2.9-4.8-4.7-3.1z" fill="#fc9a14"/><path d="M423.9 275l4.6 3.4 2.9-5-4.6-3.2z" fill="#fca114"/><path d="M427.8 277.9l4.6 3.6 2.9-5.1-4.5-3.5z" fill="#fca914"/><path d="M431.7 281l4.6 3.4 2.9-5.2-4.6-3.3z" fill="#fcb314"/><path d="M435.6 283.9l4.8 3.3 2.9-5.3-4.8-3.1z" fill="#fcbb14"/><path d="M439.7 286.7l4.8 3.1 2.9-5.3-4.8-3z" fill="#fcc314"/><path d="M320.2 237.4l5.7 1.1 3.3-3.6-5.7-1.1z" fill="#fb8013"/><path d="M325 238.3l5.7 1.1 3.3-3.6-5.7-1.1z" fill="#fb8013"/><path d="M329.8 239.3l5.7 1.1 3.3-3.7-5.7-1.1z" fill="#fb8013"/><path d="M334.6 240.2l5.7 1.3 3.3-3.8-5.7-1.2z" fill="#fb8013"/><path d="M339.4 241.3l5.7 1.3 3.2-3.8-5.7-1.3z" fill="#fb8013"/><path d="M344.2 242.4l5.6 1.3 3.3-3.8-5.7-1.3z" fill="#fb8113"/><path d="M348.9 243.5l5.7 1.4 3.2-3.9-5.6-1.3z" fill="#fb8113"/><path d="M353.7 244.7l5.7 1.3 3.2-3.9-5.7-1.3z" fill="#fb8113"/><path d="M358.5 245.8l5.7 1.2 3.2-3.9-5.7-1.2z" fill="#fb8013"/><path d="M363.3 246.8l5.7 1.3 3.2-3.9-5.7-1.3z" fill="#fb8013"/><path d="M368.1 247.9l5.7 1.3 3.2-4-5.7-1.2z" fill="#fb7f13"/><path d="M372.9 249l5.7 1.3 3.1-4-5.6-1.3z" fill="#fb7f13"/><path d="M377.7 250.1l5.6 1.4 3.1-4-5.6-1.4z" fill="#fb7e13"/><path d="M382.4 251.3l5.6 1.6 3.1-4.1-5.5-1.5z" fill="#fb7e13"/><path d="M387.1 252.6l5.5 1.8 3.1-4.1-5.5-1.7z" fill="#fb7e13"/><path d="M391.8 254.1l5.4 1.9 3.1-4.1-5.4-1.9z" fill="#fb7f13"/><path d="M396.4 255.7l5.3 2.1 3.1-4.2-5.4-2z" fill="#fb8013"/><path d="M400.9 257.5l5.3 2.2 3-4.3-5.2-2.1z" fill="#fb8113"/><path d="M405.4 259.4l5.1 2.3 3.1-4.3-5.2-2.3z" fill="#fb8313"/><path d="M409.8 261.3l5 2.6 3.1-4.5-5.1-2.4z" fill="#fb8514"/><path d="M414.1 263.5l4.9 2.7 3-4.5-4.9-2.6z" fill="#fb8714"/><path d="M418.3 265.8l4.8 2.9 3-4.6-4.8-2.8z" fill="#fc8b14"/><path d="M422.4 268.3l4.7 3.1 3-4.8-4.7-3z" fill="#fc9014"/><path d="M426.4 270.9l4.6 3.3 3-5-4.6-3.1z" fill="#fc9714"/><path d="M430.3 273.7l4.6 3.4 3-5.1-4.6-3.2z" fill="#fc9e14"/><path d="M434.2 276.6l4.6 3.4 3-5.2-4.6-3.2z" fill="#fca614"/><path d="M438.1 279.5l4.8 3.1 3-5.3-4.8-3z" fill="#fcae14"/><path d="M442.2 282.2l4.8 3 3.1-5.4-4.9-2.9z" fill="#fcb514"/><path d="M322.8 234.5l5.8 1.1 3.4-3.6-5.8-1z" fill="#fb7813"/><path d="M327.6 235.4l5.8 1.1 3.3-3.6-5.7-1z" fill="#fb7713"/><path d="M332.4 236.3l5.8 1.2 3.3-3.7-5.7-1.1z" fill="#fb7713"/><path d="M337.2 237.3l5.7 1.2 3.4-3.7-5.8-1.2z" fill="#fb7613"/><path d="M342 238.3l5.7 1.2 3.3-3.7-5.7-1.2z" fill="#fa7613"/><path d="M346.8 239.3l5.7 1.4 3.3-3.8-5.7-1.3z" fill="#fa7613"/><path d="M351.5 240.4l5.7 1.4 3.3-3.8-5.7-1.3z" fill="#fa7613"/><path d="M356.3 241.6l5.7 1.2 3.3-3.8-5.7-1.2z" fill="#fa7613"/><path d="M361.1 242.6l5.7 1.3 3.3-3.9-5.7-1.2z" fill="#fa7613"/><path d="M365.9 243.7l5.7 1.2 3.2-3.9-5.7-1.2z" fill="#fa7513"/><path d="M370.7 244.7l5.7 1.3 3.2-3.9-5.7-1.3z" fill="#fa7513"/><path d="M375.5 245.7l5.6 1.3 3.3-3.9-5.7-1.2z" fill="#fa7413"/><path d="M380.2 246.8l5.7 1.4 3.2-3.9-5.7-1.4z" fill="#fa7413"/><path d="M385 248l5.5 1.6 3.2-4-5.5-1.5z" fill="#fa7413"/><path d="M389.7 249.3l5.5 1.7 3.1-4-5.5-1.7z" fill="#fa7413"/><path d="M394.3 250.7l5.4 1.9 3.2-4.1-5.4-1.8z" fill="#fa7513"/><path d="M398.9 252.3l5.3 2 3.2-4.1-5.4-2z" fill="#fa7613"/><path d="M403.4 254l5.3 2.1 3.1-4.2-5.3-2z" fill="#fb7713"/><path d="M407.9 255.8l5.2 2.3 3.1-4.3-5.2-2.2z" fill="#fb7913"/><path d="M412.3 257.7l5.1 2.4 3.1-4.4-5.1-2.3z" fill="#fb7b13"/><path d="M416.6 259.8l5 2.6 3-4.5-4.9-2.5z" fill="#fb7d13"/><path d="M420.8 262l4.8 2.8 3.1-4.7-4.8-2.6z" fill="#fb8113"/><path d="M424.9 264.3l4.8 3 3-4.8-4.7-2.8z" fill="#fb8614"/><path d="M429 266.8l4.6 3.2 3.1-4.9-4.7-3z" fill="#fc8c14"/><path d="M432.9 269.5l4.5 3.3 3.1-5.1-4.5-3.1z" fill="#fc9314"/><path d="M436.8 272.3l4.6 3.2 3.1-5.2-4.7-3.1z" fill="#fc9a14"/><path d="M440.7 275l4.8 3.1 3.1-5.3-4.8-2.9z" fill="#fca114"/><path d="M444.8 277.6l4.8 2.9 3.1-5.4-4.9-2.8z" fill="#fca814"/><path d="M325.5 231.7l5.8 1.1 3.5-3.5-5.8-1z" fill="#fa6f13"/><path d="M330.3 232.6l5.8 1 3.4-3.5-5.8-1z" fill="#fa6e13"/><path d="M335.1 233.4l5.7 1.1 3.5-3.5-5.8-1.1z" fill="#fa6d13"/><path d="M339.9 234.3l5.7 1.2 3.4-3.6-5.7-1.1z" fill="#fa6d13"/><path d="M344.6 235.3l5.8 1.3 3.4-3.7-5.7-1.2z" fill="#fa6c13"/><path d="M349.4 236.3l5.7 1.3 3.4-3.7-5.7-1.2z" fill="#fa6c13"/><path d="M354.2 237.4l5.7 1.3 3.3-3.7-5.6-1.3z" fill="#fa6c13"/><path d="M358.9 238.5l5.8 1.2 3.3-3.7-5.7-1.2z" fill="#fa6c13"/><path d="M363.7 239.5l5.7 1.2 3.4-3.7-5.7-1.2z" fill="#fa6c13"/><path d="M368.5 240.5l5.7 1.3 3.3-3.8-5.7-1.2z" fill="#fa6b12"/><path d="M373.3 241.6l5.7 1.2 3.3-3.8-5.7-1.2z" fill="#fa6b12"/><path d="M378.1 242.6l5.7 1.2 3.2-3.8-5.6-1.2z" fill="#fa6b12"/><path d="M382.8 243.6l5.7 1.4 3.2-3.9-5.6-1.3z" fill="#fa6b12"/><path d="M387.6 244.8l5.5 1.5 3.3-4-5.6-1.4z" fill="#fa6b12"/><path d="M392.3 246l5.5 1.7 3.2-4-5.5-1.6z" fill="#fa6b12"/><path d="M396.9 247.4l5.4 1.8 3.2-4-5.4-1.8z" fill="#fa6c13"/><path d="M401.5 248.9l5.3 2 3.2-4.2-5.3-1.8z" fill="#fa6d13"/><path d="M406 250.6l5.3 2 3.2-4.2-5.3-2z" fill="#fa6e13"/><path d="M410.5 252.3l5.2 2.2 3.1-4.3-5.1-2.1z" fill="#fa7013"/><path d="M414.9 254.1l5.1 2.3 3.1-4.3-5.1-2.3z" fill="#fa7213"/><path d="M419.2 256.1l5 2.5 3.1-4.5-5-2.4z" fill="#fa7413"/><path d="M423.4 258.2l4.9 2.6 3.1-4.6-4.9-2.5z" fill="#fb7813"/><path d="M427.5 260.4l4.8 2.8 3.1-4.7-4.8-2.7z" fill="#fb7c13"/><path d="M431.6 262.8l4.6 3 3.1-4.9-4.6-2.8z" fill="#fb8213"/><path d="M435.5 265.3l4.6 3.1 3.1-5-4.6-3z" fill="#fb8814"/><path d="M439.4 268l4.6 3 3.2-5.2-4.7-2.9z" fill="#fc8f14"/><path d="M443.3 270.6l4.8 2.9 3.2-5.3-4.9-2.8z" fill="#fc9514"/><path d="M447.4 273.1l4.9 2.8 3.1-5.4-4.9-2.7z" fill="#fc9b14"/><path d="M328.2 229l5.8 1 3.6-3.4-5.8-1z" fill="#fa6712"/><path d="M333 229.8l5.8 1 3.6-3.4-5.8-1z" fill="#fa6612"/><path d="M337.8 230.7l5.8 1 3.6-3.5-5.8-1z" fill="#f96412"/><path d="M342.6 231.5l5.7 1.1 3.6-3.5-5.8-1.1z" fill="#f96312"/><path d="M347.3 232.4l5.8 1.2 3.5-3.6-5.7-1.1z" fill="#f96312"/><path d="M352.1 233.4l5.7 1.3 3.5-3.6-5.7-1.3z" fill="#f96212"/><path d="M356.9 234.4l5.7 1.3 3.5-3.6-5.7-1.3z" fill="#f96212"/><path d="M361.6 235.5l5.8 1.2 3.4-3.6-5.7-1.2z" fill="#f96212"/><path d="M366.4 236.5l5.7 1.2 3.5-3.7-5.7-1.1z" fill="#f96212"/><path d="M371.2 237.5l5.7 1.2 3.5-3.7-5.8-1.2z" fill="#f96212"/><path d="M375.9 238.5l5.8 1.2 3.4-3.8-5.7-1.1z" fill="#f96212"/><path d="M380.7 239.5l5.7 1.2 3.4-3.8-5.7-1.2z" fill="#f96212"/><path d="M385.5 240.5l5.6 1.3 3.4-3.8-5.6-1.3z" fill="#f96212"/><path d="M390.2 241.6l5.6 1.4 3.4-3.8-5.6-1.4z" fill="#f96212"/><path d="M394.9 242.8l5.5 1.6 3.4-3.9-5.5-1.5z" fill="#f96212"/><path d="M399.5 244.1l5.5 1.8 3.3-4-5.4-1.6z" fill="#f96312"/><path d="M404.1 245.6l5.4 1.8 3.3-4-5.4-1.7z" fill="#f96412"/><path d="M408.6 247.1l5.3 2 3.3-4.1-5.3-1.9z" fill="#fa6512"/><path d="M413.1 248.8l5.2 2.1 3.3-4.2-5.2-2z" fill="#fa6712"/><path d="M417.5 250.5l5.1 2.2 3.3-4.2-5.1-2.1z" fill="#fa6912"/><path d="M421.8 252.4l5 2.4 3.3-4.4-5-2.2z" fill="#fa6c13"/><path d="M426 254.4l4.9 2.5 3.3-4.5-4.9-2.4z" fill="#fa6f13"/><path d="M430.2 256.5l4.7 2.7 3.3-4.6-4.8-2.6z" fill="#fa7313"/><path d="M434.2 258.8l4.7 2.8 3.2-4.8-4.7-2.6z" fill="#fb7813"/><path d="M438.2 261.1l4.6 3 3.2-4.9-4.6-2.8z" fill="#fb7d13"/><path d="M442 263.6l4.7 2.9 3.3-5-4.7-2.8z" fill="#fb8313"/><path d="M446 266.1l4.8 2.8 3.3-5.1-4.8-2.7z" fill="#fc8a14"/><path d="M450.1 268.5l4.9 2.7 3.2-5.3-4.9-2.5z" fill="#fc9014"/><path d="M331 226.4l5.9 .9 3.7-3.4-5.8-.9z" fill="#f95f12"/><path d="M335.8 227.1l5.8 1 3.8-3.4-5.9-.9z" fill="#f95d12"/><path d="M340.6 227.9l5.8 1 3.7-3.4-5.8-1z" fill="#f95b12"/><path d="M345.4 228.7l5.8 1.1 3.7-3.5-5.8-1z" fill="#f95a12"/><path d="M350.1 229.6l5.8 1.2 3.7-3.5-5.8-1.2z" fill="#f95a12"/><path d="M354.9 230.6l5.7 1.2 3.7-3.6-5.7-1.1z" fill="#f95912"/><path d="M359.7 231.6l5.7 1.2 3.6-3.6-5.7-1.2z" fill="#f95912"/><path d="M364.4 232.6l5.8 1.2 3.6-3.6-5.8-1.2z" fill="#f95912"/><path d="M369.2 233.6l5.7 1.1 3.6-3.6-5.7-1.1z" fill="#f95912"/><path d="M373.9 234.5l5.8 1.2 3.6-3.6-5.8-1.2z" fill="#f95a12"/><path d="M378.7 235.5l5.7 1.2 3.6-3.7-5.7-1.1z" fill="#f95a12"/><path d="M383.5 236.5l5.7 1.2 3.5-3.7-5.7-1.2z" fill="#f95a12"/><path d="M388.2 237.4l5.7 1.3 3.5-3.7-5.6-1.2z" fill="#f95a12"/><path d="M392.9 238.5l5.6 1.4 3.6-3.7-5.6-1.4z" fill="#f95a12"/><path d="M397.6 239.7l5.5 1.5 3.5-3.8-5.5-1.5z" fill="#f95b12"/><path d="M402.3 240.9l5.4 1.7 3.5-3.8-5.5-1.6z" fill="#f95b12"/><path d="M406.8 242.3l5.4 1.8 3.5-3.9-5.4-1.7z" fill="#f95c12"/><path d="M411.4 243.8l5.3 1.9 3.4-3.9-5.3-1.8z" fill="#f95e12"/><path d="M415.8 245.4l5.3 2 3.4-4-5.2-1.9z" fill="#f95f12"/><path d="M420.2 247.1l5.2 2.1 3.4-4.1-5.1-2.1z" fill="#f96112"/><path d="M424.6 248.8l5 2.3 3.4-4.3-5-2.1z" fill="#f96412"/><path d="M428.8 250.7l4.9 2.4 3.4-4.3-4.9-2.3z" fill="#fa6712"/><path d="M432.9 252.7l4.8 2.5 3.4-4.4-4.8-2.4z" fill="#fa6a12"/><path d="M436.9 254.8l4.8 2.7 3.3-4.6-4.7-2.5z" fill="#fa6f13"/><path d="M440.9 257.1l4.6 2.8 3.4-4.8-4.6-2.6z" fill="#fa7413"/><path d="M444.8 259.4l4.7 2.8 3.4-4.9-4.7-2.6z" fill="#fb7913"/><path d="M448.8 261.8l4.8 2.7 3.4-5.1-4.8-2.5z" fill="#fb7f13"/><path d="M452.9 264.1l4.9 2.5 3.4-5.1-4.9-2.5z" fill="#fb8514"/><path d="M333.9 223.8l5.9 .9 3.9-3.4-5.9-.8z" fill="#f95612"/><path d="M338.7 224.5l5.9 .9 3.8-3.4-5.8-.8z" fill="#f95412"/><path d="M343.5 225.2l5.8 1 3.9-3.4-5.9-.9z" fill="#f85211"/><path d="M348.3 226l5.8 1 3.8-3.4-5.8-1z" fill="#f85111"/><path d="M353 226.8l5.8 1.2 3.8-3.5-5.8-1.1z" fill="#f85111"/><path d="M357.8 227.8l5.8 1.1 3.7-3.4-5.7-1.2z" fill="#f85111"/><path d="M362.5 228.7l5.8 1.2 3.7-3.4-5.7-1.2z" fill="#f85111"/><path d="M367.3 229.7l5.7 1.2 3.8-3.5-5.8-1.1z" fill="#f85111"/><path d="M372 230.7l5.8 1.1 3.7-3.5-5.7-1.1z" fill="#f85111"/><path d="M376.8 231.6l5.8 1.2 3.7-3.6-5.8-1.1z" fill="#f85211"/><path d="M381.5 232.6l5.8 1.1 3.7-3.5-5.7-1.2z" fill="#f85211"/><path d="M386.3 233.5l5.7 1.2 3.7-3.6-5.7-1.1z" fill="#f85211"/><path d="M391 234.5l5.7 1.2 3.7-3.6-5.7-1.2z" fill="#f85211"/><path d="M395.8 235.5l5.6 1.4 3.6-3.7-5.6-1.3z" fill="#f95312"/><path d="M400.4 236.6l5.6 1.5 3.6-3.6-5.5-1.5z" fill="#f95312"/><path d="M405.1 237.9l5.4 1.6 3.7-3.7-5.5-1.6z" fill="#f95412"/><path d="M409.6 239.2l5.5 1.7 3.5-3.7-5.4-1.7z" fill="#f95512"/><path d="M414.2 240.6l5.3 1.8 3.6-3.8-5.4-1.7z" fill="#f95612"/><path d="M418.6 242.1l5.3 1.9 3.6-3.9-5.3-1.8z" fill="#f95812"/><path d="M423.1 243.7l5.1 2 3.6-4-5.2-1.9z" fill="#f95a12"/><path d="M427.4 245.4l5 2.1 3.5-4.1-5-2z" fill="#f95c12"/><path d="M431.6 247.2l4.9 2.2 3.5-4.2-4.9-2.1z" fill="#f95f12"/><path d="M435.7 249.1l4.9 2.3 3.5-4.3-4.9-2.2z" fill="#f96212"/><path d="M439.8 251l4.7 2.5 3.6-4.5-4.8-2.3z" fill="#fa6612"/><path d="M443.8 253.1l4.6 2.7 3.6-4.7-4.7-2.4z" fill="#fa6a12"/><path d="M447.7 255.3l4.7 2.7 3.5-4.8-4.7-2.5z" fill="#fa7013"/><path d="M451.7 257.6l4.8 2.5 3.5-4.9-4.8-2.4z" fill="#fa7513"/><path d="M455.8 259.7l4.9 2.5 3.5-5-4.9-2.3z" fill="#fb7b13"/><path d="M336.9 221.2l5.9 .9 4-3.3-5.9-.8z" fill="#f84e11"/><path d="M341.7 221.9l5.9 .9 3.9-3.3-5.9-.8z" fill="#f84b11"/><path d="M346.5 222.6l5.8 .9 4-3.3-5.9-.9z" fill="#f84911"/><path d="M351.3 223.3l5.8 1 3.9-3.3-5.8-1z" fill="#f84911"/><path d="M356 224.1l5.8 1.1 3.9-3.3-5.8-1.1z" fill="#f84811"/><path d="M360.8 225l5.8 1.2 3.8-3.4-5.8-1.1z" fill="#f84911"/><path d="M365.5 226l5.8 1.2 3.8-3.5-5.8-1.1z" fill="#f84911"/><path d="M370.3 227l5.7 1.1 3.8-3.4-5.7-1.2z" fill="#f84a11"/><path d="M375 227.9l5.8 1.1 3.8-3.4-5.8-1.1z" fill="#f84a11"/><path d="M379.7 228.8l5.8 1.2 3.8-3.5-5.8-1.1z" fill="#f84a11"/><path d="M384.5 229.8l5.8 1.1 3.7-3.5-5.7-1.1z" fill="#f84b11"/><path d="M389.2 230.7l5.8 1.1 3.7-3.5-5.7-1.1z" fill="#f84b11"/><path d="M394 231.6l5.7 1.2 3.7-3.5-5.7-1.2z" fill="#f84c11"/><path d="M398.7 232.6l5.6 1.3 3.7-3.6-5.6-1.2z" fill="#f84c11"/><path d="M403.4 233.7l5.5 1.5 3.7-3.7-5.6-1.4z" fill="#f84d11"/><path d="M408 234.9l5.5 1.6 3.6-3.7-5.4-1.5z" fill="#f84e11"/><path d="M412.6 236.2l5.4 1.6 3.6-3.7-5.4-1.6z" fill="#f84f11"/><path d="M417.1 237.5l5.4 1.8 3.6-3.8-5.4-1.7z" fill="#f85011"/><path d="M421.6 239l5.3 1.8 3.5-3.9-5.2-1.7z" fill="#f85111"/><path d="M426 240.5l5.2 1.9 3.5-4-5.1-1.8z" fill="#f95312"/><path d="M430.3 242.1l5.1 2 3.5-4.1-5-1.9z" fill="#f95512"/><path d="M434.6 243.8l4.9 2.1 3.5-4.3-4.9-1.9z" fill="#f95812"/><path d="M438.7 245.5l4.8 2.3 3.6-4.4-4.9-2.1z" fill="#f95b12"/><path d="M442.8 247.4l4.7 2.3 3.6-4.5-4.8-2.2z" fill="#f95e12"/><path d="M446.8 249.3l4.6 2.5 3.6-4.7-4.7-2.3z" fill="#f96212"/><path d="M450.7 251.4l4.7 2.5 3.6-4.9-4.8-2.3z" fill="#fa6712"/><path d="M454.7 253.5l4.8 2.4 3.6-4.9-4.9-2.3z" fill="#fa6c13"/><path d="M458.8 255.6l4.9 2.3 3.5-5-4.9-2.3z" fill="#fa7213"/><path d="M339.9 218.7l6 .9 4-3.1-5.9-.8z" fill="#f84611"/><path d="M344.7 219.4l5.9 .8 4.1-3.1-5.9-.8z" fill="#f84311"/><path d="M349.5 220.1l5.9 .8 4-3.2-5.9-.8z" fill="#f84111"/><path d="M354.3 220.7l5.8 1 4-3.2-5.9-.9z" fill="#f84111"/><path d="M359 221.5l5.9 1.1 3.9-3.3-5.8-1z" fill="#f84111"/><path d="M363.8 222.4l5.8 1.1 3.9-3.3-5.8-1.1z" fill="#f84211"/><path d="M368.5 223.3l5.8 1.1 3.9-3.3-5.8-1.1z" fill="#f84211"/><path d="M373.3 224.2l5.7 1.2 3.9-3.4-5.8-1.1z" fill="#f84311"/><path d="M378 225.2l5.8 1.1 3.8-3.4-5.8-1.1z" fill="#f84311"/><path d="M382.7 226.1l5.8 1.1 3.8-3.4-5.7-1.1z" fill="#f84411"/><path d="M387.5 227l5.7 1.1 3.9-3.5-5.8-1z" fill="#f84411"/><path d="M392.2 227.9l5.8 1.1 3.8-3.5-5.8-1z" fill="#f84511"/><path d="M397 228.8l5.7 1.2 3.7-3.5-5.7-1.2z" fill="#f84511"/><path d="M401.7 229.8l5.6 1.2 3.7-3.5-5.6-1.2z" fill="#f84611"/><path d="M406.3 230.8l5.6 1.4 3.7-3.6-5.6-1.3z" fill="#f84711"/><path d="M411 231.9l5.5 1.5 3.6-3.6-5.5-1.4z" fill="#f84811"/><path d="M415.5 233.2l5.5 1.6 3.6-3.8-5.4-1.5z" fill="#f84911"/><path d="M420.1 234.5l5.3 1.6 3.7-3.8-5.4-1.5z" fill="#f84a11"/><path d="M424.5 235.8l5.3 1.8 3.6-3.9-5.2-1.7z" fill="#f84b11"/><path d="M428.9 237.3l5.2 1.8 3.6-4-5.1-1.7z" fill="#f84d11"/><path d="M433.3 238.8l5 1.9 3.6-4.2-5-1.7z" fill="#f84f11"/><path d="M437.5 240.3l5 2 3.6-4.2-5-1.9z" fill="#f85111"/><path d="M441.7 242l4.8 2.1 3.6-4.5-4.9-1.9z" fill="#f95312"/><path d="M445.7 243.7l4.8 2.2 3.6-4.6-4.8-2z" fill="#f95612"/><path d="M449.8 245.5l4.7 2.3 3.5-4.7-4.7-2.1z" fill="#f95a12"/><path d="M453.7 247.4l4.8 2.3 3.5-4.8-4.8-2.2z" fill="#f95e12"/><path d="M457.7 249.4l4.9 2.3 3.5-5-4.9-2.2z" fill="#f96412"/><path d="M461.8 251.3l5 2.3 3.5-5.1-4.9-2.1z" fill="#fa6a12"/><path d="M343 216.4l6 .8 4.2-3-6-.7z" fill="#f73d11"/><path d="M347.7 217l6 .8 4.2-3-6-.7z" fill="#f73b11"/><path d="M352.5 217.6l6 .9 4.1-3.1-5.9-.7z" fill="#f73a11"/><path d="M357.3 218.3l5.9 .9 4.1-3.1-5.9-.8z" fill="#f73a11"/><path d="M362.1 219l5.8 1 4.1-3.1-5.9-1z" fill="#f73b11"/><path d="M366.8 219.8l5.8 1.1 4.1-3.2-5.9-1z" fill="#f73b11"/><path d="M371.6 220.7l5.8 1.1 3.9-3.2-5.7-1.1z" fill="#f73c11"/><path d="M376.3 221.6l5.8 1.1 3.9-3.2-5.8-1.1z" fill="#f73c11"/><path d="M381 222.5l5.8 1.1 4-3.3-5.8-1z" fill="#f73d11"/><path d="M385.7 223.4l5.8 1.1 4-3.3-5.8-1.1z" fill="#f73e11"/><path d="M390.5 224.3l5.8 1.1 3.9-3.4-5.8-1z" fill="#f73e11"/><path d="M395.2 225.2l5.8 1 3.9-3.4-5.8-1z" fill="#f73f11"/><path d="M399.9 226l5.8 1.2 3.8-3.5-5.7-1.1z" fill="#f74011"/><path d="M404.6 226.9l5.7 1.3 3.8-3.5-5.6-1.2z" fill="#f74011"/><path d="M409.3 227.9l5.6 1.4 3.8-3.6-5.6-1.2z" fill="#f84111"/><path d="M413.9 229l5.5 1.5 3.8-3.7-5.5-1.3z" fill="#f84211"/><path d="M418.5 230.2l5.4 1.5 3.8-3.7-5.5-1.4z" fill="#f84311"/><path d="M423 231.4l5.4 1.6 3.7-3.8-5.4-1.5z" fill="#f84411"/><path d="M427.5 232.7l5.3 1.6 3.7-3.9-5.3-1.5z" fill="#f84511"/><path d="M431.9 234.1l5.2 1.6 3.7-4-5.2-1.5z" fill="#f84711"/><path d="M436.3 235.4l5 1.8 3.7-4.1-5.1-1.6z" fill="#f84811"/><path d="M440.5 236.9l5 1.8 3.6-4.2-5-1.7z" fill="#f84a11"/><path d="M444.6 238.4l5 1.9 3.6-4.4-4.9-1.7z" fill="#f84d11"/><path d="M448.7 240l4.9 2 3.6-4.6-4.9-1.8z" fill="#f84f11"/><path d="M452.8 241.7l4.7 2.1 3.6-4.8-4.7-1.9z" fill="#f95312"/><path d="M456.7 243.4l4.8 2.2 3.6-5-4.8-1.9z" fill="#f95812"/><path d="M460.7 245.2l4.9 2.2 3.6-5-4.9-2.1z" fill="#f95d12"/><path d="M464.9 247.1l4.9 2.1 3.6-5.1-5-2.1z" fill="#f96312"/><path d="M346.1 214.2l6 .8 4.4-2.8-6-.6z" fill="#f73610"/><path d="M350.8 214.8l6.1 .7 4.4-2.8-6.1-.6z" fill="#f73410"/><path d="M355.6 215.4l6 .7 4.4-2.8-6.1-.7z" fill="#f73510"/><path d="M360.4 216l5.9 .8 4.3-2.9-5.9-.8z" fill="#f73510"/><path d="M365.1 216.6l6 1 4.2-3-5.9-.9z" fill="#f73610"/><path d="M369.9 217.4l5.9 1 4.2-3-5.9-1z" fill="#f73610"/><path d="M374.6 218.2l5.9 1.1 4.1-3-5.8-1.1z" fill="#f73610"/><path d="M379.3 219.1l5.9 1.1 4.1-3.1-5.8-1z" fill="#f73710"/><path d="M384.1 220l5.8 1 4.1-3.1-5.8-1z" fill="#f73810"/><path d="M388.8 220.8l5.8 1.1 4.1-3.2-5.8-1z" fill="#f73810"/><path d="M393.5 221.7l5.8 1 4.1-3.2-5.8-1z" fill="#f73910"/><path d="M398.2 222.5l5.8 1 4.1-3.3-5.8-.9z" fill="#f73a11"/><path d="M403 223.3l5.7 1.1 4-3.3-5.7-1z" fill="#f73b11"/><path d="M407.7 224.2l5.6 1.2 4-3.4-5.7-1.1z" fill="#f73c11"/><path d="M412.3 225.1l5.6 1.3 4-3.5-5.7-1.1z" fill="#f73c11"/><path d="M416.9 226.2l5.6 1.3 3.9-3.5-5.6-1.3z" fill="#f73d11"/><path d="M421.5 227.3l5.5 1.4 3.8-3.7-5.4-1.3z" fill="#f73e11"/><path d="M426 228.4l5.4 1.5 3.9-3.7-5.4-1.4z" fill="#f73e11"/><path d="M430.5 229.6l5.3 1.5 3.8-3.8-5.3-1.4z" fill="#f73f11"/><path d="M434.9 230.9l5.3 1.5 3.7-3.9-5.2-1.4z" fill="#f84111"/><path d="M439.3 232.1l5.1 1.7 3.7-4.1-5.1-1.5z" fill="#f84311"/><path d="M443.5 233.5l5 1.6 3.8-4.2-5.1-1.5z" fill="#f84511"/><path d="M447.7 234.9l4.9 1.7 3.7-4.4-4.9-1.6z" fill="#f84711"/><path d="M451.8 236.3l4.8 1.8 3.7-4.6-4.8-1.6z" fill="#f84a11"/><path d="M455.8 237.8l4.8 1.9 3.7-4.7-4.8-1.8z" fill="#f84d11"/><path d="M459.8 239.4l4.8 1.9 3.7-4.9-4.8-1.7z" fill="#f85111"/><path d="M463.8 241l4.9 2.1 3.7-5.1-4.9-1.9z" fill="#f95612"/><path d="M467.9 242.7l5 2.1 3.7-5.2-5-1.9z" fill="#f95c12"/><path d="M349.3 212.2l6.1 .7 4.6-2.3-6.1-.6z" fill="#f73010"/><path d="M354.1 212.7l6 .7 4.6-2.4-6.1-.6z" fill="#f73010"/><path d="M358.8 213.2l6.1 .8 4.5-2.5-6-.7z" fill="#f73110"/><path d="M363.5 213.8l6.1 .8 4.5-2.6-6-.7z" fill="#f73110"/><path d="M368.2 214.4l6.1 .9 4.5-2.6-6-.8z" fill="#f73110"/><path d="M373 215.1l6 1 4.5-2.7-6-.9z" fill="#f73110"/><path d="M377.7 215.9l6 1 4.4-2.7-5.9-1z" fill="#f73210"/><path d="M382.4 216.7l6 1.1 4.4-2.8-6-1z" fill="#f73210"/><path d="M387.1 217.6l6 1 4.3-2.9-5.9-.9z" fill="#f73310"/><path d="M391.9 218.4l5.9 1 4.3-2.9-5.9-1z" fill="#f73410"/><path d="M396.6 219.2l5.9 1 4.3-3-5.9-.9z" fill="#f73510"/><path d="M401.3 220l5.9 .9 4.2-3-5.8-.9z" fill="#f73610"/><path d="M406 220.7l5.8 1.1 4.3-3.1-5.8-1z" fill="#f73710"/><path d="M410.7 221.6l5.8 1.1 4.1-3.2-5.7-1z" fill="#f73710"/><path d="M415.4 222.5l5.7 1.1 4.1-3.2-5.7-1.1z" fill="#f73810"/><path d="M420 223.4l5.6 1.3 4.1-3.4-5.6-1.2z" fill="#f73810"/><path d="M424.6 224.4l5.5 1.3 4-3.4-5.5-1.2z" fill="#f73910"/><path d="M429.1 225.5l5.4 1.3 4.1-3.5-5.5-1.3z" fill="#f73910"/><path d="M433.6 226.6l5.3 1.4 4-3.7-5.4-1.3z" fill="#f73a11"/><path d="M438 227.7l5.3 1.5 3.9-3.9-5.3-1.2z" fill="#f73c11"/><path d="M442.3 228.9l5.2 1.5 3.9-4-5.2-1.3z" fill="#f73e11"/><path d="M446.6 230.1l5 1.5 3.9-4.1-5-1.3z" fill="#f74011"/><path d="M450.8 231.3l4.9 1.6 3.9-4.3-5-1.4z" fill="#f84211"/><path d="M454.9 232.6l4.9 1.6 3.8-4.5-4.9-1.4z" fill="#f84511"/><path d="M458.9 233.9l4.8 1.7 3.9-4.6-4.9-1.5z" fill="#f84711"/><path d="M462.9 235.3l4.9 1.8 3.8-4.8-4.9-1.6z" fill="#f84b11"/><path d="M466.9 236.8l5 1.9 3.8-5-4.9-1.7z" fill="#f84f11"/><path d="M471.1 238.4l5 1.9 3.8-5.1-5-1.7z" fill="#f95512"/><path d="M352.8 210.6l6 .7 4.7-2.2-6.1-.5z" fill="#f62d10"/><path d="M357.5 211l6 .7 4.7-2.2-6.1-.6z" fill="#f62d10"/><path d="M362.2 211.5l6 .7 4.7-2.3-6-.6z" fill="#f62d10"/><path d="M366.9 211.9l6 .8 4.7-2.4-6-.6z" fill="#f62e10"/><path d="M371.6 212.5l6 .9 4.6-2.5-5.9-.8z" fill="#f62e10"/><path d="M376.3 213.1l6 1 4.6-2.6-6-.8z" fill="#f62d10"/><path d="M381 213.8l6 1.1 4.6-2.6-6-1z" fill="#f62e10"/><path d="M385.7 214.6l6 1 4.5-2.6-5.9-.9z" fill="#f62f10"/><path d="M390.4 215.4l6 1 4.5-2.7-6-.9z" fill="#f73010"/><path d="M395.1 216.2l6 .9 4.4-2.8-5.9-.8z" fill="#f73110"/><path d="M399.8 216.9l6 1 4.4-2.9-5.9-.8z" fill="#f73210"/><path d="M404.5 217.7l6 .9 4.3-2.9-5.9-.9z" fill="#f73210"/><path d="M409.2 218.4l5.9 1 4.3-3.1-5.8-.8z" fill="#f73310"/><path d="M413.9 219.2l5.8 1 4.3-3.1-5.8-.9z" fill="#f73410"/><path d="M418.6 220l5.7 1 4.2-3.1-5.7-1z" fill="#f73410"/><path d="M423.2 220.8l5.6 1.2 4.2-3.3-5.6-1z" fill="#f73410"/><path d="M427.8 221.7l5.5 1.2 4.2-3.3-5.6-1.1z" fill="#f73410"/><path d="M432.3 222.7l5.5 1.3 4.1-3.6-5.5-1z" fill="#f73510"/><path d="M436.8 223.7l5.4 1.3 4-3.7-5.4-1.1z" fill="#f73610"/><path d="M441.2 224.7l5.3 1.3 4-3.7-5.3-1.2z" fill="#f73810"/><path d="M445.5 225.8l5.2 1.3 4-3.9-5.2-1.2z" fill="#f73a11"/><path d="M449.8 226.8l5.1 1.4 4-4.1-5.1-1.2z" fill="#f73c11"/><path d="M454 227.9l5 1.4 3.9-4.3-5-1.2z" fill="#f73e11"/><path d="M458.1 229l4.9 1.4 4-4.4-5-1.2z" fill="#f74011"/><path d="M462.1 230.2l4.9 1.5 3.9-4.7-4.9-1.3z" fill="#f84211"/><path d="M466.1 231.4l4.9 1.6 3.9-4.9-4.9-1.4z" fill="#f84411"/><path d="M470.2 232.7l5 1.7 3.8-5-4.9-1.5z" fill="#f84811"/><path d="M474.3 234.2l5 1.7 3.9-5.1-5-1.6z" fill="#f84d11"/></g>
<g opacity="0.14">
<polyline points="295.4,284.4 297.3,280.7 299.3,277.0 301.2,273.2 303.1,269.4 305.0,265.6 307.0,261.8 308.9,258.1 310.8,254.4 312.8,250.9 314.8,247.5 316.8,244.4 318.9,241.6 321.0,239.0 323.1,236.5 325.2,234.2 327.4,232.0 329.6,229.9 331.8,227.8 333.9,225.8 336.1,223.8 338.3,221.9 340.6,220.1 342.8,218.3 345.0,216.6 347.3,215.0 349.5,213.5 351.8,212.2 354.2,211.0 356.5,210.1 358.8,209.1" fill="none" stroke="#222" stroke-width="0.45" />
<polyline points="301.8,286.5 303.8,282.7 305.7,278.9 307.6,275.0 309.5,271.2 311.4,267.3 313.3,263.4 315.3,259.6 317.2,255.9 319.1,252.3 321.1,248.9 323.1,245.8 325.2,242.9 327.3,240.2 329.4,237.8 331.6,235.4 333.7,233.2 335.9,231.0 338.1,228.8 340.2,226.8 342.4,224.8 344.6,222.9 346.8,221.0 349.1,219.2 351.3,217.4 353.5,215.8 355.8,214.3 358.1,212.9 360.4,211.6 362.7,210.6 365.1,209.6" fill="none" stroke="#222" stroke-width="0.45" />
<polyline points="306.8,288.0 308.7,284.2 310.7,280.3 312.6,276.5 314.5,272.6 316.4,268.6 318.3,264.7 320.2,260.8 322.1,257.1 324.1,253.5 326.1,250.0 328.1,246.8 330.1,243.9 332.2,241.2 334.3,238.8 336.5,236.4 338.6,234.1 340.8,231.8 342.9,229.7 345.1,227.6 347.3,225.6 349.5,223.6 351.7,221.7 353.9,219.9 356.2,218.1 358.4,216.4 360.7,214.8 362.9,213.4 365.2,212.1 367.6,211.0 369.9,209.9" fill="none" stroke="#222" stroke-width="0.45" />
<polyline points="310.9,289.4 312.8,285.5 314.7,281.6 316.6,277.7 318.5,273.7 320.4,269.8 322.3,265.8 324.2,261.9 326.2,258.1 328.1,254.4 330.1,250.9 332.1,247.7 334.1,244.8 336.2,242.1 338.3,239.6 340.5,237.2 342.6,234.9 344.8,232.6 346.9,230.4 349.1,228.3 351.3,226.3 353.5,224.3 355.7,222.4 357.9,220.5 360.1,218.7 362.4,217.0 364.6,215.4 366.9,213.9 369.2,212.6 371.5,211.4 373.8,210.3" fill="none" stroke="#222" stroke-width="0.45" />
<polyline points="314.4,290.5 316.3,286.6 318.2,282.7 320.1,278.7 322.0,274.8 323.8,270.7 325.7,266.7 327.6,262.8 329.6,259.0 331.5,255.3 333.5,251.8 335.5,248.6 337.5,245.6 339.6,242.9 341.7,240.4 343.8,237.9 346.0,235.6 348.1,233.3 350.3,231.1 352.5,228.9 354.6,226.9 356.8,224.9 359.0,223.0 361.2,221.1 363.5,219.2 365.7,217.5 367.9,215.9 370.2,214.4 372.5,213.0 374.8,211.8 377.1,210.7" fill="none" stroke="#222" stroke-width="0.45" />
<polyline points="317.3,291.5 319.2,287.6 321.1,283.6 323.0,279.6 324.9,275.6 326.8,271.6 328.7,267.6 330.6,263.6 332.5,259.7 334.4,256.0 336.4,252.5 338.4,249.3 340.4,246.3 342.5,243.6 344.6,241.0 346.8,238.6 348.9,236.2 351.0,233.9 353.2,231.7 355.4,229.5 357.5,227.4 359.7,225.4 361.9,223.5 364.1,221.6 366.4,219.7 368.6,218.0 370.8,216.3 373.1,214.8 375.4,213.4 377.7,212.2 380.0,211.0" fill="none" stroke="#222" stroke-width="0.45" />
<polyline points="320.0,292.4 321.9,288.4 323.7,284.5 325.6,280.5 327.5,276.5 329.4,272.4 331.3,268.3 333.2,264.3 335.1,260.4 337.0,256.7 339.0,253.2 341.0,249.9 343.0,246.9 345.1,244.2 347.2,241.6 349.3,239.2 351.5,236.8 353.6,234.5 355.8,232.2 357.9,230.0 360.1,228.0 362.3,225.9 364.5,224.0 366.7,222.1 368.9,220.2 371.1,218.4 373.4,216.8 375.6,215.2 377.9,213.8 380.2,212.6 382.5,211.3" fill="none" stroke="#222" stroke-width="0.45" />
<polyline points="322.3,293.2 324.2,289.2 326.1,285.2 328.0,281.2 329.9,277.2 331.7,273.1 333.6,269.0 335.5,264.9 337.4,261.0 339.3,257.3 341.3,253.8 343.3,250.5 345.3,247.5 347.4,244.8 349.5,242.2 351.6,239.7 353.8,237.3 355.9,235.0 358.1,232.7 360.2,230.5 362.4,228.4 364.6,226.4 366.8,224.4 369.0,222.5 371.2,220.6 373.4,218.8 375.6,217.2 377.9,215.6 380.2,214.1 382.5,212.9 384.8,211.7" fill="none" stroke="#222" stroke-width="0.45" />
<polyline points="337.8,298.0 339.7,293.8 341.6,289.7 343.4,285.6 345.3,281.5 347.1,277.3 349.0,273.0 350.8,268.9 352.7,264.8 354.6,261.0 356.5,257.4 358.5,254.1 360.5,251.1 362.6,248.3 364.7,245.6 366.8,243.1 368.9,240.6 371.0,238.2 373.1,235.9 375.3,233.6 377.4,231.5 379.6,229.4 381.8,227.4 384.0,225.4 386.2,223.5 388.4,221.6 390.6,219.9 392.8,218.2 395.0,216.6 397.3,215.3 399.6,213.9" fill="none" stroke="#222" stroke-width="0.45" />
<polyline points="346.9,300.7 348.8,296.5 350.6,292.3 352.5,288.1 354.3,283.9 356.1,279.7 358.0,275.4 359.8,271.1 361.7,267.0 363.5,263.1 365.5,259.5 367.4,256.2 369.5,253.1 371.5,250.3 373.6,247.6 375.7,245.0 377.8,242.5 379.9,240.1 382.0,237.7 384.1,235.4 386.3,233.2 388.4,231.2 390.6,229.1 392.7,227.1 394.9,225.1 397.1,223.2 399.3,221.4 401.5,219.7 403.7,218.1 406.0,216.6 408.3,215.2" fill="none" stroke="#222" stroke-width="0.45" />
<polyline points="353.4,302.8 355.2,298.5 357.0,294.3 358.9,290.1 360.7,285.8 362.5,281.5 364.3,277.2 366.2,272.8 368.0,268.7 369.9,264.7 371.8,261.1 373.8,257.7 375.8,254.6 377.8,251.7 379.9,249.1 381.9,246.5 384.0,243.9 386.1,241.4 388.2,239.0 390.4,236.7 392.5,234.5 394.7,232.4 396.8,230.4 399.0,228.3 401.1,226.3 403.3,224.4 405.5,222.5 407.7,220.7 409.9,219.0 412.2,217.5 414.4,216.0" fill="none" stroke="#222" stroke-width="0.45" />
<polyline points="358.3,304.6 360.1,300.3 362.0,296.0 363.8,291.7 365.6,287.5 367.4,283.1 369.2,278.7 371.1,274.3 372.9,270.1 374.8,266.1 376.7,262.4 378.6,259.1 380.6,255.9 382.7,253.0 384.7,250.3 386.8,247.7 388.9,245.1 391.0,242.6 393.1,240.2 395.2,237.8 397.3,235.6 399.5,233.5 401.6,231.4 403.8,229.3 406.0,227.3 408.1,225.3 410.3,223.4 412.5,221.6 414.7,219.9 416.9,218.3 419.2,216.7" fill="none" stroke="#222" stroke-width="0.45" />
<polyline points="362.3,306.3 364.2,302.0 366.0,297.6 367.8,293.3 369.6,289.0 371.4,284.6 373.2,280.1 375.0,275.7 376.9,271.4 378.7,267.4 380.6,263.7 382.6,260.3 384.6,257.1 386.6,254.2 388.7,251.5 390.8,248.8 392.8,246.2 394.9,243.7 397.0,241.2 399.1,238.8 401.3,236.6 403.4,234.4 405.6,232.3 407.7,230.2 409.9,228.2 412.0,226.1 414.2,224.2 416.4,222.3 418.6,220.6 420.8,219.0 423.1,217.4" fill="none" stroke="#222" stroke-width="0.45" />
<polyline points="365.7,307.9 367.5,303.5 369.4,299.1 371.2,294.7 373.0,290.4 374.8,285.9 376.6,281.4 378.4,276.9 380.2,272.6 382.1,268.6 384.0,264.9 385.9,261.4 387.9,258.3 390.0,255.3 392.0,252.6 394.1,249.9 396.2,247.2 398.2,244.6 400.3,242.1 402.5,239.7 404.6,237.5 406.7,235.3 408.9,233.2 411.0,231.0 413.2,228.9 415.3,226.9 417.5,224.9 419.7,223.0 421.9,221.2 424.1,219.6 426.4,217.9" fill="none" stroke="#222" stroke-width="0.45" />
<polyline points="368.6,309.3 370.4,304.9 372.3,300.5 374.1,296.1 375.9,291.7 377.7,287.2 379.5,282.7 381.3,278.1 383.1,273.8 385.0,269.7 386.9,266.0 388.8,262.5 390.8,259.3 392.8,256.3 394.9,253.5 397.0,250.8 399.0,248.1 401.1,245.5 403.2,243.0 405.3,240.6 407.4,238.3 409.6,236.1 411.7,233.9 413.9,231.8 416.0,229.7 418.2,227.6 420.4,225.6 422.6,223.6 424.8,221.8 427.0,220.1 429.2,218.4" fill="none" stroke="#222" stroke-width="0.45" />
<polyline points="371.2,310.7 373.0,306.2 374.8,301.8 376.6,297.3 378.4,292.9 380.2,288.4 382.0,283.8 383.8,279.2 385.6,274.9 387.5,270.8 389.4,267.0 391.4,263.5 393.3,260.3 395.4,257.3 397.4,254.5 399.5,251.7 401.6,249.0 403.6,246.4 405.7,243.8 407.8,241.4 410.0,239.0 412.1,236.8 414.3,234.6 416.4,232.5 418.6,230.3 420.7,228.2 422.9,226.2 425.1,224.2 427.3,222.3 429.5,220.6 431.7,218.9" fill="none" stroke="#222" stroke-width="0.45" />
<polyline points="373.5,311.9 375.3,307.4 377.1,302.9 378.9,298.5 380.7,294.0 382.5,289.5 384.3,284.9 386.1,280.2 387.9,275.8 389.8,271.7 391.7,267.9 393.6,264.4 395.6,261.1 397.6,258.1 399.7,255.3 401.7,252.5 403.8,249.8 405.9,247.1 408.0,244.5 410.1,242.1 412.2,239.7 414.4,237.5 416.5,235.3 418.7,233.1 420.8,230.9 423.0,228.8 425.1,226.7 427.3,224.7 429.5,222.8 431.7,221.1 433.9,219.3" fill="none" stroke="#222" stroke-width="0.45" />
<polyline points="388.3,321.7 390.1,316.9 391.9,312.1 393.7,307.4 395.5,302.7 397.3,297.9 399.0,293.1 400.8,288.1 402.6,283.5 404.5,279.1 406.4,275.1 408.3,271.4 410.3,268.0 412.4,264.8 414.4,261.7 416.5,258.8 418.5,255.8 420.6,252.9 422.7,250.2 424.8,247.5 427.0,245.0 429.1,242.6 431.2,240.2 433.4,237.8 435.6,235.4 437.7,233.0 439.9,230.7 442.0,228.5 444.2,226.4 446.4,224.3 448.6,222.3" fill="none" stroke="#222" stroke-width="0.45" />
<polyline points="396.7,329.2 398.4,324.2 400.3,319.2 402.1,314.3 403.9,309.4 405.7,304.4 407.4,299.3 409.2,294.2 411.0,289.3 412.9,284.8 414.8,280.6 416.8,276.7 418.8,273.1 420.8,269.7 422.9,266.5 424.9,263.4 427.0,260.3 429.1,257.2 431.2,254.2 433.3,251.4 435.5,248.7 437.6,246.1 439.8,243.6 441.9,241.0 444.1,238.4 446.3,235.9 448.4,233.4 450.6,231.0 452.8,228.6 455.0,226.4 457.2,224.1" fill="none" stroke="#222" stroke-width="0.45" />
<polyline points="402.5,335.3 404.3,330.2 406.1,325.0 407.9,320.0 409.7,314.9 411.5,309.7 413.3,304.5 415.1,299.1 416.9,294.1 418.8,289.4 420.7,285.1 422.7,281.0 424.7,277.3 426.7,273.7 428.8,270.4 430.9,267.1 433.0,263.8 435.1,260.6 437.2,257.5 439.3,254.5 441.5,251.7 443.6,249.0 445.8,246.2 448.0,243.5 450.1,240.8 452.3,238.1 454.5,235.5 456.7,232.9 458.9,230.4 461.1,227.9 463.3,225.5" fill="none" stroke="#222" stroke-width="0.45" />
<polyline points="406.9,340.5 408.7,335.2 410.5,329.9 412.4,324.7 414.2,319.5 416.0,314.2 417.8,308.8 419.6,303.3 421.4,298.1 423.3,293.3 425.2,288.8 427.2,284.7 429.2,280.8 431.3,277.1 433.4,273.7 435.5,270.2 437.6,266.8 439.7,263.5 441.8,260.2 443.9,257.1 446.1,254.2 448.3,251.3 450.4,248.5 452.6,245.7 454.8,242.8 457.0,240.0 459.2,237.2 461.4,234.5 463.6,231.8 465.8,229.2 468.0,226.7" fill="none" stroke="#222" stroke-width="0.45" />
<polyline points="410.5,344.9 412.4,339.5 414.2,334.1 416.0,328.7 417.8,323.4 419.6,318.0 421.4,312.4 423.2,306.8 425.1,301.5 427.0,296.6 428.9,292.0 430.9,287.8 432.9,283.8 435.0,280.0 437.1,276.5 439.2,272.9 441.3,269.4 443.4,265.9 445.5,262.6 447.7,259.4 449.8,256.3 452.0,253.4 454.2,250.4 456.4,247.5 458.6,244.6 460.8,241.6 463.0,238.7 465.2,235.9 467.4,233.1 469.6,230.4 471.8,227.7" fill="none" stroke="#222" stroke-width="0.45" />
<polyline points="413.6,348.3 415.5,342.8 417.3,337.3 419.1,331.9 421.0,326.5 422.8,321.0 424.6,315.3 426.4,309.6 428.2,304.2 430.1,299.2 432.0,294.5 434.0,290.2 436.1,286.1 438.1,282.3 440.2,278.7 442.3,275.1 444.5,271.5 446.6,267.9 448.7,264.5 450.8,261.2 453.0,258.1 455.2,255.1 457.4,252.1 459.6,249.0 461.8,246.0 464.0,243.0 466.2,240.0 468.4,237.1 470.6,234.2 472.8,231.4 475.1,228.6" fill="none" stroke="#222" stroke-width="0.45" />
<polyline points="416.4,350.9 418.2,345.3 420.0,339.8 421.9,334.3 423.7,328.9 425.5,323.3 427.3,317.6 429.1,311.7 430.9,306.3 432.8,301.2 434.8,296.5 436.8,292.2 438.8,288.0 440.9,284.2 443.0,280.5 445.1,276.8 447.2,273.2 449.3,269.6 451.5,266.1 453.6,262.7 455.8,259.5 458.0,256.5 460.2,253.4 462.4,250.4 464.6,247.3 466.8,244.2 469.0,241.2 471.2,238.2 473.4,235.2 475.6,232.4 477.8,229.5" fill="none" stroke="#222" stroke-width="0.45" />
<polyline points="418.8,353.1 420.6,347.4 422.5,341.8 424.3,336.3 426.1,330.8 427.9,325.2 429.7,319.4 431.5,313.5 433.4,308.0 435.3,302.9 437.2,298.2 439.2,293.8 441.3,289.6 443.3,285.7 445.4,282.0 447.5,278.2 449.7,274.6 451.8,270.9 453.9,267.4 456.1,264.0 458.2,260.8 460.4,257.7 462.6,254.6 464.8,251.5 467.0,248.4 469.2,245.2 471.4,242.1 473.6,239.1 475.9,236.1 478.1,233.2 480.3,230.3" fill="none" stroke="#222" stroke-width="0.45" />
<polyline points="297.2,277.8 300.5,278.8 303.8,279.8 307.1,280.7 310.3,281.7 313.6,282.7 316.9,283.8 320.1,284.8 323.4,285.9 326.7,286.9 329.9,287.9 333.2,288.9 336.5,289.9 339.8,290.8 343.1,291.7 346.4,292.6 349.6,293.6 352.9,294.6 356.2,295.6 359.4,296.8 362.7,298.0 365.9,299.3 369.1,300.7 372.3,302.3 375.5,303.9 378.7,305.6 381.8,307.5 384.9,309.4 388.1,311.4 391.2,313.6 394.2,316.0 397.3,318.6 400.3,321.4 403.2,324.4 406.2,327.5 409.1,330.7 412.0,334.2 415.0,337.4 418.0,340.3 421.0,343.0 424.0,345.5" fill="none" stroke="#222" stroke-width="0.45" />
<polyline points="300.4,271.6 303.7,272.5 307.0,273.4 310.3,274.3 313.5,275.3 316.8,276.2 320.0,277.2 323.3,278.2 326.6,279.2 329.8,280.2 333.1,281.2 336.4,282.1 339.6,283.0 342.9,283.9 346.2,284.8 349.5,285.7 352.7,286.6 356.0,287.6 359.2,288.6 362.5,289.7 365.7,290.8 368.9,292.1 372.1,293.5 375.3,294.9 378.5,296.5 381.7,298.2 384.8,299.9 387.9,301.8 391.1,303.7 394.2,305.8 397.2,308.1 400.3,310.5 403.3,313.2 406.3,316.0 409.2,319.0 412.2,322.1 415.1,325.4 418.0,328.4 421.0,331.2 424.0,333.8 427.1,336.2" fill="none" stroke="#222" stroke-width="0.45" />
<polyline points="303.6,265.2 306.9,266.1 310.2,266.9 313.4,267.8 316.7,268.7 319.9,269.6 323.2,270.5 326.5,271.5 329.7,272.5 333.0,273.4 336.2,274.4 339.5,275.3 342.7,276.1 346.0,277.0 349.3,277.8 352.5,278.7 355.8,279.6 359.0,280.5 362.3,281.4 365.5,282.5 368.8,283.6 372.0,284.8 375.2,286.1 378.3,287.5 381.5,289.0 384.7,290.6 387.8,292.3 390.9,294.0 394.1,295.9 397.2,297.9 400.2,300.0 403.3,302.4 406.3,304.9 409.3,307.6 412.2,310.4 415.2,313.4 418.1,316.5 421.1,319.4 424.1,322.1 427.1,324.5 430.1,326.9" fill="none" stroke="#222" stroke-width="0.45" />
<polyline points="306.9,258.9 310.1,259.8 313.4,260.6 316.6,261.4 319.9,262.2 323.1,263.0 326.4,263.9 329.6,264.8 332.8,265.7 336.1,266.6 339.3,267.5 342.6,268.3 345.8,269.2 349.1,270.0 352.3,270.8 355.6,271.6 358.8,272.4 362.1,273.3 365.3,274.2 368.5,275.1 371.8,276.2 375.0,277.3 378.2,278.6 381.3,279.9 384.5,281.3 387.6,282.8 390.8,284.4 393.9,286.1 397.0,287.8 400.1,289.7 403.2,291.7 406.2,294.0 409.2,296.4 412.2,298.9 415.2,301.5 418.2,304.3 421.1,307.2 424.1,310.0 427.1,312.5 430.1,314.9 433.1,317.1" fill="none" stroke="#222" stroke-width="0.45" />
<polyline points="310.1,252.9 313.3,253.7 316.6,254.4 319.8,255.2 323.1,255.9 326.3,256.7 329.6,257.5 332.8,258.4 336.0,259.2 339.2,260.1 342.5,260.9 345.7,261.7 349.0,262.5 352.2,263.3 355.4,264.0 358.7,264.8 361.9,265.6 365.2,266.4 368.4,267.3 371.6,268.2 374.8,269.2 378.0,270.3 381.2,271.4 384.4,272.7 387.5,274.0 390.7,275.4 393.8,276.9 396.9,278.5 400.0,280.1 403.1,281.9 406.2,283.9 409.2,286.0 412.3,288.2 415.3,290.6 418.2,293.1 421.2,295.7 424.1,298.4 427.1,301.1 430.1,303.5 433.1,305.7 436.2,307.8" fill="none" stroke="#222" stroke-width="0.45" />
<polyline points="313.4,247.2 316.6,247.9 319.9,248.6 323.1,249.3 326.4,250.1 329.6,250.8 332.8,251.6 336.0,252.4 339.3,253.2 342.5,254.1 345.7,254.9 348.9,255.7 352.2,256.4 355.4,257.2 358.7,257.9 361.9,258.6 365.1,259.4 368.3,260.2 371.6,261.0 374.8,261.9 378.0,262.9 381.2,263.9 384.4,265.0 387.5,266.2 390.7,267.5 393.8,268.9 397.0,270.3 400.1,271.8 403.2,273.4 406.3,275.1 409.3,276.9 412.4,278.9 415.4,281.0 418.4,283.3 421.4,285.6 424.4,288.1 427.4,290.7 430.3,293.2 433.3,295.5 436.4,297.6 439.4,299.7" fill="none" stroke="#222" stroke-width="0.45" />
<polyline points="316.8,242.2 320.0,242.9 323.3,243.6 326.5,244.3 329.7,244.9 333.0,245.7 336.2,246.4 339.4,247.2 342.6,248.0 345.9,248.8 349.1,249.6 352.3,250.4 355.5,251.1 358.7,251.8 362.0,252.5 365.2,253.3 368.4,254.0 371.6,254.8 374.9,255.6 378.1,256.4 381.3,257.4 384.5,258.4 387.6,259.4 390.8,260.6 394.0,261.8 397.1,263.1 400.2,264.5 403.3,265.9 406.5,267.4 409.6,269.1 412.6,270.8 415.7,272.7 418.7,274.7 421.7,276.8 424.7,279.1 427.7,281.4 430.7,283.9 433.7,286.2 436.7,288.4 439.7,290.4 442.8,292.4" fill="none" stroke="#222" stroke-width="0.45" />
<polyline points="320.3,237.8 323.5,238.5 326.8,239.1 330.0,239.8 333.2,240.4 336.4,241.1 339.7,241.8 342.9,242.6 346.1,243.4 349.3,244.1 352.5,244.9 355.7,245.7 358.9,246.4 362.2,247.1 365.4,247.8 368.6,248.5 371.8,249.3 375.0,250.0 378.3,250.8 381.5,251.6 384.7,252.5 387.8,253.5 391.0,254.5 394.2,255.6 397.3,256.8 400.5,258.0 403.6,259.3 406.7,260.7 409.8,262.1 412.9,263.7 416.0,265.3 419.1,267.1 422.1,269.0 425.1,271.0 428.2,273.1 431.2,275.3 434.1,277.7 437.1,279.9 440.1,282.0 443.2,283.9 446.2,285.8" fill="none" stroke="#222" stroke-width="0.45" />
<polyline points="323.9,234.0 327.1,234.6 330.3,235.2 333.6,235.8 336.8,236.4 340.0,237.1 343.2,237.8 346.4,238.5 349.6,239.2 352.8,240.0 356.0,240.7 359.2,241.5 362.5,242.2 365.7,242.9 368.9,243.5 372.1,244.2 375.3,244.9 378.5,245.7 381.7,246.4 384.9,247.2 388.1,248.1 391.3,249.0 394.5,250.0 397.6,251.0 400.8,252.2 403.9,253.3 407.0,254.6 410.2,255.9 413.3,257.3 416.4,258.7 419.4,260.3 422.5,261.9 425.6,263.7 428.6,265.6 431.6,267.6 434.6,269.6 437.6,271.8 440.6,273.9 443.6,275.9 446.7,277.7 449.7,279.5" fill="none" stroke="#222" stroke-width="0.45" />
<polyline points="327.5,230.3 330.7,230.9 333.9,231.5 337.1,232.0 340.4,232.6 343.6,233.3 346.8,233.9 350.0,234.6 353.2,235.3 356.4,236.0 359.6,236.7 362.8,237.4 366.0,238.1 369.2,238.8 372.4,239.4 375.6,240.1 378.8,240.8 382.0,241.5 385.2,242.2 388.4,243.0 391.6,243.8 394.7,244.7 397.9,245.6 401.1,246.6 404.2,247.7 407.4,248.8 410.5,250.0 413.6,251.2 416.7,252.5 419.8,253.8 422.9,255.3 426.0,256.9 429.0,258.5 432.1,260.3 435.1,262.1 438.1,264.0 441.1,266.1 444.1,268.0 447.2,269.9 450.2,271.6 453.3,273.4" fill="none" stroke="#222" stroke-width="0.45" />
<polyline points="331.1,226.9 334.3,227.4 337.5,227.9 340.8,228.5 344.0,229.0 347.2,229.6 350.4,230.2 353.6,230.9 356.8,231.5 360.0,232.2 363.2,232.9 366.3,233.6 369.5,234.2 372.7,234.9 375.9,235.5 379.1,236.2 382.3,236.8 385.5,237.5 388.7,238.2 391.9,238.9 395.1,239.7 398.2,240.5 401.4,241.4 404.6,242.4 407.7,243.4 410.8,244.4 414.0,245.6 417.1,246.7 420.2,247.9 423.3,249.2 426.4,250.6 429.5,252.0 432.5,253.6 435.6,255.2 438.6,256.9 441.6,258.7 444.7,260.5 447.7,262.4 450.7,264.1 453.8,265.8 456.8,267.4" fill="none" stroke="#222" stroke-width="0.45" />
<polyline points="334.8,223.6 338.0,224.1 341.2,224.6 344.4,225.1 347.6,225.6 350.8,226.2 354.0,226.8 357.2,227.4 360.4,228.0 363.6,228.7 366.8,229.3 369.9,230.0 373.1,230.6 376.3,231.3 379.5,231.9 382.7,232.5 385.9,233.2 389.1,233.8 392.3,234.5 395.5,235.2 398.6,235.9 401.8,236.7 404.9,237.6 408.1,238.5 411.2,239.4 414.4,240.4 417.5,241.5 420.6,242.6 423.7,243.7 426.8,244.9 429.9,246.2 433.0,247.5 436.1,249.0 439.1,250.5 442.2,252.0 445.2,253.7 448.3,255.4 451.3,257.1 454.3,258.8 457.4,260.3 460.4,261.9" fill="none" stroke="#222" stroke-width="0.45" />
<polyline points="338.5,220.5 341.7,221.0 344.9,221.4 348.1,221.9 351.3,222.4 354.5,222.9 357.7,223.5 360.9,224.1 364.0,224.7 367.2,225.3 370.4,226.0 373.6,226.6 376.8,227.3 379.9,227.9 383.1,228.5 386.3,229.1 389.5,229.7 392.7,230.4 395.9,231.0 399.0,231.7 402.2,232.4 405.4,233.2 408.5,234.0 411.7,234.8 414.8,235.7 417.9,236.7 421.1,237.7 424.2,238.7 427.3,239.8 430.4,240.9 433.5,242.1 436.6,243.4 439.7,244.7 442.8,246.1 445.8,247.5 448.9,249.0 451.9,250.6 454.9,252.2 458.0,253.7 461.0,255.2 464.1,256.7" fill="none" stroke="#222" stroke-width="0.45" />
<polyline points="342.2,217.6 345.4,218.0 348.6,218.4 351.8,218.9 355.0,219.3 358.2,219.8 361.4,220.3 364.5,220.9 367.7,221.5 370.9,222.1 374.1,222.7 377.2,223.4 380.4,224.0 383.6,224.6 386.8,225.2 389.9,225.8 393.1,226.4 396.3,227.0 399.5,227.6 402.6,228.2 405.8,228.9 409.0,229.7 412.1,230.4 415.3,231.2 418.4,232.1 421.5,233.0 424.7,233.9 427.8,234.9 430.9,235.9 434.0,236.9 437.1,238.0 440.2,239.2 443.3,240.4 446.4,241.7 449.4,243.0 452.5,244.3 455.5,245.8 458.6,247.2 461.6,248.7 464.7,250.1 467.8,251.4" fill="none" stroke="#222" stroke-width="0.45" />
<polyline points="345.9,214.9 349.1,215.3 352.3,215.7 355.5,216.0 358.7,216.5 361.9,216.9 365.1,217.4 368.2,217.9 371.4,218.5 374.6,219.1 377.7,219.7 380.9,220.3 384.1,220.9 387.2,221.4 390.4,222.0 393.6,222.6 396.8,223.2 399.9,223.7 403.1,224.3 406.3,224.9 409.4,225.6 412.6,226.3 415.7,227.0 418.9,227.7 422.0,228.5 425.1,229.4 428.2,230.2 431.4,231.1 434.5,232.0 437.6,233.0 440.7,234.0 443.8,235.0 446.9,236.1 450.0,237.2 453.1,238.4 456.1,239.6 459.2,240.9 462.2,242.2 465.3,243.6 468.4,244.9 471.4,246.2" fill="none" stroke="#222" stroke-width="0.45" />
<polyline points="349.7,212.5 352.9,212.8 356.1,213.2 359.3,213.5 362.5,213.9 365.6,214.3 368.8,214.8 372.0,215.2 375.2,215.8 378.3,216.3 381.5,216.9 384.6,217.4 387.8,218.0 390.9,218.5 394.1,219.1 397.3,219.6 400.4,220.2 403.6,220.7 406.7,221.2 409.9,221.8 413.1,222.4 416.2,223.1 419.3,223.7 422.5,224.4 425.6,225.1 428.7,225.9 431.9,226.7 435.0,227.5 438.1,228.3 441.2,229.2 444.3,230.1 447.4,231.0 450.5,232.0 453.6,233.0 456.7,234.0 459.8,235.1 462.8,236.2 465.9,237.4 469.0,238.6 472.0,239.8 475.1,241.0" fill="none" stroke="#222" stroke-width="0.45" />
<polyline points="353.6,210.6 356.8,210.9 359.9,211.2 363.1,211.5 366.3,211.8 369.5,212.1 372.6,212.5 375.8,213.0 379.0,213.4 382.1,213.9 385.3,214.4 388.4,215.0 391.5,215.5 394.7,216.0 397.8,216.5 401.0,217.0 404.1,217.5 407.3,218.0 410.4,218.5 413.6,219.0 416.7,219.6 419.9,220.1 423.0,220.7 426.1,221.4 429.3,222.0 432.4,222.7 435.5,223.4 438.6,224.2 441.7,224.9 444.9,225.7 448.0,226.4 451.1,227.2 454.2,228.1 457.3,228.9 460.4,229.8 463.5,230.7 466.5,231.7 469.6,232.7 472.7,233.8 475.7,234.9 478.8,235.9" fill="none" stroke="#222" stroke-width="0.45" />
</g>
<clipPath id="cld"><polygon points="294.0,284.0 295.0,284.3 297.0,284.9 300.0,285.9 304.0,287.1 308.1,288.4 312.3,289.8 316.6,291.2 320.9,292.8 325.3,294.2 329.7,295.6 334.1,296.9 338.4,298.1 342.7,299.4 346.7,300.6 350.6,301.9 354.4,303.1 358.1,304.5 361.9,306.1 365.6,307.8 369.4,309.7 373.1,311.7 376.9,313.9 380.6,316.2 384.4,318.8 388.0,321.4 391.4,324.2 394.7,327.2 397.8,330.3 400.8,333.4 403.6,336.6 406.2,339.7 408.8,342.8 411.2,345.6 413.5,348.1 415.7,350.3 417.8,352.2 419.4,353.6 420.5,354.5 421.0,355.0 421.0,355.0 421.2,354.2 421.8,352.7 422.5,350.3 423.5,347.2 424.6,343.9 425.7,340.5 426.9,336.9 428.1,333.1 429.4,329.1 430.8,324.7 432.2,320.0 433.8,315.0 435.3,310.3 436.8,305.9 438.4,301.9 440.1,298.1 441.8,294.5 443.5,290.9 445.3,287.4 447.2,284.1 449.1,280.7 450.9,277.4 452.8,274.1 454.7,270.9 456.6,267.7 458.6,264.6 460.7,261.5 462.8,258.5 465.0,255.4 467.2,252.3 469.4,249.1 471.6,245.9 473.8,242.8 475.8,239.9 477.8,237.2 479.7,234.8 481.1,232.9 482.0,231.6 482.5,231.0 482.5,231.0 481.7,230.8 480.2,230.2 477.8,229.5 474.7,228.5 471.1,227.5 467.0,226.4 462.5,225.3 457.5,224.2 452.2,223.0 446.6,221.8 440.6,220.6 434.4,219.4 428.1,218.2 421.9,217.2 415.6,216.2 409.4,215.3 403.3,214.4 397.3,213.6 391.6,212.7 385.9,211.8 380.5,211.1 375.2,210.4 370.0,209.9 365.0,209.6 361.2,209.3 358.8,209.1 357.5,209.0 357.5,209.0 357.0,209.2 356.1,209.6 354.7,210.1 352.8,210.9 350.8,211.9 348.6,213.1 346.2,214.6 343.8,216.4 341.1,218.4 338.3,220.6 335.3,223.1 332.2,225.9 329.1,228.7 326.1,231.7 323.2,234.7 320.3,237.8 317.6,241.1 315.1,244.5 312.8,248.1 310.7,251.9 308.6,255.6 306.6,259.4 304.7,263.1 302.8,266.9 301.0,270.4 299.3,273.7 297.8,276.8 296.2,279.7 295.1,281.8 294.4,283.3 294.0,284.0"/></clipPath>
<g clip-path="url(#cld)">
<g opacity="0.25">
<line x1="321.7" y1="312.7" x2="398.8" y2="281.7" stroke="#555" stroke-width="0.60"/>
<line x1="398.8" y1="281.7" x2="486.1" y2="308.7" stroke="#555" stroke-width="0.60"/>
<line x1="320.7" y1="280.8" x2="399.1" y2="256.6" stroke="#555" stroke-width="0.60"/>
<line x1="399.1" y1="256.6" x2="487.1" y2="277.4" stroke="#555" stroke-width="0.60"/>
<line x1="319.6" y1="249.0" x2="399.4" y2="231.5" stroke="#555" stroke-width="0.60"/>
<line x1="399.4" y1="231.5" x2="488.0" y2="246.1" stroke="#555" stroke-width="0.60"/>
<line x1="337.9" y1="336.4" x2="335.1" y2="229.5" stroke="#555" stroke-width="0.60"/>
<line x1="337.9" y1="336.4" x2="427.0" y2="368.9" stroke="#555" stroke-width="0.60"/>
<line x1="353.1" y1="328.9" x2="351.2" y2="226.7" stroke="#555" stroke-width="0.60"/>
<line x1="353.1" y1="328.9" x2="441.6" y2="361.6" stroke="#555" stroke-width="0.60"/>
<line x1="368.2" y1="321.3" x2="367.3" y2="223.9" stroke="#555" stroke-width="0.60"/>
<line x1="368.2" y1="321.3" x2="456.1" y2="354.2" stroke="#555" stroke-width="0.60"/>
<line x1="383.4" y1="313.8" x2="383.4" y2="221.1" stroke="#555" stroke-width="0.60"/>
<line x1="383.4" y1="313.8" x2="470.7" y2="346.9" stroke="#555" stroke-width="0.60"/>
<line x1="441.9" y1="322.9" x2="444.0" y2="224.0" stroke="#555" stroke-width="0.60"/>
<line x1="367.6" y1="360.1" x2="441.9" y2="322.9" stroke="#555" stroke-width="0.60"/>
<line x1="322.8" y1="343.9" x2="319.0" y2="232.3" stroke="#333" stroke-width="0.70"/>
<line x1="319.0" y1="232.3" x2="399.5" y2="218.3" stroke="#333" stroke-width="0.70"/>
<line x1="399.5" y1="218.3" x2="488.5" y2="229.6" stroke="#333" stroke-width="0.70"/>
<line x1="398.5" y1="306.3" x2="399.5" y2="218.3" stroke="#333" stroke-width="0.70"/>
<line x1="322.8" y1="343.9" x2="398.5" y2="306.3" stroke="#333" stroke-width="0.70"/>
<line x1="398.5" y1="306.3" x2="485.2" y2="339.5" stroke="#333" stroke-width="0.70"/>
</g>
</g>
<g opacity="1.00">
<line x1="39.0" y1="545.0" x2="119.0" y2="510.0" stroke="#d4d4d4" stroke-width="0.60"/>
<line x1="119.0" y1="510.0" x2="222.2" y2="542.1" stroke="#d4d4d4" stroke-width="0.60"/>
<line x1="38.0" y1="513.0" x2="121.0" y2="485.0" stroke="#d4d4d4" stroke-width="0.60"/>
<line x1="121.0" y1="485.0" x2="223.5" y2="510.2" stroke="#d4d4d4" stroke-width="0.60"/>
<line x1="37.0" y1="481.0" x2="123.0" y2="460.0" stroke="#d4d4d4" stroke-width="0.60"/>
<line x1="123.0" y1="460.0" x2="224.8" y2="478.4" stroke="#d4d4d4" stroke-width="0.60"/>
<line x1="65.4" y1="563.1" x2="65.4" y2="444.4" stroke="#d4d4d4" stroke-width="0.60"/>
<line x1="65.4" y1="563.1" x2="168.4" y2="600.8" stroke="#d4d4d4" stroke-width="0.60"/>
<line x1="90.8" y1="549.3" x2="94.7" y2="439.8" stroke="#d4d4d4" stroke-width="0.60"/>
<line x1="90.8" y1="549.3" x2="194.3" y2="587.6" stroke="#d4d4d4" stroke-width="0.60"/>
<line x1="137.8" y1="542.8" x2="145.2" y2="437.3" stroke="#d4d4d4" stroke-width="0.60"/>
<line x1="60.5" y1="584.4" x2="137.8" y2="542.8" stroke="#d4d4d4" stroke-width="0.60"/>
<line x1="158.6" y1="550.6" x2="165.4" y2="439.6" stroke="#d4d4d4" stroke-width="0.60"/>
<line x1="81.0" y1="591.8" x2="158.6" y2="550.6" stroke="#d4d4d4" stroke-width="0.60"/>
<line x1="179.4" y1="558.4" x2="185.6" y2="441.9" stroke="#d4d4d4" stroke-width="0.60"/>
<line x1="101.5" y1="599.2" x2="179.4" y2="558.4" stroke="#d4d4d4" stroke-width="0.60"/>
<line x1="200.2" y1="566.2" x2="205.8" y2="444.2" stroke="#d4d4d4" stroke-width="0.60"/>
<line x1="122.0" y1="606.6" x2="200.2" y2="566.2" stroke="#d4d4d4" stroke-width="0.60"/>
<line x1="40.0" y1="577.0" x2="36.0" y2="449.0" stroke="#b0b0b0" stroke-width="0.70"/>
<line x1="36.0" y1="449.0" x2="125.0" y2="435.0" stroke="#b0b0b0" stroke-width="0.70"/>
<line x1="125.0" y1="435.0" x2="226.0" y2="446.5" stroke="#b0b0b0" stroke-width="0.70"/>
<line x1="117.0" y1="535.0" x2="125.0" y2="435.0" stroke="#b0b0b0" stroke-width="0.70"/>
<line x1="40.0" y1="577.0" x2="117.0" y2="535.0" stroke="#b0b0b0" stroke-width="0.70"/>
<line x1="117.0" y1="535.0" x2="221.0" y2="574.0" stroke="#b0b0b0" stroke-width="0.70"/>
</g>
<line x1="40.0" y1="577.0" x2="142.5" y2="614.0" stroke="#555" stroke-width="0.80"/>
<line x1="142.5" y1="614.0" x2="221.0" y2="574.0" stroke="#555" stroke-width="0.80"/>
<line x1="221.0" y1="574.0" x2="226.0" y2="446.5" stroke="#555" stroke-width="0.80"/>
<g stroke="#dcdcdc" stroke-width="0.5">
<line x1="110.0" y1="600" x2="124.0" y2="637"/>
<line x1="113.0" y1="600" x2="102.0" y2="637"/>
<line x1="114.5" y1="600" x2="128.5" y2="637"/>
<line x1="117.5" y1="600" x2="106.5" y2="637"/>
<line x1="119.0" y1="600" x2="133.0" y2="637"/>
<line x1="122.0" y1="600" x2="111.0" y2="637"/>
<line x1="123.5" y1="600" x2="137.5" y2="637"/>
<line x1="126.5" y1="600" x2="115.5" y2="637"/>
<line x1="128.0" y1="600" x2="142.0" y2="637"/>
<line x1="131.0" y1="600" x2="120.0" y2="637"/>
<line x1="132.5" y1="600" x2="146.5" y2="637"/>
<line x1="135.5" y1="600" x2="124.5" y2="637"/>
<line x1="137.0" y1="600" x2="151.0" y2="637"/>
<line x1="140.0" y1="600" x2="129.0" y2="637"/>
<line x1="141.5" y1="600" x2="155.5" y2="637"/>
<line x1="144.5" y1="600" x2="133.5" y2="637"/>
<line x1="146.0" y1="600" x2="160.0" y2="637"/>
<line x1="149.0" y1="600" x2="138.0" y2="637"/>
<line x1="150.5" y1="600" x2="164.5" y2="637"/>
<line x1="153.5" y1="600" x2="142.5" y2="637"/>
<line x1="155.0" y1="600" x2="169.0" y2="637"/>
<line x1="158.0" y1="600" x2="147.0" y2="637"/>
<line x1="159.5" y1="600" x2="173.5" y2="637"/>
<line x1="162.5" y1="600" x2="151.5" y2="637"/>
<line x1="164.0" y1="600" x2="178.0" y2="637"/>
<line x1="167.0" y1="600" x2="156.0" y2="637"/>
</g>
<g><path d="M109.7 602.4l5.3-.4-1.9-5.4-5.5 .3z" fill="#8f35eb"/><path d="M114.1 602.1l5.2-.4-1.5-5.4-5.5 .3z" fill="#9034eb"/><path d="M118.5 601.8l5.2-.4-1.2-5.3-5.6 .3z" fill="#8e35eb"/><path d="M122.8 601.5l5.3-.1-.9-5.2-5.6 0z" fill="#8d35ea"/><path d="M127.2 601.4l5.2 .3-.5-5.2-5.6-.3z" fill="#8d35ea"/><path d="M131.6 601.6l5.2 .5-.3-5-5.5-.7z" fill="#8d35ea"/><path d="M135.9 602l5.2 .9 .1-5-5.5-1z" fill="#8f35eb"/><path d="M140.2 602.7l5.2 .8 .4-4.9-5.5-.9z" fill="#9134eb"/><path d="M144.6 603.4l5.2 .4 .7-4.8-5.5-.5z" fill="#9333eb"/><path d="M148.9 603.8l5.2-.1 1.1-4.7-5.6-.1z" fill="#9034eb"/><path d="M153.3 603.8l5.2-.7 1.4-4.6-5.6 .5z" fill="#8a36ea"/><path d="M157.6 603.2l5.2-.8 1.7-4.6-5.5 .8z" fill="#8439ea"/><path d="M107.9 597.7l5.5-.3-1.9-5.5-5.8 .2z" fill="#823aea"/><path d="M112.5 597.5l5.5-.3-1.6-5.4-5.8 .1z" fill="#8439ea"/><path d="M117.2 597.2l5.5-.2-1.4-5.4-5.8 .2z" fill="#8339ea"/><path d="M121.8 597l5.5 0-1.1-5.2-5.8-.2z" fill="#8239ea"/><path d="M126.5 597l5.5 .4-.8-5.2-5.8-.5z" fill="#8239ea"/><path d="M131.1 597.3l5.5 .6-.5-5.1-5.8-.7z" fill="#8339ea"/><path d="M135.7 597.8l5.5 .9-.3-5-5.7-1z" fill="#8638ea"/><path d="M140.3 598.6l5.5 .8 0-4.9-5.7-1z" fill="#8837ea"/><path d="M144.9 599.3l5.5 .5 .3-4.8-5.7-.7z" fill="#8a37ea"/><path d="M149.6 599.8l5.4 0 .6-4.7-5.7-.2z" fill="#8837ea"/><path d="M154.2 599.9l5.4-.6 .9-4.6-5.7 .4z" fill="#8239ea"/><path d="M158.8 599.4l5.4-.7 1.2-4.5-5.7 .6z" fill="#7c3ce9"/><path d="M106 592.9l5.8-.2-2-5.5-6.1 0z" fill="#6f40e9"/><path d="M110.9 592.8l5.7-.2-1.7-5.5-6 .1z" fill="#733fe9"/><path d="M115.8 592.6l5.7-.1-1.5-5.4-6 0z" fill="#743fe9"/><path d="M120.7 592.5l5.7 .1-1.2-5.3-6-.2z" fill="#753ee9"/><path d="M125.6 592.6l5.7 .4-1-5.2-6-.5z" fill="#763ee9"/><path d="M130.4 592.9l5.8 .8-.7-5.2-6-.8z" fill="#783de9"/><path d="M135.3 593.5l5.7 1-.5-5.1-5.9-1z" fill="#7a3de9"/><path d="M140.1 594.4l5.7 .9-.2-5-5.9-1z" fill="#7c3ce9"/><path d="M145 595.2l5.7 .6 0-4.8-5.9-.8z" fill="#7e3be9"/><path d="M149.8 595.8l5.8 .2 .3-4.8-6-.3z" fill="#7d3be9"/><path d="M154.7 596l5.7-.5 .6-4.6-6 .3z" fill="#793de9"/><path d="M159.5 595.6l5.7-.5 .9-4.6-6 .4z" fill="#733fe9"/><path d="M104.1 588.1l6-.1-2.2-5.5-6.3-.1z" fill="#5e47e7"/><path d="M109.2 588l6 0-2-5.5-6.2 0z" fill="#6146e8"/><path d="M114.3 588l6-.1-1.7-5.3-6.3-.1z" fill="#6445e8"/><path d="M119.4 587.9l6 .3-1.4-5.3-6.3-.3z" fill="#6644e8"/><path d="M124.5 588.1l6 .6-1.1-5.3-6.3-.6z" fill="#6843e8"/><path d="M129.6 588.6l6 .8-.9-5.2-6.2-.9z" fill="#6a42e8"/><path d="M134.7 589.2l5.9 1.1-.6-5-6.2-1.2z" fill="#6d41e8"/><path d="M139.8 590.2l5.9 1-.4-5-6.2-1.1z" fill="#7040e9"/><path d="M144.8 591.1l6 .7-.2-4.9-6.1-.8z" fill="#7140e9"/><path d="M149.9 591.7l5.9 .3 .2-4.7-6.2-.4z" fill="#7140e9"/><path d="M155 592l5.9-.3 .4-4.6-6.1 .2z" fill="#6e41e9"/><path d="M160.1 591.8l5.9-.4 .7-4.6-6.2 .3z" fill="#6a42e8"/><path d="M102 583.3l6.2 0-2.3-5.5-6.5-.2z" fill="#4d4ee6"/><path d="M107.3 583.3l6.3 .1-2.1-5.5-6.5-.1z" fill="#504ce7"/><path d="M112.7 583.4l6.2 0-1.8-5.3-6.5-.2z" fill="#534be7"/><path d="M118 583.4l6.2 .3-1.5-5.2-6.5-.4z" fill="#564ae7"/><path d="M123.3 583.7l6.3 .6-1.3-5.2-6.5-.7z" fill="#5a49e7"/><path d="M128.7 584.2l6.2 .9-1.1-5.1-6.4-1z" fill="#5d48e7"/><path d="M134 585l6.1 1.1-.7-5-6.4-1.3z" fill="#5f46e8"/><path d="M139.3 586l6.1 1.1-.5-5-6.4-1.2z" fill="#6246e8"/><path d="M144.5 586.9l6.2 .9-.2-4.8-6.4-1z" fill="#6445e8"/><path d="M149.8 587.7l6.2 .4 .1-4.7-6.5-.5z" fill="#6544e8"/><path d="M155.1 588.1l6.2-.2 .3-4.6-6.4 .1z" fill="#6445e8"/><path d="M160.4 588l6.1-.3 .7-4.5-6.4 .1z" fill="#6146e8"/><path d="M99.8 578.5l6.5 .2-2.6-5.5-6.7-.3z" fill="#4560e7"/><path d="M105.3 578.6l6.5 .2-2.2-5.4-6.8-.3z" fill="#455be6"/><path d="M110.9 578.8l6.5 .2-2-5.4-6.7-.3z" fill="#4655e6"/><path d="M116.5 578.9l6.4 .4-1.6-5.2-6.8-.5z" fill="#4750e6"/><path d="M122 579.3l6.5 .7-1.4-5.2-6.7-.8z" fill="#4b4ee6"/><path d="M127.6 579.9l6.4 1-1.1-5.2-6.7-1z" fill="#4e4de7"/><path d="M133.1 580.7l6.4 1.3-.8-5.1-6.7-1.3z" fill="#524ce7"/><path d="M138.6 581.8l6.4 1.2-.5-4.9-6.7-1.4z" fill="#544be7"/><path d="M144.1 582.9l6.4 .9-.2-4.8-6.7-1.1z" fill="#564ae7"/><path d="M149.7 583.7l6.3 .6 .1-4.8-6.7-.6z" fill="#5849e7"/><path d="M155.2 584.2l6.4 0 .3-4.6-6.6-.1z" fill="#5949e7"/><path d="M160.7 584.2l6.4-.2 .6-4.5-6.6 .1z" fill="#5849e7"/><path d="M97.4 573.7l6.7 .3-2.5-5.5-7-.4z" fill="#437ae8"/><path d="M103.2 574l6.7 .2-2.2-5.4-7-.4z" fill="#4374e7"/><path d="M109 574.2l6.7 .3-1.9-5.3-7-.4z" fill="#446fe7"/><path d="M114.8 574.4l6.7 .6-1.6-5.3-7-.6z" fill="#4468e7"/><path d="M120.6 574.9l6.7 .8-1.3-5.2-7-.9z" fill="#4561e7"/><path d="M126.4 575.6l6.7 1-1.1-5.1-7-1.2z" fill="#455ae6"/><path d="M132.2 576.5l6.6 1.3-.8-5-6.9-1.5z" fill="#4653e6"/><path d="M138 577.6l6.6 1.3-.6-4.9-6.9-1.4z" fill="#4750e6"/><path d="M143.7 578.8l6.6 1-.2-4.8-6.9-1.2z" fill="#494fe6"/><path d="M149.5 579.7l6.6 .7 0-4.7-6.9-.8z" fill="#4c4ee6"/><path d="M155.2 580.3l6.6 .1 .4-4.6-6.9-.2z" fill="#4f4de7"/><path d="M161 580.4l6.6 0 .6-4.5-6.9-.1z" fill="#4f4de7"/><path d="M95 569l7 .4-2.5-5.6-7.3-.5z" fill="#4193e8"/><path d="M101.1 569.3l6.9 .4-2.2-5.5-7.3-.4z" fill="#418de8"/><path d="M107.1 569.6l7 .4-2-5.3-7.2-.5z" fill="#4288e8"/><path d="M113.2 570l6.9 .6-1.6-5.3-7.3-.7z" fill="#4281e8"/><path d="M119.2 570.5l7 .9-1.4-5.2-7.3-1z" fill="#4379e8"/><path d="M125.3 571.2l6.9 1.2-1.1-5.1-7.2-1.3z" fill="#4471e7"/><path d="M131.3 572.2l6.9 1.4-.8-5-7.2-1.5z" fill="#446ae7"/><path d="M137.3 573.5l6.8 1.4-.5-5-7.1-1.5z" fill="#4563e7"/><path d="M143.3 574.7l6.8 1.2-.2-4.9-7.2-1.3z" fill="#455fe7"/><path d="M149.3 575.7l6.8 .8 .1-4.7-7.2-.9z" fill="#4559e6"/><path d="M155.3 576.5l6.8 .2 .4-4.6-7.2-.4z" fill="#4654e6"/><path d="M161.3 576.6l6.8 .1 .6-4.4-7.1-.3z" fill="#4651e6"/><path d="M92.6 564.2l7.3 .5-2.5-5.5-7.6-.6z" fill="#3face9"/><path d="M98.9 564.6l7.3 .5-2.3-5.4-7.5-.6z" fill="#40a6e9"/><path d="M105.2 565.1l7.2 .4-1.9-5.3-7.5-.6z" fill="#40a0e9"/><path d="M111.5 565.5l7.2 .7-1.6-5.3-7.5-.8z" fill="#419ae9"/><path d="M117.8 566.1l7.2 .9-1.4-5.1-7.5-1.1z" fill="#4192e8"/><path d="M124.1 566.9l7.2 1.3-1.1-5.2-7.5-1.3z" fill="#4289e8"/><path d="M130.4 568l7.1 1.5-.8-5-7.4-1.6z" fill="#4280e8"/><path d="M136.6 569.3l7.1 1.5-.5-4.9-7.4-1.6z" fill="#4379e8"/><path d="M142.8 570.6l7.1 1.3-.2-4.8-7.4-1.4z" fill="#4372e7"/><path d="M149.1 571.8l7.1 .8 0-4.7-7.4-1z" fill="#446ce7"/><path d="M155.3 572.6l7.1 .3 .3-4.6-7.3-.4z" fill="#4466e7"/><path d="M161.6 572.9l7 .2 .7-4.5-7.4-.3z" fill="#4564e7"/><path d="M90.3 559.5l7.5 .6-2.6-5.5-7.8-.7z" fill="#3dc4ea"/><path d="M96.8 560l7.5 .6-2.3-5.4-7.8-.7z" fill="#3ebeea"/><path d="M103.3 560.5l7.5 .6-2-5.3-7.7-.7z" fill="#3eb8ea"/><path d="M109.9 561l7.4 .8-1.7-5.2-7.7-.9z" fill="#3fb1ea"/><path d="M116.4 561.7l7.5 1-1.4-5.1-7.8-1.1z" fill="#3fa9e9"/><path d="M123 562.6l7.4 1.3-1.2-5-7.7-1.5z" fill="#40a0e9"/><path d="M129.5 563.8l7.3 1.5-.8-4.9-7.7-1.7z" fill="#4197e9"/><path d="M135.9 565.2l7.4 1.5-.6-4.9-7.6-1.6z" fill="#418ee8"/><path d="M142.4 566.6l7.3 1.3-.2-4.7-7.7-1.5z" fill="#4286e8"/><path d="M148.9 567.8l7.3 1 0-4.7-7.6-1.1z" fill="#437fe8"/><path d="M155.4 568.7l7.3 .5 .3-4.6-7.6-.6z" fill="#437ae8"/><path d="M161.8 569.1l7.3 .4 .7-4.5-7.6-.4z" fill="#4378e7"/><path d="M87.9 554.8l7.7 .7-2.7-5.4-8.1-.9z" fill="#3cd7e5"/><path d="M94.7 555.4l7.7 .7-2.5-5.3-8-.8z" fill="#3cd5eb"/><path d="M101.4 556l7.8 .7-2.2-5.2-8-.8z" fill="#3dcfeb"/><path d="M108.2 556.6l7.8 .9-1.9-5.2-8-1z" fill="#3dc9ea"/><path d="M115 557.4l7.7 1.1-1.5-5.1-8-1.2z" fill="#3ec1ea"/><path d="M121.8 558.3l7.7 1.5-1.3-5.1-8-1.5z" fill="#3eb7ea"/><path d="M128.5 559.6l7.6 1.6-.9-4.9-7.9-1.7z" fill="#3fade9"/><path d="M135.3 561.1l7.5 1.6-.6-4.8-7.9-1.8z" fill="#40a3e9"/><path d="M142 562.5l7.5 1.5-.3-4.7-7.9-1.6z" fill="#419ae9"/><path d="M148.7 563.9l7.5 1.1 0-4.6-7.9-1.3z" fill="#4193e8"/><path d="M155.4 564.9l7.5 .6 .3-4.5-7.8-.7z" fill="#418ee8"/><path d="M162.1 565.4l7.6 .5 .6-4.4-7.9-.6z" fill="#418de8"/><path d="M85.3 550.1l8.1 .9-3-5.4-8.4-.9z" fill="#3ed7c7"/><path d="M92.3 550.9l8.1 .7-2.7-5.2-8.4-.9z" fill="#3ed7cf"/><path d="M99.4 551.6l8 .7-2.4-5.1-8.3-.9z" fill="#3dd7d7"/><path d="M106.4 552.2l8 1-2-5.1-8.3-1z" fill="#3dd7e0"/><path d="M113.5 553.1l8 1.2-1.7-5-8.4-1.3z" fill="#3cd7ea"/><path d="M120.5 554.2l8 1.4-1.4-4.9-8.3-1.6z" fill="#3dceeb"/><path d="M127.5 555.5l7.9 1.7-1.1-4.9-8.2-1.8z" fill="#3dc3ea"/><path d="M134.5 557l7.8 1.8-.7-4.8-8.2-1.9z" fill="#3eb8ea"/><path d="M141.4 558.6l7.9 1.6-.4-4.7-8.2-1.7z" fill="#3faee9"/><path d="M148.4 560l7.8 1.2 0-4.5-8.2-1.4z" fill="#40a7e9"/><path d="M155.4 561.1l7.8 .7 .3-4.4-8.2-.8z" fill="#40a2e9"/><path d="M162.4 561.7l7.8 .6 .6-4.3-8.2-.7z" fill="#40a2e9"/><path d="M82.5 545.6l8.4 .9-3.2-5.3-8.8-1z" fill="#40d7aa"/><path d="M89.8 546.4l8.4 .9-2.9-5.2-8.7-1z" fill="#40d7b2"/><path d="M97.2 547.2l8.3 .9-2.6-5.1-8.6-1z" fill="#3fd7b9"/><path d="M104.5 548l8.3 1-2.2-5-8.7-1.2z" fill="#3fd7c2"/><path d="M111.8 548.9l8.3 1.3-1.9-5-8.6-1.4z" fill="#3ed7cc"/><path d="M119.1 550l8.2 1.6-1.5-4.9-8.5-1.7z" fill="#3dd7d9"/><path d="M126.4 551.4l8.2 1.8-1.2-4.8-8.5-1.9z" fill="#3cd7e8"/><path d="M133.6 553l8.1 1.9-.8-4.7-8.4-2z" fill="#3dcdeb"/><path d="M140.9 554.7l8 1.7-.4-4.7-8.4-1.7z" fill="#3ec3ea"/><path d="M148.1 556.2l8.1 1.3-.1-4.5-8.5-1.4z" fill="#3ebbea"/><path d="M155.3 557.4l8.1 .8 .3-4.4-8.5-.9z" fill="#3eb6ea"/><path d="M162.6 558.1l8.1 .7 .6-4.2-8.5-.9z" fill="#3eb6ea"/><path d="M79.6 541.1l8.7 1-3.5-5.2-9.1-1.1z" fill="#42d78e"/><path d="M87.2 542l8.6 1-3.1-5.1-9-1.1z" fill="#42d795"/><path d="M94.8 542.9l8.6 1-2.7-5.1-9-1z" fill="#41d79c"/><path d="M102.4 543.7l8.6 1.2-2.4-5-9-1.2z" fill="#41d7a5"/><path d="M110 544.7l8.6 1.4-2-4.9-9-1.4z" fill="#40d7af"/><path d="M117.6 546l8.5 1.6-1.6-4.8-8.9-1.8z" fill="#3fd7bc"/><path d="M125.2 547.4l8.4 1.9-1.3-4.7-8.8-2z" fill="#3ed7cb"/><path d="M132.7 549.1l8.4 2-.9-4.7-8.8-2z" fill="#3dd7db"/><path d="M140.2 550.9l8.4 1.7-.6-4.5-8.7-1.9z" fill="#3cd7eb"/><path d="M147.7 552.5l8.4 1.4-.2-4.5-8.7-1.5z" fill="#3dceeb"/><path d="M155.3 553.8l8.3 .9 .2-4.3-8.7-1.1z" fill="#3dcaeb"/><path d="M162.8 554.6l8.4 .8 .6-4.2-8.8-.9z" fill="#3dcaeb"/><path d="M76.4 536.7l9.1 1.2-3.8-5.2-9.5-1.2z" fill="#44d774"/><path d="M84.3 537.7l9 1.1-3.4-5.1-9.4-1.1z" fill="#43d77a"/><path d="M92.2 538.7l9 1-3-4.9-9.4-1.2z" fill="#43d77f"/><path d="M100.1 539.6l9 1.2-2.6-4.9-9.4-1.3z" fill="#42d787"/><path d="M108.1 540.7l8.9 1.4-2.2-4.8-9.3-1.5z" fill="#42d792"/><path d="M116 542l8.8 1.7-1.8-4.8-9.2-1.8z" fill="#41d79e"/><path d="M123.9 543.5l8.7 2-1.4-4.7-9.1-2.1z" fill="#40d7ad"/><path d="M131.7 545.3l8.7 2-1-4.6-9.1-2.1z" fill="#3fd7bf"/><path d="M139.5 547.1l8.7 1.9-.6-4.5-9.1-2z" fill="#3ed7cf"/><path d="M147.3 548.8l8.7 1.5-.2-4.4-9.1-1.6z" fill="#3dd7dc"/><path d="M155.1 550.2l8.7 1 .2-4.2-9.1-1.2z" fill="#3dd7e2"/><path d="M163 551.1l8.6 .9 .7-4.1-9.1-1z" fill="#3dd7e2"/><path d="M73 532.4l9.4 1.3-4.1-5.1-9.8-1.4z" fill="#45d75b"/><path d="M81.2 533.5l9.4 1.2-3.6-5-9.9-1.3z" fill="#45d760"/><path d="M89.5 534.5l9.3 1.2-3.2-4.9-9.8-1.3z" fill="#45d763"/><path d="M97.7 535.6l9.3 1.3-2.7-4.9-9.8-1.4z" fill="#44d76a"/><path d="M106 536.7l9.2 1.5-2.3-4.7-9.7-1.6z" fill="#44d775"/><path d="M114.2 538.1l9.2 1.8-1.9-4.7-9.6-1.9z" fill="#43d782"/><path d="M122.4 539.7l9.1 2-1.5-4.6-9.5-2.1z" fill="#42d790"/><path d="M130.6 541.5l9 2.1-1-4.5-9.5-2.2z" fill="#41d7a2"/><path d="M138.7 543.4l9 2-.6-4.5-9.4-2z" fill="#40d7b4"/><path d="M146.8 545.2l9 1.6-.1-4.3-9.5-1.7z" fill="#3fd7c1"/><path d="M155 546.7l9 1.1 .3-4.2-9.5-1.2z" fill="#3ed7c8"/><path d="M163.1 547.7l9 1 .8-4.1-9.5-1.1z" fill="#3ed7c9"/><path d="M69.3 528.2l9.9 1.3-4.4-5-10.3-1.5z" fill="#59d84f"/><path d="M77.9 529.4l9.8 1.2-3.9-4.9-10.2-1.4z" fill="#4fd84f"/><path d="M86.5 530.5l9.8 1.2-3.4-4.8-10.3-1.4z" fill="#50d84f"/><path d="M95.1 531.6l9.7 1.4-2.9-4.8-10.2-1.5z" fill="#4ad750"/><path d="M103.7 532.8l9.7 1.6-2.5-4.7-10.1-1.7z" fill="#45d758"/><path d="M112.3 534.2l9.6 1.9-2-4.6-10-2z" fill="#45d765"/><path d="M120.9 535.9l9.4 2.1-1.5-4.6-9.9-2.2z" fill="#44d773"/><path d="M129.4 537.8l9.4 2.2-1.1-4.5-9.8-2.3z" fill="#43d785"/><path d="M137.9 539.8l9.3 2-.6-4.3-9.8-2.2z" fill="#41d798"/><path d="M146.3 541.6l9.4 1.8-.1-4.3-9.8-1.8z" fill="#40d7a7"/><path d="M154.9 543.2l9.3 1.3 .4-4.2-9.8-1.3z" fill="#40d7ae"/><path d="M163.4 544.3l9.3 1.2 .9-4.1-9.9-1.2z" fill="#40d7af"/><path d="M65.4 524l10.3 1.4-4.6-5-10.7-1.5z" fill="#80db4c"/><path d="M74.4 525.3l10.2 1.3-4.1-4.9-10.7-1.5z" fill="#72da4d"/><path d="M83.4 526.5l10.2 1.3-3.7-4.8-10.6-1.5z" fill="#6fda4d"/><path d="M92.4 527.6l10.1 1.5-3.1-4.7-10.6-1.6z" fill="#6ada4d"/><path d="M101.4 528.9l10 1.7-2.6-4.7-10.5-1.7z" fill="#60d94e"/><path d="M110.4 530.4l9.9 2-2.1-4.6-10.5-2.1z" fill="#51d84f"/><path d="M119.3 532.2l9.8 2.2-1.6-4.6-10.3-2.2z" fill="#46d756"/><path d="M128.2 534.2l9.8 2.2-1.1-4.4-10.3-2.4z" fill="#44d768"/><path d="M137 536.2l9.8 2.1-.6-4.3-10.3-2.2z" fill="#43d77d"/><path d="M145.9 538.2l9.7 1.8-.1-4.3-10.2-1.9z" fill="#42d78d"/><path d="M154.8 539.8l9.7 1.4 .4-4.1-10.2-1.5z" fill="#42d794"/><path d="M163.7 541l9.7 1.3 .9-4-10.2-1.4z" fill="#42d796"/><path d="M61.3 519.9l10.7 1.5-4.7-5-11.2-1.5z" fill="#a8df48"/><path d="M70.7 521.2l10.6 1.5-4.2-4.9-11.1-1.5z" fill="#9bde49"/><path d="M80.1 522.5l10.6 1.4-3.7-4.8-11.1-1.5z" fill="#90dd4a"/><path d="M89.5 523.8l10.5 1.5-3.2-4.7-11-1.6z" fill="#8adc4b"/><path d="M98.9 525.1l10.5 1.8-2.7-4.7-11-1.8z" fill="#82dc4b"/><path d="M108.3 526.7l10.3 2-2.1-4.6-10.9-2.1z" fill="#75db4c"/><path d="M117.6 528.5l10.3 2.3-1.6-4.5-10.8-2.4z" fill="#62d94e"/><path d="M126.9 530.6l10.2 2.3-1.1-4.4-10.7-2.4z" fill="#4bd750"/><path d="M136.2 532.7l10.1 2.2-.6-4.3-10.6-2.3z" fill="#45d761"/><path d="M145.4 534.7l10.2 1.9-.1-4.2-10.6-2z" fill="#44d772"/><path d="M154.7 536.5l10.1 1.4 .5-4.1-10.6-1.5z" fill="#43d77b"/><path d="M164 537.8l10.1 1.3 1.1-4-10.7-1.4z" fill="#43d77c"/><path d="M57.1 515.8l11.1 1.6-4.8-4.9-11.6-1.6z" fill="#c9e146"/><path d="M66.9 517.2l11.1 1.6-4.3-4.9-11.6-1.6z" fill="#c0e047"/><path d="M76.7 518.6l11 1.5-3.7-4.7-11.6-1.6z" fill="#b4df48"/><path d="M86.5 519.9l11 1.6-3.2-4.6-11.6-1.7z" fill="#a8df48"/><path d="M96.4 521.4l10.9 1.8-2.7-4.6-11.5-1.9z" fill="#a2de49"/><path d="M106.2 523l10.8 2.1-2.2-4.5-11.3-2.2z" fill="#98dd4a"/><path d="M115.9 524.9l10.7 2.3-1.6-4.4-11.2-2.5z" fill="#84dc4b"/><path d="M125.6 527l10.6 2.4-1-4.4-11.2-2.5z" fill="#6cda4d"/><path d="M135.3 529.2l10.5 2.3-.5-4.3-11.1-2.4z" fill="#52d84f"/><path d="M145 531.3l10.5 2 0-4.2-11-2z" fill="#46d757"/><path d="M154.7 533.1l10.5 1.6 .6-4-11.1-1.7z" fill="#45d761"/><path d="M164.4 534.5l10.5 1.5 1.2-3.9-11.1-1.6z" fill="#45d763"/><path d="M52.8 511.8l11.5 1.6-4.8-4.7-12.1-1.7z" fill="#dce24a"/><path d="M63 513.3l11.6 1.6-4.4-4.7-12.1-1.7z" fill="#d7e249"/><path d="M73.3 514.7l11.4 1.6-3.8-4.6-12-1.7z" fill="#d0e248"/><path d="M83.5 516.1l11.4 1.7-3.2-4.5-12-1.8z" fill="#c6e146"/><path d="M93.8 517.7l11.3 1.8-2.7-4.5-11.9-1.9z" fill="#bfe047"/><path d="M104 519.3l11.2 2.2-2.1-4.4-11.8-2.3z" fill="#b9e047"/><path d="M114.2 521.3l11.1 2.4-1.6-4.4-11.6-2.4z" fill="#a6de49"/><path d="M124.4 523.5l11 2.4-1-4.2-11.6-2.6z" fill="#8bdc4b"/><path d="M134.5 525.7l10.9 2.4-.4-4.1-11.6-2.5z" fill="#72da4d"/><path d="M144.6 527.9l10.9 2.1 .1-4-11.5-2.2z" fill="#5dd94e"/><path d="M154.7 529.9l11 1.6 .6-3.9-11.5-1.8z" fill="#51d84f"/><path d="M164.8 531.4l11 1.5 1.3-3.8-11.6-1.7z" fill="#4ed84f"/><path d="M48.4 507.9l12 1.7-4.9-4.6-12.5-1.8z" fill="#ede34e"/><path d="M59.1 509.5l12 1.6-4.4-4.5-12.5-1.8z" fill="#e7e34d"/><path d="M69.8 511l11.9 1.6-3.8-4.5-12.5-1.7z" fill="#e3e34c"/><path d="M80.5 512.5l11.9 1.7-3.3-4.4-12.5-1.9z" fill="#dae24a"/><path d="M91.2 514l11.8 2-2.7-4.4-12.4-2z" fill="#d3e248"/><path d="M101.9 515.8l11.7 2.2-2.2-4.3-12.2-2.3z" fill="#d1e248"/><path d="M112.5 517.8l11.6 2.5-1.6-4.3-12.1-2.5z" fill="#c4e146"/><path d="M123.1 520.1l11.5 2.5-1-4.1-12-2.7z" fill="#a9df48"/><path d="M133.7 522.4l11.4 2.4-.4-4-12-2.5z" fill="#91dd4a"/><path d="M144.2 524.7l11.4 2.1 .2-3.9-12-2.3z" fill="#7ddb4c"/><path d="M154.8 526.7l11.4 1.7 .7-3.8-12-1.8z" fill="#6fda4d"/><path d="M165.4 528.3l11.4 1.6 1.3-3.7-12-1.7z" fill="#6bda4d"/><path d="M44 504.1l12.5 1.8-5.2-4.4-12.9-1.9z" fill="#f5de4f"/><path d="M55.2 505.8l12.4 1.7-4.6-4.4-13-1.8z" fill="#f5e350"/><path d="M66.3 507.4l12.5 1.7-4.1-4.4-13-1.7z" fill="#f2e44f"/><path d="M77.5 508.9l12.4 1.9-3.6-4.3-13-1.9z" fill="#ece34e"/><path d="M88.6 510.6l12.3 2-2.9-4.2-12.9-2.1z" fill="#e3e34c"/><path d="M99.8 512.4l12.2 2.3-2.4-4.2-12.8-2.4z" fill="#e0e34b"/><path d="M110.9 514.5l12 2.5-1.7-4.1-12.7-2.6z" fill="#d7e249"/><path d="M121.9 516.8l11.9 2.6-1.1-4-12.5-2.7z" fill="#c4e146"/><path d="M132.9 519.2l11.9 2.5-.5-3.9-12.5-2.6z" fill="#aedf48"/><path d="M143.9 521.5l11.8 2.2 .2-3.7-12.5-2.4z" fill="#9bde49"/><path d="M154.9 523.6l11.9 1.8 .7-3.7-12.5-1.9z" fill="#8cdc4b"/><path d="M165.9 525.3l11.9 1.7 1.4-3.6-12.5-1.8z" fill="#87dc4b"/><path d="M39.4 500.5l12.9 1.8-5.5-4.2-13.5-1.8z" fill="#f5d44e"/><path d="M51 502.3l13 1.7-5-4.1-13.5-1.8z" fill="#f5d94f"/><path d="M62.6 503.9l13 1.8-4.4-4.1-13.5-1.8z" fill="#f5dc4f"/><path d="M74.3 505.5l12.9 1.9-3.8-4-13.6-2z" fill="#f5e04f"/><path d="M85.9 507.3l12.9 2-3.3-4-13.5-2.1z" fill="#f2e44f"/><path d="M97.5 509.1l12.7 2.4-2.5-4-13.4-2.4z" fill="#ede34e"/><path d="M109.1 511.3l12.5 2.5-1.8-3.9-13.3-2.6z" fill="#e6e34d"/><path d="M120.6 513.6l12.4 2.7-1.2-3.8-13.1-2.8z" fill="#d6e249"/><path d="M132.1 516.1l12.3 2.6-.5-3.7-13-2.7z" fill="#c7e146"/><path d="M143.5 518.5l12.3 2.3 .2-3.6-13-2.4z" fill="#b6e047"/><path d="M155 520.7l12.3 1.9 .9-3.5-13.1-2z" fill="#a7de49"/><path d="M166.5 522.4l12.4 1.8 1.4-3.4-13-1.8z" fill="#a1de49"/><path d="M34.4 497.2l13.3 1.7-6.2-4-13.9-1.8z" fill="#f6cc4d"/><path d="M46.5 499l13.5 1.7-5.7-4-14-1.8z" fill="#f6d04d"/><path d="M58.7 500.7l13.4 1.8-5.1-4.1-14.1-1.8z" fill="#f5d44e"/><path d="M70.8 502.4l13.5 1.9-4.5-4-14.1-2z" fill="#f5d74e"/><path d="M83 504.1l13.4 2.2-3.8-4-14.1-2.2z" fill="#f5dd4f"/><path d="M95.1 506.1l13.3 2.4-3.1-4-14-2.4z" fill="#f5e150"/><path d="M107.2 508.3l13.1 2.6-2.3-3.9-13.9-2.7z" fill="#f3e450"/><path d="M119.2 510.7l13 2.7-1.6-3.8-13.7-2.8z" fill="#e5e34c"/><path d="M131.2 513.2l12.8 2.7-.7-3.7-13.6-2.8z" fill="#d7e249"/><path d="M143.1 515.7l12.9 2.4 0-3.6-13.6-2.5z" fill="#cce147"/><path d="M155.1 517.9l12.9 2 .8-3.5-13.6-2z" fill="#c0e047"/><path d="M167.1 519.8l12.9 1.8 1.6-3.3-13.7-2z" fill="#b9e047"/><path d="M28.5 493.8l13.8 1.8-6.6-4-14.4-1.8z" fill="#f6c64c"/><path d="M41.2 495.7l14 1.8-6.1-4-14.5-1.8z" fill="#f6c94c"/><path d="M54 497.5l14 1.8-5.5-4-14.6-1.8z" fill="#f6cc4d"/><path d="M66.7 499.2l14.1 2-4.8-4-14.8-2z" fill="#f6cf4d"/><path d="M79.5 501.1l14 2.1-4.1-3.9-14.7-2.2z" fill="#f5d34e"/><path d="M92.2 503.1l14 2.4-3.4-3.9-14.7-2.5z" fill="#f5d84e"/><path d="M104.9 505.3l13.7 2.7-2.5-3.9-14.7-2.8z" fill="#f5dc4f"/><path d="M117.5 507.8l13.6 2.8-1.7-3.8-14.5-2.9z" fill="#f3e450"/><path d="M130 510.4l13.5 2.7-.9-3.7-14.3-2.8z" fill="#e5e34d"/><path d="M142.6 512.9l13.4 2.5 0-3.6-14.3-2.5z" fill="#dbe24a"/><path d="M155.1 515.2l13.5 2.1 .8-3.5-14.3-2.1z" fill="#d3e248"/><path d="M167.7 517.1l13.5 2 1.7-3.4-14.3-2z" fill="#cfe147"/><path d="M22.1 490.5l14.5 1.9-6.5-4-15.1-1.9z" fill="#f6c04b"/><path d="M35.5 492.4l14.6 1.9-6-4-15.2-1.8z" fill="#f6c24c"/><path d="M48.8 494.3l14.8 1.9-5.4-4-15.3-1.9z" fill="#f6c44c"/><path d="M62.2 496.1l14.8 2-4.7-3.9-15.4-2.1z" fill="#f6c74c"/><path d="M75.6 498l14.7 2.2-4-3.9-15.4-2.2z" fill="#f6cb4d"/><path d="M89 500l14.6 2.6-3.3-4-15.3-2.5z" fill="#f6d04d"/><path d="M102.3 502.3l14.4 2.8-2.4-3.9-15.2-2.8z" fill="#f5d44e"/><path d="M115.6 504.9l14.1 2.8-1.5-3.7-15-3z" fill="#f5dc4f"/><path d="M128.8 507.5l14 2.8-.6-3.6-15-2.9z" fill="#f2e44f"/><path d="M141.9 510.2l14.1 2.5 .1-3.6-14.8-2.6z" fill="#e9e34d"/><path d="M155.1 512.5l14.1 2.1 1-3.4-14.9-2.2z" fill="#e2e34c"/><path d="M168.3 514.5l14.1 2 1.9-3.3-14.9-2.1z" fill="#dfe34b"/><path d="M15.8 487.2l15.2 2-6.4-4-15.7-1.9z" fill="#f5b74a"/><path d="M29.8 489.2l15.3 1.9-5.8-3.9-15.9-1.9z" fill="#f6ba4b"/><path d="M43.8 491.1l15.4 2-5.2-4-16-1.9z" fill="#f6be4b"/><path d="M57.9 493l15.4 2.1-4.6-3.9-16-2.1z" fill="#f6c04b"/><path d="M71.9 495l15.4 2.2-3.9-3.9-16-2.3z" fill="#f6c44c"/><path d="M85.9 497.1l15.2 2.5-3.1-3.9-15.9-2.6z" fill="#f6c84c"/><path d="M99.9 499.4l15 2.8-2.3-3.8-15.8-2.9z" fill="#f6cc4d"/><path d="M113.8 502l14.8 2.9-1.4-3.7-15.7-3z" fill="#f5d34e"/><path d="M127.6 504.7l14.7 2.9-.5-3.6-15.6-3z" fill="#f5dc4f"/><path d="M141.4 507.4l14.7 2.6 .3-3.5-15.5-2.7z" fill="#f5e350"/><path d="M155.3 509.8l14.7 2.2 1.1-3.4-15.5-2.2z" fill="#f0e44f"/><path d="M169.1 511.9l14.8 2.1 2-3.3-15.6-2.2z" fill="#efe44f"/><path d="M9.7 484l15.8 2-6.1-3.8-16.3-2z" fill="#f5af49"/><path d="M24.3 486l16 2-5.6-3.8-16.5-1.9z" fill="#f5b14a"/><path d="M39 488l16 2-5-3.8-16.6-2z" fill="#f5b44a"/><path d="M53.7 490l16 2.1-4.3-3.8-16.7-2.1z" fill="#f5b74a"/><path d="M68.3 492l16 2.3-3.6-3.8-16.7-2.3z" fill="#f6bc4b"/><path d="M83 494.1l15.8 2.6-2.9-3.7-16.6-2.7z" fill="#f6c14b"/><path d="M97.6 496.5l15.6 2.9-2.1-3.7-16.4-2.9z" fill="#f6c54c"/><path d="M112.1 499.2l15.4 2.9-1.2-3.5-16.2-3.1z" fill="#f6cb4d"/><path d="M126.6 501.9l15.3 2.9-.4-3.4-16.1-3z" fill="#f5d34e"/><path d="M141 504.7l15.3 2.6 .4-3.3-16.1-2.8z" fill="#f5da4f"/><path d="M155.5 507.2l15.3 2.3 1.2-3.3-16.1-2.3z" fill="#f5dd4f"/><path d="M170 509.3l15.4 2.2 2-3.1-16.2-2.3z" fill="#f5de4f"/><path d="M2.8 480.8l16.6 2.3 6.3-4.3-16.2-2.4z" fill="#f4a348"/><path d="M18.1 482.9l16.6 2.2 6-4.2-16.2-2.3z" fill="#f4a549"/><path d="M33.4 484.9l16.6 2.2 5.7-4.2-16.2-2.2z" fill="#f4a949"/><path d="M48.8 486.9l16.5 2.3 5.3-4.2-16.1-2.2z" fill="#f5ac49"/><path d="M64.1 489l16.5 2.4 5-4.1-16.1-2.4z" fill="#f5b14a"/><path d="M79.5 491.2l16.3 2.6 4.7-3.9-16-2.8z" fill="#f6b84a"/><path d="M94.7 493.7l16.3 2.8 4.3-3.9-15.9-2.9z" fill="#f6be4b"/><path d="M110 496.3l16.1 3.1 4-3.9-15.8-3.1z" fill="#f6c34c"/><path d="M125.1 499.2l16.1 3 3.6-3.8-15.7-3.1z" fill="#f6cb4d"/><path d="M140.3 502l16.1 2.8 3.3-3.7-15.8-2.9z" fill="#f6d04d"/><path d="M155.4 504.6l16.2 2.4 3-3.7-15.9-2.4z" fill="#f5d34e"/><path d="M170.7 506.9l16.2 2.2 2.6-3.6-15.9-2.3z" fill="#f5d34e"/><path d="M8.4 477.1l16.3 2.4 5.8-4-15.9-2.4z" fill="#f39447"/><path d="M23.4 479.3l16.3 2.3 5.5-3.9-15.9-2.4z" fill="#f39647"/><path d="M38.4 481.4l16.3 2.2 5.3-3.8-16-2.3z" fill="#f39c48"/><path d="M53.5 483.5l16.2 2.3 5-3.8-15.9-2.4z" fill="#f4a148"/><path d="M68.5 485.6l16.2 2.4 4.7-3.7-15.9-2.5z" fill="#f4a749"/><path d="M83.6 487.8l16 2.8 4.4-3.7-15.7-2.8z" fill="#f5ad49"/><path d="M98.5 490.4l16 2.9 4.1-3.6-15.7-3z" fill="#f5b24a"/><path d="M113.5 493.1l15.8 3.1 3.8-3.5-15.5-3.2z" fill="#f6ba4b"/><path d="M128.3 496l15.8 3.1 3.6-3.4-15.6-3.2z" fill="#f6c24c"/><path d="M143.1 498.9l15.9 2.9 3.2-3.4-15.5-2.9z" fill="#f6c74c"/><path d="M158 501.6l15.9 2.5 3-3.4-15.6-2.5z" fill="#f6c94c"/><path d="M173 504l15.9 2.3 2.6-3.3-15.6-2.4z" fill="#f6ca4d"/><path d="M13.5 473.8l16 2.4 5.8-3.8-15.7-2.6z" fill="#f18546"/><path d="M28.2 476l16 2.4 5.6-3.8-15.7-2.4z" fill="#f18846"/><path d="M43 478.2l16 2.3 5.3-3.7-15.7-2.4z" fill="#f29046"/><path d="M57.8 480.3l16 2.4 5-3.7-15.7-2.4z" fill="#f39747"/><path d="M72.6 482.5l15.9 2.5 4.8-3.6-15.7-2.6z" fill="#f39e48"/><path d="M87.4 484.8l15.8 2.8 4.4-3.6-15.5-2.8z" fill="#f4a348"/><path d="M102.1 487.4l15.7 3 4.2-3.5-15.4-3.1z" fill="#f4a849"/><path d="M116.7 490.2l15.7 3.2 3.9-3.5-15.4-3.2z" fill="#f5b04a"/><path d="M131.3 493.2l15.6 3.2 3.6-3.4-15.3-3.3z" fill="#f5b84a"/><path d="M145.9 496.2l15.6 2.9 3.4-3.4-15.4-2.9z" fill="#f6be4b"/><path d="M160.5 498.9l15.7 2.6 3.1-3.3-15.4-2.6z" fill="#f6c04b"/><path d="M175.2 501.3l15.7 2.5 2.8-3.3-15.4-2.5z" fill="#f6c24c"/><path d="M18.5 470.5l15.8 2.5 5.9-3.7-15.5-2.6z" fill="#ef7646"/><path d="M33 472.8l15.8 2.5 5.6-3.7-15.5-2.5z" fill="#f07b46"/><path d="M47.6 475.1l15.7 2.4 5.4-3.7-15.5-2.4z" fill="#f18646"/><path d="M62.1 477.3l15.7 2.4 5.2-3.6-15.5-2.5z" fill="#f28f46"/><path d="M76.6 479.5l15.7 2.6 4.9-3.6-15.4-2.6z" fill="#f39647"/><path d="M91.2 481.9l15.6 2.8 4.5-3.4-15.3-3z" fill="#f39a47"/><path d="M105.7 484.5l15.4 3.1 4.3-3.4-15.2-3.2z" fill="#f49f48"/><path d="M120.1 487.4l15.4 3.2 4-3.3-15.1-3.3z" fill="#f4a649"/><path d="M134.4 490.4l15.4 3.3 3.7-3.4-15.1-3.3z" fill="#f5ad49"/><path d="M148.7 493.5l15.4 3 3.5-3.3-15.1-3.1z" fill="#f5b24a"/><path d="M163.1 496.3l15.5 2.6 3.2-3.2-15.2-2.7z" fill="#f5b44a"/><path d="M177.6 498.8l15.4 2.5 3-3.2-15.2-2.6z" fill="#f6ba4b"/><path d="M23.6 467.4l15.5 2.6 5.9-3.7-15.3-2.6z" fill="#ee6846"/><path d="M37.8 469.8l15.6 2.5 5.6-3.6-15.3-2.6z" fill="#ef7146"/><path d="M52.1 472.1l15.6 2.4 5.4-3.5-15.3-2.5z" fill="#f07f46"/><path d="M66.4 474.3l15.6 2.5 5.2-3.5-15.3-2.5z" fill="#f28946"/><path d="M80.8 476.6l15.4 2.6 5-3.4-15.3-2.7z" fill="#f28e46"/><path d="M95.1 479l15.3 2.9 4.7-3.3-15.1-3z" fill="#f29247"/><path d="M109.3 481.7l15.3 3.2 4.4-3.3-15-3.2z" fill="#f39647"/><path d="M123.5 484.6l15.2 3.3 4.2-3.2-15-3.4z" fill="#f39c48"/><path d="M137.6 487.7l15.1 3.3 4-3.2-14.9-3.4z" fill="#f4a248"/><path d="M151.7 490.8l15.2 3.1 3.7-3.1-15-3.2z" fill="#f4a749"/><path d="M165.8 493.7l15.2 2.7 3.6-3.1-15.1-2.8z" fill="#f4a949"/><path d="M180 496.3l15.3 2.6 3.2-3.1-15-2.6z" fill="#f5b24a"/><path d="M28.6 464.3l15.3 2.7 5.8-3.4-15.1-2.7z" fill="#ec5d46"/><path d="M42.6 466.8l15.4 2.6 5.6-3.4-15.1-2.6z" fill="#ee6a46"/><path d="M56.7 469.2l15.4 2.5 5.4-3.3-15.2-2.6z" fill="#f07a46"/><path d="M70.8 471.5l15.3 2.5 5.3-3.2-15.2-2.7z" fill="#f18246"/><path d="M84.9 473.8l15.3 2.7 5-3.2-15.1-2.8z" fill="#f18646"/><path d="M99 476.3l15.2 2.9 4.8-3.1-15-3z" fill="#f28a46"/><path d="M113 479l15.1 3.2 4.6-3.1-14.9-3.3z" fill="#f28e46"/><path d="M127 482l15 3.3 4.4-3-14.8-3.4z" fill="#f39347"/><path d="M140.9 485.1l14.9 3.4 4.3-3-14.8-3.5z" fill="#f39947"/><path d="M154.7 488.3l15.1 3.1 4-2.9-14.8-3.2z" fill="#f39d48"/><path d="M168.6 491.2l15.1 2.9 3.9-3-14.9-2.8z" fill="#f4a048"/><path d="M182.6 493.8l15.1 2.8 3.7-2.9-14.9-2.8z" fill="#f4ab49"/><path d="M33.4 461.5l15.2 2.7 5.9-3.3-14.9-2.8z" fill="#ec5646"/><path d="M47.3 464l15.2 2.7 5.6-3.3-14.9-2.7z" fill="#ed6646"/><path d="M61.2 466.4l15.2 2.6 5.4-3.2-14.9-2.7z" fill="#ef7546"/><path d="M75.1 468.8l15.2 2.6 5.2-3.2-15-2.7z" fill="#f07c46"/><path d="M89.1 471.2l15.1 2.7 4.9-3.1-14.9-2.8z" fill="#f07f46"/><path d="M103 473.7l15 3 4.6-3.1-14.7-3.1z" fill="#f18346"/><path d="M116.9 476.5l14.9 3.3 4.3-3.1-14.6-3.3z" fill="#f18646"/><path d="M130.7 479.5l14.8 3.4 4.1-3-14.6-3.5z" fill="#f28b46"/><path d="M144.4 482.7l14.8 3.5 3.8-3-14.5-3.5z" fill="#f29046"/><path d="M158.1 485.9l14.8 3.3 3.6-3-14.6-3.3z" fill="#f39447"/><path d="M171.8 488.9l14.9 2.9 3.4-2.9-14.7-2.9z" fill="#f39747"/><path d="M185.6 491.6l14.9 2.8 3.1-2.8-14.6-2.9z" fill="#f4a448"/><path d="M38.4 458.7l14.9 2.8 6.3-3.4-14.7-2.9z" fill="#eb5346"/><path d="M52 461.3l15 2.7 6-3.4-14.7-2.7z" fill="#ed6346"/><path d="M65.7 463.8l15 2.6 5.7-3.3-14.7-2.7z" fill="#ef7046"/><path d="M79.4 466.2l15 2.7 5.4-3.3-14.7-2.8z" fill="#ef7546"/><path d="M93.2 468.6l14.9 2.8 5-3.2-14.6-2.9z" fill="#f07846"/><path d="M106.9 471.2l14.8 3.1 4.7-3.2-14.5-3.2z" fill="#f07b46"/><path d="M120.5 474l14.7 3.3 4.4-3.1-14.3-3.4z" fill="#f07e46"/><path d="M134.1 477.1l14.6 3.5 4.1-3.1-14.3-3.6z" fill="#f18346"/><path d="M147.6 480.3l14.5 3.6 3.8-3.1-14.2-3.6z" fill="#f18746"/><path d="M161.1 483.6l14.6 3.3 3.4-3-14.2-3.4z" fill="#f28b46"/><path d="M174.6 486.7l14.7 2.9 3.1-2.9-14.3-3z" fill="#f28f46"/><path d="M188.2 489.4l14.7 2.9 2.9-2.9-14.4-2.9z" fill="#f39e48"/><path d="M43.7 455.9l14.7 2.8 6.4-3.5-14.4-2.9z" fill="#eb5046"/><path d="M57.1 458.5l14.7 2.8 6.1-3.5-14.4-2.8z" fill="#ed5f46"/><path d="M70.6 461l14.7 2.7 5.7-3.4-14.4-2.8z" fill="#ee6a46"/><path d="M84 463.5l14.7 2.7 5.4-3.4-14.3-2.7z" fill="#ee6d46"/><path d="M97.5 466l14.6 2.8 5.1-3.3-14.3-2.9z" fill="#ef7146"/><path d="M110.9 468.6l14.5 3.1 4.8-3.3-14.2-3.1z" fill="#ef7346"/><path d="M124.3 471.5l14.4 3.3 4.4-3.2-14-3.4z" fill="#ef7646"/><path d="M137.6 474.6l14.3 3.5 4.1-3.2-14-3.6z" fill="#f07a46"/><path d="M150.9 477.9l14.2 3.6 3.7-3.2-13.9-3.6z" fill="#f07e46"/><path d="M164.1 481.2l14.3 3.4 3.4-3.1-14-3.4z" fill="#f18246"/><path d="M177.4 484.4l14.3 3 3.1-3.1-14-3z" fill="#f18746"/><path d="M190.7 487.2l14.4 2.9 2.7-3-14-3z" fill="#f39747"/><path d="M49.3 452.9l14.4 2.9 6.4-3.5-14-3z" fill="#ea4e46"/><path d="M62.4 455.6l14.4 2.8 6.1-3.5-14-2.9z" fill="#ec5a46"/><path d="M75.5 458.2l14.4 2.7 5.8-3.4-14-2.8z" fill="#ed6246"/><path d="M88.7 460.7l14.4 2.8 5.4-3.4-14-2.9z" fill="#ed6646"/><path d="M101.9 463.3l14.3 2.9 5.1-3.4-14-3z" fill="#ee6846"/><path d="M115 465.9l14.2 3.2 4.8-3.3-13.9-3.3z" fill="#ee6a46"/><path d="M128.1 468.8l14.1 3.5 4.4-3.3-13.7-3.5z" fill="#ee6d46"/><path d="M141.2 472l13.9 3.6 4.1-3.2-13.6-3.7z" fill="#ef7146"/><path d="M154.1 475.3l13.9 3.7 3.7-3.2-13.5-3.7z" fill="#ef7546"/><path d="M167 478.7l14 3.5 3.4-3.1-13.7-3.5z" fill="#f07946"/><path d="M180 482l14.1 3 3-3-13.7-3.2z" fill="#f07f46"/><path d="M193.1 484.8l14 3 2.7-3-13.7-3z" fill="#f28e46"/><path d="M54.9 449.9l14.1 3 6.4-3.5-13.7-3z" fill="#ea4c46"/><path d="M67.7 452.6l14.1 2.9 6.1-3.4-13.7-3z" fill="#eb5546"/><path d="M80.5 455.3l14.1 2.8 5.9-3.4-13.8-2.9z" fill="#ec5a46"/><path d="M93.4 457.9l14.1 2.8 5.5-3.3-13.8-2.9z" fill="#ec5d46"/><path d="M106.3 460.5l14 2.9 5.1-3.3-13.6-3z" fill="#ed6046"/><path d="M119.2 463.2l13.8 3.2 4.8-3.2-13.5-3.3z" fill="#ed6146"/><path d="M132 466.1l13.7 3.5 4.5-3.2-13.5-3.5z" fill="#ed6446"/><path d="M144.7 469.4l13.7 3.6 4-3.1-13.3-3.7z" fill="#ee6746"/><path d="M157.3 472.7l13.7 3.8 3.7-3.1-13.3-3.8z" fill="#ee6b46"/><path d="M170 476.2l13.6 3.5 3.4-3-13.3-3.6z" fill="#ef7046"/><path d="M182.6 479.5l13.8 3.2 3-3-13.4-3.3z" fill="#ef7646"/><path d="M195.4 482.5l13.7 3 2.7-3-13.3-3.1z" fill="#f18346"/><path d="M60.5 446.9l13.8 3.1 6.6-3.3-13.5-3.2z" fill="#ea4946"/><path d="M73 449.7l13.8 3 6.3-3.3-13.5-3z" fill="#eb5046"/><path d="M85.5 452.5l13.9 2.9 5.9-3.3-13.4-3z" fill="#eb5446"/><path d="M98.1 455.1l13.8 2.9 5.6-3.2-13.4-3z" fill="#eb5646"/><path d="M110.7 457.7l13.7 3.1 5.3-3.2-13.4-3.1z" fill="#ec5746"/><path d="M123.3 460.5l13.6 3.3 4.9-3.1-13.3-3.4z" fill="#ec5846"/><path d="M135.8 463.5l13.5 3.6 4.5-3.1-13.1-3.6z" fill="#ec5b46"/><path d="M148.2 466.8l13.4 3.7 4.2-3-13-3.8z" fill="#ec5d46"/><path d="M160.6 470.2l13.3 3.8 3.8-3-12.9-3.8z" fill="#ed6046"/><path d="M172.9 473.8l13.4 3.5 3.5-2.9-13.1-3.7z" fill="#ed6646"/><path d="M185.3 477.1l13.4 3.3 3.2-3-13.1-3.3z" fill="#ee6c46"/><path d="M197.7 480.1l13.5 3.2 2.8-2.9-13.1-3.2z" fill="#f07846"/><path d="M66.2 444.1l13.5 3.2 6.8-3.3-13.2-3.2z" fill="#e94546"/><path d="M78.4 447l13.6 3 6.4-3.2-13.2-3.1z" fill="#ea4b46"/><path d="M90.7 449.7l13.5 3 6.1-3.2-13.2-3z" fill="#ea4e46"/><path d="M102.9 452.4l13.6 3 5.7-3.1-13.2-3.1z" fill="#eb5046"/><path d="M115.2 455.1l13.5 3.1 5.4-3.1-13.1-3.1z" fill="#eb5046"/><path d="M127.5 457.9l13.3 3.4 5.1-3.1-13-3.4z" fill="#eb5146"/><path d="M139.7 461l13.2 3.6 4.7-3-12.9-3.7z" fill="#eb5346"/><path d="M151.8 464.3l13.1 3.8 4.3-3-12.7-3.8z" fill="#eb5546"/><path d="M163.9 467.8l13 3.9 4-2.9-12.7-4z" fill="#ec5746"/><path d="M175.9 471.4l13.1 3.6 3.6-2.8-12.7-3.7z" fill="#ec5b46"/><path d="M188 474.8l13.1 3.3 3.3-2.8-12.8-3.4z" fill="#ed6146"/><path d="M200.1 477.9l13.2 3.2 2.9-2.8-12.8-3.3z" fill="#ee6f46"/><path d="M72.1 441.4l13.2 3.2 6.7-3.1-12.8-3.3z" fill="#e94146"/><path d="M84 444.3l13.2 3.1 6.5-3.1-13-3.2z" fill="#e94546"/><path d="M95.9 447.1l13.3 3 6.1-3-12.9-3.1z" fill="#ea4846"/><path d="M107.9 449.8l13.2 3.1 5.8-3-12.9-3.1z" fill="#ea4946"/><path d="M119.8 452.6l13.2 3.1 5.5-3-12.8-3.1z" fill="#ea4a46"/><path d="M131.8 455.4l13 3.4 5.2-2.9-12.7-3.5z" fill="#ea4a46"/><path d="M143.7 458.5l12.9 3.7 4.8-2.9-12.6-3.7z" fill="#ea4b46"/><path d="M155.5 461.9l12.8 3.8 4.4-2.8-12.4-3.9z" fill="#ea4d46"/><path d="M167.3 465.4l12.7 4 4.1-2.8-12.4-4z" fill="#ea4f46"/><path d="M179 469.1l12.8 3.7 3.7-2.7-12.4-3.8z" fill="#eb5346"/><path d="M190.7 472.5l12.9 3.4 3.4-2.7-12.5-3.4z" fill="#ec5746"/><path d="M202.6 475.7l12.9 3.3 3.1-2.7-12.6-3.3z" fill="#ee6746"/><path d="M77.9 438.7l12.9 3.3 6.7-3.1-12.5-3.3z" fill="#e83c46"/><path d="M89.5 441.7l13 3.2 6.4-3.1-12.6-3.2z" fill="#e84046"/><path d="M101.2 444.6l12.9 3.1 6.1-3.1-12.6-3.1z" fill="#e94146"/><path d="M112.8 447.4l13 3 5.7-3-12.5-3.1z" fill="#e94346"/><path d="M124.5 450.1l12.9 3.2 5.4-2.9-12.5-3.3z" fill="#e94346"/><path d="M136.2 453l12.7 3.5 5.1-2.9-12.4-3.5z" fill="#e94346"/><path d="M147.8 456.2l12.6 3.7 4.7-2.9-12.2-3.7z" fill="#e94446"/><path d="M159.3 459.6l12.5 3.9 4.4-2.8-12.1-4z" fill="#e94546"/><path d="M170.8 463.2l12.4 4 4.1-2.8-12.1-4.1z" fill="#e94746"/><path d="M182.2 466.9l12.5 3.8 3.7-2.8-12.1-3.8z" fill="#ea4b46"/><path d="M193.6 470.4l12.6 3.5 3.4-2.7-12.2-3.6z" fill="#eb5046"/><path d="M205.2 473.6l12.6 3.4 3.1-2.7-12.3-3.4z" fill="#ed6046"/></g>
<clipPath id="cle"><polygon points="110.0,602.0 111.2,601.9 113.8,601.7 117.5,601.4 122.5,601.1 127.5,601.0 132.5,601.2 137.5,601.8 142.5,602.7 147.0,603.2 151.1,603.4 154.7,603.2 157.8,602.8 160.2,602.4 161.7,602.1 162.5,602.0 162.5,602.0 162.7,601.6 163.0,600.8 163.4,599.6 164.1,597.9 164.7,595.6 165.3,592.6 165.9,588.9 166.6,584.6 167.2,580.2 167.8,575.8 168.4,571.4 169.1,567.1 169.7,562.7 170.3,558.3 170.9,553.9 171.6,549.6 172.3,545.2 173.3,540.8 174.4,536.4 175.6,532.1 177.0,527.8 178.6,523.8 180.3,519.9 182.2,516.1 184.2,512.5 186.4,509.1 188.8,505.8 191.2,502.7 193.6,500.0 195.8,497.8 197.8,495.9 199.7,494.6 201.7,492.8 203.9,490.7 206.2,488.2 208.8,485.3 211.1,482.8 213.3,480.5 215.3,478.6 217.2,476.9 218.6,475.7 219.5,474.9 220.0,474.5 220.0,474.5 218.4,474.1 215.3,473.2 210.6,471.9 204.4,470.1 198.1,468.3 191.9,466.3 185.6,464.3 179.4,462.2 173.7,460.3 168.6,458.6 164.0,457.1 160.0,455.9 156.1,454.7 152.4,453.6 148.8,452.5 145.2,451.5 141.4,450.4 137.1,449.3 132.5,448.1 127.5,446.9 122.5,445.6 117.5,444.4 112.5,443.1 107.5,441.9 102.8,440.7 98.4,439.6 94.4,438.5 90.6,437.5 87.8,436.8 85.9,436.2 85.0,436.0 85.0,436.0 83.8,436.6 81.2,437.7 77.5,439.4 72.5,441.6 67.8,443.8 63.4,445.9 59.4,448.0 55.6,450.0 51.9,452.0 48.1,454.0 44.4,456.0 40.6,458.0 36.9,460.1 33.1,462.2 29.4,464.4 25.6,466.6 21.8,469.0 17.9,471.4 14.0,473.9 10.0,476.6 7.0,478.5 5.0,479.8 4.0,480.5 4.0,480.5 4.0,480.5 4.0,480.5 4.0,480.5 4.0,480.5 5.0,481.0 7.0,482.1 10.0,483.7 14.0,485.8 18.1,488.0 22.3,490.2 26.6,492.4 30.9,494.6 35.3,497.2 39.7,500.2 44.1,503.6 48.4,507.4 52.8,511.3 57.2,515.3 61.6,519.6 65.9,523.9 70.0,528.3 73.8,532.7 77.2,537.1 80.3,541.4 83.3,546.0 86.1,550.7 88.8,555.5 91.2,560.5 93.6,565.2 95.8,569.6 97.8,573.6 99.7,577.4 101.4,581.0 103.0,584.4 104.4,587.7 105.6,590.8 106.7,593.6 107.7,595.9 108.4,597.9 109.1,599.6 109.5,600.8 109.8,601.6 110.0,602.0"/></clipPath>
<g clip-path="url(#cle)">
<g opacity="0.25">
<line x1="39.0" y1="545.0" x2="119.0" y2="510.0" stroke="#555" stroke-width="0.60"/>
<line x1="119.0" y1="510.0" x2="222.2" y2="542.1" stroke="#555" stroke-width="0.60"/>
<line x1="38.0" y1="513.0" x2="121.0" y2="485.0" stroke="#555" stroke-width="0.60"/>
<line x1="121.0" y1="485.0" x2="223.5" y2="510.2" stroke="#555" stroke-width="0.60"/>
<line x1="37.0" y1="481.0" x2="123.0" y2="460.0" stroke="#555" stroke-width="0.60"/>
<line x1="123.0" y1="460.0" x2="224.8" y2="478.4" stroke="#555" stroke-width="0.60"/>
<line x1="65.4" y1="563.1" x2="65.4" y2="444.4" stroke="#555" stroke-width="0.60"/>
<line x1="65.4" y1="563.1" x2="168.4" y2="600.8" stroke="#555" stroke-width="0.60"/>
<line x1="90.8" y1="549.3" x2="94.7" y2="439.8" stroke="#555" stroke-width="0.60"/>
<line x1="90.8" y1="549.3" x2="194.3" y2="587.6" stroke="#555" stroke-width="0.60"/>
<line x1="137.8" y1="542.8" x2="145.2" y2="437.3" stroke="#555" stroke-width="0.60"/>
<line x1="60.5" y1="584.4" x2="137.8" y2="542.8" stroke="#555" stroke-width="0.60"/>
<line x1="158.6" y1="550.6" x2="165.4" y2="439.6" stroke="#555" stroke-width="0.60"/>
<line x1="81.0" y1="591.8" x2="158.6" y2="550.6" stroke="#555" stroke-width="0.60"/>
<line x1="179.4" y1="558.4" x2="185.6" y2="441.9" stroke="#555" stroke-width="0.60"/>
<line x1="101.5" y1="599.2" x2="179.4" y2="558.4" stroke="#555" stroke-width="0.60"/>
<line x1="200.2" y1="566.2" x2="205.8" y2="444.2" stroke="#555" stroke-width="0.60"/>
<line x1="122.0" y1="606.6" x2="200.2" y2="566.2" stroke="#555" stroke-width="0.60"/>
<line x1="40.0" y1="577.0" x2="36.0" y2="449.0" stroke="#333" stroke-width="0.70"/>
<line x1="36.0" y1="449.0" x2="125.0" y2="435.0" stroke="#333" stroke-width="0.70"/>
<line x1="125.0" y1="435.0" x2="226.0" y2="446.5" stroke="#333" stroke-width="0.70"/>
<line x1="117.0" y1="535.0" x2="125.0" y2="435.0" stroke="#333" stroke-width="0.70"/>
<line x1="40.0" y1="577.0" x2="117.0" y2="535.0" stroke="#333" stroke-width="0.70"/>
<line x1="117.0" y1="535.0" x2="221.0" y2="574.0" stroke="#333" stroke-width="0.70"/>
</g>
</g>
<g fill="#8fa8e6" stroke="#1c2a4a" stroke-width="0.60"><circle cx="89.7" cy="16.0" r="0.9"/><circle cx="95.8" cy="16.9" r="0.9"/><circle cx="101.9" cy="17.8" r="0.9"/><circle cx="107.9" cy="19.2" r="0.9"/><circle cx="114.0" cy="20.7" r="0.9"/><circle cx="119.8" cy="22.7" r="0.9"/><circle cx="125.6" cy="24.9" r="0.9"/><circle cx="131.3" cy="27.2" r="0.9"/><circle cx="136.9" cy="29.8" r="0.9"/><circle cx="142.5" cy="32.5" r="0.9"/><circle cx="148.0" cy="35.2" r="0.9"/><circle cx="153.7" cy="37.5" r="0.9"/><circle cx="159.4" cy="40.0" r="0.9"/><circle cx="164.9" cy="42.8" r="0.9"/><circle cx="170.5" cy="45.5" r="0.9"/><circle cx="176.0" cy="48.3" r="0.9"/></g>
<g fill="#ffffff" stroke="#606068" stroke-width="0.60"><circle cx="177.8" cy="49.2" r="1.4"/><circle cx="179.3" cy="50.0" r="1.4"/><circle cx="180.9" cy="50.7" r="1.4"/><circle cx="182.4" cy="51.5" r="1.4"/><circle cx="184.0" cy="52.3" r="1.4"/><circle cx="185.5" cy="53.0" r="1.4"/><circle cx="187.1" cy="53.8" r="1.4"/><circle cx="188.6" cy="54.6" r="1.4"/><circle cx="190.2" cy="55.3" r="1.4"/><circle cx="191.7" cy="56.1" r="1.4"/><circle cx="193.3" cy="56.9" r="1.4"/><circle cx="194.8" cy="57.7" r="1.4"/><circle cx="196.4" cy="58.4" r="1.4"/><circle cx="197.9" cy="59.3" r="1.4"/><circle cx="199.3" cy="60.2" r="1.4"/><circle cx="200.8" cy="61.1" r="1.4"/><circle cx="202.2" cy="62.0" r="1.4"/><circle cx="203.7" cy="63.0" r="1.4"/><circle cx="205.1" cy="63.9" r="1.4"/><circle cx="206.6" cy="64.8" r="1.4"/><circle cx="208.0" cy="65.8" r="1.4"/><circle cx="209.5" cy="66.7" r="1.4"/><circle cx="210.9" cy="67.7" r="1.4"/><circle cx="212.4" cy="68.6" r="1.4"/><circle cx="213.8" cy="69.6" r="1.4"/></g>
<g fill="#8fa8e6" stroke="#1c2a4a" stroke-width="0.60"><circle cx="75.1" cy="21.2" r="0.9"/><circle cx="81.0" cy="23.1" r="0.9"/><circle cx="87.0" cy="24.6" r="0.9"/></g>
<g fill="#8fa8e6" stroke="#1c2a4a" stroke-width="0.60"><circle cx="88.9" cy="25.3" r="0.9"/><circle cx="90.9" cy="26.0" r="0.9"/><circle cx="92.9" cy="26.6" r="0.9"/><circle cx="95.0" cy="27.3" r="0.9"/><circle cx="97.0" cy="28.0" r="0.9"/><circle cx="99.0" cy="28.6" r="0.9"/><circle cx="101.0" cy="29.3" r="0.9"/></g>
<g fill="#8fa8e6" stroke="#1c2a4a" stroke-width="0.60"><circle cx="108.3" cy="31.7" r="0.9"/><circle cx="109.0" cy="32.0" r="0.9"/></g>
<g fill="#8fa8e6" stroke="#1c2a4a" stroke-width="0.60"><circle cx="57.0" cy="31.7" r="0.9"/><circle cx="62.7" cy="33.7" r="0.9"/><circle cx="68.5" cy="35.7" r="0.9"/></g>
<g fill="#8fa8e6" stroke="#1c2a4a" stroke-width="0.60"><circle cx="71.0" cy="36.6" r="0.9"/><circle cx="72.9" cy="37.4" r="0.9"/><circle cx="74.8" cy="38.2" r="0.9"/><circle cx="76.7" cy="39.1" r="0.9"/><circle cx="78.6" cy="39.9" r="0.9"/><circle cx="80.5" cy="40.7" r="0.9"/><circle cx="82.4" cy="41.5" r="0.9"/></g>
<g fill="#8fa8e6" stroke="#1c2a4a" stroke-width="0.60"><circle cx="89.7" cy="45.5" r="0.9"/><circle cx="94.6" cy="48.0" r="0.9"/></g>
<g fill="#f4f4f4" stroke="#bbbbbb" stroke-width="0.30"><circle cx="113.6" cy="60.9" r="0.6"/><circle cx="117.2" cy="63.1" r="0.6"/><circle cx="120.8" cy="65.2" r="0.6"/><circle cx="124.4" cy="67.4" r="0.6"/><circle cx="128.0" cy="69.7" r="0.6"/><circle cx="131.5" cy="72.0" r="0.6"/><circle cx="134.9" cy="74.5" r="0.6"/><circle cx="138.3" cy="76.9" r="0.6"/><circle cx="141.8" cy="79.3" r="0.6"/></g>
<g fill="#efb8ee" stroke="#4a3560" stroke-width="0.55"><circle cx="144.7" cy="82.3" r="1.1"/><circle cx="148.8" cy="84.9" r="1.1"/><circle cx="152.9" cy="87.5" r="1.1"/><circle cx="157.0" cy="90.0" r="1.1"/></g>
<g fill="#ffffff" stroke="#606068" stroke-width="0.60"><circle cx="158.4" cy="91.0" r="1.4"/><circle cx="160.0" cy="91.9" r="1.4"/><circle cx="161.5" cy="92.8" r="1.4"/><circle cx="163.1" cy="93.7" r="1.4"/><circle cx="164.6" cy="94.6" r="1.4"/><circle cx="166.2" cy="95.5" r="1.4"/><circle cx="167.7" cy="96.5" r="1.4"/><circle cx="169.3" cy="97.4" r="1.4"/><circle cx="170.8" cy="98.3" r="1.4"/><circle cx="172.4" cy="99.2" r="1.4"/><circle cx="173.9" cy="100.1" r="1.4"/><circle cx="175.5" cy="101.0" r="1.4"/><circle cx="177.0" cy="101.9" r="1.4"/><circle cx="178.6" cy="102.8" r="1.4"/><circle cx="180.1" cy="103.7" r="1.4"/><circle cx="181.7" cy="104.6" r="1.4"/></g>
<g fill="#8fa8e6" stroke="#1c2a4a" stroke-width="0.60"><circle cx="45.1" cy="39.0" r="0.9"/><circle cx="52.4" cy="42.5" r="0.9"/><circle cx="59.7" cy="45.8" r="0.9"/></g>
<g fill="#8fa8e6" stroke="#1c2a4a" stroke-width="0.60"><circle cx="61.3" cy="46.8" r="0.9"/><circle cx="63.2" cy="47.8" r="0.9"/><circle cx="65.2" cy="48.9" r="0.9"/><circle cx="67.1" cy="49.9" r="0.9"/><circle cx="69.1" cy="51.0" r="0.9"/><circle cx="71.0" cy="52.0" r="0.9"/></g>
<g fill="#efb8ee" stroke="#4a3560" stroke-width="0.55"><circle cx="77.5" cy="56.0" r="1.1"/><circle cx="83.2" cy="59.8" r="1.1"/><circle cx="88.9" cy="63.7" r="1.1"/><circle cx="94.7" cy="67.3" r="1.1"/><circle cx="100.3" cy="71.3" r="1.1"/><circle cx="106.0" cy="75.2" r="1.1"/><circle cx="111.5" cy="79.2" r="1.1"/><circle cx="117.0" cy="83.3" r="1.1"/><circle cx="122.7" cy="87.2" r="1.1"/><circle cx="128.4" cy="91.1" r="1.1"/><circle cx="134.0" cy="95.0" r="1.1"/></g>
<g fill="#ffffff" stroke="#606068" stroke-width="0.60"><circle cx="136.0" cy="96.3" r="1.4"/><circle cx="137.6" cy="97.5" r="1.4"/><circle cx="139.2" cy="98.7" r="1.4"/><circle cx="140.8" cy="99.9" r="1.4"/><circle cx="142.4" cy="101.1" r="1.4"/><circle cx="144.1" cy="102.2" r="1.4"/><circle cx="145.8" cy="103.3" r="1.4"/><circle cx="147.4" cy="104.4" r="1.4"/><circle cx="149.0" cy="105.6" r="1.4"/><circle cx="150.6" cy="106.9" r="1.4"/><circle cx="152.2" cy="108.1" r="1.4"/><circle cx="153.8" cy="109.3" r="1.4"/><circle cx="155.3" cy="110.6" r="1.4"/><circle cx="156.7" cy="112.0" r="1.4"/><circle cx="158.2" cy="113.4" r="1.4"/><circle cx="159.7" cy="114.7" r="1.4"/><circle cx="161.2" cy="116.0" r="1.4"/><circle cx="162.7" cy="117.3" r="1.4"/><circle cx="164.2" cy="118.6" r="1.4"/><circle cx="165.8" cy="119.9" r="1.4"/><circle cx="167.1" cy="121.4" r="1.4"/><circle cx="168.4" cy="122.9" r="1.4"/><circle cx="169.7" cy="124.5" r="1.4"/><circle cx="171.0" cy="126.0" r="1.4"/></g>
<g fill="#8fa8e6" stroke="#1c2a4a" stroke-width="0.60"><circle cx="35.4" cy="49.6" r="0.9"/><circle cx="40.4" cy="52.0" r="0.9"/><circle cx="45.3" cy="54.8" r="0.9"/><circle cx="50.0" cy="57.7" r="0.9"/></g>
<g fill="#efb8ee" stroke="#4a3560" stroke-width="0.55"><circle cx="52.4" cy="59.3" r="1.1"/><circle cx="54.2" cy="60.5" r="1.1"/><circle cx="56.0" cy="61.6" r="1.1"/><circle cx="57.8" cy="62.8" r="1.1"/><circle cx="59.6" cy="64.0" r="1.1"/><circle cx="61.4" cy="65.1" r="1.1"/><circle cx="63.2" cy="66.3" r="1.1"/><circle cx="65.0" cy="67.5" r="1.1"/><circle cx="66.8" cy="68.6" r="1.1"/><circle cx="68.6" cy="69.8" r="1.1"/></g>
<g fill="#efb8ee" stroke="#4a3560" stroke-width="0.55"><circle cx="72.7" cy="73.9" r="1.1"/><circle cx="76.3" cy="76.1" r="1.1"/><circle cx="79.7" cy="78.5" r="1.1"/><circle cx="83.0" cy="81.1" r="1.1"/><circle cx="86.4" cy="83.6" r="1.1"/><circle cx="89.8" cy="86.1" r="1.1"/><circle cx="93.1" cy="88.6" r="1.1"/><circle cx="96.4" cy="91.3" r="1.1"/><circle cx="99.6" cy="94.0" r="1.1"/><circle cx="102.8" cy="96.7" r="1.1"/><circle cx="106.2" cy="99.1" r="1.1"/><circle cx="109.7" cy="101.5" r="1.1"/><circle cx="113.2" cy="103.9" r="1.1"/><circle cx="116.0" cy="107.0" r="1.1"/></g>
<g fill="#f6e6a0" stroke="#5a4a50" stroke-width="0.55"><circle cx="123.0" cy="114.0" r="1.1"/><circle cx="124.6" cy="115.7" r="1.1"/><circle cx="126.3" cy="117.3" r="1.1"/><circle cx="127.9" cy="119.0" r="1.1"/><circle cx="129.5" cy="120.6" r="1.1"/><circle cx="131.2" cy="122.2" r="1.1"/><circle cx="132.9" cy="123.9" r="1.1"/><circle cx="134.4" cy="125.6" r="1.1"/><circle cx="135.8" cy="127.5" r="1.1"/><circle cx="137.2" cy="129.3" r="1.1"/><circle cx="138.5" cy="131.2" r="1.1"/><circle cx="139.9" cy="133.1" r="1.1"/><circle cx="141.3" cy="134.9" r="1.1"/><circle cx="142.7" cy="136.8" r="1.1"/><circle cx="144.1" cy="138.7" r="1.1"/><circle cx="145.4" cy="140.6" r="1.1"/><circle cx="146.5" cy="142.6" r="1.1"/><circle cx="147.5" cy="144.7" r="1.1"/><circle cx="148.5" cy="146.8" r="1.1"/><circle cx="149.5" cy="148.9" r="1.1"/><circle cx="150.4" cy="151.1" r="1.1"/><circle cx="151.3" cy="153.2" r="1.1"/><circle cx="152.1" cy="155.4" r="1.1"/><circle cx="153.0" cy="157.5" r="1.1"/><circle cx="153.7" cy="159.7" r="1.1"/><circle cx="154.3" cy="162.0" r="1.1"/><circle cx="155.0" cy="164.2" r="1.1"/><circle cx="155.7" cy="166.4" r="1.1"/><circle cx="156.2" cy="168.7" r="1.1"/><circle cx="156.7" cy="171.0" r="1.1"/><circle cx="157.2" cy="173.2" r="1.1"/><circle cx="157.6" cy="175.5" r="1.1"/><circle cx="158.1" cy="177.8" r="1.1"/><circle cx="158.4" cy="180.1" r="1.1"/><circle cx="158.7" cy="182.4" r="1.1"/><circle cx="159.0" cy="184.7" r="1.1"/><circle cx="159.3" cy="187.0" r="1.1"/></g>
<g fill="#333" stroke="#222" stroke-width="0.30"><circle cx="24.9" cy="46.3" r="0.8"/><circle cx="24.9" cy="46.3" r="0.8"/></g>
<g fill="#333" stroke="#222" stroke-width="0.30"><circle cx="34.6" cy="37.4" r="0.8"/><circle cx="34.6" cy="37.4" r="0.8"/></g>
<g fill="#333" stroke="#222" stroke-width="0.30"><circle cx="46.7" cy="30.1" r="0.8"/><circle cx="46.7" cy="30.1" r="0.8"/></g>
<g fill="#333" stroke="#222" stroke-width="0.30"><circle cx="65.4" cy="20.9" r="0.8"/><circle cx="65.4" cy="20.9" r="0.8"/></g>
<g fill="#333" stroke="#222" stroke-width="0.30"><circle cx="80.0" cy="15.0" r="0.8"/><circle cx="80.0" cy="15.0" r="0.8"/></g>
<g fill="#333" stroke="#222" stroke-width="0.30"><circle cx="200.2" cy="88.5" r="0.8"/><circle cx="200.2" cy="88.5" r="0.8"/></g>
<polyline points="30.5,65.0 50.8,43.1 68.6,35.0 89.7,26.9 122.0,23.5" fill="none" stroke="#000" stroke-width="1.60" stroke-linejoin="round" stroke-linecap="butt"/>
<g fill="#8fa8e6" stroke="#1c2a4a" stroke-width="0.60"><circle cx="367.8" cy="27.0" r="0.9"/><circle cx="375.6" cy="28.3" r="0.9"/></g>
<g fill="#8fa8e6" stroke="#1c2a4a" stroke-width="0.60"><circle cx="375.6" cy="28.3" r="0.9"/><circle cx="377.8" cy="28.6" r="0.9"/><circle cx="380.0" cy="28.8" r="0.9"/></g>
<g fill="#8fa8e6" stroke="#1c2a4a" stroke-width="0.60"><circle cx="385.3" cy="29.3" r="0.9"/><circle cx="390.0" cy="30.2" r="0.9"/><circle cx="394.7" cy="31.0" r="0.9"/><circle cx="399.4" cy="32.1" r="0.9"/><circle cx="404.0" cy="33.2" r="0.9"/><circle cx="408.7" cy="34.4" r="0.9"/><circle cx="413.4" cy="35.4" r="0.9"/><circle cx="418.1" cy="36.4" r="0.9"/><circle cx="422.7" cy="37.6" r="0.9"/><circle cx="427.3" cy="38.9" r="0.9"/><circle cx="431.9" cy="40.3" r="0.9"/><circle cx="436.4" cy="41.7" r="0.9"/><circle cx="441.0" cy="43.2" r="0.9"/></g>
<g fill="#ffffff" stroke="#606068" stroke-width="0.60"><circle cx="443.4" cy="44.0" r="1.4"/><circle cx="445.0" cy="44.7" r="1.4"/><circle cx="446.5" cy="45.3" r="1.4"/><circle cx="448.1" cy="46.0" r="1.4"/><circle cx="449.7" cy="46.6" r="1.4"/><circle cx="451.2" cy="47.3" r="1.4"/><circle cx="452.8" cy="47.9" r="1.4"/><circle cx="454.4" cy="48.5" r="1.4"/><circle cx="456.0" cy="49.2" r="1.4"/><circle cx="457.6" cy="49.8" r="1.4"/><circle cx="459.2" cy="50.4" r="1.4"/><circle cx="460.7" cy="51.0" r="1.4"/><circle cx="462.3" cy="51.6" r="1.4"/><circle cx="463.9" cy="52.3" r="1.4"/><circle cx="465.4" cy="53.1" r="1.4"/><circle cx="466.9" cy="53.9" r="1.4"/><circle cx="468.4" cy="54.6" r="1.4"/><circle cx="470.0" cy="55.4" r="1.4"/><circle cx="471.5" cy="56.1" r="1.4"/><circle cx="473.0" cy="56.9" r="1.4"/><circle cx="474.5" cy="57.7" r="1.4"/></g>
<g fill="#f4f4f4" stroke="#bbbbbb" stroke-width="0.30"><circle cx="425.0" cy="23.5" r="0.6"/><circle cx="428.1" cy="24.1" r="0.6"/><circle cx="431.3" cy="24.6" r="0.6"/><circle cx="434.4" cy="25.2" r="0.6"/><circle cx="437.5" cy="25.7" r="0.6"/><circle cx="440.7" cy="26.3" r="0.6"/><circle cx="443.8" cy="26.9" r="0.6"/><circle cx="446.8" cy="27.8" r="0.6"/><circle cx="449.9" cy="28.7" r="0.6"/><circle cx="452.9" cy="29.7" r="0.6"/><circle cx="456.0" cy="30.6" r="0.6"/><circle cx="459.0" cy="31.5" r="0.6"/></g>
<g fill="#ffffff" stroke="#606068" stroke-width="0.60"><circle cx="460.9" cy="32.4" r="1.4"/><circle cx="462.6" cy="32.7" r="1.4"/><circle cx="464.3" cy="33.0" r="1.4"/><circle cx="466.0" cy="33.3" r="1.4"/><circle cx="467.7" cy="33.6" r="1.4"/><circle cx="469.4" cy="33.8" r="1.4"/><circle cx="471.0" cy="34.1" r="1.4"/><circle cx="472.7" cy="34.4" r="1.4"/><circle cx="474.4" cy="34.7" r="1.4"/><circle cx="476.1" cy="35.0" r="1.4"/><circle cx="477.8" cy="35.2" r="1.4"/><circle cx="479.5" cy="35.5" r="1.4"/><circle cx="481.2" cy="35.8" r="1.4"/><circle cx="482.9" cy="36.0" r="1.4"/><circle cx="484.6" cy="36.3" r="1.4"/><circle cx="486.3" cy="36.5" r="1.4"/><circle cx="488.0" cy="36.8" r="1.4"/></g>
<g fill="#8fa8e6" stroke="#1c2a4a" stroke-width="0.60"><circle cx="329.9" cy="35.2" r="0.9"/><circle cx="340.6" cy="37.1" r="0.9"/></g>
<g fill="#8fa8e6" stroke="#1c2a4a" stroke-width="0.60"><circle cx="342.5" cy="37.7" r="0.9"/><circle cx="344.8" cy="38.2" r="0.9"/><circle cx="347.0" cy="38.8" r="0.9"/><circle cx="349.3" cy="39.4" r="0.9"/><circle cx="351.6" cy="39.9" r="0.9"/><circle cx="353.8" cy="40.5" r="0.9"/><circle cx="356.1" cy="41.0" r="0.9"/></g>
<g fill="#8fa8e6" stroke="#1c2a4a" stroke-width="0.60"><circle cx="362.0" cy="41.6" r="0.9"/><circle cx="367.4" cy="43.1" r="0.9"/><circle cx="372.7" cy="44.6" r="0.9"/><circle cx="378.0" cy="46.3" r="0.9"/><circle cx="383.2" cy="48.2" r="0.9"/><circle cx="388.4" cy="50.2" r="0.9"/><circle cx="393.6" cy="52.0" r="0.9"/><circle cx="398.9" cy="53.8" r="0.9"/><circle cx="404.1" cy="55.7" r="0.9"/><circle cx="409.3" cy="57.6" r="0.9"/><circle cx="414.5" cy="59.7" r="0.9"/><circle cx="419.4" cy="62.2" r="0.9"/><circle cx="424.3" cy="64.9" r="0.9"/><circle cx="428.9" cy="67.9" r="0.9"/><circle cx="433.6" cy="71.0" r="0.9"/><circle cx="438.2" cy="74.0" r="0.9"/><circle cx="442.5" cy="77.5" r="0.9"/><circle cx="446.2" cy="81.5" r="0.9"/><circle cx="451.2" cy="84.1" r="0.9"/><circle cx="456.0" cy="86.8" r="0.9"/></g>
<g fill="#8fa8e6" stroke="#1c2a4a" stroke-width="0.60"><circle cx="318.2" cy="44.9" r="0.9"/><circle cx="328.9" cy="47.2" r="0.9"/></g>
<g fill="#8fa8e6" stroke="#1c2a4a" stroke-width="0.60"><circle cx="331.8" cy="47.8" r="0.9"/><circle cx="333.9" cy="48.3" r="0.9"/><circle cx="335.9" cy="48.8" r="0.9"/><circle cx="338.0" cy="49.3" r="0.9"/><circle cx="340.0" cy="49.8" r="0.9"/><circle cx="342.1" cy="50.3" r="0.9"/><circle cx="344.1" cy="50.8" r="0.9"/><circle cx="346.2" cy="51.3" r="0.9"/><circle cx="348.2" cy="51.8" r="0.9"/><circle cx="350.3" cy="52.3" r="0.9"/></g>
<g fill="#f4f4f4" stroke="#bbbbbb" stroke-width="0.30"><circle cx="355.2" cy="54.6" r="0.6"/><circle cx="361.1" cy="56.9" r="0.6"/><circle cx="366.8" cy="59.5" r="0.6"/></g>
<g fill="#ffffff" stroke="#606068" stroke-width="0.60"><circle cx="429.7" cy="102.4" r="1.4"/><circle cx="431.1" cy="103.7" r="1.4"/><circle cx="432.4" cy="104.9" r="1.4"/><circle cx="433.8" cy="106.2" r="1.4"/><circle cx="435.2" cy="107.4" r="1.4"/><circle cx="436.5" cy="108.7" r="1.4"/><circle cx="437.9" cy="110.0" r="1.4"/><circle cx="439.3" cy="111.2" r="1.4"/><circle cx="440.7" cy="112.5" r="1.4"/><circle cx="442.0" cy="113.7" r="1.4"/><circle cx="443.4" cy="115.0" r="1.4"/></g>
<g fill="#8fa8e6" stroke="#1c2a4a" stroke-width="0.60"><circle cx="308.5" cy="56.6" r="0.9"/><circle cx="316.2" cy="59.3" r="0.9"/><circle cx="324.0" cy="61.8" r="0.9"/></g>
<g fill="#8fa8e6" stroke="#1c2a4a" stroke-width="0.60"><circle cx="327.0" cy="62.4" r="0.9"/><circle cx="329.1" cy="63.2" r="0.9"/><circle cx="331.2" cy="64.1" r="0.9"/><circle cx="333.3" cy="64.9" r="0.9"/><circle cx="335.3" cy="65.7" r="0.9"/><circle cx="337.4" cy="66.5" r="0.9"/><circle cx="339.5" cy="67.4" r="0.9"/><circle cx="341.6" cy="68.2" r="0.9"/></g>
<g fill="#efb8ee" stroke="#4a3560" stroke-width="0.55"><circle cx="346.4" cy="70.2" r="1.1"/><circle cx="350.2" cy="73.1" r="1.1"/><circle cx="354.4" cy="75.4" r="1.1"/><circle cx="358.4" cy="78.2" r="1.1"/><circle cx="362.2" cy="81.1" r="1.1"/><circle cx="366.1" cy="83.9" r="1.1"/><circle cx="370.1" cy="86.7" r="1.1"/><circle cx="373.7" cy="89.8" r="1.1"/><circle cx="377.5" cy="92.8" r="1.1"/><circle cx="381.4" cy="95.6" r="1.1"/><circle cx="385.2" cy="98.6" r="1.1"/><circle cx="388.9" cy="101.6" r="1.1"/><circle cx="392.6" cy="104.7" r="1.1"/><circle cx="396.0" cy="108.1" r="1.1"/><circle cx="399.8" cy="111.1" r="1.1"/><circle cx="403.3" cy="114.4" r="1.1"/><circle cx="407.0" cy="117.5" r="1.1"/></g>
<g fill="#ffffff" stroke="#606068" stroke-width="0.60"><circle cx="408.3" cy="119.0" r="1.4"/><circle cx="409.6" cy="120.3" r="1.4"/><circle cx="410.9" cy="121.6" r="1.4"/><circle cx="412.2" cy="122.9" r="1.4"/><circle cx="413.6" cy="124.2" r="1.4"/><circle cx="414.8" cy="125.5" r="1.4"/><circle cx="416.1" cy="126.8" r="1.4"/><circle cx="417.3" cy="128.2" r="1.4"/><circle cx="418.6" cy="129.6" r="1.4"/><circle cx="419.9" cy="130.9" r="1.4"/><circle cx="421.2" cy="132.2" r="1.4"/><circle cx="422.5" cy="133.5" r="1.4"/><circle cx="423.8" cy="134.8" r="1.4"/><circle cx="425.1" cy="136.1" r="1.4"/><circle cx="426.4" cy="137.4" r="1.4"/><circle cx="427.7" cy="138.7" r="1.4"/><circle cx="428.9" cy="140.0" r="1.4"/><circle cx="430.2" cy="141.4" r="1.4"/><circle cx="431.5" cy="142.7" r="1.4"/><circle cx="432.7" cy="144.1" r="1.4"/><circle cx="434.0" cy="145.4" r="1.4"/></g>
<g fill="#333" stroke="#222" stroke-width="0.30"><circle cx="297.8" cy="54.6" r="0.8"/><circle cx="297.8" cy="54.6" r="0.8"/></g>
<g fill="#333" stroke="#222" stroke-width="0.30"><circle cx="307.5" cy="43.0" r="0.8"/><circle cx="307.5" cy="43.0" r="0.8"/></g>
<g fill="#333" stroke="#222" stroke-width="0.30"><circle cx="319.2" cy="33.8" r="0.8"/><circle cx="319.2" cy="33.8" r="0.8"/></g>
<g fill="#333" stroke="#222" stroke-width="0.30"><circle cx="338.2" cy="22.9" r="0.8"/><circle cx="338.2" cy="22.9" r="0.8"/></g>
<g fill="#333" stroke="#222" stroke-width="0.30"><circle cx="352.6" cy="14.3" r="0.8"/><circle cx="352.6" cy="14.3" r="0.8"/></g>
<polyline points="314.3,76.0 328.9,62.4 348.4,51.7 371.7,43.9 391.2,41.0 410.0,38.0 425.0,33.0 440.4,27.5" fill="none" stroke="#000" stroke-width="1.60" stroke-linejoin="round" stroke-linecap="butt"/>
<g fill="#8fa8e6" stroke="#1c2a4a" stroke-width="0.60"><circle cx="91.8" cy="214.3" r="0.9"/><circle cx="98.2" cy="214.7" r="0.9"/><circle cx="104.5" cy="215.7" r="0.9"/></g>
<g fill="#8fa8e6" stroke="#1c2a4a" stroke-width="0.60"><circle cx="106.4" cy="216.0" r="0.9"/><circle cx="108.7" cy="216.4" r="0.9"/><circle cx="110.9" cy="216.7" r="0.9"/><circle cx="113.2" cy="217.1" r="0.9"/><circle cx="115.5" cy="217.5" r="0.9"/><circle cx="117.7" cy="217.8" r="0.9"/><circle cx="120.0" cy="218.2" r="0.9"/></g>
<g fill="#8fa8e6" stroke="#1c2a4a" stroke-width="0.60"><circle cx="130.3" cy="219.6" r="0.9"/><circle cx="135.8" cy="220.5" r="0.9"/><circle cx="141.1" cy="222.1" r="0.9"/><circle cx="146.4" cy="223.6" r="0.9"/><circle cx="151.7" cy="225.4" r="0.9"/></g>
<g fill="#f4f4f4" stroke="#bbbbbb" stroke-width="0.30"><circle cx="158.0" cy="228.0" r="0.6"/><circle cx="161.4" cy="229.5" r="0.6"/><circle cx="164.7" cy="231.1" r="0.6"/><circle cx="168.1" cy="232.6" r="0.6"/><circle cx="171.4" cy="234.3" r="0.6"/><circle cx="174.5" cy="236.2" r="0.6"/><circle cx="177.7" cy="238.2" r="0.6"/><circle cx="180.8" cy="240.1" r="0.6"/><circle cx="184.0" cy="242.0" r="0.6"/></g>
<g fill="#ffffff" stroke="#606068" stroke-width="0.60"><circle cx="186.7" cy="243.9" r="1.4"/><circle cx="188.2" cy="244.9" r="1.4"/><circle cx="189.7" cy="245.8" r="1.4"/><circle cx="191.2" cy="246.8" r="1.4"/><circle cx="192.7" cy="247.7" r="1.4"/><circle cx="194.1" cy="248.7" r="1.4"/><circle cx="195.6" cy="249.6" r="1.4"/><circle cx="197.1" cy="250.6" r="1.4"/><circle cx="198.5" cy="251.6" r="1.4"/><circle cx="200.0" cy="252.7" r="1.4"/><circle cx="201.4" cy="253.7" r="1.4"/><circle cx="202.8" cy="254.8" r="1.4"/><circle cx="204.2" cy="255.8" r="1.4"/><circle cx="205.7" cy="256.9" r="1.4"/><circle cx="207.1" cy="257.9" r="1.4"/></g>
<g fill="#8fa8e6" stroke="#1c2a4a" stroke-width="0.60"><circle cx="81.1" cy="219.0" r="0.9"/><circle cx="86.9" cy="220.0" r="0.9"/><circle cx="92.8" cy="221.0" r="0.9"/></g>
<g fill="#8fa8e6" stroke="#1c2a4a" stroke-width="0.60"><circle cx="94.8" cy="221.5" r="0.9"/><circle cx="97.1" cy="221.8" r="0.9"/><circle cx="99.3" cy="222.2" r="0.9"/><circle cx="101.6" cy="222.5" r="0.9"/><circle cx="103.9" cy="222.8" r="0.9"/><circle cx="106.1" cy="223.2" r="0.9"/><circle cx="108.4" cy="223.5" r="0.9"/></g>
<g fill="#8fa8e6" stroke="#1c2a4a" stroke-width="0.60"><circle cx="115.2" cy="224.5" r="0.9"/><circle cx="120.6" cy="225.3" r="0.9"/><circle cx="125.9" cy="226.6" r="0.9"/><circle cx="131.2" cy="228.1" r="0.9"/><circle cx="136.3" cy="230.1" r="0.9"/><circle cx="141.3" cy="232.2" r="0.9"/><circle cx="146.3" cy="234.5" r="0.9"/><circle cx="151.2" cy="236.8" r="0.9"/><circle cx="156.1" cy="239.3" r="0.9"/><circle cx="160.7" cy="242.3" r="0.9"/><circle cx="165.3" cy="245.1" r="0.9"/><circle cx="170.0" cy="248.0" r="0.9"/></g>
<g fill="#ffffff" stroke="#606068" stroke-width="0.60"><circle cx="171.1" cy="248.8" r="1.4"/><circle cx="172.5" cy="249.8" r="1.4"/><circle cx="173.8" cy="250.9" r="1.4"/><circle cx="175.2" cy="251.9" r="1.4"/><circle cx="176.6" cy="252.9" r="1.4"/><circle cx="177.9" cy="253.9" r="1.4"/><circle cx="179.3" cy="255.0" r="1.4"/><circle cx="180.7" cy="256.0" r="1.4"/><circle cx="182.0" cy="257.0" r="1.4"/><circle cx="183.4" cy="258.1" r="1.4"/><circle cx="184.7" cy="259.1" r="1.4"/><circle cx="186.0" cy="260.3" r="1.4"/><circle cx="187.3" cy="261.4" r="1.4"/><circle cx="188.6" cy="262.5" r="1.4"/><circle cx="189.9" cy="263.6" r="1.4"/><circle cx="191.2" cy="264.7" r="1.4"/><circle cx="192.5" cy="265.8" r="1.4"/><circle cx="193.8" cy="267.0" r="1.4"/><circle cx="195.1" cy="268.1" r="1.4"/><circle cx="196.4" cy="269.2" r="1.4"/></g>
<g fill="#8fa8e6" stroke="#1c2a4a" stroke-width="0.60"><circle cx="62.7" cy="233.2" r="0.9"/><circle cx="73.4" cy="235.5" r="0.9"/></g>
<g fill="#8fa8e6" stroke="#1c2a4a" stroke-width="0.60"><circle cx="76.3" cy="236.1" r="0.9"/><circle cx="78.6" cy="236.5" r="0.9"/><circle cx="80.8" cy="236.9" r="0.9"/><circle cx="83.1" cy="237.3" r="0.9"/><circle cx="85.4" cy="237.7" r="0.9"/><circle cx="87.6" cy="238.1" r="0.9"/><circle cx="89.9" cy="238.5" r="0.9"/></g>
<g fill="#8fa8e6" stroke="#1c2a4a" stroke-width="0.60"><circle cx="96.7" cy="240.0" r="0.9"/><circle cx="102.5" cy="241.0" r="0.9"/></g>
<g fill="#8fa8e6" stroke="#1c2a4a" stroke-width="0.60"><circle cx="106.4" cy="242.0" r="0.9"/><circle cx="108.4" cy="242.7" r="0.9"/><circle cx="110.3" cy="243.3" r="0.9"/><circle cx="112.2" cy="244.0" r="0.9"/><circle cx="114.2" cy="244.6" r="0.9"/><circle cx="116.1" cy="245.2" r="0.9"/><circle cx="118.1" cy="245.9" r="0.9"/></g>
<g fill="#8fa8e6" stroke="#1c2a4a" stroke-width="0.60"><circle cx="124.0" cy="248.8" r="0.9"/><circle cx="129.0" cy="251.3" r="0.9"/><circle cx="133.3" cy="254.7" r="0.9"/><circle cx="137.8" cy="258.0" r="0.9"/><circle cx="142.2" cy="261.4" r="0.9"/><circle cx="146.5" cy="264.9" r="0.9"/><circle cx="150.7" cy="268.5" r="0.9"/><circle cx="154.8" cy="272.3" r="0.9"/></g>
<g fill="#ffffff" stroke="#606068" stroke-width="0.60"><circle cx="155.6" cy="273.1" r="1.4"/><circle cx="156.8" cy="274.4" r="1.4"/><circle cx="158.0" cy="275.7" r="1.4"/><circle cx="159.2" cy="277.0" r="1.4"/><circle cx="160.4" cy="278.3" r="1.4"/><circle cx="161.6" cy="279.6" r="1.4"/><circle cx="162.7" cy="280.9" r="1.4"/><circle cx="163.8" cy="282.3" r="1.4"/><circle cx="164.9" cy="283.7" r="1.4"/><circle cx="166.0" cy="285.0" r="1.4"/><circle cx="167.1" cy="286.4" r="1.4"/><circle cx="168.2" cy="287.8" r="1.4"/><circle cx="169.3" cy="289.2" r="1.4"/><circle cx="170.4" cy="290.6" r="1.4"/><circle cx="171.5" cy="291.9" r="1.4"/><circle cx="172.6" cy="293.3" r="1.4"/><circle cx="173.7" cy="294.7" r="1.4"/><circle cx="174.8" cy="296.1" r="1.4"/><circle cx="175.8" cy="297.5" r="1.4"/><circle cx="176.9" cy="298.9" r="1.4"/><circle cx="178.0" cy="300.3" r="1.4"/></g>
<g fill="#8fa8e6" stroke="#1c2a4a" stroke-width="0.60"><circle cx="51.0" cy="243.0" r="0.9"/><circle cx="56.3" cy="244.7" r="0.9"/><circle cx="61.7" cy="245.9" r="0.9"/></g>
<g fill="#8fa8e6" stroke="#1c2a4a" stroke-width="0.60"><circle cx="64.6" cy="246.4" r="0.9"/><circle cx="66.7" cy="246.8" r="0.9"/><circle cx="68.8" cy="247.2" r="0.9"/><circle cx="70.9" cy="247.6" r="0.9"/><circle cx="73.1" cy="248.0" r="0.9"/><circle cx="75.2" cy="248.4" r="0.9"/><circle cx="77.3" cy="248.8" r="0.9"/></g>
<g fill="#8fa8e6" stroke="#1c2a4a" stroke-width="0.60"><circle cx="84.0" cy="250.1" r="0.9"/><circle cx="94.8" cy="253.6" r="0.9"/></g>
<g fill="#8fa8e6" stroke="#1c2a4a" stroke-width="0.60"><circle cx="96.7" cy="254.6" r="0.9"/><circle cx="98.6" cy="255.4" r="0.9"/><circle cx="100.6" cy="256.2" r="0.9"/><circle cx="102.5" cy="256.9" r="0.9"/><circle cx="104.5" cy="257.7" r="0.9"/><circle cx="106.4" cy="258.5" r="0.9"/></g>
<g fill="#8fa8e6" stroke="#1c2a4a" stroke-width="0.60"><circle cx="109.9" cy="260.4" r="0.9"/><circle cx="112.3" cy="261.4" r="0.9"/></g>
<g fill="#efb8ee" stroke="#4a3560" stroke-width="0.55"><circle cx="114.2" cy="262.4" r="1.1"/><circle cx="115.9" cy="263.6" r="1.1"/><circle cx="117.6" cy="264.9" r="1.1"/><circle cx="119.3" cy="266.1" r="1.1"/><circle cx="121.0" cy="267.3" r="1.1"/></g>
<g fill="#efb8ee" stroke="#4a3560" stroke-width="0.55"><circle cx="124.5" cy="271.1" r="1.1"/><circle cx="128.7" cy="274.5" r="1.1"/><circle cx="132.6" cy="278.4" r="1.1"/><circle cx="136.4" cy="282.2" r="1.1"/><circle cx="139.8" cy="286.4" r="1.1"/><circle cx="143.2" cy="290.7" r="1.1"/><circle cx="146.1" cy="295.2" r="1.1"/><circle cx="148.9" cy="299.9" r="1.1"/><circle cx="151.7" cy="304.5" r="1.1"/><circle cx="154.5" cy="309.2" r="1.1"/><circle cx="157.0" cy="314.0" r="1.1"/><circle cx="159.5" cy="318.8" r="1.1"/></g>
<g fill="#8fa8e6" stroke="#1c2a4a" stroke-width="0.60"><circle cx="41.3" cy="256.6" r="0.9"/><circle cx="47.1" cy="258.3" r="0.9"/><circle cx="53.0" cy="259.9" r="0.9"/></g>
<g fill="#8fa8e6" stroke="#1c2a4a" stroke-width="0.60"><circle cx="54.9" cy="260.4" r="0.9"/><circle cx="57.2" cy="260.9" r="0.9"/><circle cx="59.6" cy="261.4" r="0.9"/><circle cx="61.9" cy="262.0" r="0.9"/><circle cx="64.3" cy="262.5" r="0.9"/><circle cx="66.6" cy="263.0" r="0.9"/></g>
<g fill="#efb8ee" stroke="#4a3560" stroke-width="0.55"><circle cx="74.3" cy="265.7" r="1.1"/><circle cx="85.0" cy="269.6" r="1.1"/></g>
<g fill="#efb8ee" stroke="#4a3560" stroke-width="0.55"><circle cx="88.0" cy="271.1" r="1.1"/><circle cx="90.1" cy="272.6" r="1.1"/><circle cx="92.2" cy="274.0" r="1.1"/><circle cx="94.3" cy="275.5" r="1.1"/><circle cx="96.4" cy="277.0" r="1.1"/><circle cx="98.5" cy="278.4" r="1.1"/><circle cx="100.6" cy="279.9" r="1.1"/></g>
<g fill="#efb8ee" stroke="#4a3560" stroke-width="0.55"><circle cx="106.4" cy="283.8" r="1.1"/><circle cx="110.3" cy="287.1" r="1.1"/><circle cx="114.0" cy="290.5" r="1.1"/><circle cx="117.1" cy="294.5" r="1.1"/><circle cx="120.0" cy="298.6" r="1.1"/><circle cx="122.9" cy="302.8" r="1.1"/><circle cx="125.5" cy="307.2" r="1.1"/><circle cx="128.0" cy="311.6" r="1.1"/><circle cx="130.6" cy="316.0" r="1.1"/><circle cx="132.4" cy="320.6" r="1.1"/><circle cx="133.6" cy="325.5" r="1.1"/><circle cx="134.8" cy="330.5" r="1.1"/><circle cx="135.9" cy="335.4" r="1.1"/><circle cx="137.1" cy="340.4" r="1.1"/><circle cx="138.5" cy="345.2" r="1.1"/><circle cx="139.9" cy="350.1" r="1.1"/><circle cx="141.3" cy="355.0" r="1.1"/></g>
<g fill="#f6e6a0" stroke="#5a4a50" stroke-width="0.55"><circle cx="141.3" cy="355.0" r="1.1"/><circle cx="142.5" cy="360.0" r="1.1"/><circle cx="143.8" cy="364.9" r="1.1"/><circle cx="145.0" cy="369.9" r="1.1"/><circle cx="146.0" cy="374.9" r="1.1"/><circle cx="147.0" cy="380.0" r="1.1"/><circle cx="148.0" cy="385.0" r="1.1"/><circle cx="149.0" cy="390.0" r="1.1"/></g>
<g fill="#8fa8e6" stroke="#1c2a4a" stroke-width="0.60"><circle cx="30.6" cy="255.2" r="0.9"/><circle cx="30.6" cy="255.2" r="0.9"/></g>
<g fill="#8fa8e6" stroke="#1c2a4a" stroke-width="0.60"><circle cx="40.3" cy="241.0" r="0.9"/><circle cx="40.3" cy="241.0" r="0.9"/></g>
<g fill="#8fa8e6" stroke="#1c2a4a" stroke-width="0.60"><circle cx="51.0" cy="231.3" r="0.9"/><circle cx="51.0" cy="231.3" r="0.9"/></g>
<g fill="#8fa8e6" stroke="#1c2a4a" stroke-width="0.60"><circle cx="71.4" cy="218.2" r="0.9"/><circle cx="71.4" cy="218.2" r="0.9"/></g>
<polyline points="51.0,278.0 66.6,262.4 96.7,243.0 124.0,227.4 146.5,219.2" fill="none" stroke="#000" stroke-width="1.60" stroke-linejoin="round" stroke-linecap="butt"/>
<g fill="#8fa8e6" stroke="#1c2a4a" stroke-width="0.60"><circle cx="353.2" cy="219.5" r="0.9"/><circle cx="353.2" cy="219.5" r="0.9"/></g>
<g fill="#8fa8e6" stroke="#1c2a4a" stroke-width="0.60"><circle cx="364.8" cy="220.9" r="0.9"/><circle cx="368.4" cy="221.4" r="0.9"/><circle cx="371.9" cy="222.0" r="0.9"/><circle cx="375.5" cy="222.5" r="0.9"/></g>
<g fill="#8fa8e6" stroke="#1c2a4a" stroke-width="0.60"><circle cx="392.0" cy="224.0" r="0.9"/><circle cx="394.2" cy="224.4" r="0.9"/><circle cx="396.5" cy="224.8" r="0.9"/><circle cx="398.7" cy="225.1" r="0.9"/><circle cx="400.9" cy="225.5" r="0.9"/><circle cx="403.1" cy="225.9" r="0.9"/><circle cx="405.4" cy="226.3" r="0.9"/><circle cx="407.6" cy="226.6" r="0.9"/><circle cx="409.8" cy="227.1" r="0.9"/><circle cx="412.0" cy="227.6" r="0.9"/><circle cx="414.2" cy="228.0" r="0.9"/><circle cx="416.4" cy="228.5" r="0.9"/><circle cx="418.6" cy="229.0" r="0.9"/><circle cx="420.9" cy="229.4" r="0.9"/><circle cx="423.1" cy="229.9" r="0.9"/><circle cx="425.3" cy="230.4" r="0.9"/><circle cx="427.5" cy="230.8" r="0.9"/><circle cx="429.7" cy="231.3" r="0.9"/></g>
<g fill="#ffffff" stroke="#606068" stroke-width="0.60"><circle cx="435.6" cy="233.2" r="1.4"/><circle cx="437.2" cy="233.8" r="1.4"/><circle cx="438.9" cy="234.4" r="1.4"/><circle cx="440.5" cy="234.9" r="1.4"/><circle cx="442.1" cy="235.5" r="1.4"/><circle cx="443.7" cy="236.1" r="1.4"/><circle cx="445.4" cy="236.7" r="1.4"/><circle cx="447.0" cy="237.2" r="1.4"/><circle cx="448.6" cy="237.8" r="1.4"/><circle cx="450.3" cy="238.4" r="1.4"/><circle cx="451.9" cy="239.0" r="1.4"/><circle cx="453.5" cy="239.6" r="1.4"/><circle cx="455.1" cy="240.2" r="1.4"/><circle cx="456.7" cy="240.9" r="1.4"/><circle cx="458.3" cy="241.5" r="1.4"/><circle cx="459.9" cy="242.1" r="1.4"/><circle cx="461.6" cy="242.7" r="1.4"/><circle cx="463.2" cy="243.4" r="1.4"/><circle cx="464.8" cy="244.0" r="1.4"/><circle cx="466.4" cy="244.6" r="1.4"/><circle cx="468.0" cy="245.3" r="1.4"/><circle cx="469.6" cy="245.9" r="1.4"/></g>
<g fill="#f4f4f4" stroke="#bbbbbb" stroke-width="0.30"><circle cx="424.0" cy="219.6" r="0.6"/><circle cx="427.0" cy="220.1" r="0.6"/><circle cx="430.0" cy="220.6" r="0.6"/><circle cx="433.0" cy="221.1" r="0.6"/><circle cx="436.0" cy="221.7" r="0.6"/><circle cx="439.0" cy="222.2" r="0.6"/><circle cx="442.0" cy="222.8" r="0.6"/><circle cx="445.0" cy="223.3" r="0.6"/><circle cx="448.0" cy="223.9" r="0.6"/><circle cx="451.0" cy="224.5" r="0.6"/></g>
<g fill="#ffffff" stroke="#606068" stroke-width="0.60"><circle cx="453.1" cy="226.0" r="1.4"/><circle cx="454.8" cy="226.5" r="1.4"/><circle cx="456.6" cy="227.0" r="1.4"/><circle cx="458.3" cy="227.5" r="1.4"/><circle cx="460.0" cy="228.0" r="1.4"/><circle cx="461.7" cy="228.5" r="1.4"/><circle cx="463.5" cy="229.0" r="1.4"/><circle cx="465.2" cy="229.5" r="1.4"/><circle cx="466.9" cy="230.0" r="1.4"/><circle cx="468.6" cy="230.6" r="1.4"/><circle cx="470.3" cy="231.3" r="1.4"/><circle cx="471.9" cy="231.9" r="1.4"/><circle cx="473.6" cy="232.6" r="1.4"/><circle cx="475.3" cy="233.2" r="1.4"/><circle cx="477.0" cy="233.9" r="1.4"/><circle cx="478.6" cy="234.5" r="1.4"/><circle cx="480.3" cy="235.2" r="1.4"/></g>
<g fill="#f4f4f4" stroke="#bbbbbb" stroke-width="0.30"><circle cx="323.0" cy="249.7" r="0.6"/><circle cx="327.5" cy="250.8" r="0.6"/><circle cx="332.1" cy="251.8" r="0.6"/><circle cx="336.6" cy="252.9" r="0.6"/><circle cx="341.2" cy="253.9" r="0.6"/><circle cx="345.7" cy="254.9" r="0.6"/><circle cx="350.3" cy="255.9" r="0.6"/></g>
<g fill="#8fa8e6" stroke="#1c2a4a" stroke-width="0.60"><circle cx="356.1" cy="257.1" r="0.9"/><circle cx="361.5" cy="258.4" r="0.9"/><circle cx="366.8" cy="259.7" r="0.9"/><circle cx="372.2" cy="261.0" r="0.9"/><circle cx="377.5" cy="262.3" r="0.9"/><circle cx="382.7" cy="264.0" r="0.9"/><circle cx="388.0" cy="265.8" r="0.9"/><circle cx="393.0" cy="268.0" r="0.9"/><circle cx="398.0" cy="270.3" r="0.9"/><circle cx="403.0" cy="272.5" r="0.9"/><circle cx="407.9" cy="275.1" r="0.9"/><circle cx="412.7" cy="277.7" r="0.9"/><circle cx="417.5" cy="280.4" r="0.9"/><circle cx="422.1" cy="283.5" r="0.9"/><circle cx="426.8" cy="286.3" r="0.9"/></g>
<g fill="#f4f4f4" stroke="#bbbbbb" stroke-width="0.30"><circle cx="391.0" cy="248.7" r="0.6"/><circle cx="394.1" cy="249.1" r="0.6"/><circle cx="397.2" cy="249.5" r="0.6"/><circle cx="400.2" cy="249.9" r="0.6"/><circle cx="403.3" cy="250.3" r="0.6"/><circle cx="406.4" cy="250.7" r="0.6"/></g>
<g fill="#8fa8e6" stroke="#1c2a4a" stroke-width="0.60"><circle cx="406.4" cy="251.7" r="0.9"/><circle cx="411.4" cy="253.6" r="0.9"/><circle cx="416.5" cy="255.3" r="0.9"/><circle cx="421.6" cy="257.0" r="0.9"/><circle cx="426.5" cy="259.0" r="0.9"/></g>
<g fill="#ffffff" stroke="#606068" stroke-width="0.60"><circle cx="427.8" cy="259.5" r="1.4"/><circle cx="429.4" cy="260.3" r="1.4"/><circle cx="431.0" cy="261.2" r="1.4"/><circle cx="432.6" cy="262.0" r="1.4"/><circle cx="434.2" cy="262.9" r="1.4"/><circle cx="435.7" cy="263.7" r="1.4"/><circle cx="437.3" cy="264.6" r="1.4"/><circle cx="438.9" cy="265.4" r="1.4"/><circle cx="440.5" cy="266.3" r="1.4"/><circle cx="442.0" cy="267.3" r="1.4"/><circle cx="443.5" cy="268.3" r="1.4"/><circle cx="445.0" cy="269.2" r="1.4"/><circle cx="446.6" cy="270.2" r="1.4"/><circle cx="448.1" cy="271.2" r="1.4"/><circle cx="449.6" cy="272.1" r="1.4"/><circle cx="451.1" cy="273.1" r="1.4"/></g>
<g fill="#8fa8e6" stroke="#1c2a4a" stroke-width="0.60"><circle cx="302.6" cy="266.2" r="0.9"/><circle cx="302.6" cy="266.2" r="0.9"/></g>
<g fill="#8fa8e6" stroke="#1c2a4a" stroke-width="0.60"><circle cx="313.3" cy="269.1" r="0.9"/><circle cx="320.6" cy="270.8" r="0.9"/><circle cx="327.9" cy="272.5" r="0.9"/></g>
<g fill="#8fa8e6" stroke="#1c2a4a" stroke-width="0.60"><circle cx="329.8" cy="273.0" r="0.9"/><circle cx="331.9" cy="273.5" r="0.9"/><circle cx="334.1" cy="274.0" r="0.9"/><circle cx="336.2" cy="274.4" r="0.9"/><circle cx="338.4" cy="274.9" r="0.9"/><circle cx="340.5" cy="275.4" r="0.9"/></g>
<g fill="#8fa8e6" stroke="#1c2a4a" stroke-width="0.60"><circle cx="346.4" cy="276.9" r="0.9"/><circle cx="355.1" cy="279.3" r="0.9"/></g>
<g fill="#8fa8e6" stroke="#1c2a4a" stroke-width="0.60"><circle cx="357.0" cy="279.8" r="0.9"/><circle cx="359.2" cy="280.5" r="0.9"/><circle cx="361.3" cy="281.2" r="0.9"/><circle cx="363.5" cy="281.8" r="0.9"/><circle cx="365.6" cy="282.5" r="0.9"/><circle cx="367.8" cy="283.2" r="0.9"/></g>
<g fill="#8fa8e6" stroke="#1c2a4a" stroke-width="0.60"><circle cx="372.6" cy="284.7" r="0.9"/><circle cx="375.5" cy="286.3" r="0.9"/></g>
<g fill="#8fa8e6" stroke="#1c2a4a" stroke-width="0.60"><circle cx="377.5" cy="287.0" r="0.9"/><circle cx="379.4" cy="287.9" r="0.9"/><circle cx="381.4" cy="288.7" r="0.9"/><circle cx="383.3" cy="289.6" r="0.9"/></g>
<g fill="#efb8ee" stroke="#4a3560" stroke-width="0.55"><circle cx="387.2" cy="291.5" r="1.1"/><circle cx="391.3" cy="293.7" r="1.1"/><circle cx="395.3" cy="296.2" r="1.1"/><circle cx="398.9" cy="299.1" r="1.1"/><circle cx="402.6" cy="302.0" r="1.1"/><circle cx="406.1" cy="305.1" r="1.1"/><circle cx="409.5" cy="308.3" r="1.1"/></g>
<g fill="#ffffff" stroke="#606068" stroke-width="0.60"><circle cx="410.3" cy="309.0" r="1.4"/><circle cx="411.5" cy="310.2" r="1.4"/><circle cx="412.7" cy="311.5" r="1.4"/><circle cx="413.8" cy="312.7" r="1.4"/><circle cx="415.0" cy="313.9" r="1.4"/><circle cx="416.2" cy="315.2" r="1.4"/><circle cx="417.4" cy="316.4" r="1.4"/><circle cx="418.6" cy="317.6" r="1.4"/><circle cx="419.9" cy="318.8" r="1.4"/><circle cx="421.1" cy="320.0" r="1.4"/><circle cx="422.3" cy="321.2" r="1.4"/><circle cx="423.5" cy="322.3" r="1.4"/><circle cx="424.5" cy="323.7" r="1.4"/><circle cx="425.4" cy="325.2" r="1.4"/><circle cx="426.3" cy="326.6" r="1.4"/><circle cx="427.2" cy="328.1" r="1.4"/><circle cx="428.1" cy="329.5" r="1.4"/><circle cx="429.0" cy="331.0" r="1.4"/></g>
<g fill="#8fa8e6" stroke="#1c2a4a" stroke-width="0.60"><circle cx="439.5" cy="297.4" r="0.9"/><circle cx="439.5" cy="297.4" r="0.9"/></g>
<polyline points="357.0,304.2 367.8,284.7 385.3,265.3 408.0,249.7 433.6,234.2 456.0,222.5" fill="none" stroke="#000" stroke-width="1.60" stroke-linejoin="round" stroke-linecap="butt"/>
<defs><radialGradient id="sph" cx="0.38" cy="0.35" r="0.7"><stop offset="0" stop-color="#fff"/><stop offset="0.4" stop-color="#9ab0c8"/><stop offset="1" stop-color="#1a2836"/></radialGradient></defs>
<g fill="url(#sph)"><circle cx="19.5" cy="470.5" r="1.9"/><circle cx="35.4" cy="461.1" r="1.9"/><circle cx="50.2" cy="453.0" r="1.9"/><circle cx="65.2" cy="445.6" r="1.9"/><circle cx="77.8" cy="439.7" r="1.9"/><circle cx="105.0" cy="447.9" r="1.9"/><circle cx="91.0" cy="454.9" r="1.9"/><circle cx="111.3" cy="461.1" r="1.9"/><circle cx="77.2" cy="462.7" r="1.9"/><circle cx="97.3" cy="470.5" r="1.9"/><circle cx="114.8" cy="476.7" r="1.9"/><circle cx="69.6" cy="475.7" r="1.9"/><circle cx="46.7" cy="484.1" r="1.9"/><circle cx="99.8" cy="488.8" r="1.9"/><circle cx="67.7" cy="496.5" r="1.9"/><circle cx="84.4" cy="508.4" r="1.9"/><circle cx="99.2" cy="520.5" r="1.9"/><circle cx="111.9" cy="536.6" r="1.9"/><circle cx="120.2" cy="444.7" r="1.9"/><circle cx="149.7" cy="452.8" r="1.9"/><circle cx="172.4" cy="459.5" r="1.9"/><circle cx="191.0" cy="464.8" r="1.9"/><circle cx="206.6" cy="470.0" r="1.9"/><circle cx="219.8" cy="474.7" r="1.9"/><circle cx="125.6" cy="454.2" r="1.9"/><circle cx="142.5" cy="458.4" r="1.9"/><circle cx="156.2" cy="462.7" r="1.9"/><circle cx="168.2" cy="466.9" r="1.9"/><circle cx="179.8" cy="470.0" r="1.9"/><circle cx="190.3" cy="472.8" r="1.9"/><circle cx="199.2" cy="475.9" r="1.9"/><circle cx="207.6" cy="478.9" r="1.9"/><circle cx="213.1" cy="480.6" r="1.9"/><circle cx="128.6" cy="466.9" r="1.9"/><circle cx="142.9" cy="472.1" r="1.9"/><circle cx="155.6" cy="475.9" r="1.9"/><circle cx="166.7" cy="480.1" r="1.9"/><circle cx="177.1" cy="484.4" r="1.9"/><circle cx="186.1" cy="487.5" r="1.9"/><circle cx="194.5" cy="491.7" r="1.9"/><circle cx="200.2" cy="494.3" r="1.9"/><circle cx="129.2" cy="482.7" r="1.9"/><circle cx="141.9" cy="487.9" r="1.9"/><circle cx="153.0" cy="493.2" r="1.9"/><circle cx="162.9" cy="498.5" r="1.9"/><circle cx="186.5" cy="515.3" r="1.9"/><circle cx="142.5" cy="516.8" r="1.9"/><circle cx="172.0" cy="553.3" r="1.9"/><circle cx="127.5" cy="569.0" r="1.9"/></g>
<text x="6.3" y="23.0" font-family="'Liberation Sans',sans-serif" font-size="23.0" text-anchor="start" fill="#000"   >(a)</text>
<text x="284.5" y="16.5" font-family="'Liberation Sans',sans-serif" font-size="23.0" text-anchor="start" fill="#000"   >(b)</text>
<text x="10.3" y="225.0" font-family="'Liberation Sans',sans-serif" font-size="23.0" text-anchor="start" fill="#000"   >(c)</text>
<text x="280.3" y="238.5" font-family="'Liberation Sans',sans-serif" font-size="23.0" text-anchor="start" fill="#000"   >(d)</text>
<text x="7.5" y="427.0" font-family="'Liberation Sans',sans-serif" font-size="23.0" text-anchor="start" fill="#000"   >(e)</text>
<line x1="217.7" y1="136.2" x2="220.7" y2="136.5" stroke="#555" stroke-width="0.80"/>
<text transform="translate(219.5,141.7) skewY(7)" font-family="'Liberation Serif',serif" font-size="10" fill="#222" textLength="22.0" lengthAdjust="spacingAndGlyphs">1E-02</text>
<line x1="218.6" y1="105.4" x2="221.6" y2="105.7" stroke="#555" stroke-width="0.80"/>
<text transform="translate(221.3,110.9) skewY(7)" font-family="'Liberation Serif',serif" font-size="10" fill="#222" textLength="22.0" lengthAdjust="spacingAndGlyphs">1E-01</text>
<line x1="219.6" y1="74.1" x2="222.6" y2="74.4" stroke="#555" stroke-width="0.80"/>
<text transform="translate(223.2,79.6) skewY(7)" font-family="'Liberation Serif',serif" font-size="10" fill="#222" textLength="24.5" lengthAdjust="spacingAndGlyphs">1E+00</text>
<line x1="220.5" y1="42.8" x2="223.5" y2="43.1" stroke="#555" stroke-width="0.80"/>
<text transform="translate(225.0,48.3) skewY(7)" font-family="'Liberation Serif',serif" font-size="10" fill="#222" textLength="24.5" lengthAdjust="spacingAndGlyphs">1E+01</text>
<text transform="translate(259.8,128.0) rotate(-86)" font-family="'Liberation Serif',serif" font-style="italic" font-size="15" fill="#111" textLength="76" lengthAdjust="spacingAndGlyphs">J<tspan font-size="10" dy="3">c</tspan><tspan dy="-3"> (MA/cm</tspan><tspan font-size="10" dy="-5">2</tspan><tspan dy="5">)</tspan></text>
<text transform="matrix(0.943,0.332,0.525,0.77,27.0,161.5)" font-family="'Liberation Serif',serif" font-style="italic" font-size="20" fill="#111" textLength="83" lengthAdjust="spacingAndGlyphs">μ<tspan font-size="13" dy="4">0</tspan><tspan dy="-4">H||c (T)</tspan></text>
<text transform="matrix(0.904,-0.427,0.974,0.434,210.0,175.5)" font-family="'Liberation Serif',serif" font-style="italic" font-size="18" fill="#111" textLength="33" lengthAdjust="spacingAndGlyphs">T (K)</text>
<text transform="matrix(0.943,0.332,-0.89,0.457,203.3,145.6)" font-family="'Liberation Serif',serif" font-size="11.5" fill="#222">20</text>
<text transform="matrix(0.943,0.332,-0.89,0.457,190.9,152.7)" font-family="'Liberation Serif',serif" font-size="11.5" fill="#222">40</text>
<text transform="matrix(0.943,0.332,-0.89,0.457,176.6,159.8)" font-family="'Liberation Serif',serif" font-size="11.5" fill="#222">60</text>
<text transform="matrix(0.943,0.332,-0.89,0.457,162.3,167.6)" font-family="'Liberation Serif',serif" font-size="11.5" fill="#222">80</text>
<text transform="matrix(0.943,0.332,-0.89,0.457,149.9,179.1)" font-family="'Liberation Serif',serif" font-size="11.5" fill="#222">100</text>
<line x1="145.0" y1="173.0" x2="147.8" y2="174.0" stroke="#555" stroke-width="0.80"/>
<line x1="159.5" y1="165.6" x2="162.3" y2="166.6" stroke="#555" stroke-width="0.80"/>
<line x1="174.1" y1="158.3" x2="176.9" y2="159.3" stroke="#555" stroke-width="0.80"/>
<line x1="188.6" y1="150.9" x2="191.4" y2="151.9" stroke="#555" stroke-width="0.80"/>
<line x1="203.2" y1="143.6" x2="206.0" y2="144.6" stroke="#555" stroke-width="0.80"/>
<line x1="55.3" y1="140.6" x2="52.8" y2="141.9" stroke="#555" stroke-width="0.80"/>
<line x1="100.2" y1="156.8" x2="97.7" y2="158.1" stroke="#555" stroke-width="0.80"/>
<line x1="145.0" y1="173.0" x2="142.5" y2="174.3" stroke="#555" stroke-width="0.80"/>
<text transform="matrix(0.89,-0.457,0.943,0.332,44.0,147.7)" font-family="'Liberation Serif',serif" font-size="8.5" fill="#222">0.1</text>
<text transform="matrix(0.89,-0.457,0.943,0.332,92.0,159.5)" font-family="'Liberation Serif',serif" font-size="8.5" fill="#222">1</text>
<text transform="matrix(0.89,-0.457,0.943,0.332,135.5,180.0)" font-family="'Liberation Serif',serif" font-size="8.5" fill="#222">10</text>
<line x1="490.0" y1="134.0" x2="493.0" y2="134.3" stroke="#555" stroke-width="0.80"/>
<text transform="translate(491.8,139.5) skewY(7)" font-family="'Liberation Serif',serif" font-size="10" fill="#222" textLength="22.0" lengthAdjust="spacingAndGlyphs">1E-01</text>
<line x1="491.6" y1="90.2" x2="494.6" y2="90.5" stroke="#555" stroke-width="0.80"/>
<text transform="translate(494.7,95.7) skewY(7)" font-family="'Liberation Serif',serif" font-size="10" fill="#222" textLength="24.5" lengthAdjust="spacingAndGlyphs">1E+00</text>
<line x1="493.1" y1="48.0" x2="496.1" y2="48.3" stroke="#555" stroke-width="0.80"/>
<text transform="translate(497.5,53.5) skewY(7)" font-family="'Liberation Serif',serif" font-size="10" fill="#222" textLength="24.5" lengthAdjust="spacingAndGlyphs">1E+01</text>
<text transform="translate(532.5,130.5) rotate(-86)" font-family="'Liberation Serif',serif" font-style="italic" font-size="15" fill="#111" textLength="84" lengthAdjust="spacingAndGlyphs">J<tspan font-size="10" dy="3">c</tspan><tspan dy="-3"> (MA/cm</tspan><tspan font-size="10" dy="-5">2</tspan><tspan dy="5">)</tspan></text>
<text transform="matrix(0.943,0.332,0.525,0.77,299.0,157.0)" font-family="'Liberation Serif',serif" font-style="italic" font-size="20" fill="#111" textLength="91" lengthAdjust="spacingAndGlyphs">μ<tspan font-size="13" dy="4">0</tspan><tspan dy="-4">H||ab (T)</tspan></text>
<text transform="matrix(0.904,-0.427,0.974,0.434,484.0,173.5)" font-family="'Liberation Serif',serif" font-style="italic" font-size="18" fill="#111" textLength="33" lengthAdjust="spacingAndGlyphs">T (K)</text>
<text transform="matrix(0.943,0.332,-0.89,0.457,477.3,143.6)" font-family="'Liberation Serif',serif" font-size="11.5" fill="#222">20</text>
<text transform="matrix(0.943,0.332,-0.89,0.457,464.9,150.7)" font-family="'Liberation Serif',serif" font-size="11.5" fill="#222">40</text>
<text transform="matrix(0.943,0.332,-0.89,0.457,450.6,157.8)" font-family="'Liberation Serif',serif" font-size="11.5" fill="#222">60</text>
<text transform="matrix(0.943,0.332,-0.89,0.457,436.3,165.6)" font-family="'Liberation Serif',serif" font-size="11.5" fill="#222">80</text>
<text transform="matrix(0.943,0.332,-0.89,0.457,423.9,177.1)" font-family="'Liberation Serif',serif" font-size="11.5" fill="#222">100</text>
<line x1="419.0" y1="171.0" x2="421.8" y2="172.0" stroke="#555" stroke-width="0.80"/>
<line x1="433.2" y1="163.6" x2="436.0" y2="164.6" stroke="#555" stroke-width="0.80"/>
<line x1="447.4" y1="156.2" x2="450.2" y2="157.2" stroke="#555" stroke-width="0.80"/>
<line x1="461.6" y1="148.8" x2="464.4" y2="149.8" stroke="#555" stroke-width="0.80"/>
<line x1="475.8" y1="141.4" x2="478.6" y2="142.4" stroke="#555" stroke-width="0.80"/>
<line x1="329.3" y1="138.6" x2="326.8" y2="139.9" stroke="#555" stroke-width="0.80"/>
<line x1="374.1" y1="154.8" x2="371.6" y2="156.1" stroke="#555" stroke-width="0.80"/>
<line x1="419.0" y1="171.0" x2="416.5" y2="172.3" stroke="#555" stroke-width="0.80"/>
<text transform="matrix(0.89,-0.457,0.943,0.332,318.0,145.7)" font-family="'Liberation Serif',serif" font-size="8.5" fill="#222">0.1</text>
<text transform="matrix(0.89,-0.457,0.943,0.332,366.0,157.5)" font-family="'Liberation Serif',serif" font-size="8.5" fill="#222">1</text>
<text transform="matrix(0.89,-0.457,0.943,0.332,409.5,178.0)" font-family="'Liberation Serif',serif" font-size="8.5" fill="#222">10</text>
<line x1="212.3" y1="339.3" x2="215.3" y2="339.6" stroke="#555" stroke-width="0.80"/>
<text transform="translate(214.1,344.8) skewY(7)" font-family="'Liberation Serif',serif" font-size="10" fill="#222" textLength="22.0" lengthAdjust="spacingAndGlyphs">1E-02</text>
<line x1="213.8" y1="308.7" x2="216.8" y2="309.0" stroke="#555" stroke-width="0.80"/>
<text transform="translate(216.5,314.2) skewY(7)" font-family="'Liberation Serif',serif" font-size="10" fill="#222" textLength="22.0" lengthAdjust="spacingAndGlyphs">1E-01</text>
<line x1="215.2" y1="277.5" x2="218.2" y2="277.8" stroke="#555" stroke-width="0.80"/>
<text transform="translate(218.8,283.0) skewY(7)" font-family="'Liberation Serif',serif" font-size="10" fill="#222" textLength="24.5" lengthAdjust="spacingAndGlyphs">1E+00</text>
<line x1="216.7" y1="246.4" x2="219.7" y2="246.7" stroke="#555" stroke-width="0.80"/>
<text transform="translate(221.2,251.9) skewY(7)" font-family="'Liberation Serif',serif" font-size="10" fill="#222" textLength="24.5" lengthAdjust="spacingAndGlyphs">1E+01</text>
<text transform="translate(255.8,335.5) rotate(-86)" font-family="'Liberation Serif',serif" font-style="italic" font-size="15" fill="#111" textLength="78" lengthAdjust="spacingAndGlyphs">J<tspan font-size="10" dy="3">c</tspan><tspan dy="-3"> (MA/cm</tspan><tspan font-size="10" dy="-5">2</tspan><tspan dy="5">)</tspan></text>
<text transform="matrix(0.943,0.332,0.525,0.77,22.7,365.3)" font-family="'Liberation Serif',serif" font-style="italic" font-size="20" fill="#111" textLength="83" lengthAdjust="spacingAndGlyphs">μ<tspan font-size="13" dy="4">0</tspan><tspan dy="-4">H||c (T)</tspan></text>
<text transform="matrix(0.904,-0.427,0.974,0.434,205.7,379.3)" font-family="'Liberation Serif',serif" font-style="italic" font-size="18" fill="#111" textLength="33" lengthAdjust="spacingAndGlyphs">T (K)</text>
<text transform="matrix(0.943,0.332,-0.89,0.457,199.0,349.4)" font-family="'Liberation Serif',serif" font-size="11.5" fill="#222">20</text>
<text transform="matrix(0.943,0.332,-0.89,0.457,186.6,356.5)" font-family="'Liberation Serif',serif" font-size="11.5" fill="#222">40</text>
<text transform="matrix(0.943,0.332,-0.89,0.457,172.3,363.6)" font-family="'Liberation Serif',serif" font-size="11.5" fill="#222">60</text>
<text transform="matrix(0.943,0.332,-0.89,0.457,158.0,371.4)" font-family="'Liberation Serif',serif" font-size="11.5" fill="#222">80</text>
<text transform="matrix(0.943,0.332,-0.89,0.457,145.6,382.9)" font-family="'Liberation Serif',serif" font-size="11.5" fill="#222">100</text>
<line x1="140.7" y1="376.8" x2="143.5" y2="377.8" stroke="#555" stroke-width="0.80"/>
<line x1="155.0" y1="369.3" x2="157.8" y2="370.3" stroke="#555" stroke-width="0.80"/>
<line x1="169.3" y1="361.8" x2="172.1" y2="362.8" stroke="#555" stroke-width="0.80"/>
<line x1="183.7" y1="354.3" x2="186.5" y2="355.3" stroke="#555" stroke-width="0.80"/>
<line x1="198.0" y1="346.8" x2="200.8" y2="347.8" stroke="#555" stroke-width="0.80"/>
<line x1="51.0" y1="344.4" x2="48.5" y2="345.7" stroke="#555" stroke-width="0.80"/>
<line x1="95.8" y1="360.6" x2="93.3" y2="361.9" stroke="#555" stroke-width="0.80"/>
<line x1="140.7" y1="376.8" x2="138.2" y2="378.1" stroke="#555" stroke-width="0.80"/>
<text transform="matrix(0.89,-0.457,0.943,0.332,39.7,351.5)" font-family="'Liberation Serif',serif" font-size="8.5" fill="#222">0.1</text>
<text transform="matrix(0.89,-0.457,0.943,0.332,87.7,363.3)" font-family="'Liberation Serif',serif" font-size="8.5" fill="#222">1</text>
<text transform="matrix(0.89,-0.457,0.943,0.332,131.2,383.8)" font-family="'Liberation Serif',serif" font-size="8.5" fill="#222">10</text>
<line x1="485.2" y1="339.5" x2="488.2" y2="339.8" stroke="#555" stroke-width="0.80"/>
<text transform="translate(487.0,345.0) skewY(7)" font-family="'Liberation Serif',serif" font-size="10" fill="#222" textLength="22.0" lengthAdjust="spacingAndGlyphs">1E-01</text>
<line x1="486.5" y1="295.5" x2="489.5" y2="295.8" stroke="#555" stroke-width="0.80"/>
<text transform="translate(489.6,301.0) skewY(7)" font-family="'Liberation Serif',serif" font-size="10" fill="#222" textLength="24.5" lengthAdjust="spacingAndGlyphs">1E+00</text>
<line x1="487.8" y1="253.2" x2="490.8" y2="253.5" stroke="#555" stroke-width="0.80"/>
<text transform="translate(492.1,258.7) skewY(7)" font-family="'Liberation Serif',serif" font-size="10" fill="#222" textLength="24.5" lengthAdjust="spacingAndGlyphs">1E+01</text>
<text transform="translate(528.5,334.5) rotate(-86)" font-family="'Liberation Serif',serif" font-style="italic" font-size="15" fill="#111" textLength="81" lengthAdjust="spacingAndGlyphs">J<tspan font-size="10" dy="3">c</tspan><tspan dy="-3"> (MA/cm</tspan><tspan font-size="10" dy="-5">2</tspan><tspan dy="5">)</tspan></text>
<text transform="matrix(0.943,0.332,0.525,0.77,297.0,360.3)" font-family="'Liberation Serif',serif" font-style="italic" font-size="20" fill="#111" textLength="98" lengthAdjust="spacingAndGlyphs">μ<tspan font-size="13" dy="4">0</tspan><tspan dy="-4">H||ab (T)</tspan></text>
<text transform="matrix(0.904,-0.427,0.974,0.434,477.5,378.8)" font-family="'Liberation Serif',serif" font-style="italic" font-size="18" fill="#111" textLength="33" lengthAdjust="spacingAndGlyphs">T (K)</text>
<text transform="matrix(0.943,0.332,-0.89,0.457,470.8,348.9)" font-family="'Liberation Serif',serif" font-size="11.5" fill="#222">20</text>
<text transform="matrix(0.943,0.332,-0.89,0.457,458.4,356.0)" font-family="'Liberation Serif',serif" font-size="11.5" fill="#222">40</text>
<text transform="matrix(0.943,0.332,-0.89,0.457,444.1,363.1)" font-family="'Liberation Serif',serif" font-size="11.5" fill="#222">60</text>
<text transform="matrix(0.943,0.332,-0.89,0.457,429.8,370.9)" font-family="'Liberation Serif',serif" font-size="11.5" fill="#222">80</text>
<text transform="matrix(0.943,0.332,-0.89,0.457,417.4,382.4)" font-family="'Liberation Serif',serif" font-size="11.5" fill="#222">100</text>
<line x1="412.5" y1="376.3" x2="415.3" y2="377.3" stroke="#555" stroke-width="0.80"/>
<line x1="427.0" y1="368.9" x2="429.8" y2="369.9" stroke="#555" stroke-width="0.80"/>
<line x1="441.6" y1="361.6" x2="444.4" y2="362.6" stroke="#555" stroke-width="0.80"/>
<line x1="456.1" y1="354.2" x2="458.9" y2="355.2" stroke="#555" stroke-width="0.80"/>
<line x1="470.7" y1="346.9" x2="473.5" y2="347.9" stroke="#555" stroke-width="0.80"/>
<line x1="322.8" y1="343.9" x2="320.3" y2="345.2" stroke="#555" stroke-width="0.80"/>
<line x1="367.6" y1="360.1" x2="365.1" y2="361.4" stroke="#555" stroke-width="0.80"/>
<line x1="412.5" y1="376.3" x2="410.0" y2="377.6" stroke="#555" stroke-width="0.80"/>
<text transform="matrix(0.89,-0.457,0.943,0.332,311.5,351.0)" font-family="'Liberation Serif',serif" font-size="8.5" fill="#222">0.1</text>
<text transform="matrix(0.89,-0.457,0.943,0.332,359.5,362.8)" font-family="'Liberation Serif',serif" font-size="8.5" fill="#222">1</text>
<text transform="matrix(0.89,-0.457,0.943,0.332,403.0,383.3)" font-family="'Liberation Serif',serif" font-size="8.5" fill="#222">10</text>
<text x="29" y="86" font-family="'Liberation Serif',serif" font-weight="bold" font-size="15" fill="#111">μ<tspan font-size="10" dy="3">0</tspan><tspan dy="-3">H*</tspan></text>
<line x1="34.6" y1="66.0" x2="34.6" y2="76.0" stroke="#111" stroke-width="0.90"/>
<line x1="221.0" y1="574.0" x2="224.0" y2="574.3" stroke="#555" stroke-width="0.80"/>
<text transform="translate(225.5,580.5) skewY(7)" font-family="'Liberation Serif',serif" font-size="12" fill="#222" textLength="24.5" lengthAdjust="spacingAndGlyphs">1E-03</text>
<line x1="222.2" y1="542.1" x2="225.2" y2="542.4" stroke="#555" stroke-width="0.80"/>
<text transform="translate(226.8,548.6) skewY(7)" font-family="'Liberation Serif',serif" font-size="12" fill="#222" textLength="24.5" lengthAdjust="spacingAndGlyphs">1E-02</text>
<line x1="223.5" y1="510.2" x2="226.5" y2="510.6" stroke="#555" stroke-width="0.80"/>
<text transform="translate(228.0,516.8) skewY(7)" font-family="'Liberation Serif',serif" font-size="12" fill="#222" textLength="24.5" lengthAdjust="spacingAndGlyphs">1E-01</text>
<line x1="224.8" y1="478.4" x2="227.8" y2="478.7" stroke="#555" stroke-width="0.80"/>
<text transform="translate(229.2,484.9) skewY(7)" font-family="'Liberation Serif',serif" font-size="12" fill="#222" textLength="27.5" lengthAdjust="spacingAndGlyphs">1E+00</text>
<line x1="226.0" y1="446.5" x2="229.0" y2="446.8" stroke="#555" stroke-width="0.80"/>
<text transform="translate(230.5,453.0) skewY(7)" font-family="'Liberation Serif',serif" font-size="12" fill="#222" textLength="27.5" lengthAdjust="spacingAndGlyphs">1E+01</text>
<text transform="translate(266.8,569) rotate(-85)" font-family="'Liberation Serif',serif" font-size="15.5" fill="#111" textLength="92" lengthAdjust="spacingAndGlyphs"><tspan font-style="italic">J</tspan><tspan font-size="11" dy="3">c</tspan><tspan dy="-3"> (MA/cm</tspan><tspan font-size="11" dy="-6">2</tspan><tspan dy="6">)</tspan></text>
<text transform="translate(26.5,605.5) rotate(19.5)" font-family="'Liberation Serif',serif" font-style="italic" font-size="18" fill="#111" textLength="88" lengthAdjust="spacingAndGlyphs">μ<tspan font-size="12" dy="4">0</tspan><tspan dy="-4">H||c (T)</tspan></text>
<text transform="translate(190,624) rotate(-29)" font-family="'Liberation Serif',serif" font-style="italic" font-size="19" fill="#111" textLength="40" lengthAdjust="spacingAndGlyphs">T (K)</text>
<text transform="translate(32.5,585.8) rotate(4)" font-family="'Liberation Serif',serif" font-size="11.5" fill="#222" text-anchor="middle">10</text>
<text transform="translate(61.0,597.8) rotate(4)" font-family="'Liberation Serif',serif" font-size="11.5" fill="#222" text-anchor="middle">15</text>
<text transform="translate(85.0,605.8) rotate(4)" font-family="'Liberation Serif',serif" font-size="11.5" fill="#222" text-anchor="middle">20</text>
<text transform="translate(102.5,612.8) rotate(4)" font-family="'Liberation Serif',serif" font-size="11.5" fill="#222" text-anchor="middle">25</text>
<text transform="translate(117.5,618.8) rotate(4)" font-family="'Liberation Serif',serif" font-size="11.5" fill="#222" text-anchor="middle">30</text>
<text transform="translate(131.0,623.8) rotate(4)" font-family="'Liberation Serif',serif" font-size="11.5" fill="#222" text-anchor="middle">35</text>
<text transform="translate(207.5,591.8) rotate(3)" font-family="'Liberation Serif',serif" font-size="11.5" fill="#222" text-anchor="middle">20</text>
<text transform="translate(180.0,605.8) rotate(3)" font-family="'Liberation Serif',serif" font-size="11.5" fill="#222" text-anchor="middle">40</text>
<text transform="translate(152.5,621.3) rotate(3)" font-family="'Liberation Serif',serif" font-size="11.5" fill="#222" text-anchor="middle">60</text>
<defs>
<linearGradient id="cb1" x1="0" y1="0" x2="0" y2="1"><stop offset="0.000" stop-color="#ff0000"/><stop offset="0.155" stop-color="#ff8800"/><stop offset="0.280" stop-color="#ffee00"/><stop offset="0.420" stop-color="#22ee00"/><stop offset="0.600" stop-color="#00eeff"/><stop offset="0.770" stop-color="#0044ff"/><stop offset="0.900" stop-color="#5500ff"/><stop offset="1.000" stop-color="#9900ff"/></linearGradient>
<linearGradient id="cb2" x1="0" y1="0" x2="0" y2="1"><stop offset="0.000" stop-color="#ff0000"/><stop offset="0.070" stop-color="#ff1800"/><stop offset="0.180" stop-color="#ff8000"/><stop offset="0.300" stop-color="#ffee00"/><stop offset="0.435" stop-color="#20f000"/><stop offset="0.590" stop-color="#00f0ff"/><stop offset="0.795" stop-color="#0030ff"/><stop offset="0.900" stop-color="#5000ff"/><stop offset="1.000" stop-color="#a000ff"/></linearGradient>
</defs>
<rect x="573.4" y="110.3" width="15.8" height="174.7" fill="url(#cb1)" stroke="#9cc" stroke-width="0.6"/>
<line x1="589.2" y1="111.0" x2="592.0" y2="111.0" stroke="#345" stroke-width="0.80"/>
<text x="596.0" y="113.7" font-family="'Liberation Serif',serif" font-size="8.0" text-anchor="start" fill="#111" font-weight="bold"  >10^2</text>
<line x1="589.2" y1="142.4" x2="592.0" y2="142.4" stroke="#345" stroke-width="0.80"/>
<text x="596.0" y="145.1" font-family="'Liberation Serif',serif" font-size="8.0" text-anchor="start" fill="#111" font-weight="bold"  >10^1</text>
<line x1="589.2" y1="173.9" x2="592.0" y2="173.9" stroke="#345" stroke-width="0.80"/>
<text x="596.0" y="176.6" font-family="'Liberation Serif',serif" font-size="8.0" text-anchor="start" fill="#111" font-weight="bold"  >10^0</text>
<line x1="589.2" y1="205.3" x2="592.0" y2="205.3" stroke="#345" stroke-width="0.80"/>
<text x="596.0" y="208.0" font-family="'Liberation Serif',serif" font-size="8.0" text-anchor="start" fill="#111" font-weight="bold"  >10^-1</text>
<line x1="589.2" y1="236.8" x2="592.0" y2="236.8" stroke="#345" stroke-width="0.80"/>
<text x="596.0" y="239.5" font-family="'Liberation Serif',serif" font-size="8.0" text-anchor="start" fill="#111" font-weight="bold"  >10^-2</text>
<line x1="589.2" y1="268.2" x2="592.0" y2="268.2" stroke="#345" stroke-width="0.80"/>
<text x="596.0" y="270.9" font-family="'Liberation Serif',serif" font-size="8.0" text-anchor="start" fill="#111" font-weight="bold"  >10^-3</text>
<text x="570.3" y="99" font-family="'Liberation Serif',serif" font-weight="bold" font-size="9" fill="#111" textLength="44" lengthAdjust="spacingAndGlyphs"><tspan font-style="italic">J</tspan><tspan font-size="6" dy="1.2">c</tspan><tspan dy="-1.2"> (MA/cm</tspan><tspan font-size="6" dy="-3">2</tspan><tspan dy="3">)</tspan></text>
<rect x="284.3" y="433.8" width="18.4" height="194.8" fill="url(#cb2)"/>
<line x1="302.7" y1="460.9" x2="305.0" y2="460.9" stroke="#468" stroke-width="0.80"/>
<text x="309.5" y="465.7" font-family="'Liberation Serif',serif" font-size="15" fill="#111">10<tspan font-size="9.5" dy="-6">0</tspan></text>
<line x1="302.7" y1="517.5" x2="305.0" y2="517.5" stroke="#468" stroke-width="0.80"/>
<text x="309.5" y="522.3" font-family="'Liberation Serif',serif" font-size="15" fill="#111">10<tspan font-size="9.5" dy="-6">-1</tspan></text>
<line x1="302.7" y1="572.5" x2="305.0" y2="572.5" stroke="#468" stroke-width="0.80"/>
<text x="309.5" y="577.3" font-family="'Liberation Serif',serif" font-size="15" fill="#111">10<tspan font-size="9.5" dy="-6">-2</tspan></text>
<line x1="302.7" y1="626.0" x2="305.0" y2="626.0" stroke="#468" stroke-width="0.80"/>
<text x="309.5" y="630.8" font-family="'Liberation Serif',serif" font-size="15" fill="#111">10<tspan font-size="9.5" dy="-6">-3</tspan></text>
<text x="267" y="424" font-family="'Liberation Serif',serif" font-weight="bold" font-size="13" fill="#111" textLength="65" lengthAdjust="spacingAndGlyphs"><tspan font-style="italic">J</tspan><tspan font-size="9" dy="2.5">c</tspan><tspan dy="-2.5"> (MA/cm</tspan><tspan font-size="9" dy="-5">2</tspan><tspan dy="5">)</tspan></text>
</svg></body></html>
